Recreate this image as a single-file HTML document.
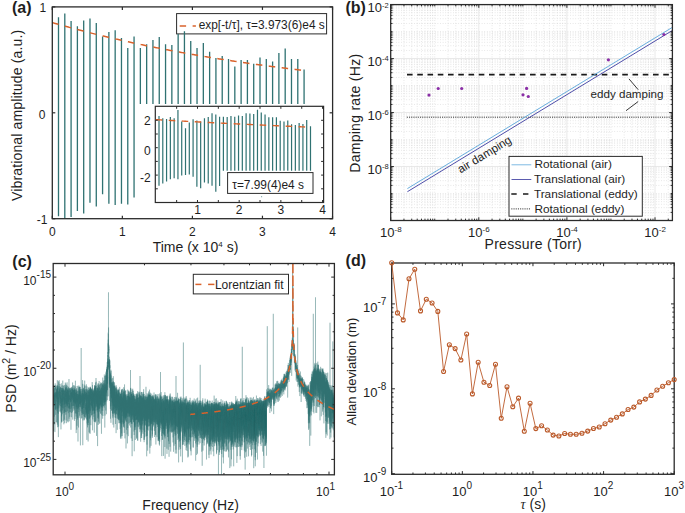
<!DOCTYPE html><html><head><meta charset="utf-8"><title>figure</title><style>html,body{margin:0;padding:0;background:#fff;width:685px;height:513px;overflow:hidden}svg{display:block}text{font-family:"Liberation Sans",sans-serif;fill:#1e1e1e}</style></head><body>
<svg width="685" height="513" viewBox="0 0 685 513">
<rect width="685" height="513" fill="#fff"/>
<rect x="176.6" y="13.6" width="150" height="20.3" fill="#fff" stroke="#2b2b2b" stroke-width="1"/>
<line x1="179.7" y1="26" x2="186.1" y2="26" stroke="#d9622b" stroke-width="1.5"/>
<line x1="192.6" y1="26" x2="195.9" y2="26" stroke="#d9622b" stroke-width="1.5"/>
<text x="198.7" y="29.4" font-size="11.9" text-anchor="start">exp[-t/τ], τ=3.973(6)e4 s</text>
<path d="M58.5 17.3V216.2M64.8 13.6V218.3M71.09 20.9V217.1M77.39 26.2V211M83.69 20.6V213.4M89.98 18.5V202.7M96.28 23V206.5M102.58 36.6V194.2M108.88 32.1V203.8M115.17 30.2V204.9M121.47 38.1V203.8M127.77 47.9V204.6M134.06 36.6V197.4M140.36 47.9V104M146.66 44.2V104M152.95 39.9V104M159.25 37.1V104M165.55 44.2V104M171.85 45V104M178.14 34V104M184.44 31.2V104M190.74 41V104M197.03 47.9V104M203.33 43V104M209.63 51.7V104M215.92 58.1V104M222.22 55.9V104M228.52 59.1V104M234.82 66.6V104M241.11 60V104M247.41 60.1V104M253.71 63.8V104M260 57.4V104M266.3 59V104M272.6 61.6V104M278.89 53V104M285.19 48.4V104M291.49 59V104M297.79 59V104M304.08 69.4V104" stroke="#2f7272" stroke-width="1.3" fill="none"/>
<polyline points="52.3,22.59 53.3,22.88 54.3,23.16 55.3,23.45 56.3,23.74 57.3,24.02 58.3,24.3 59.3,24.59 60.3,24.87 61.3,25.15 62.3,25.43 63.3,25.71 64.3,25.98 65.3,26.26 66.3,26.54 67.3,26.81 68.3,27.08 69.3,27.36 70.3,27.63 71.3,27.9 72.3,28.17 73.3,28.44 74.3,28.71 75.3,28.97 76.3,29.24 77.3,29.5 78.3,29.77 79.3,30.03 80.3,30.29 81.3,30.55 82.3,30.81 83.3,31.07 84.3,31.33 85.3,31.59 86.3,31.84 87.3,32.1 88.3,32.35 89.3,32.61 90.3,32.86 91.3,33.11 92.3,33.36 93.3,33.61 94.3,33.86 95.3,34.11 96.3,34.36 97.3,34.6 98.3,34.85 99.3,35.09 100.3,35.34 101.3,35.58 102.3,35.82 103.3,36.06 104.3,36.31 105.3,36.54 106.3,36.78 107.3,37.02 108.3,37.26 109.3,37.49 110.3,37.73 111.3,37.96 112.3,38.2 113.3,38.43 114.3,38.66 115.3,38.89 116.3,39.12 117.3,39.35 118.3,39.58 119.3,39.81 120.3,40.04 121.3,40.26 122.3,40.49 123.3,40.71 124.3,40.93 125.3,41.16 126.3,41.38 127.3,41.6 128.3,41.82 129.3,42.04 130.3,42.26 131.3,42.48 132.3,42.7 133.3,42.91 134.3,43.13 135.3,43.34 136.3,43.56 137.3,43.77 138.3,43.98 139.3,44.19 140.3,44.41 141.3,44.62 142.3,44.83 143.3,45.03 144.3,45.24 145.3,45.45 146.3,45.66 147.3,45.86 148.3,46.07 149.3,46.27 150.3,46.48 151.3,46.68 152.3,46.88 153.3,47.08 154.3,47.28 155.3,47.48 156.3,47.68 157.3,47.88 158.3,48.08 159.3,48.28 160.3,48.47 161.3,48.67 162.3,48.86 163.3,49.06 164.3,49.25 165.3,49.45 166.3,49.64 167.3,49.83 168.3,50.02 169.3,50.21 170.3,50.4 171.3,50.59 172.3,50.78 173.3,50.96 174.3,51.15 175.3,51.34 176.3,51.52 177.3,51.71 178.3,51.89 179.3,52.08 180.3,52.26 181.3,52.44 182.3,52.62 183.3,52.8 184.3,52.98 185.3,53.16 186.3,53.34 187.3,53.52 188.3,53.7 189.3,53.87 190.3,54.05 191.3,54.23 192.3,54.4 193.3,54.58 194.3,54.75 195.3,54.92 196.3,55.1 197.3,55.27 198.3,55.44 199.3,55.61 200.3,55.78 201.3,55.95 202.3,56.12 203.3,56.29 204.3,56.46 205.3,56.62 206.3,56.79 207.3,56.95 208.3,57.12 209.3,57.28 210.3,57.45 211.3,57.61 212.3,57.78 213.3,57.94 214.3,58.1 215.3,58.26 216.3,58.42 217.3,58.58 218.3,58.74 219.3,58.9 220.3,59.06 221.3,59.22 222.3,59.37 223.3,59.53 224.3,59.69 225.3,59.84 226.3,60 227.3,60.15 228.3,60.3 229.3,60.46 230.3,60.61 231.3,60.76 232.3,60.91 233.3,61.07 234.3,61.22 235.3,61.37 236.3,61.52 237.3,61.66 238.3,61.81 239.3,61.96 240.3,62.11 241.3,62.26 242.3,62.4 243.3,62.55 244.3,62.69 245.3,62.84 246.3,62.98 247.3,63.13 248.3,63.27 249.3,63.41 250.3,63.55 251.3,63.7 252.3,63.84 253.3,63.98 254.3,64.12 255.3,64.26 256.3,64.4 257.3,64.53 258.3,64.67 259.3,64.81 260.3,64.95 261.3,65.08 262.3,65.22 263.3,65.36 264.3,65.49 265.3,65.63 266.3,65.76 267.3,65.89 268.3,66.03 269.3,66.16 270.3,66.29 271.3,66.42 272.3,66.55 273.3,66.69 274.3,66.82 275.3,66.95 276.3,67.08 277.3,67.2 278.3,67.33 279.3,67.46 280.3,67.59 281.3,67.72 282.3,67.84 283.3,67.97 284.3,68.09 285.3,68.22 286.3,68.34 287.3,68.47 288.3,68.59 289.3,68.72 290.3,68.84 291.3,68.96 292.3,69.08 293.3,69.21 294.3,69.33 295.3,69.45 296.3,69.57 297.3,69.69 298.3,69.81 299.3,69.93 300.3,70.05 301.3,70.17 302.3,70.28 303.3,70.4 304.3,70.52" fill="none" stroke="#d9622b" stroke-width="1.5" stroke-dasharray="6.5 6.5"/>
<rect x="155.3" y="106.3" width="168.3" height="96.2" fill="#fff" stroke="#2b2b2b" stroke-width="1.2"/>
<path d="M159 116.1V185.7M162.79 118.2V183.6M166.57 118.9V181.4M170.36 117.1V179.3M174.15 118.2V178.2M177.94 110.1V179.3M181.72 121.4V175.4M185.51 128.3V175M189.3 122.5V174.6M193.09 119.3V176.7M196.88 120.4V186.8M200.66 121.4V188.3M204.45 118.2V182.5M208.24 117.1V183.6M212.03 113.3V185.7M215.81 114.4V191.7M219.6 116.7V186.1M223.39 116.7V170.7M227.18 117.1V170.7M230.96 116.1V170.7M234.75 116.7V170.7M238.54 115.5V170.7M242.32 116.1V170.7M246.11 113.3V170.7M249.9 113.5V170.7M253.69 114V170.7M257.48 109.7V170.7M261.26 112.4V170.7M265.05 114.4V170.7M268.84 117.2V170.7M272.62 117.2V170.7M276.41 117.2V170.7M280.2 120.8V170.7M283.99 121.5V170.7M287.77 120.4V170.7M291.56 124.2V170.7M295.35 125.1V170.7M299.14 123V170.7M302.93 124V170.7M306.71 120V170.7M310.5 126.2V170.7" stroke="#2f7272" stroke-width="1.2" fill="none"/>
<polyline points="155.8,119.61 156.8,119.67 157.8,119.73 158.8,119.79 159.8,119.84 160.8,119.9 161.8,119.96 162.8,120.01 163.8,120.07 164.8,120.12 165.8,120.18 166.8,120.24 167.8,120.29 168.8,120.35 169.8,120.4 170.8,120.46 171.8,120.51 172.8,120.57 173.8,120.62 174.8,120.68 175.8,120.73 176.8,120.79 177.8,120.84 178.8,120.9 179.8,120.95 180.8,121.01 181.8,121.06 182.8,121.11 183.8,121.17 184.8,121.22 185.8,121.28 186.8,121.33 187.8,121.38 188.8,121.44 189.8,121.49 190.8,121.54 191.8,121.6 192.8,121.65 193.8,121.7 194.8,121.76 195.8,121.81 196.8,121.86 197.8,121.91 198.8,121.97 199.8,122.02 200.8,122.07 201.8,122.12 202.8,122.17 203.8,122.23 204.8,122.28 205.8,122.33 206.8,122.38 207.8,122.43 208.8,122.48 209.8,122.53 210.8,122.59 211.8,122.64 212.8,122.69 213.8,122.74 214.8,122.79 215.8,122.84 216.8,122.89 217.8,122.94 218.8,122.99 219.8,123.04 220.8,123.09 221.8,123.14 222.8,123.19 223.8,123.24 224.8,123.29 225.8,123.34 226.8,123.39 227.8,123.44 228.8,123.49 229.8,123.54 230.8,123.59 231.8,123.64 232.8,123.68 233.8,123.73 234.8,123.78 235.8,123.83 236.8,123.88 237.8,123.93 238.8,123.98 239.8,124.02 240.8,124.07 241.8,124.12 242.8,124.17 243.8,124.22 244.8,124.26 245.8,124.31 246.8,124.36 247.8,124.41 248.8,124.45 249.8,124.5 250.8,124.55 251.8,124.59 252.8,124.64 253.8,124.69 254.8,124.73 255.8,124.78 256.8,124.83 257.8,124.87 258.8,124.92 259.8,124.97 260.8,125.01 261.8,125.06 262.8,125.1 263.8,125.15 264.8,125.2 265.8,125.24 266.8,125.29 267.8,125.33 268.8,125.38 269.8,125.42 270.8,125.47 271.8,125.51 272.8,125.56 273.8,125.6 274.8,125.65 275.8,125.69 276.8,125.74 277.8,125.78 278.8,125.83 279.8,125.87 280.8,125.92 281.8,125.96 282.8,126.01 283.8,126.05 284.8,126.09 285.8,126.14 286.8,126.18 287.8,126.22 288.8,126.27 289.8,126.31 290.8,126.36 291.8,126.4 292.8,126.44 293.8,126.48 294.8,126.53 295.8,126.57 296.8,126.61 297.8,126.66 298.8,126.7 299.8,126.74 300.8,126.78 301.8,126.83 302.8,126.87 303.8,126.91 304.8,126.95 305.8,127 306.8,127.04 307.8,127.08 308.8,127.12 309.8,127.16 310.8,127.21" fill="none" stroke="#d9622b" stroke-width="1.4" stroke-dasharray="6.5 6.5"/>
<rect x="227.6" y="172.6" width="85.4" height="20.8" fill="#fff" stroke="#2b2b2b" stroke-width="1"/>
<text x="232.2" y="189.3" font-size="11.9" text-anchor="start">τ=7.99(4)e4 s</text>
<circle cx="261.6" cy="196.7" r="0.6" fill="#2f7272" opacity="0.6"/>
<line x1="176.65" y1="202.5" x2="176.65" y2="200" stroke="#2b2b2b" stroke-width="1"/>
<line x1="176.65" y1="106.3" x2="176.65" y2="108.8" stroke="#2b2b2b" stroke-width="1"/>
<line x1="197.49" y1="202.5" x2="197.49" y2="200" stroke="#2b2b2b" stroke-width="1"/>
<line x1="197.49" y1="106.3" x2="197.49" y2="108.8" stroke="#2b2b2b" stroke-width="1"/>
<line x1="218.34" y1="202.5" x2="218.34" y2="200" stroke="#2b2b2b" stroke-width="1"/>
<line x1="218.34" y1="106.3" x2="218.34" y2="108.8" stroke="#2b2b2b" stroke-width="1"/>
<line x1="239.18" y1="202.5" x2="239.18" y2="200" stroke="#2b2b2b" stroke-width="1"/>
<line x1="239.18" y1="106.3" x2="239.18" y2="108.8" stroke="#2b2b2b" stroke-width="1"/>
<line x1="260.02" y1="202.5" x2="260.02" y2="200" stroke="#2b2b2b" stroke-width="1"/>
<line x1="260.02" y1="106.3" x2="260.02" y2="108.8" stroke="#2b2b2b" stroke-width="1"/>
<line x1="280.87" y1="202.5" x2="280.87" y2="200" stroke="#2b2b2b" stroke-width="1"/>
<line x1="280.87" y1="106.3" x2="280.87" y2="108.8" stroke="#2b2b2b" stroke-width="1"/>
<line x1="301.72" y1="202.5" x2="301.72" y2="200" stroke="#2b2b2b" stroke-width="1"/>
<line x1="301.72" y1="106.3" x2="301.72" y2="108.8" stroke="#2b2b2b" stroke-width="1"/>
<line x1="322.56" y1="202.5" x2="322.56" y2="200" stroke="#2b2b2b" stroke-width="1"/>
<line x1="322.56" y1="106.3" x2="322.56" y2="108.8" stroke="#2b2b2b" stroke-width="1"/>
<line x1="155.3" y1="188.8" x2="157.8" y2="188.8" stroke="#2b2b2b" stroke-width="1"/>
<line x1="323.6" y1="188.8" x2="321.1" y2="188.8" stroke="#2b2b2b" stroke-width="1"/>
<line x1="155.3" y1="175.1" x2="157.8" y2="175.1" stroke="#2b2b2b" stroke-width="1"/>
<line x1="323.6" y1="175.1" x2="321.1" y2="175.1" stroke="#2b2b2b" stroke-width="1"/>
<line x1="155.3" y1="161.4" x2="157.8" y2="161.4" stroke="#2b2b2b" stroke-width="1"/>
<line x1="323.6" y1="161.4" x2="321.1" y2="161.4" stroke="#2b2b2b" stroke-width="1"/>
<line x1="155.3" y1="147.7" x2="157.8" y2="147.7" stroke="#2b2b2b" stroke-width="1"/>
<line x1="323.6" y1="147.7" x2="321.1" y2="147.7" stroke="#2b2b2b" stroke-width="1"/>
<line x1="155.3" y1="134" x2="157.8" y2="134" stroke="#2b2b2b" stroke-width="1"/>
<line x1="323.6" y1="134" x2="321.1" y2="134" stroke="#2b2b2b" stroke-width="1"/>
<line x1="155.3" y1="120.3" x2="157.8" y2="120.3" stroke="#2b2b2b" stroke-width="1"/>
<line x1="323.6" y1="120.3" x2="321.1" y2="120.3" stroke="#2b2b2b" stroke-width="1"/>
<text x="197.49" y="214.3" font-size="12" text-anchor="middle">1</text>
<text x="239.18" y="214.3" font-size="12" text-anchor="middle">2</text>
<text x="280.87" y="214.3" font-size="12" text-anchor="middle">3</text>
<text x="322.56" y="214.3" font-size="12" text-anchor="middle">4</text>
<text x="150.6" y="124.9" font-size="12" text-anchor="end">2</text>
<text x="150.6" y="154.6" font-size="12" text-anchor="end">0</text>
<text x="150.6" y="181.6" font-size="12" text-anchor="end">-2</text>
<rect x="52.3" y="6.9" width="280.3" height="211.8" fill="none" stroke="#2b2b2b" stroke-width="1.3"/>
<line x1="52.3" y1="218.7" x2="52.3" y2="215.7" stroke="#2b2b2b" stroke-width="1.2"/>
<line x1="52.3" y1="6.9" x2="52.3" y2="9.9" stroke="#2b2b2b" stroke-width="1.2"/>
<text x="52.3" y="236.2" font-size="12" text-anchor="middle">0</text>
<line x1="122.35" y1="218.7" x2="122.35" y2="215.7" stroke="#2b2b2b" stroke-width="1.2"/>
<line x1="122.35" y1="6.9" x2="122.35" y2="9.9" stroke="#2b2b2b" stroke-width="1.2"/>
<text x="122.35" y="236.2" font-size="12" text-anchor="middle">1</text>
<line x1="192.4" y1="218.7" x2="192.4" y2="215.7" stroke="#2b2b2b" stroke-width="1.2"/>
<line x1="192.4" y1="6.9" x2="192.4" y2="9.9" stroke="#2b2b2b" stroke-width="1.2"/>
<text x="192.4" y="236.2" font-size="12" text-anchor="middle">2</text>
<line x1="262.45" y1="218.7" x2="262.45" y2="215.7" stroke="#2b2b2b" stroke-width="1.2"/>
<line x1="262.45" y1="6.9" x2="262.45" y2="9.9" stroke="#2b2b2b" stroke-width="1.2"/>
<text x="262.45" y="236.2" font-size="12" text-anchor="middle">3</text>
<line x1="332.5" y1="218.7" x2="332.5" y2="215.7" stroke="#2b2b2b" stroke-width="1.2"/>
<line x1="332.5" y1="6.9" x2="332.5" y2="9.9" stroke="#2b2b2b" stroke-width="1.2"/>
<text x="332.5" y="236.2" font-size="12" text-anchor="middle">4</text>
<line x1="52.3" y1="6.9" x2="55.3" y2="6.9" stroke="#2b2b2b" stroke-width="1.2"/>
<line x1="332.6" y1="6.9" x2="329.6" y2="6.9" stroke="#2b2b2b" stroke-width="1.2"/>
<line x1="52.3" y1="112.8" x2="55.3" y2="112.8" stroke="#2b2b2b" stroke-width="1.2"/>
<line x1="332.6" y1="112.8" x2="329.6" y2="112.8" stroke="#2b2b2b" stroke-width="1.2"/>
<line x1="52.3" y1="218.7" x2="55.3" y2="218.7" stroke="#2b2b2b" stroke-width="1.2"/>
<line x1="332.6" y1="218.7" x2="329.6" y2="218.7" stroke="#2b2b2b" stroke-width="1.2"/>
<text x="46.2" y="11.8" font-size="12" text-anchor="end">1</text>
<text x="45.4" y="118.6" font-size="12" text-anchor="end">0</text>
<text x="47.4" y="223.8" font-size="12" text-anchor="end">-1</text>
<text x="195.5" y="251.7" font-size="14" text-anchor="middle">Time (x 10<tspan font-size="8" dy="-4.6">4</tspan><tspan dy="4.6"> s)</tspan></text>
<text transform="translate(21.9,115.4) rotate(-90)" font-size="14" text-anchor="middle" letter-spacing="0.15">Vibrational amplitude (a.u.)</text>
<text x="12" y="12.5" font-size="16" text-anchor="start" font-weight="bold">(a)</text>
<path d="M403.96 4.6V220.5M411.72 4.6V220.5M417.22 4.6V220.5M421.49 4.6V220.5M424.98 4.6V220.5M427.93 4.6V220.5M430.48 4.6V220.5M432.73 4.6V220.5M434.75 4.6V220.5M448.01 4.6V220.5M455.77 4.6V220.5M461.27 4.6V220.5M465.54 4.6V220.5M469.03 4.6V220.5M471.98 4.6V220.5M474.53 4.6V220.5M476.78 4.6V220.5M492.06 4.6V220.5M499.82 4.6V220.5M505.32 4.6V220.5M509.59 4.6V220.5M513.08 4.6V220.5M516.03 4.6V220.5M518.58 4.6V220.5M520.83 4.6V220.5M522.85 4.6V220.5M536.11 4.6V220.5M543.87 4.6V220.5M549.37 4.6V220.5M553.64 4.6V220.5M557.13 4.6V220.5M560.08 4.6V220.5M562.63 4.6V220.5M564.88 4.6V220.5M580.16 4.6V220.5M587.92 4.6V220.5M593.42 4.6V220.5M597.69 4.6V220.5M601.18 4.6V220.5M604.13 4.6V220.5M606.68 4.6V220.5M608.93 4.6V220.5M610.95 4.6V220.5M624.21 4.6V220.5M631.97 4.6V220.5M637.47 4.6V220.5M641.74 4.6V220.5M645.23 4.6V220.5M648.18 4.6V220.5M650.73 4.6V220.5M652.98 4.6V220.5M668.26 4.6V220.5M390.7 212.4H672.4M390.7 207.64H672.4M390.7 204.27H672.4M390.7 201.65H672.4M390.7 199.52H672.4M390.7 197.71H672.4M390.7 196.15H672.4M390.7 194.76H672.4M390.7 193.53H672.4M390.7 185.41H672.4M390.7 180.65H672.4M390.7 177.28H672.4M390.7 174.66H672.4M390.7 172.53H672.4M390.7 170.72H672.4M390.7 169.16H672.4M390.7 167.77H672.4M390.7 158.42H672.4M390.7 153.66H672.4M390.7 150.29H672.4M390.7 147.67H672.4M390.7 145.54H672.4M390.7 143.73H672.4M390.7 142.17H672.4M390.7 140.78H672.4M390.7 139.55H672.4M390.7 131.43H672.4M390.7 126.67H672.4M390.7 123.3H672.4M390.7 120.68H672.4M390.7 118.55H672.4M390.7 116.74H672.4M390.7 115.18H672.4M390.7 113.79H672.4M390.7 104.44H672.4M390.7 99.68H672.4M390.7 96.31H672.4M390.7 93.69H672.4M390.7 91.56H672.4M390.7 89.75H672.4M390.7 88.19H672.4M390.7 86.8H672.4M390.7 85.57H672.4M390.7 77.45H672.4M390.7 72.69H672.4M390.7 69.32H672.4M390.7 66.7H672.4M390.7 64.57H672.4M390.7 62.76H672.4M390.7 61.2H672.4M390.7 59.81H672.4M390.7 50.46H672.4M390.7 45.7H672.4M390.7 42.33H672.4M390.7 39.71H672.4M390.7 37.58H672.4M390.7 35.77H672.4M390.7 34.21H672.4M390.7 32.82H672.4M390.7 31.59H672.4M390.7 23.47H672.4M390.7 18.71H672.4M390.7 15.34H672.4M390.7 12.72H672.4M390.7 10.59H672.4M390.7 8.78H672.4M390.7 7.22H672.4M390.7 5.83H672.4" stroke="#c4c4c4" stroke-width="0.5" stroke-dasharray="0.8 1.8" fill="none"/>
<path d="M478.8 4.6V220.5M566.9 4.6V220.5M655 4.6V220.5M390.7 166.54H672.4M390.7 112.56H672.4M390.7 58.58H672.4" stroke="#e2e2e2" stroke-width="0.8" fill="none"/>
<line x1="407" y1="74.6" x2="672.4" y2="74.6" stroke="#1a1a1a" stroke-width="1.6" stroke-dasharray="5.6 4.65"/>
<line x1="406.8" y1="117.2" x2="672.4" y2="117.2" stroke="#333" stroke-width="1.0" stroke-dasharray="1.1 1.1"/>
<line x1="407.4" y1="188.61" x2="672.4" y2="27.34" stroke="#62aadc" stroke-width="0.95"/>
<line x1="407.4" y1="191.71" x2="672.4" y2="30.44" stroke="#4444a4" stroke-width="0.95"/>
<circle cx="429.0" cy="95.1" r="1.6" fill="#8a2ea6"/>
<circle cx="438.2" cy="88.5" r="1.6" fill="#8a2ea6"/>
<circle cx="461.7" cy="88.5" r="1.6" fill="#8a2ea6"/>
<circle cx="523.0" cy="94.8" r="1.6" fill="#8a2ea6"/>
<circle cx="526.6" cy="88.4" r="1.6" fill="#8a2ea6"/>
<circle cx="528.3" cy="96.5" r="1.6" fill="#8a2ea6"/>
<circle cx="608.4" cy="59.8" r="1.6" fill="#8a2ea6"/>
<circle cx="663.9" cy="34.5" r="1.6" fill="#8a2ea6"/>
<text x="590.6" y="97.9" font-size="11.6" text-anchor="start">eddy damping</text>
<line x1="629" y1="78.9" x2="638.2" y2="89.7" stroke="#222" stroke-width="0.9"/>
<line x1="638.2" y1="101.5" x2="626" y2="110.7" stroke="#222" stroke-width="0.9"/>
<text transform="translate(460.6,173.6) rotate(-31.3)" font-size="11.6">air damping</text>
<rect x="509.0" y="156.4" width="133.3" height="59.8" fill="#fff" stroke="#2b2b2b" stroke-width="1"/>
<line x1="511.5" y1="164.8" x2="531.3" y2="164.8" stroke="#6fb2e0" stroke-width="0.9"/>
<line x1="511.5" y1="179.5" x2="531.3" y2="179.5" stroke="#4848a6" stroke-width="0.9"/>
<line x1="511.3" y1="194" x2="531" y2="194" stroke="#1a1a1a" stroke-width="1.6" stroke-dasharray="5.4 6.3"/>
<line x1="511.3" y1="208.9" x2="531" y2="208.9" stroke="#333" stroke-width="1.0" stroke-dasharray="1.1 1.1"/>
<text x="534.5" y="167.6" font-size="11.8" text-anchor="start">Rotational (air)</text>
<text x="533.9" y="183" font-size="11.8" text-anchor="start">Translational (air)</text>
<text x="533.9" y="198.1" font-size="11.8" text-anchor="start">Translational (eddy)</text>
<text x="534.5" y="213" font-size="11.8" text-anchor="start">Rotational (eddy)</text>
<rect x="390.7" y="4.6" width="281.7" height="215.9" fill="none" stroke="#2b2b2b" stroke-width="1.3"/>
<path d="M390.7 220.5v-3.2M390.7 4.6v3.2M403.96 220.5v-1.8M403.96 4.6v1.8M411.72 220.5v-1.8M411.72 4.6v1.8M417.22 220.5v-1.8M417.22 4.6v1.8M421.49 220.5v-1.8M421.49 4.6v1.8M424.98 220.5v-1.8M424.98 4.6v1.8M427.93 220.5v-1.8M427.93 4.6v1.8M430.48 220.5v-1.8M430.48 4.6v1.8M432.73 220.5v-1.8M432.73 4.6v1.8M434.75 220.5v-1.8M434.75 4.6v1.8M448.01 220.5v-1.8M448.01 4.6v1.8M455.77 220.5v-1.8M455.77 4.6v1.8M461.27 220.5v-1.8M461.27 4.6v1.8M465.54 220.5v-1.8M465.54 4.6v1.8M469.03 220.5v-1.8M469.03 4.6v1.8M471.98 220.5v-1.8M471.98 4.6v1.8M474.53 220.5v-1.8M474.53 4.6v1.8M476.78 220.5v-1.8M476.78 4.6v1.8M478.8 220.5v-3.2M478.8 4.6v3.2M492.06 220.5v-1.8M492.06 4.6v1.8M499.82 220.5v-1.8M499.82 4.6v1.8M505.32 220.5v-1.8M505.32 4.6v1.8M509.59 220.5v-1.8M509.59 4.6v1.8M513.08 220.5v-1.8M513.08 4.6v1.8M516.03 220.5v-1.8M516.03 4.6v1.8M518.58 220.5v-1.8M518.58 4.6v1.8M520.83 220.5v-1.8M520.83 4.6v1.8M522.85 220.5v-1.8M522.85 4.6v1.8M536.11 220.5v-1.8M536.11 4.6v1.8M543.87 220.5v-1.8M543.87 4.6v1.8M549.37 220.5v-1.8M549.37 4.6v1.8M553.64 220.5v-1.8M553.64 4.6v1.8M557.13 220.5v-1.8M557.13 4.6v1.8M560.08 220.5v-1.8M560.08 4.6v1.8M562.63 220.5v-1.8M562.63 4.6v1.8M564.88 220.5v-1.8M564.88 4.6v1.8M566.9 220.5v-3.2M566.9 4.6v3.2M580.16 220.5v-1.8M580.16 4.6v1.8M587.92 220.5v-1.8M587.92 4.6v1.8M593.42 220.5v-1.8M593.42 4.6v1.8M597.69 220.5v-1.8M597.69 4.6v1.8M601.18 220.5v-1.8M601.18 4.6v1.8M604.13 220.5v-1.8M604.13 4.6v1.8M606.68 220.5v-1.8M606.68 4.6v1.8M608.93 220.5v-1.8M608.93 4.6v1.8M610.95 220.5v-1.8M610.95 4.6v1.8M624.21 220.5v-1.8M624.21 4.6v1.8M631.97 220.5v-1.8M631.97 4.6v1.8M637.47 220.5v-1.8M637.47 4.6v1.8M641.74 220.5v-1.8M641.74 4.6v1.8M645.23 220.5v-1.8M645.23 4.6v1.8M648.18 220.5v-1.8M648.18 4.6v1.8M650.73 220.5v-1.8M650.73 4.6v1.8M652.98 220.5v-1.8M652.98 4.6v1.8M655 220.5v-3.2M655 4.6v3.2M668.26 220.5v-1.8M668.26 4.6v1.8M390.7 220.52h3.2M672.4 220.52h-3.2M390.7 212.4h1.8M672.4 212.4h-1.8M390.7 207.64h1.8M672.4 207.64h-1.8M390.7 204.27h1.8M672.4 204.27h-1.8M390.7 201.65h1.8M672.4 201.65h-1.8M390.7 199.52h1.8M672.4 199.52h-1.8M390.7 197.71h1.8M672.4 197.71h-1.8M390.7 196.15h1.8M672.4 196.15h-1.8M390.7 194.76h1.8M672.4 194.76h-1.8M390.7 193.53h1.8M672.4 193.53h-1.8M390.7 185.41h1.8M672.4 185.41h-1.8M390.7 180.65h1.8M672.4 180.65h-1.8M390.7 177.28h1.8M672.4 177.28h-1.8M390.7 174.66h1.8M672.4 174.66h-1.8M390.7 172.53h1.8M672.4 172.53h-1.8M390.7 170.72h1.8M672.4 170.72h-1.8M390.7 169.16h1.8M672.4 169.16h-1.8M390.7 167.77h1.8M672.4 167.77h-1.8M390.7 166.54h3.2M672.4 166.54h-3.2M390.7 158.42h1.8M672.4 158.42h-1.8M390.7 153.66h1.8M672.4 153.66h-1.8M390.7 150.29h1.8M672.4 150.29h-1.8M390.7 147.67h1.8M672.4 147.67h-1.8M390.7 145.54h1.8M672.4 145.54h-1.8M390.7 143.73h1.8M672.4 143.73h-1.8M390.7 142.17h1.8M672.4 142.17h-1.8M390.7 140.78h1.8M672.4 140.78h-1.8M390.7 139.55h1.8M672.4 139.55h-1.8M390.7 131.43h1.8M672.4 131.43h-1.8M390.7 126.67h1.8M672.4 126.67h-1.8M390.7 123.3h1.8M672.4 123.3h-1.8M390.7 120.68h1.8M672.4 120.68h-1.8M390.7 118.55h1.8M672.4 118.55h-1.8M390.7 116.74h1.8M672.4 116.74h-1.8M390.7 115.18h1.8M672.4 115.18h-1.8M390.7 113.79h1.8M672.4 113.79h-1.8M390.7 112.56h3.2M672.4 112.56h-3.2M390.7 104.44h1.8M672.4 104.44h-1.8M390.7 99.68h1.8M672.4 99.68h-1.8M390.7 96.31h1.8M672.4 96.31h-1.8M390.7 93.69h1.8M672.4 93.69h-1.8M390.7 91.56h1.8M672.4 91.56h-1.8M390.7 89.75h1.8M672.4 89.75h-1.8M390.7 88.19h1.8M672.4 88.19h-1.8M390.7 86.8h1.8M672.4 86.8h-1.8M390.7 85.57h1.8M672.4 85.57h-1.8M390.7 77.45h1.8M672.4 77.45h-1.8M390.7 72.69h1.8M672.4 72.69h-1.8M390.7 69.32h1.8M672.4 69.32h-1.8M390.7 66.7h1.8M672.4 66.7h-1.8M390.7 64.57h1.8M672.4 64.57h-1.8M390.7 62.76h1.8M672.4 62.76h-1.8M390.7 61.2h1.8M672.4 61.2h-1.8M390.7 59.81h1.8M672.4 59.81h-1.8M390.7 58.58h3.2M672.4 58.58h-3.2M390.7 50.46h1.8M672.4 50.46h-1.8M390.7 45.7h1.8M672.4 45.7h-1.8M390.7 42.33h1.8M672.4 42.33h-1.8M390.7 39.71h1.8M672.4 39.71h-1.8M390.7 37.58h1.8M672.4 37.58h-1.8M390.7 35.77h1.8M672.4 35.77h-1.8M390.7 34.21h1.8M672.4 34.21h-1.8M390.7 32.82h1.8M672.4 32.82h-1.8M390.7 31.59h1.8M672.4 31.59h-1.8M390.7 23.47h1.8M672.4 23.47h-1.8M390.7 18.71h1.8M672.4 18.71h-1.8M390.7 15.34h1.8M672.4 15.34h-1.8M390.7 12.72h1.8M672.4 12.72h-1.8M390.7 10.59h1.8M672.4 10.59h-1.8M390.7 8.78h1.8M672.4 8.78h-1.8M390.7 7.22h1.8M672.4 7.22h-1.8M390.7 5.83h1.8M672.4 5.83h-1.8M390.7 4.6h3.2M672.4 4.6h-3.2" stroke="#2b2b2b" stroke-width="1" fill="none"/>
<text x="390.8" y="236.6" font-size="13" text-anchor="middle">10<tspan font-size="8" dy="-4.3">-8</tspan></text>
<text x="478.9" y="236.6" font-size="13" text-anchor="middle">10<tspan font-size="8" dy="-4.3">-6</tspan></text>
<text x="567" y="236.6" font-size="13" text-anchor="middle">10<tspan font-size="8" dy="-4.3">-4</tspan></text>
<text x="655.1" y="236.6" font-size="13" text-anchor="middle">10<tspan font-size="8" dy="-4.3">-2</tspan></text>
<text x="388.6" y="12.3" font-size="13" text-anchor="end">10<tspan font-size="7.5" dy="-4.6">-2</tspan></text>
<text x="388.6" y="65.6" font-size="13" text-anchor="end">10<tspan font-size="7.5" dy="-4.6">-4</tspan></text>
<text x="388.6" y="119.6" font-size="13" text-anchor="end">10<tspan font-size="7.5" dy="-4.6">-6</tspan></text>
<text x="388.6" y="173.6" font-size="13" text-anchor="end">10<tspan font-size="7.5" dy="-4.6">-8</tspan></text>
<text x="533.3" y="249.4" font-size="14" text-anchor="middle" letter-spacing="0.28">Pressure (Torr)</text>
<text transform="translate(360.2,113.2) rotate(-90)" font-size="14" text-anchor="middle" letter-spacing="0.28">Damping rate (Hz)</text>
<text x="345.4" y="12.5" font-size="16" text-anchor="start" font-weight="bold">(b)</text>
<svg x="0" y="0" width="685" height="513" overflow="hidden"><clipPath id="cc"><rect x="53.2" y="263.5" width="281.2" height="211.3"/></clipPath>
<g clip-path="url(#cc)"><g fill="none" stroke="#2f7272" stroke-width="0.45" stroke-opacity="0.65" stroke-linejoin="bevel">
<polyline points="53.35,397.1 53.39,394.1 53.44,398.8 53.48,395.2 53.53,406.8 53.58,384.7 53.62,431.0"/>
<polyline points="53.62,431.0 53.67,386.2 53.71,398.7 53.76,403.9 53.81,399.2 53.85,403.6 53.90,395.2"/>
<polyline points="53.90,395.2 53.94,393.8 53.99,389.3 54.04,406.3 54.08,385.3 54.13,396.8 54.17,402.7"/>
<polyline points="54.17,402.7 54.22,395.3 54.27,414.8 54.31,416.6 54.36,392.7 54.40,396.4 54.45,388.1"/>
<polyline points="54.45,388.1 54.49,400.2 54.54,399.5 54.59,393.0 54.63,399.4 54.68,424.4 54.72,404.0"/>
<polyline points="54.72,404.0 54.77,394.1 54.81,397.8 54.86,391.6 54.90,432.1 54.95,395.0 55.00,405.1"/>
<polyline points="55.00,405.1 55.04,402.3 55.09,385.2 55.13,391.3 55.18,383.4 55.22,389.6 55.27,387.5"/>
<polyline points="55.27,387.5 55.31,409.2 55.36,403.3 55.40,405.2 55.45,392.7 55.49,392.2 55.54,410.1"/>
<polyline points="55.54,410.1 55.58,401.3 55.63,393.1 55.68,414.8 55.72,412.0 55.77,394.6 55.81,388.5"/>
<polyline points="55.81,388.5 55.86,385.6 55.90,396.2 55.95,391.3 55.99,395.5 56.04,393.9 56.08,408.7"/>
<polyline points="56.08,408.7 56.13,386.1 56.17,394.3 56.22,394.4 56.26,422.1 56.31,392.6 56.35,392.8"/>
<polyline points="56.35,392.8 56.40,392.8 56.44,397.7 56.49,390.8 56.53,389.6 56.58,396.6 56.62,401.5"/>
<polyline points="56.62,401.5 56.67,389.0 56.71,396.4 56.75,395.5 56.80,410.6 56.84,404.4 56.89,387.6"/>
<polyline points="56.89,387.6 56.93,395.8 56.98,422.6 57.02,391.1 57.07,399.0 57.11,384.8 57.16,394.7"/>
<polyline points="57.16,394.7 57.20,393.6 57.25,400.0 57.29,424.7 57.34,380.2 57.38,399.5 57.42,387.8"/>
<polyline points="57.42,387.8 57.47,408.7 57.51,385.6 57.56,427.2 57.60,394.9 57.65,412.6 57.69,407.0"/>
<polyline points="57.69,407.0 57.74,390.1 57.78,386.0 57.82,396.9 57.87,390.9 57.91,393.2 57.96,399.7"/>
<polyline points="57.96,399.7 58.00,387.5 58.05,389.1 58.09,402.5 58.13,396.5 58.18,392.9 58.22,392.9"/>
<polyline points="58.22,392.9 58.27,413.8 58.31,380.9 58.36,437.1 58.40,391.4 58.44,392.1 58.49,404.1"/>
<polyline points="58.49,404.1 58.53,397.2 58.58,402.0 58.62,426.7 58.66,395.9 58.71,392.7 58.75,393.1"/>
<polyline points="58.75,393.1 58.80,382.3 58.84,408.3 58.88,407.3 58.93,398.4 58.97,406.4 59.02,398.9"/>
<polyline points="59.02,398.9 59.06,386.1 59.10,391.9 59.15,398.2 59.19,396.5 59.24,380.2 59.28,399.0"/>
<polyline points="59.28,399.0 59.32,393.2 59.37,389.2 59.41,392.4 59.45,392.6 59.50,390.2 59.54,405.2"/>
<polyline points="59.54,405.2 59.59,398.1 59.63,391.7 59.67,397.2 59.72,387.9 59.76,411.6 59.80,398.9"/>
<polyline points="59.80,398.9 59.85,402.6 59.89,393.6 59.93,400.0 59.98,384.0 60.02,395.0 60.07,386.4"/>
<polyline points="60.07,386.4 60.11,390.0 60.15,393.1 60.20,392.7 60.24,398.4 60.28,403.2 60.33,404.8"/>
<polyline points="60.33,404.8 60.37,411.4 60.41,387.6 60.46,397.9 60.50,403.7 60.54,392.0 60.59,399.0"/>
<polyline points="60.59,399.0 60.63,394.9 60.67,387.1 60.72,406.0 60.76,395.3 60.80,412.6 60.85,401.3"/>
<polyline points="60.85,401.3 60.89,397.9 60.93,404.5 60.98,429.4 61.02,402.7 61.06,389.8 61.10,392.2"/>
<polyline points="61.10,392.2 61.15,398.9 61.19,406.6 61.23,388.0 61.28,391.8 61.32,383.3 61.36,400.2"/>
<polyline points="61.36,400.2 61.41,388.0 61.45,417.3 61.49,419.1 61.54,422.6 61.58,417.2 61.62,400.5"/>
<polyline points="61.62,400.5 61.66,416.2 61.71,390.5 61.75,421.2 61.79,399.5 61.84,406.3 61.88,395.3"/>
<polyline points="61.88,395.3 61.92,422.1 61.96,398.6 62.01,385.5 62.05,392.9 62.09,401.7 62.13,390.1"/>
<polyline points="62.13,390.1 62.18,396.5 62.22,407.7 62.26,389.4 62.31,414.3 62.35,389.9 62.39,388.2"/>
<polyline points="62.39,388.2 62.43,393.7 62.48,401.9 62.52,388.1 62.56,410.5 62.60,399.9 62.65,391.0"/>
<polyline points="62.65,391.0 62.69,393.7 62.73,394.9 62.77,380.6 62.82,395.5 62.86,404.9 62.90,397.0"/>
<polyline points="62.90,397.0 62.94,390.2 62.99,408.3 63.03,390.1 63.07,385.1 63.11,394.7 63.16,412.9"/>
<polyline points="63.16,412.9 63.20,403.2 63.24,399.9 63.28,395.8 63.33,398.4 63.37,388.1 63.41,393.5"/>
<polyline points="63.41,393.5 63.45,403.7 63.49,420.8 63.54,403.5 63.58,403.4 63.62,389.9 63.66,400.8"/>
<polyline points="63.66,400.8 63.71,386.0 63.75,393.6 63.79,391.8 63.83,389.3 63.87,424.3 63.92,393.5"/>
<polyline points="63.92,393.5 63.96,408.6 64.00,393.9 64.04,389.3 64.08,397.8 64.13,401.9 64.17,390.5"/>
<polyline points="64.17,390.5 64.21,397.5 64.25,404.7 64.29,399.4 64.34,397.1 64.38,411.5 64.42,393.9"/>
<polyline points="64.42,393.9 64.46,384.9 64.50,399.0 64.54,419.7 64.59,390.5 64.63,405.0 64.67,413.0"/>
<polyline points="64.67,413.0 64.71,409.6 64.75,423.1 64.80,399.4 64.84,395.3 64.88,403.8 64.92,390.9"/>
<polyline points="64.92,390.9 64.96,395.3 65.00,401.5 65.05,396.5 65.09,391.4 65.13,402.5 65.17,398.1"/>
<polyline points="65.17,398.1 65.21,407.0 65.25,403.1 65.30,382.5 65.34,395.3 65.38,397.4 65.42,386.9"/>
<polyline points="65.42,386.9 65.46,412.1 65.50,389.5 65.54,388.1 65.59,404.2 65.63,391.9 65.67,389.4"/>
<polyline points="65.67,389.4 65.71,388.7 65.75,394.4 65.79,414.7 65.83,412.6 65.88,385.3 65.92,390.9"/>
<polyline points="65.92,390.9 65.96,383.6 66.00,396.0 66.04,391.3 66.08,420.4 66.12,393.6 66.17,402.7"/>
<polyline points="66.17,402.7 66.21,398.1 66.25,411.8 66.29,388.5 66.33,397.3 66.37,399.3 66.41,399.1"/>
<polyline points="66.41,399.1 66.45,423.2 66.49,387.1 66.54,399.4 66.58,403.1 66.62,403.5 66.66,391.2"/>
<polyline points="66.66,391.2 66.70,400.2 66.74,405.7 66.78,385.1 66.82,399.1 66.86,407.3 66.91,392.7"/>
<polyline points="66.91,392.7 66.95,392.1 66.99,400.6 67.03,404.9 67.07,382.3 67.11,403.8 67.15,401.4"/>
<polyline points="67.15,401.4 67.19,386.1 67.23,401.9 67.27,403.8 67.31,388.6 67.36,397.3 67.40,395.0"/>
<polyline points="67.40,395.0 67.44,400.8 67.48,390.7 67.52,411.3 67.56,389.9 67.60,405.9 67.64,403.1"/>
<polyline points="67.64,403.1 67.68,421.4 67.72,389.5 67.76,390.1 67.80,388.2 67.84,403.2 67.88,407.5"/>
<polyline points="67.88,407.5 67.93,390.1 67.97,400.2 68.01,390.6 68.05,400.2 68.09,399.6 68.13,422.3"/>
<polyline points="68.13,422.3 68.17,391.0 68.21,402.2 68.25,413.2 68.29,393.2 68.33,397.8 68.37,401.6"/>
<polyline points="68.37,401.6 68.41,389.6 68.45,401.8 68.49,395.2 68.53,404.2 68.57,392.2 68.61,386.7"/>
<polyline points="68.61,386.7 68.65,391.5 68.69,399.8 68.74,387.5 68.78,394.3 68.82,407.6 68.86,406.3"/>
<polyline points="68.86,406.3 68.90,408.5 68.94,390.8 68.98,379.0 69.02,390.4 69.06,418.7 69.10,396.2"/>
<polyline points="69.10,396.2 69.14,388.0 69.18,398.3 69.22,421.3 69.26,403.5 69.30,403.3 69.34,408.5"/>
<polyline points="69.34,408.5 69.38,404.0 69.42,388.9 69.46,393.3 69.50,398.3 69.54,389.3 69.58,388.5"/>
<polyline points="69.58,388.5 69.62,399.3 69.66,395.6 69.70,403.0 69.74,407.2 69.78,398.1 69.82,416.9"/>
<polyline points="69.82,416.9 69.86,397.8 69.90,412.0 69.94,399.0 69.98,395.8 70.02,400.0 70.06,390.4"/>
<polyline points="70.06,390.4 70.10,399.2 70.14,398.9 70.18,409.0 70.22,395.9 70.26,388.0 70.30,388.7"/>
<polyline points="70.30,388.7 70.34,412.3 70.38,390.3 70.42,392.4 70.46,389.5 70.50,387.8 70.54,394.0"/>
<polyline points="70.54,394.0 70.58,395.9 70.62,389.5 70.66,392.1 70.69,401.8 70.73,392.6 70.77,401.5"/>
<polyline points="70.77,401.5 70.81,393.0 70.85,397.9 70.89,402.6 70.93,401.2 70.97,429.8 71.01,389.1"/>
<polyline points="71.01,389.1 71.05,398.1 71.09,401.8 71.13,397.9 71.17,392.1 71.21,396.4 71.25,401.2"/>
<polyline points="71.25,401.2 71.29,393.3 71.33,394.7 71.37,387.3 71.41,413.0 71.45,394.4 71.49,395.5"/>
<polyline points="71.49,395.5 71.52,392.4 71.56,417.2 71.60,402.5 71.64,408.6 71.68,399.7 71.72,388.4"/>
<polyline points="71.72,388.4 71.76,406.3 71.80,393.0 71.84,387.8 71.88,394.6 71.92,395.3 71.96,386.8"/>
<polyline points="71.96,386.8 72.00,390.1 72.04,397.3 72.07,389.4 72.11,397.5 72.15,399.8 72.19,393.9"/>
<polyline points="72.19,393.9 72.23,390.7 72.27,399.5 72.31,392.8 72.35,396.0 72.39,397.7 72.43,389.4"/>
<polyline points="72.43,389.4 72.47,406.6 72.50,412.3 72.54,393.3 72.58,396.3 72.62,382.5 72.66,395.1"/>
<polyline points="72.66,395.1 72.70,388.7 72.74,398.3 72.78,419.6 72.82,394.5 72.86,406.0 72.89,400.2"/>
<polyline points="72.89,400.2 72.93,385.7 72.97,399.3 73.01,399.0 73.05,399.8 73.09,388.4 73.13,410.7"/>
<polyline points="73.13,410.7 73.17,399.9 73.21,406.0 73.24,401.9 73.28,394.4 73.32,399.8 73.36,389.8"/>
<polyline points="73.36,389.8 73.40,393.8 73.44,401.8 73.48,399.9 73.52,401.4 73.55,396.7 73.59,391.7"/>
<polyline points="73.59,391.7 73.63,385.1 73.67,408.6 73.71,392.6 73.75,405.5 73.79,390.3 73.82,394.3"/>
<polyline points="73.82,394.3 73.86,400.9 73.90,396.5 73.94,390.2 73.98,403.0 74.02,390.0 74.06,396.2"/>
<polyline points="74.06,396.2 74.09,387.9 74.13,391.5 74.17,395.6 74.21,399.1 74.25,391.1 74.29,390.4"/>
<polyline points="74.29,390.4 74.32,410.3 74.36,391.4 74.40,401.4 74.44,396.7 74.48,420.8 74.52,385.5"/>
<polyline points="74.52,385.5 74.55,399.0 74.59,394.7 74.63,388.8 74.67,396.3 74.71,402.8 74.75,403.2"/>
<polyline points="74.75,403.2 74.78,389.9 74.82,402.2 74.86,406.0 74.90,389.4 74.94,408.7 74.98,391.8"/>
<polyline points="74.98,391.8 75.01,402.8 75.05,419.0 75.09,388.7 75.13,386.5 75.17,390.5 75.20,399.2"/>
<polyline points="75.20,399.2 75.24,413.4 75.28,403.9 75.32,399.3 75.36,389.7 75.40,380.7 75.43,401.1"/>
<polyline points="75.43,401.1 75.47,402.1 75.51,403.4 75.55,393.0 75.59,399.4 75.62,404.7 75.66,401.5"/>
<polyline points="75.66,401.5 75.70,389.6 75.74,402.2 75.78,394.8 75.81,413.4 75.85,408.8 75.89,406.8"/>
<polyline points="75.89,406.8 75.93,405.5 75.96,406.5 76.00,391.5 76.04,416.5 76.08,410.4 76.12,400.6"/>
<polyline points="76.12,400.6 76.15,393.2 76.19,433.1 76.23,396.3 76.27,399.8 76.31,402.1 76.34,389.4"/>
<polyline points="76.34,389.4 76.38,407.2 76.42,399.6 76.46,400.1 76.49,393.2 76.53,391.7 76.57,400.1"/>
<polyline points="76.57,400.1 76.61,388.0 76.64,391.9 76.68,403.7 76.72,429.7 76.76,389.7 76.80,391.3"/>
<polyline points="76.80,391.3 76.83,394.5 76.87,413.7 76.91,393.9 76.95,400.1 76.98,408.5 77.02,394.6"/>
<polyline points="77.02,394.6 77.06,425.8 77.10,386.0 77.13,395.1 77.17,399.4 77.21,402.2 77.25,403.1"/>
<polyline points="77.25,403.1 77.28,391.2 77.32,393.4 77.36,401.9 77.40,394.0 77.43,419.6 77.47,399.5"/>
<polyline points="77.47,399.5 77.51,400.6 77.54,397.3 77.58,403.0 77.62,418.1 77.66,408.7 77.69,407.6"/>
<polyline points="77.69,407.6 77.73,396.0 77.77,407.7 77.81,408.9 77.84,394.7 77.88,390.8 77.92,392.9"/>
<polyline points="77.92,392.9 77.95,407.0 77.99,441.5 78.03,396.9 78.07,393.8 78.10,406.7 78.14,393.9"/>
<polyline points="78.14,393.9 78.18,385.6 78.21,399.6 78.25,398.0 78.29,394.5 78.33,395.6 78.36,395.4"/>
<polyline points="78.36,395.4 78.40,405.3 78.44,404.8 78.47,408.0 78.51,403.5 78.55,427.5 78.59,394.5"/>
<polyline points="78.59,394.5 78.62,401.4 78.66,405.5 78.70,396.2 78.73,401.7 78.77,412.0 78.81,397.8"/>
<polyline points="78.81,397.8 78.84,387.4 78.88,409.7 78.92,390.6 78.96,398.8 78.99,400.8 79.03,396.9"/>
<polyline points="79.03,396.9 79.07,388.6 79.10,391.7 79.14,403.8 79.18,385.7 79.21,389.9 79.25,417.7"/>
<polyline points="79.25,417.7 79.29,387.1 79.32,397.1 79.36,404.0 79.40,386.9 79.43,396.6 79.47,390.8"/>
<polyline points="79.47,390.8 79.51,398.2 79.54,392.5 79.58,396.3 79.62,415.7 79.65,405.3 79.69,406.9"/>
<polyline points="79.69,406.9 79.73,399.2 79.76,403.7 79.80,405.0 79.84,390.7 79.87,403.8 79.91,387.7"/>
<polyline points="79.91,387.7 79.95,387.2 79.98,397.4 80.02,402.1 80.06,400.6 80.09,406.1 80.13,403.4"/>
<polyline points="80.13,403.4 80.17,386.9 80.20,401.5 80.24,394.7 80.28,406.9 80.31,399.1 80.35,391.4"/>
<polyline points="80.35,391.4 80.39,395.5 80.42,445.4 80.46,400.7 80.49,402.9 80.53,395.0 80.57,404.5"/>
<polyline points="80.57,404.5 80.60,398.2 80.64,389.4 80.68,399.3 80.71,402.9 80.75,388.9 80.79,400.3"/>
<polyline points="80.79,400.3 80.82,407.3 80.86,392.5 80.89,406.3 80.93,411.2 80.97,398.1 81.00,396.3"/>
<polyline points="81.00,396.3 81.04,397.1 81.08,395.6 81.11,397.6 81.15,394.7 81.18,348.0 81.22,397.3"/>
<polyline points="81.22,397.3 81.26,400.8 81.29,398.1 81.33,418.6 81.37,400.5 81.40,394.7 81.44,398.6"/>
<polyline points="81.44,398.6 81.47,393.4 81.51,395.7 81.55,399.7 81.58,398.7 81.62,402.7 81.65,396.1"/>
<polyline points="81.65,396.1 81.69,401.8 81.73,412.8 81.76,391.2 81.80,389.5 81.83,388.9 81.87,417.9"/>
<polyline points="81.87,417.9 81.91,390.8 81.94,394.9 81.98,408.9 82.01,402.4 82.05,401.7 82.09,415.0"/>
<polyline points="82.09,415.0 82.12,399.2 82.16,402.0 82.19,401.9 82.23,395.5 82.26,409.4 82.30,406.6"/>
<polyline points="82.30,406.6 82.34,404.4 82.37,401.6 82.41,389.7 82.44,395.8 82.48,409.0 82.52,394.5"/>
<polyline points="82.52,394.5 82.55,393.3 82.59,380.1 82.62,413.3 82.66,393.1 82.69,396.6 82.73,383.8"/>
<polyline points="82.73,383.8 82.77,445.2 82.80,388.7 82.84,404.8 82.87,393.6 82.91,398.1 82.94,397.0"/>
<polyline points="82.94,397.0 82.98,406.7 83.02,414.3 83.05,406.1 83.09,420.5 83.12,393.0 83.16,405.0"/>
<polyline points="83.16,405.0 83.19,395.2 83.23,397.4 83.26,405.1 83.30,403.1 83.34,414.1 83.37,394.0"/>
<polyline points="83.37,394.0 83.41,399.6 83.44,407.9 83.48,404.8 83.51,402.1 83.55,398.8 83.58,399.4"/>
<polyline points="83.58,399.4 83.62,387.8 83.65,407.8 83.69,395.5 83.73,398.1 83.76,403.2 83.80,393.2"/>
<polyline points="83.80,393.2 83.83,390.9 83.87,388.0 83.90,403.7 83.94,389.1 83.97,401.3 84.01,416.2"/>
<polyline points="84.01,416.2 84.04,389.8 84.08,391.4 84.11,405.5 84.15,396.8 84.18,419.4 84.22,399.1"/>
<polyline points="84.22,399.1 84.25,393.0 84.29,384.7 84.33,420.3 84.36,390.6 84.40,394.0 84.43,417.0"/>
<polyline points="84.43,417.0 84.47,394.8 84.50,399.2 84.54,402.2 84.57,389.6 84.61,394.5 84.64,391.5"/>
<polyline points="84.64,391.5 84.68,380.6 84.71,388.5 84.75,388.4 84.78,386.4 84.82,390.2 84.85,407.7"/>
<polyline points="84.85,407.7 84.89,397.7 84.92,398.1 84.96,397.6 84.99,392.0 85.03,395.9 85.06,398.6"/>
<polyline points="85.06,398.6 85.10,391.0 85.13,400.8 85.17,397.5 85.20,397.2 85.24,396.4 85.27,417.8"/>
<polyline points="85.27,417.8 85.31,406.7 85.34,417.1 85.38,389.3 85.41,398.2 85.45,394.1 85.48,397.2"/>
<polyline points="85.48,397.2 85.52,399.3 85.55,400.1 85.59,399.6 85.62,394.8 85.66,392.1 85.69,405.8"/>
<polyline points="85.69,405.8 85.73,402.6 85.76,409.5 85.79,405.1 85.83,414.6 85.86,388.3 85.90,385.6"/>
<polyline points="85.90,385.6 85.93,401.8 85.97,394.8 86.00,418.7 86.04,397.3 86.07,389.0 86.11,408.9"/>
<polyline points="86.11,408.9 86.14,413.9 86.18,397.8 86.21,393.3 86.25,411.8 86.28,401.1 86.31,415.4"/>
<polyline points="86.31,415.4 86.35,384.3 86.38,412.1 86.42,404.2 86.45,410.4 86.49,389.6 86.52,398.8"/>
<polyline points="86.52,398.8 86.56,400.6 86.59,392.8 86.63,394.1 86.66,413.1 86.69,398.5 86.73,392.4"/>
<polyline points="86.73,392.4 86.76,402.3 86.80,399.9 86.83,419.0 86.87,439.9 86.90,418.4 86.94,408.2"/>
<polyline points="86.94,408.2 86.97,419.7 87.00,395.7 87.04,393.6 87.07,411.2 87.11,423.5 87.14,386.5"/>
<polyline points="87.14,386.5 87.18,391.8 87.21,416.6 87.25,396.3 87.28,419.6 87.31,401.3 87.35,388.8"/>
<polyline points="87.35,388.8 87.38,397.6 87.42,403.4 87.45,425.2 87.49,408.8 87.52,427.4 87.55,419.3"/>
<polyline points="87.55,419.3 87.59,406.5 87.62,421.4 87.66,410.2 87.69,390.9 87.72,397.7 87.76,396.2"/>
<polyline points="87.76,396.2 87.79,409.5 87.83,403.2 87.86,395.0 87.90,401.2 87.93,390.5 87.96,411.6"/>
<polyline points="87.96,411.6 88.00,409.2 88.03,400.5 88.07,389.8 88.10,397.9 88.13,441.5 88.17,394.5"/>
<polyline points="88.17,394.5 88.20,413.8 88.24,410.1 88.27,390.0 88.30,399.1 88.34,391.8 88.37,413.9"/>
<polyline points="88.37,413.9 88.41,402.1 88.44,422.8 88.47,399.9 88.51,395.6 88.54,405.4 88.58,387.6"/>
<polyline points="88.58,387.6 88.61,406.5 88.64,400.3 88.68,395.6 88.71,425.2 88.75,406.9 88.78,401.3"/>
<polyline points="88.78,401.3 88.81,397.8 88.85,387.4 88.88,388.2 88.91,396.6 88.95,407.7 88.98,401.4"/>
<polyline points="88.98,401.4 89.02,404.6 89.05,401.0 89.08,432.3 89.12,408.8 89.15,392.2 89.19,391.5"/>
<polyline points="89.19,391.5 89.22,417.9 89.25,396.0 89.29,406.8 89.32,392.8 89.35,390.1 89.39,393.6"/>
<polyline points="89.39,393.6 89.42,404.2 89.45,418.9 89.49,396.8 89.52,392.0 89.56,401.8 89.59,389.5"/>
<polyline points="89.59,389.5 89.62,389.3 89.66,404.9 89.69,387.6 89.72,433.0 89.76,394.8 89.79,402.6"/>
<polyline points="89.79,402.6 89.82,411.4 89.86,395.0 89.89,389.2 89.93,410.2 89.96,397.2 89.99,395.1"/>
<polyline points="89.99,395.1 90.03,434.0 90.06,403.4 90.09,411.0 90.13,388.5 90.16,398.4 90.19,413.2"/>
<polyline points="90.19,413.2 90.23,402.0 90.26,386.6 90.29,399.3 90.33,396.2 90.36,387.1 90.39,396.2"/>
<polyline points="90.39,396.2 90.43,397.1 90.46,394.6 90.49,397.4 90.53,387.6 90.56,398.8 90.59,388.0"/>
<polyline points="90.59,388.0 90.63,394.0 90.66,400.1 90.69,388.3 90.73,417.4 90.76,391.7 90.79,394.4"/>
<polyline points="90.79,394.4 90.83,399.2 90.86,425.2 90.89,394.8 90.93,394.4 90.96,398.2 90.99,404.8"/>
<polyline points="90.99,404.8 91.03,397.6 91.06,395.0 91.09,392.6 91.13,389.6 91.16,400.8 91.19,389.0"/>
<polyline points="91.19,389.0 91.23,404.9 91.26,389.4 91.29,399.1 91.33,399.3 91.36,394.2 91.39,415.0"/>
<polyline points="91.39,415.0 91.42,389.9 91.46,399.3 91.49,406.0 91.52,395.5 91.56,388.5 91.59,390.2"/>
<polyline points="91.59,390.2 91.62,411.6 91.66,415.6 91.69,394.4 91.72,403.0 91.75,396.2 91.79,390.9"/>
<polyline points="91.79,390.9 91.82,405.4 91.85,393.9 91.89,405.3 91.92,409.6 91.95,396.9 91.99,389.4"/>
<polyline points="91.99,389.4 92.02,395.9 92.05,391.4 92.08,397.4 92.12,407.5 92.15,402.0 92.18,382.1"/>
<polyline points="92.18,382.1 92.22,407.4 92.25,396.1 92.28,401.1 92.31,392.6 92.35,399.9 92.38,407.6"/>
<polyline points="92.38,407.6 92.41,391.8 92.45,414.6 92.48,392.6 92.51,385.1 92.54,430.3 92.58,401.9"/>
<polyline points="92.58,401.9 92.61,409.0 92.64,411.1 92.68,390.0 92.71,395.8 92.74,401.3 92.77,419.4"/>
<polyline points="92.77,419.4 92.81,393.6 92.84,388.5 92.87,400.7 92.90,401.3 92.94,398.1 92.97,401.0"/>
<polyline points="92.97,401.0 93.00,397.6 93.03,391.4 93.07,398.0 93.10,400.2 93.13,402.0 93.17,411.0"/>
<polyline points="93.17,411.0 93.20,394.4 93.23,393.7 93.26,410.1 93.30,400.2 93.33,392.7 93.36,399.8"/>
<polyline points="93.36,399.8 93.39,402.2 93.43,395.6 93.46,391.2 93.49,396.6 93.52,391.2 93.56,396.9"/>
<polyline points="93.56,396.9 93.59,390.0 93.62,398.0 93.65,393.9 93.69,399.6 93.72,400.9 93.75,403.7"/>
<polyline points="93.75,403.7 93.78,395.1 93.82,404.1 93.85,416.8 93.88,389.5 93.91,413.9 93.94,393.9"/>
<polyline points="93.94,393.9 93.98,410.3 94.01,402.5 94.04,421.5 94.07,398.4 94.11,395.4 94.14,402.2"/>
<polyline points="94.14,402.2 94.17,388.6 94.20,394.7 94.24,402.0 94.27,393.2 94.30,432.7 94.33,396.7"/>
<polyline points="94.33,396.7 94.36,401.4 94.40,413.3 94.43,399.6 94.46,401.8 94.49,399.3 94.53,413.3"/>
<polyline points="94.53,413.3 94.56,385.1 94.59,422.0 94.62,404.9 94.65,385.6 94.69,404.6 94.72,410.7"/>
<polyline points="94.72,410.7 94.75,391.2 94.78,397.4 94.82,388.1 94.85,393.3 94.88,392.4 94.91,410.9"/>
<polyline points="94.91,410.9 94.94,389.4 94.98,389.6 95.01,387.8 95.04,395.9 95.07,407.7 95.10,386.5"/>
<polyline points="95.10,386.5 95.14,394.8 95.17,385.9 95.20,421.8 95.23,387.2 95.26,403.1 95.30,406.0"/>
<polyline points="95.30,406.0 95.33,397.8 95.36,400.9 95.39,395.0 95.42,382.5 95.46,422.4 95.49,402.6"/>
<polyline points="95.49,402.6 95.52,385.8 95.55,396.5 95.58,391.6 95.62,400.8 95.65,395.0 95.68,407.4"/>
<polyline points="95.68,407.4 95.71,391.7 95.74,387.8 95.78,388.3 95.81,421.1 95.84,390.1 95.87,393.0"/>
<polyline points="95.87,393.0 95.90,392.8 95.93,398.1 95.97,384.0 96.00,378.0 96.03,386.6 96.06,399.7"/>
<polyline points="96.06,399.7 96.09,393.8 96.13,392.6 96.16,396.5 96.19,381.7 96.22,390.1 96.25,393.4"/>
<polyline points="96.25,393.4 96.28,404.4 96.32,394.0 96.35,385.9 96.38,402.5 96.41,394.1 96.44,406.5"/>
<polyline points="96.44,406.5 96.47,390.8 96.51,435.9 96.54,413.6 96.57,392.1 96.60,400.0 96.63,390.4"/>
<polyline points="96.63,390.4 96.66,403.3 96.70,395.4 96.73,394.7 96.76,403.7 96.79,402.3 96.82,395.2"/>
<polyline points="96.82,395.2 96.85,395.8 96.89,395.3 96.92,404.2 96.95,390.6 96.98,410.7 97.01,398.0"/>
<polyline points="97.01,398.0 97.04,393.1 97.07,388.3 97.11,405.8 97.14,394.5 97.17,388.0 97.20,390.8"/>
<polyline points="97.20,390.8 97.23,406.6 97.26,399.0 97.29,410.1 97.33,394.4 97.36,412.2 97.39,389.3"/>
<polyline points="97.39,389.3 97.42,407.3 97.45,406.7 97.48,387.7 97.51,387.9 97.55,402.4 97.58,446.1"/>
<polyline points="97.58,446.1 97.61,399.5 97.64,418.2 97.67,394.7 97.70,406.7 97.73,385.2 97.77,395.1"/>
<polyline points="97.77,395.1 97.80,401.7 97.83,403.7 97.86,387.7 97.89,406.9 97.92,402.6 97.95,409.6"/>
<polyline points="97.95,409.6 97.98,383.9 98.02,401.2 98.05,403.5 98.08,391.3 98.11,407.3 98.14,392.9"/>
<polyline points="98.14,392.9 98.17,405.9 98.20,425.0 98.23,383.1 98.27,391.8 98.30,392.7 98.33,400.6"/>
<polyline points="98.33,400.6 98.36,416.6 98.39,412.9 98.42,398.3 98.45,421.6 98.48,388.8 98.51,389.4"/>
<polyline points="98.51,389.4 98.55,393.3 98.58,385.9 98.61,418.7 98.64,413.5 98.67,390.1 98.70,398.6"/>
<polyline points="98.70,398.6 98.73,393.2 98.76,407.5 98.79,398.2 98.83,409.4 98.86,398.3 98.89,398.8"/>
<polyline points="98.89,398.8 98.92,388.4 98.95,384.6 98.98,391.5 99.01,397.3 99.04,408.7 99.07,388.4"/>
<polyline points="99.07,388.4 99.10,381.0 99.13,423.7 99.17,394.9 99.20,401.4 99.23,391.3 99.26,400.2"/>
<polyline points="99.26,400.2 99.29,391.4 99.32,388.9 99.35,388.1 99.38,396.2 99.41,405.7 99.44,391.0"/>
<polyline points="99.44,391.0 99.47,411.6 99.51,386.9 99.54,397.1 99.57,405.2 99.60,398.6 99.63,408.6"/>
<polyline points="99.63,408.6 99.66,398.5 99.69,400.5 99.72,391.9 99.75,385.1 99.78,391.8 99.81,400.0"/>
<polyline points="99.81,400.0 99.84,394.2 99.88,423.5 99.91,408.2 99.94,397.7 99.97,391.0 100.00,400.2"/>
<polyline points="100.00,400.2 100.03,389.3 100.06,383.9 100.09,408.5 100.12,390.6 100.15,392.7 100.18,399.7"/>
<polyline points="100.18,399.7 100.21,394.7 100.24,393.8 100.27,395.4 100.30,403.7 100.34,397.3 100.37,413.7"/>
<polyline points="100.37,413.7 100.40,395.1 100.43,397.6 100.46,389.6 100.49,402.3 100.52,395.0 100.55,403.4"/>
<polyline points="100.55,403.4 100.58,405.0 100.61,388.5 100.64,396.0 100.67,382.4 100.70,406.4 100.73,397.9"/>
<polyline points="100.73,397.9 100.76,395.7 100.79,394.4 100.82,404.4 100.85,403.2 100.89,388.7 100.92,387.6"/>
<polyline points="100.92,387.6 100.95,383.7 100.98,387.6 101.01,413.5 101.04,399.1 101.07,398.1 101.10,406.2"/>
<polyline points="101.10,406.2 101.13,391.3 101.16,389.5 101.19,383.6 101.22,395.1 101.25,390.3 101.28,389.8"/>
<polyline points="101.28,389.8 101.31,390.4 101.34,402.2 101.37,387.9 101.40,392.5 101.43,396.6 101.46,433.8"/>
<polyline points="101.46,433.8 101.49,383.1 101.52,393.7 101.55,398.1 101.58,407.2 101.61,395.4 101.64,388.0"/>
<polyline points="101.64,388.0 101.67,388.3 101.71,401.0 101.74,386.7 101.77,415.2 101.80,394.9 101.83,410.6"/>
<polyline points="101.83,410.6 101.86,392.0 101.89,402.1 101.92,401.0 101.95,406.1 101.98,400.4 102.01,391.8"/>
<polyline points="102.01,391.8 102.04,391.7 102.07,402.0 102.10,395.6 102.13,390.5 102.16,393.3 102.19,382.2"/>
<polyline points="102.19,382.2 102.22,382.9 102.25,407.9 102.28,388.5 102.31,386.0 102.34,385.8 102.37,385.2"/>
<polyline points="102.37,385.2 102.40,395.9 102.43,395.1 102.46,399.8 102.49,405.4 102.52,384.0 102.55,389.4"/>
<polyline points="102.55,389.4 102.58,395.9 102.61,401.8 102.64,418.7 102.67,392.9 102.70,392.4 102.73,377.6"/>
<polyline points="102.73,377.6 102.76,391.7 102.79,405.0 102.82,410.8 102.85,385.2 102.88,406.5 102.91,397.3"/>
<polyline points="102.91,397.3 102.94,416.0 102.97,411.0 103.00,389.9 103.03,396.0 103.06,391.3 103.09,385.3"/>
<polyline points="103.09,385.3 103.12,395.4 103.15,389.0 103.18,388.2 103.21,399.9 103.24,383.1 103.27,386.3"/>
<polyline points="103.27,386.3 103.30,388.0 103.33,395.6 103.36,383.9 103.39,390.7 103.42,388.6 103.45,396.1"/>
<polyline points="103.45,396.1 103.48,396.4 103.51,395.4 103.54,406.2 103.57,392.5 103.60,402.9 103.63,392.2"/>
<polyline points="103.63,392.2 103.66,386.3 103.68,394.8 103.71,391.5 103.74,381.2 103.77,396.9 103.80,389.6"/>
<polyline points="103.80,389.6 103.83,405.8 103.86,394.7 103.89,390.9 103.92,401.7 103.95,399.8 103.98,380.0"/>
<polyline points="103.98,380.0 104.01,381.0 104.04,385.4 104.07,400.2 104.10,392.7 104.13,398.0 104.16,407.6"/>
<polyline points="104.16,407.6 104.19,391.6 104.22,396.3 104.25,384.7 104.28,394.2 104.31,394.6 104.34,374.5"/>
<polyline points="104.34,374.5 104.37,396.1 104.40,383.4 104.43,383.7 104.46,387.3 104.48,391.5 104.51,402.5"/>
<polyline points="104.51,402.5 104.54,394.5 104.57,405.1 104.60,394.5 104.63,386.0 104.66,376.0 104.69,388.9"/>
<polyline points="104.69,388.9 104.72,399.6 104.75,391.3 104.78,413.8 104.81,427.6 104.84,387.8 104.87,393.9"/>
<polyline points="104.87,393.9 104.90,394.6 104.93,401.9 104.96,387.2 104.99,380.2 105.02,415.6 105.04,387.0"/>
<polyline points="105.04,387.0 105.07,403.8 105.10,383.7 105.13,389.5 105.16,387.8 105.19,390.0 105.22,388.5"/>
<polyline points="105.22,388.5 105.25,385.4 105.28,393.4 105.31,405.4 105.34,386.9 105.37,399.4 105.40,398.8"/>
<polyline points="105.40,398.8 105.43,401.7 105.46,393.0 105.48,386.5 105.51,378.9 105.54,375.6 105.57,388.6"/>
<polyline points="105.57,388.6 105.60,388.4 105.63,384.5 105.66,392.0 105.69,387.2 105.72,401.3 105.75,378.0"/>
<polyline points="105.75,378.0 105.78,410.5 105.81,394.8 105.84,387.9 105.86,374.6 105.89,378.2 105.92,371.6"/>
<polyline points="105.92,371.6 105.95,389.4 105.98,394.6 106.01,388.7 106.04,391.2 106.07,381.8 106.10,375.9"/>
<polyline points="106.10,375.9 106.13,396.2 106.16,388.7 106.19,374.2 106.21,373.0 106.24,379.2 106.27,392.2"/>
<polyline points="106.27,392.2 106.30,389.3 106.33,386.2 106.36,392.2 106.39,392.8 106.42,383.9 106.45,414.2"/>
<polyline points="106.45,414.2 106.48,391.7 106.50,369.4 106.53,378.8 106.56,385.8 106.59,389.2 106.62,377.2"/>
<polyline points="106.62,377.2 106.65,369.3 106.68,390.1 106.71,385.7 106.74,367.3 106.77,371.9 106.79,376.8"/>
<polyline points="106.79,376.8 106.82,401.4 106.85,370.2 106.88,376.9 106.91,383.4 106.94,383.1 106.97,389.8"/>
<polyline points="106.97,389.8 107.00,379.6 107.03,396.4 107.05,376.9 107.08,390.2 107.11,374.9 107.14,390.3"/>
<polyline points="107.14,390.3 107.17,388.6 107.20,362.1 107.23,400.0 107.26,378.1 107.29,369.2 107.31,367.6"/>
<polyline points="107.31,367.6 107.34,366.1 107.37,371.5 107.40,365.2 107.43,373.3 107.46,374.2 107.49,367.7"/>
<polyline points="107.49,367.7 107.52,367.6 107.54,383.4 107.57,364.8 107.60,383.5 107.63,363.4 107.66,358.6"/>
<polyline points="107.66,358.6 107.69,371.6 107.72,369.0 107.75,355.3 107.77,355.0 107.80,359.9 107.83,369.0"/>
<polyline points="107.83,369.0 107.86,360.9 107.89,369.7 107.92,352.3 107.95,357.6 107.97,360.6 108.00,363.7"/>
<polyline points="108.00,363.7 108.03,361.5 108.06,363.9 108.09,343.4 108.12,353.7 108.15,352.3 108.18,356.9"/>
<polyline points="108.18,356.9 108.20,339.6 108.23,396.3 108.26,332.5 108.29,347.4 108.32,352.5 108.35,344.9"/>
<polyline points="108.35,344.9 108.38,336.1 108.40,333.5 108.43,346.6 108.46,297.8 108.49,292.3 108.52,325.3"/>
<polyline points="108.52,325.3 108.55,332.7 108.57,327.5 108.60,339.9 108.63,350.9 108.66,349.2 108.69,346.4"/>
<polyline points="108.69,346.4 108.72,349.7 108.75,346.6 108.77,367.7 108.80,344.8 108.83,349.8 108.86,353.4"/>
<polyline points="108.86,353.4 108.89,349.0 108.92,367.1 108.94,358.9 108.97,362.6 109.00,366.1 109.03,366.9"/>
<polyline points="109.03,366.9 109.06,363.9 109.09,370.0 109.12,362.0 109.14,360.1 109.17,360.1 109.20,368.8"/>
<polyline points="109.20,368.8 109.23,356.7 109.26,361.2 109.29,363.1 109.31,387.3 109.34,362.0 109.37,367.7"/>
<polyline points="109.37,367.7 109.40,378.3 109.43,376.9 109.45,378.5 109.48,400.9 109.51,359.7 109.54,373.3"/>
<polyline points="109.54,373.3 109.57,359.3 109.60,383.6 109.62,366.1 109.65,365.4 109.68,388.1 109.71,370.8"/>
<polyline points="109.71,370.8 109.74,379.4 109.77,384.6 109.79,379.6 109.82,379.9 109.85,381.3 109.88,365.3"/>
<polyline points="109.88,365.3 109.91,368.1 109.93,360.4 109.96,385.7 109.99,373.9 110.02,381.2 110.05,371.8"/>
<polyline points="110.05,371.8 110.08,384.1 110.10,378.8 110.13,378.1 110.16,378.1 110.19,380.3 110.22,374.5"/>
<polyline points="110.22,374.5 110.24,377.1 110.27,378.5 110.30,388.4 110.33,377.1 110.36,379.9 110.38,378.8"/>
<polyline points="110.38,378.8 110.41,408.9 110.44,378.7 110.47,380.2 110.50,418.7 110.52,379.7 110.55,385.8"/>
<polyline points="110.55,385.8 110.58,382.8 110.61,387.9 110.64,406.4 110.66,373.2 110.69,377.6 110.72,390.9"/>
<polyline points="110.72,390.9 110.75,390.0 110.78,394.1 110.80,388.9 110.83,377.5 110.86,369.7 110.89,370.3"/>
<polyline points="110.89,370.3 110.92,375.9 110.94,422.8 110.97,398.4 111.00,382.0 111.03,389.9 111.06,379.7"/>
<polyline points="111.06,379.7 111.08,380.5 111.11,370.8 111.14,401.9 111.17,397.2 111.19,390.4 111.22,375.5"/>
<polyline points="111.22,375.5 111.25,396.5 111.28,387.2 111.31,389.3 111.33,391.9 111.36,385.2 111.39,397.4"/>
<polyline points="111.39,397.4 111.42,388.7 111.45,410.5 111.47,389.4 111.50,394.6 111.53,384.5 111.56,383.0"/>
<polyline points="111.56,383.0 111.58,397.5 111.61,410.6 111.64,390.9 111.67,389.4 111.70,382.5 111.72,388.6"/>
<polyline points="111.72,388.6 111.75,386.8 111.78,393.0 111.81,392.5 111.83,378.6 111.86,385.9 111.89,397.8"/>
<polyline points="111.89,397.8 111.92,392.8 111.94,392.4 111.97,398.4 112.00,383.0 112.03,405.8 112.06,393.0"/>
<polyline points="112.06,393.0 112.08,393.2 112.11,382.2 112.14,391.6 112.17,398.3 112.19,386.8 112.22,381.8"/>
<polyline points="112.22,381.8 112.25,391.0 112.28,391.1 112.30,403.4 112.33,391.9 112.36,387.2 112.39,413.0"/>
<polyline points="112.39,413.0 112.41,389.8 112.44,391.6 112.47,384.1 112.50,394.0 112.52,387.9 112.55,402.8"/>
<polyline points="112.55,402.8 112.58,393.7 112.61,413.9 112.63,408.3 112.66,390.3 112.69,377.9 112.72,393.2"/>
<polyline points="112.72,393.2 112.74,390.9 112.77,398.4 112.80,407.4 112.83,418.2 112.85,386.5 112.88,416.5"/>
<polyline points="112.88,416.5 112.91,391.0 112.94,391.9 112.96,424.6 112.99,381.8 113.02,402.8 113.05,392.1"/>
<polyline points="113.05,392.1 113.07,400.5 113.10,391.6 113.13,405.5 113.16,382.6 113.18,395.3 113.21,395.4"/>
<polyline points="113.21,395.4 113.24,394.2 113.27,393.5 113.29,397.3 113.32,376.2 113.35,396.0 113.37,402.6"/>
<polyline points="113.37,402.6 113.40,410.0 113.43,383.6 113.46,381.3 113.48,404.7 113.51,394.8 113.54,391.6"/>
<polyline points="113.54,391.6 113.57,387.1 113.59,395.6 113.62,398.3 113.65,411.2 113.67,388.2 113.70,385.6"/>
<polyline points="113.70,385.6 113.73,413.8 113.76,392.5 113.78,387.0 113.81,427.5 113.84,404.0 113.87,385.7"/>
<polyline points="113.87,385.7 113.89,405.8 113.92,389.0 113.95,382.0 113.97,413.1 114.00,388.0 114.03,386.9"/>
<polyline points="114.03,386.9 114.06,389.5 114.08,397.1 114.11,391.7 114.14,402.1 114.16,396.9 114.19,408.9"/>
<polyline points="114.19,408.9 114.22,386.0 114.25,405.6 114.27,401.4 114.30,392.1 114.33,387.5 114.35,395.1"/>
<polyline points="114.35,395.1 114.38,413.3 114.41,394.7 114.44,394.1 114.46,396.4 114.49,396.6 114.52,402.3"/>
<polyline points="114.52,402.3 114.54,382.5 114.57,397.8 114.60,388.7 114.62,398.3 114.65,386.0 114.68,388.0"/>
<polyline points="114.68,388.0 114.71,384.8 114.73,397.5 114.76,407.1 114.79,398.7 114.81,403.4 114.84,414.6"/>
<polyline points="114.84,414.6 114.87,394.3 114.89,400.3 114.92,401.6 114.95,417.5 114.98,388.3 115.00,412.6"/>
<polyline points="115.00,412.6 115.03,397.7 115.06,389.3 115.08,391.9 115.11,397.3 115.14,408.4 115.16,397.1"/>
<polyline points="115.16,397.1 115.19,386.5 115.22,399.4 115.24,399.4 115.27,395.1 115.30,406.8 115.33,395.8"/>
<polyline points="115.33,395.8 115.35,395.1 115.38,395.6 115.41,400.8 115.43,399.3 115.46,400.8 115.49,403.8"/>
<polyline points="115.49,403.8 115.51,391.6 115.54,411.1 115.57,424.0 115.59,394.5 115.62,393.7 115.65,417.9"/>
<polyline points="115.65,417.9 115.67,395.0 115.70,394.9 115.73,400.1 115.75,388.0 115.78,398.9 115.81,414.6"/>
<polyline points="115.81,414.6 115.83,398.8 115.86,396.1 115.89,388.2 115.91,400.9 115.94,399.8 115.97,386.6"/>
<polyline points="115.97,386.6 116.00,407.6 116.02,395.5 116.05,407.9 116.08,433.1 116.10,418.4 116.13,404.9"/>
<polyline points="116.13,404.9 116.16,413.5 116.18,385.2 116.21,396.2 116.24,396.3 116.26,406.8 116.29,404.7"/>
<polyline points="116.29,404.7 116.32,391.5 116.34,410.6 116.37,396.7 116.39,394.7 116.42,401.5 116.45,392.4"/>
<polyline points="116.45,392.4 116.47,402.4 116.50,401.5 116.53,405.8 116.55,414.2 116.58,391.7 116.61,394.8"/>
<polyline points="116.61,394.8 116.63,396.2 116.66,401.9 116.69,389.5 116.71,397.3 116.74,387.4 116.77,410.5"/>
<polyline points="116.77,410.5 116.79,404.5 116.82,396.7 116.85,394.2 116.87,401.4 116.90,405.8 116.93,399.3"/>
<polyline points="116.93,399.3 116.95,400.6 116.98,398.1 117.01,389.2 117.03,410.2 117.06,405.4 117.08,390.8"/>
<polyline points="117.08,390.8 117.11,418.5 117.14,394.0 117.16,400.4 117.19,402.0 117.22,400.9 117.24,399.3"/>
<polyline points="117.24,399.3 117.27,411.1 117.30,429.8 117.32,409.6 117.35,396.3 117.38,404.8 117.40,402.6"/>
<polyline points="117.40,402.6 117.43,389.8 117.45,403.7 117.48,404.2 117.51,408.1 117.53,398.3 117.56,400.5"/>
<polyline points="117.56,400.5 117.59,394.7 117.61,397.8 117.64,399.5 117.67,408.7 117.69,392.8 117.72,393.0"/>
<polyline points="117.72,393.0 117.74,393.1 117.77,397.1 117.80,395.3 117.82,414.7 117.85,408.6 117.88,393.5"/>
<polyline points="117.88,393.5 117.90,404.2 117.93,400.1 117.95,394.7 117.98,417.5 118.01,397.0 118.03,390.5"/>
<polyline points="118.03,390.5 118.06,419.0 118.09,397.7 118.11,399.9 118.14,398.7 118.16,390.4 118.19,397.0"/>
<polyline points="118.19,397.0 118.22,411.2 118.24,397.8 118.27,402.9 118.30,397.5 118.32,415.3 118.35,415.7"/>
<polyline points="118.35,415.7 118.37,408.6 118.40,419.0 118.43,395.4 118.45,402.7 118.48,390.0 118.50,395.5"/>
<polyline points="118.50,395.5 118.53,398.6 118.56,390.7 118.58,392.4 118.61,398.7 118.64,398.1 118.66,393.4"/>
<polyline points="118.66,393.4 118.69,402.1 118.71,389.8 118.74,388.6 118.77,396.9 118.79,389.4 118.82,420.4"/>
<polyline points="118.82,420.4 118.84,393.7 118.87,419.9 118.90,399.5 118.92,419.7 118.95,404.7 118.97,397.5"/>
<polyline points="118.97,397.5 119.00,423.3 119.03,398.3 119.05,395.9 119.08,397.6 119.10,392.3 119.13,407.6"/>
<polyline points="119.13,407.6 119.16,406.4 119.18,395.5 119.21,409.4 119.23,422.9 119.26,401.6 119.29,412.6"/>
<polyline points="119.29,412.6 119.31,402.0 119.34,398.8 119.36,406.5 119.39,396.7 119.42,402.7 119.44,407.5"/>
<polyline points="119.44,407.5 119.47,409.3 119.49,414.9 119.52,411.1 119.55,397.3 119.57,400.5 119.60,400.0"/>
<polyline points="119.60,400.0 119.62,418.3 119.65,393.2 119.67,402.7 119.70,386.9 119.73,401.8 119.75,410.8"/>
<polyline points="119.75,410.8 119.78,402.1 119.80,402.7 119.83,397.3 119.86,420.2 119.88,408.6 119.91,402.5"/>
<polyline points="119.91,402.5 119.93,409.4 119.96,408.8 119.98,398.5 120.01,400.3 120.04,411.4 120.06,420.6"/>
<polyline points="120.06,420.6 120.09,429.1 120.11,392.2 120.14,404.2 120.17,408.5 120.19,409.2 120.22,408.6"/>
<polyline points="120.22,408.6 120.24,401.3 120.27,423.2 120.29,394.5 120.32,399.8 120.35,397.6 120.37,399.4"/>
<polyline points="120.37,399.4 120.40,401.1 120.42,408.5 120.45,393.8 120.47,437.5 120.50,396.1 120.53,400.5"/>
<polyline points="120.53,400.5 120.55,438.8 120.58,413.8 120.60,393.6 120.63,397.4 120.65,405.2 120.68,394.0"/>
<polyline points="120.68,394.0 120.70,400.6 120.73,397.2 120.76,423.5 120.78,394.5 120.81,410.4 120.83,407.2"/>
<polyline points="120.83,407.2 120.86,399.5 120.88,406.2 120.91,402.9 120.94,399.6 120.96,396.0 120.99,407.7"/>
<polyline points="120.99,407.7 121.01,399.8 121.04,410.8 121.06,401.3 121.09,409.9 121.11,410.1 121.14,410.2"/>
<polyline points="121.14,410.2 121.17,421.8 121.19,406.8 121.22,407.7 121.24,410.5 121.27,401.7 121.29,406.8"/>
<polyline points="121.29,406.8 121.32,403.1 121.34,436.3 121.37,394.1 121.39,390.5 121.42,398.7 121.45,393.5"/>
<polyline points="121.45,393.5 121.47,408.6 121.50,409.5 121.52,395.5 121.55,390.4 121.57,412.7 121.60,409.3"/>
<polyline points="121.60,409.3 121.62,427.6 121.65,389.4 121.67,404.6 121.70,433.4 121.73,397.8 121.75,396.8"/>
<polyline points="121.75,396.8 121.78,438.6 121.80,396.6 121.83,410.7 121.85,400.4 121.88,401.5 121.90,399.2"/>
<polyline points="121.90,399.2 121.93,401.0 121.95,424.4 121.98,420.0 122.00,389.1 122.03,408.3 122.06,398.0"/>
<polyline points="122.06,398.0 122.08,402.7 122.11,404.3 122.13,393.3 122.16,395.9 122.18,407.8 122.21,412.0"/>
<polyline points="122.21,412.0 122.23,408.7 122.26,400.8 122.28,411.3 122.31,436.1 122.33,417.2 122.36,410.8"/>
<polyline points="122.36,410.8 122.38,398.2 122.41,401.5 122.43,416.1 122.46,409.2 122.49,401.9 122.51,398.2"/>
<polyline points="122.51,398.2 122.54,388.8 122.56,406.4 122.59,402.8 122.61,401.2 122.64,397.8 122.66,398.9"/>
<polyline points="122.66,398.9 122.69,408.4 122.71,397.7 122.74,422.3 122.76,402.4 122.79,410.7 122.81,398.0"/>
<polyline points="122.81,398.0 122.84,407.2 122.86,408.7 122.89,402.0 122.91,402.0 122.94,404.9 122.96,400.1"/>
<polyline points="122.96,400.1 122.99,393.3 123.01,401.8 123.04,398.4 123.06,390.2 123.09,394.9 123.11,402.0"/>
<polyline points="123.11,402.0 123.14,401.4 123.16,395.0 123.19,409.7 123.21,390.6 123.24,423.4 123.27,405.3"/>
<polyline points="123.27,405.3 123.29,400.8 123.32,398.4 123.34,417.4 123.37,396.5 123.39,401.5 123.42,403.8"/>
<polyline points="123.42,403.8 123.44,404.8 123.47,414.0 123.49,424.3 123.52,399.6 123.54,396.8 123.57,401.6"/>
<polyline points="123.57,401.6 123.59,427.2 123.62,392.0 123.64,403.3 123.67,396.0 123.69,387.2 123.72,426.4"/>
<polyline points="123.72,426.4 123.74,411.8 123.77,395.7 123.79,397.2 123.82,400.1 123.84,394.2 123.87,395.9"/>
<polyline points="123.87,395.9 123.89,408.6 123.92,399.3 123.94,400.2 123.96,410.0 123.99,401.0 124.01,416.1"/>
<polyline points="124.01,416.1 124.04,408.4 124.06,405.6 124.09,413.4 124.11,401.1 124.14,417.9 124.16,411.5"/>
<polyline points="124.16,411.5 124.19,400.0 124.21,391.3 124.24,432.9 124.26,403.8 124.29,405.5 124.31,427.7"/>
<polyline points="124.31,427.7 124.34,411.5 124.36,391.9 124.39,414.7 124.41,388.9 124.44,400.3 124.46,410.8"/>
<polyline points="124.46,410.8 124.49,394.9 124.51,389.6 124.54,384.4 124.56,410.4 124.59,422.9 124.61,394.8"/>
<polyline points="124.61,394.8 124.64,394.4 124.66,412.6 124.69,417.3 124.71,396.2 124.73,407.4 124.76,403.0"/>
<polyline points="124.76,403.0 124.78,405.7 124.81,404.7 124.83,405.0 124.86,411.7 124.88,419.2 124.91,390.5"/>
<polyline points="124.91,390.5 124.93,438.4 124.96,398.3 124.98,395.4 125.01,396.6 125.03,408.3 125.06,404.8"/>
<polyline points="125.06,404.8 125.08,400.4 125.11,400.7 125.13,405.7 125.15,409.1 125.18,393.7 125.20,396.8"/>
<polyline points="125.20,396.8 125.23,407.6 125.25,410.1 125.28,403.2 125.30,394.8 125.33,406.8 125.35,391.0"/>
<polyline points="125.35,391.0 125.38,412.5 125.40,400.3 125.43,420.6 125.45,405.9 125.47,419.7 125.50,408.6"/>
<polyline points="125.50,408.6 125.52,412.9 125.55,418.3 125.57,403.8 125.60,407.0 125.62,395.1 125.65,417.7"/>
<polyline points="125.65,417.7 125.67,405.0 125.70,397.4 125.72,410.7 125.74,399.7 125.77,390.2 125.79,401.3"/>
<polyline points="125.79,401.3 125.82,398.3 125.84,399.3 125.87,402.2 125.89,421.6 125.92,415.0 125.94,401.6"/>
<polyline points="125.94,401.6 125.97,402.0 125.99,400.4 126.01,448.5 126.04,407.3 126.06,410.0 126.09,409.9"/>
<polyline points="126.09,409.9 126.11,403.2 126.14,395.8 126.16,409.3 126.19,402.5 126.21,417.9 126.23,412.4"/>
<polyline points="126.23,412.4 126.26,394.3 126.28,416.9 126.31,400.9 126.33,400.9 126.36,400.5 126.38,397.5"/>
<polyline points="126.38,397.5 126.41,415.5 126.43,412.1 126.45,400.3 126.48,415.9 126.50,412.7 126.53,400.2"/>
<polyline points="126.53,400.2 126.55,400.9 126.58,415.8 126.60,429.8 126.62,402.1 126.65,412.1 126.67,401.4"/>
<polyline points="126.67,401.4 126.70,412.1 126.72,405.6 126.75,421.8 126.77,412.3 126.80,395.7 126.82,395.7"/>
<polyline points="126.82,395.7 126.84,404.3 126.87,401.1 126.89,404.9 126.92,404.1 126.94,411.6 126.97,404.8"/>
<polyline points="126.97,404.8 126.99,427.3 127.01,434.4 127.04,400.5 127.06,403.5 127.09,402.6 127.11,412.8"/>
<polyline points="127.11,412.8 127.13,405.4 127.16,403.0 127.18,413.3 127.21,397.8 127.23,394.1 127.26,406.9"/>
<polyline points="127.26,406.9 127.28,404.1 127.30,404.0 127.33,409.1 127.35,405.6 127.38,413.4 127.40,400.0"/>
<polyline points="127.40,400.0 127.43,431.5 127.45,443.4 127.47,401.7 127.50,409.4 127.52,395.9 127.55,400.3"/>
<polyline points="127.55,400.3 127.57,399.0 127.59,395.6 127.62,411.7 127.64,399.4 127.67,395.6 127.69,389.6"/>
<polyline points="127.69,389.6 127.72,428.0 127.74,421.5 127.76,417.2 127.79,407.6 127.81,409.3 127.84,399.2"/>
<polyline points="127.84,399.2 127.86,417.0 127.88,411.5 127.91,404.0 127.93,410.2 127.96,407.0 127.98,410.2"/>
<polyline points="127.98,410.2 128.00,412.3 128.03,410.6 128.05,402.0 128.08,396.2 128.10,396.8 128.12,416.2"/>
<polyline points="128.12,416.2 128.15,411.2 128.17,402.6 128.20,400.0 128.22,405.7 128.24,417.0 128.27,436.2"/>
<polyline points="128.27,436.2 128.29,421.0 128.32,403.2 128.34,401.7 128.36,407.3 128.39,393.9 128.41,413.0"/>
<polyline points="128.41,413.0 128.44,408.2 128.46,405.0 128.48,398.3 128.51,400.3 128.53,395.7 128.56,406.6"/>
<polyline points="128.56,406.6 128.58,409.4 128.60,409.6 128.63,411.0 128.65,423.6 128.68,391.7 128.70,406.1"/>
<polyline points="128.70,406.1 128.72,390.5 128.75,405.4 128.77,406.6 128.80,401.7 128.82,407.7 128.84,402.3"/>
<polyline points="128.84,402.3 128.87,414.2 128.89,404.1 128.91,391.2 128.94,403.9 128.96,399.6 128.99,396.1"/>
<polyline points="128.99,396.1 129.01,409.6 129.03,403.3 129.06,410.0 129.08,403.8 129.11,400.7 129.13,417.2"/>
<polyline points="129.13,417.2 129.15,404.8 129.18,400.9 129.20,391.8 129.22,412.5 129.25,398.5 129.27,409.7"/>
<polyline points="129.27,409.7 129.30,414.0 129.32,406.3 129.34,402.6 129.37,422.8 129.39,414.6 129.41,425.5"/>
<polyline points="129.41,425.5 129.44,401.1 129.46,412.9 129.49,401.5 129.51,406.9 129.53,409.5 129.56,392.8"/>
<polyline points="129.56,392.8 129.58,415.9 129.60,397.8 129.63,414.6 129.65,411.3 129.68,398.2 129.70,401.9"/>
<polyline points="129.70,401.9 129.72,412.7 129.75,395.7 129.77,408.3 129.79,397.0 129.82,416.6 129.84,410.0"/>
<polyline points="129.84,410.0 129.87,398.9 129.89,401.9 129.91,397.6 129.94,412.0 129.96,399.9 129.98,397.3"/>
<polyline points="129.98,397.3 130.01,401.7 130.03,402.2 130.05,409.8 130.08,400.1 130.10,398.1 130.13,404.3"/>
<polyline points="130.13,404.3 130.15,402.4 130.17,394.9 130.20,417.5 130.22,403.6 130.24,408.4 130.27,415.1"/>
<polyline points="130.27,415.1 130.29,409.5 130.31,397.6 130.34,414.4 130.36,402.7 130.38,403.0 130.41,409.8"/>
<polyline points="130.41,409.8 130.43,422.0 130.46,404.1 130.48,403.8 130.50,370.0 130.53,404.6 130.55,405.8"/>
<polyline points="130.55,405.8 130.57,407.2 130.60,392.2 130.62,395.7 130.64,388.3 130.67,422.6 130.69,427.5"/>
<polyline points="130.69,427.5 130.71,406.2 130.74,387.9 130.76,397.9 130.78,403.5 130.81,398.6 130.83,405.3"/>
<polyline points="130.83,405.3 130.85,406.0 130.88,419.2 130.90,419.9 130.93,399.5 130.95,409.4 130.97,421.8"/>
<polyline points="130.97,421.8 131.00,420.3 131.02,423.4 131.04,396.2 131.07,406.3 131.09,407.3 131.11,406.9"/>
<polyline points="131.11,406.9 131.14,407.4 131.16,422.3 131.18,406.3 131.21,400.3 131.23,402.6 131.25,410.8"/>
<polyline points="131.25,410.8 131.28,438.4 131.30,407.7 131.32,394.3 131.35,400.0 131.37,402.9 131.39,398.9"/>
<polyline points="131.39,398.9 131.42,398.3 131.44,413.8 131.46,402.6 131.49,393.9 131.51,408.5 131.53,408.5"/>
<polyline points="131.53,408.5 131.56,410.9 131.58,392.0 131.60,397.0 131.63,408.9 131.65,400.9 131.67,395.2"/>
<polyline points="131.67,395.2 131.70,393.7 131.72,423.9 131.74,406.9 131.77,394.6 131.79,406.6 131.81,416.3"/>
<polyline points="131.81,416.3 131.84,400.1 131.86,423.8 131.88,393.6 131.91,399.5 131.93,389.4 131.95,416.7"/>
<polyline points="131.95,416.7 131.98,403.3 132.00,414.3 132.02,405.4 132.05,404.1 132.07,415.7 132.09,412.0"/>
<polyline points="132.09,412.0 132.11,456.2 132.14,415.5 132.16,403.2 132.18,414.2 132.21,441.0 132.23,405.4"/>
<polyline points="132.23,405.4 132.25,407.8 132.28,405.4 132.30,396.6 132.32,404.4 132.35,409.0 132.37,411.4"/>
<polyline points="132.37,411.4 132.39,395.8 132.42,419.9 132.44,399.7 132.46,408.1 132.49,398.0 132.51,412.1"/>
<polyline points="132.51,412.1 132.53,396.0 132.55,414.8 132.58,398.1 132.60,412.2 132.62,400.5 132.65,406.6"/>
<polyline points="132.65,406.6 132.67,404.9 132.69,405.1 132.72,418.9 132.74,388.7 132.76,402.0 132.79,410.3"/>
<polyline points="132.79,410.3 132.81,408.9 132.83,403.9 132.86,402.9 132.88,400.0 132.90,407.0 132.92,406.1"/>
<polyline points="132.92,406.1 132.95,390.4 132.97,398.5 132.99,401.8 133.02,403.8 133.04,407.8 133.06,391.0"/>
<polyline points="133.06,391.0 133.09,408.5 133.11,393.3 133.13,395.1 133.15,412.5 133.18,407.9 133.20,406.1"/>
<polyline points="133.20,406.1 133.22,414.6 133.25,398.4 133.27,405.1 133.29,406.4 133.32,416.0 133.34,417.6"/>
<polyline points="133.34,417.6 133.36,404.9 133.38,407.2 133.41,414.9 133.43,397.6 133.45,396.7 133.48,395.4"/>
<polyline points="133.48,395.4 133.50,403.3 133.52,395.3 133.54,422.3 133.57,397.1 133.59,404.4 133.61,407.1"/>
<polyline points="133.61,407.1 133.64,393.5 133.66,417.6 133.68,422.0 133.71,399.1 133.73,397.8 133.75,405.7"/>
<polyline points="133.75,405.7 133.77,404.2 133.80,403.5 133.82,396.1 133.84,402.3 133.87,420.4 133.89,412.3"/>
<polyline points="133.89,412.3 133.91,394.8 133.93,402.4 133.96,406.9 133.98,425.6 134.00,431.6 134.02,426.4"/>
<polyline points="134.02,426.4 134.05,404.3 134.07,396.0 134.09,401.4 134.12,414.4 134.14,402.0 134.16,435.0"/>
<polyline points="134.16,435.0 134.18,397.5 134.21,394.3 134.23,419.7 134.25,413.0 134.28,451.3 134.30,424.1"/>
<polyline points="134.30,424.1 134.32,409.0 134.34,407.1 134.37,415.4 134.39,399.4 134.41,401.8 134.44,425.1"/>
<polyline points="134.44,425.1 134.46,410.6 134.48,406.1 134.50,430.0 134.53,409.6 134.55,396.1 134.57,407.6"/>
<polyline points="134.57,407.6 134.59,401.9 134.62,399.1 134.64,403.2 134.66,398.3 134.68,411.8 134.71,424.1"/>
<polyline points="134.71,424.1 134.73,426.4 134.75,402.3 134.78,419.8 134.80,417.7 134.82,409.3 134.84,403.9"/>
<polyline points="134.84,403.9 134.87,402.4 134.89,424.7 134.91,411.0 134.93,417.9 134.96,427.5 134.98,413.7"/>
<polyline points="134.98,413.7 135.00,426.9 135.02,405.4 135.05,406.0 135.07,405.6 135.09,414.0 135.12,398.9"/>
<polyline points="135.12,398.9 135.14,408.5 135.16,400.7 135.18,406.8 135.21,409.1 135.23,413.0 135.25,407.5"/>
<polyline points="135.25,407.5 135.27,440.0 135.30,419.0 135.32,415.8 135.34,413.9 135.36,403.6 135.39,399.5"/>
<polyline points="135.39,399.5 135.41,416.2 135.43,415.0 135.45,406.2 135.48,412.8 135.50,420.4 135.52,396.3"/>
<polyline points="135.52,396.3 135.54,402.4 135.57,402.4 135.59,408.9 135.61,416.0 135.63,406.4 135.66,413.5"/>
<polyline points="135.66,413.5 135.68,429.8 135.70,408.7 135.72,408.9 135.75,407.3 135.77,399.5 135.79,412.0"/>
<polyline points="135.79,412.0 135.81,402.0 135.84,404.6 135.86,410.5 135.88,412.9 135.90,401.6 135.93,393.9"/>
<polyline points="135.93,393.9 135.95,398.7 135.97,398.3 135.99,409.0 136.02,408.6 136.04,413.9 136.06,406.0"/>
<polyline points="136.06,406.0 136.08,419.6 136.11,402.0 136.13,410.3 136.15,419.5 136.17,412.6 136.20,404.6"/>
<polyline points="136.20,404.6 136.22,399.5 136.24,406.0 136.26,399.5 136.28,394.9 136.31,415.9 136.33,398.9"/>
<polyline points="136.33,398.9 136.35,412.6 136.37,405.8 136.40,415.0 136.42,409.4 136.44,407.7 136.46,412.4"/>
<polyline points="136.46,412.4 136.49,393.5 136.51,400.9 136.53,424.1 136.55,426.8 136.58,438.8 136.60,402.9"/>
<polyline points="136.60,402.9 136.62,415.4 136.64,396.6 136.66,404.5 136.69,402.4 136.71,420.0 136.73,405.1"/>
<polyline points="136.73,405.1 136.75,437.8 136.78,398.5 136.80,404.2 136.82,408.0 136.84,419.2 136.87,405.3"/>
<polyline points="136.87,405.3 136.89,406.0 136.91,406.8 136.93,411.9 136.95,403.3 136.98,404.6 137.00,405.7"/>
<polyline points="137.00,405.7 137.02,394.3 137.04,401.6 137.07,401.3 137.09,404.2 137.11,395.8 137.13,404.1"/>
<polyline points="137.13,404.1 137.15,400.0 137.18,426.5 137.20,414.2 137.22,393.8 137.24,423.7 137.27,418.6"/>
<polyline points="137.27,418.6 137.29,400.8 137.31,403.2 137.33,419.8 137.35,400.8 137.38,402.8 137.40,412.7"/>
<polyline points="137.40,412.7 137.42,398.1 137.44,416.2 137.46,418.5 137.49,419.5 137.51,404.9 137.53,395.4"/>
<polyline points="137.53,395.4 137.55,391.2 137.58,440.5 137.60,431.0 137.62,410.9 137.64,404.2 137.66,408.9"/>
<polyline points="137.66,408.9 137.69,400.0 137.71,398.1 137.73,399.4 137.75,405.0 137.77,440.7 137.80,419.9"/>
<polyline points="137.80,419.9 137.82,394.9 137.84,401.4 137.86,413.9 137.88,411.1 137.91,417.3 137.93,402.0"/>
<polyline points="137.93,402.0 137.95,414.0 137.97,406.2 138.00,413.2 138.02,418.5 138.04,398.1 138.06,407.6"/>
<polyline points="138.06,407.6 138.08,410.5 138.11,408.8 138.13,406.1 138.15,415.0 138.17,393.3 138.19,419.8"/>
<polyline points="138.19,419.8 138.22,404.0 138.24,401.6 138.26,405.2 138.28,407.5 138.30,423.8 138.33,427.2"/>
<polyline points="138.33,427.2 138.35,405.5 138.37,422.1 138.39,407.1 138.41,415.9 138.44,402.0 138.46,412.7"/>
<polyline points="138.46,412.7 138.48,402.6 138.50,421.6 138.52,407.0 138.54,409.1 138.57,401.5 138.59,402.0"/>
<polyline points="138.59,402.0 138.61,397.1 138.63,403.7 138.65,414.1 138.68,394.7 138.70,391.8 138.72,395.5"/>
<polyline points="138.72,395.5 138.74,401.0 138.76,412.1 138.79,402.8 138.81,397.6 138.83,411.2 138.85,404.3"/>
<polyline points="138.85,404.3 138.87,419.7 138.90,422.7 138.92,407.1 138.94,421.8 138.96,415.5 138.98,410.5"/>
<polyline points="138.98,410.5 139.00,400.1 139.03,400.9 139.05,399.8 139.07,409.9 139.09,405.1 139.11,414.4"/>
<polyline points="139.11,414.4 139.14,426.3 139.16,406.0 139.18,417.4 139.20,410.4 139.22,404.1 139.24,398.0"/>
<polyline points="139.24,398.0 139.27,407.4 139.29,403.2 139.31,403.3 139.33,421.4 139.35,429.2 139.38,409.0"/>
<polyline points="139.38,409.0 139.40,406.3 139.42,414.9 139.44,415.9 139.46,407.5 139.48,408.3 139.51,391.8"/>
<polyline points="139.51,391.8 139.53,423.6 139.55,401.2 139.57,399.7 139.59,413.1 139.62,394.2 139.64,406.7"/>
<polyline points="139.64,406.7 139.66,397.7 139.68,425.0 139.70,411.3 139.72,397.4 139.75,393.3 139.77,412.3"/>
<polyline points="139.77,412.3 139.79,396.3 139.81,421.4 139.83,432.2 139.85,409.0 139.88,406.9 139.90,401.1"/>
<polyline points="139.90,401.1 139.92,418.1 139.94,395.1 139.96,396.4 139.98,399.1 140.01,376.0 140.03,410.2"/>
<polyline points="140.03,410.2 140.05,421.5 140.07,404.9 140.09,419.2 140.11,415.8 140.14,407.7 140.16,404.0"/>
<polyline points="140.16,404.0 140.18,399.9 140.20,409.0 140.22,403.5 140.24,397.1 140.27,395.3 140.29,403.1"/>
<polyline points="140.29,403.1 140.31,402.2 140.33,406.7 140.35,405.0 140.37,401.9 140.39,405.7 140.42,416.5"/>
<polyline points="140.42,416.5 140.44,419.8 140.46,406.7 140.48,396.1 140.50,405.7 140.52,425.3 140.55,401.1"/>
<polyline points="140.55,401.1 140.57,430.3 140.59,404.5 140.61,404.9 140.63,405.0 140.65,441.7 140.68,432.3"/>
<polyline points="140.68,432.3 140.70,410.4 140.72,415.0 140.74,409.0 140.76,406.7 140.78,428.9 140.80,418.6"/>
<polyline points="140.80,418.6 140.83,408.6 140.85,395.9 140.87,417.2 140.89,404.8 140.91,395.8 140.93,417.6"/>
<polyline points="140.93,417.6 140.95,405.8 140.98,411.8 141.00,403.8 141.02,401.6 141.04,420.3 141.06,403.9"/>
<polyline points="141.06,403.9 141.08,414.3 141.11,397.2 141.13,428.2 141.15,409.6 141.17,391.9 141.19,438.1"/>
<polyline points="141.19,438.1 141.21,408.4 141.23,414.0 141.26,410.0 141.28,421.2 141.30,396.4 141.32,420.9"/>
<polyline points="141.32,420.9 141.34,405.4 141.36,392.0 141.38,417.4 141.41,413.1 141.43,402.7 141.45,435.5"/>
<polyline points="141.45,435.5 141.47,405.2 141.49,413.9 141.51,413.6 141.53,403.3 141.55,425.6 141.58,422.4"/>
<polyline points="141.58,422.4 141.60,407.9 141.62,398.4 141.64,419.8 141.66,410.9 141.68,438.0 141.70,409.8"/>
<polyline points="141.70,409.8 141.73,412.6 141.75,402.1 141.77,401.1 141.79,406.9 141.81,395.9 141.83,407.0"/>
<polyline points="141.83,407.0 141.85,414.0 141.87,410.2 141.90,408.4 141.92,399.9 141.94,401.6 141.96,397.8"/>
<polyline points="141.96,397.8 141.98,401.9 142.00,420.5 142.02,411.2 142.05,429.7 142.07,398.9 142.09,432.4"/>
<polyline points="142.09,432.4 142.11,410.7 142.13,405.1 142.15,392.1 142.17,395.2 142.19,419.3 142.22,410.4"/>
<polyline points="142.22,410.4 142.24,409.8 142.26,420.4 142.28,401.2 142.30,403.1 142.32,407.9 142.34,398.1"/>
<polyline points="142.34,398.1 142.36,410.2 142.39,406.0 142.41,403.9 142.43,414.4 142.45,413.3 142.47,409.0"/>
<polyline points="142.47,409.0 142.49,411.3 142.51,420.6 142.53,403.8 142.55,416.2 142.58,406.6 142.60,424.1"/>
<polyline points="142.60,424.1 142.62,402.5 142.64,403.5 142.66,398.4 142.68,406.5 142.70,393.7 142.72,425.5"/>
<polyline points="142.72,425.5 142.75,406.1 142.77,408.0 142.79,409.0 142.81,406.7 142.83,397.1 142.85,405.4"/>
<polyline points="142.85,405.4 142.87,410.2 142.89,407.7 142.91,408.5 142.94,433.9 142.96,408.0 142.98,395.8"/>
<polyline points="142.98,395.8 143.00,394.4 143.02,398.7 143.04,408.6 143.06,397.5 143.08,408.3 143.10,404.7"/>
<polyline points="143.10,404.7 143.13,406.2 143.15,417.3 143.17,396.3 143.19,403.8 143.21,398.6 143.23,417.7"/>
<polyline points="143.23,417.7 143.25,395.4 143.27,401.2 143.29,418.7 143.32,421.1 143.34,398.7 143.36,412.4"/>
<polyline points="143.36,412.4 143.38,418.9 143.40,392.1 143.42,413.0 143.44,398.3 143.46,400.6 143.48,403.1"/>
<polyline points="143.48,403.1 143.50,406.4 143.53,414.0 143.55,403.3 143.57,404.7 143.59,398.4 143.61,413.8"/>
<polyline points="143.61,413.8 143.63,389.2 143.65,402.9 143.67,397.1 143.69,400.3 143.71,404.2 143.74,406.7"/>
<polyline points="143.74,406.7 143.76,402.5 143.78,423.5 143.80,430.4 143.82,412.4 143.84,407.8 143.86,439.8"/>
<polyline points="143.86,439.8 143.88,415.0 143.90,416.0 143.92,393.8 143.94,403.9 143.97,407.6 143.99,400.8"/>
<polyline points="143.99,400.8 144.01,404.4 144.03,394.1 144.05,417.0 144.07,401.1 144.09,423.9 144.11,442.2"/>
<polyline points="144.11,442.2 144.13,400.0 144.15,423.1 144.17,409.9 144.20,413.6 144.22,416.9 144.24,414.0"/>
<polyline points="144.24,414.0 144.26,398.5 144.28,407.9 144.30,412.3 144.32,408.8 144.34,412.5 144.36,415.9"/>
<polyline points="144.36,415.9 144.38,402.2 144.40,405.0 144.43,407.7 144.45,399.7 144.47,424.9 144.49,406.9"/>
<polyline points="144.49,406.9 144.51,396.1 144.53,414.9 144.55,439.8 144.57,418.8 144.59,401.6 144.61,425.3"/>
<polyline points="144.61,425.3 144.63,425.8 144.65,403.7 144.68,437.4 144.70,426.2 144.72,404.4 144.74,406.6"/>
<polyline points="144.74,406.6 144.76,432.0 144.78,397.4 144.80,417.5 144.82,408.3 144.84,406.4 144.86,419.8"/>
<polyline points="144.86,419.8 144.88,406.6 144.90,401.1 144.92,399.6 144.95,416.0 144.97,400.2 144.99,409.2"/>
<polyline points="144.99,409.2 145.01,402.8 145.03,405.6 145.05,414.5 145.07,411.2 145.09,403.1 145.11,412.7"/>
<polyline points="145.11,412.7 145.13,400.7 145.15,400.8 145.17,408.0 145.19,409.1 145.21,404.8 145.24,400.8"/>
<polyline points="145.24,400.8 145.26,421.8 145.28,424.7 145.30,396.2 145.32,407.3 145.34,413.4 145.36,407.8"/>
<polyline points="145.36,407.8 145.38,411.8 145.40,420.4 145.42,414.5 145.44,419.2 145.46,400.3 145.48,425.5"/>
<polyline points="145.48,425.5 145.50,411.3 145.52,412.0 145.55,410.3 145.57,420.8 145.59,401.4 145.61,408.5"/>
<polyline points="145.61,408.5 145.63,412.8 145.65,404.2 145.67,400.6 145.69,397.0 145.71,397.1 145.73,417.9"/>
<polyline points="145.73,417.9 145.75,414.3 145.77,410.2 145.79,400.5 145.81,406.4 145.83,400.3 145.85,395.2"/>
<polyline points="145.85,395.2 145.88,397.6 145.90,402.2 145.92,416.8 145.94,412.7 145.96,405.1 145.98,386.8"/>
<polyline points="145.98,386.8 146.00,399.3 146.02,404.8 146.04,404.5 146.06,406.7 146.08,406.9 146.10,421.2"/>
<polyline points="146.10,421.2 146.12,405.2 146.14,436.5 146.16,404.0 146.18,396.2 146.20,417.9 146.22,402.7"/>
<polyline points="146.22,402.7 146.24,406.6 146.27,413.2 146.29,403.9 146.31,420.9 146.33,407.0 146.35,397.3"/>
<polyline points="146.35,397.3 146.37,398.5 146.39,411.2 146.41,407.3 146.43,406.1 146.45,436.1 146.47,410.6"/>
<polyline points="146.47,410.6 146.49,401.5 146.51,409.6 146.53,426.6 146.55,401.0 146.57,402.7 146.59,408.5"/>
<polyline points="146.59,408.5 146.61,405.2 146.63,407.2 146.65,400.4 146.67,402.7 146.70,456.3 146.72,404.4"/>
<polyline points="146.72,404.4 146.74,417.4 146.76,409.5 146.78,405.9 146.80,401.4 146.82,399.5 146.84,410.4"/>
<polyline points="146.84,410.4 146.86,399.9 146.88,397.2 146.90,411.1 146.92,402.3 146.94,420.7 146.96,444.6"/>
<polyline points="146.96,444.6 146.98,399.1 147.00,406.4 147.02,410.0 147.04,410.9 147.06,428.7 147.08,400.6"/>
<polyline points="147.08,400.6 147.10,416.5 147.12,393.2 147.14,411.5 147.16,406.3 147.18,397.4 147.21,426.7"/>
<polyline points="147.21,426.7 147.23,401.9 147.25,413.6 147.27,409.0 147.29,399.5 147.31,405.4 147.33,429.9"/>
<polyline points="147.33,429.9 147.35,413.0 147.37,422.9 147.39,435.9 147.41,409.5 147.43,413.7 147.45,403.7"/>
<polyline points="147.45,403.7 147.47,410.0 147.49,421.4 147.51,396.6 147.53,418.9 147.55,405.8 147.57,412.5"/>
<polyline points="147.57,412.5 147.59,420.1 147.61,409.1 147.63,410.0 147.65,450.7 147.67,398.2 147.69,399.9"/>
<polyline points="147.69,399.9 147.71,412.9 147.73,409.2 147.75,400.3 147.77,397.4 147.79,394.3 147.81,407.9"/>
<polyline points="147.81,407.9 147.83,402.5 147.85,402.6 147.87,397.6 147.89,410.6 147.92,403.6 147.94,402.0"/>
<polyline points="147.94,402.0 147.96,395.6 147.98,414.0 148.00,407.3 148.02,398.6 148.04,407.5 148.06,403.9"/>
<polyline points="148.06,403.9 148.08,415.4 148.10,411.9 148.12,426.3 148.14,397.9 148.16,419.8 148.18,409.8"/>
<polyline points="148.18,409.8 148.20,410.0 148.22,412.7 148.24,430.5 148.26,409.5 148.28,410.5 148.30,418.1"/>
<polyline points="148.30,418.1 148.32,412.0 148.34,407.0 148.36,409.5 148.38,399.4 148.40,422.3 148.42,395.8"/>
<polyline points="148.42,395.8 148.44,406.0 148.46,399.4 148.48,405.1 148.50,409.4 148.52,394.4 148.54,398.3"/>
<polyline points="148.54,398.3 148.56,398.5 148.58,392.6 148.60,406.3 148.62,415.7 148.64,414.0 148.66,401.3"/>
<polyline points="148.66,401.3 148.68,401.6 148.70,418.9 148.72,404.1 148.74,402.1 148.76,418.7 148.78,391.3"/>
<polyline points="148.78,391.3 148.80,396.2 148.82,397.3 148.84,414.8 148.86,407.9 148.88,411.1 148.90,426.5"/>
<polyline points="148.90,426.5 148.92,409.0 148.94,418.0 148.96,402.4 148.98,408.9 149.00,401.4 149.02,411.0"/>
<polyline points="149.02,411.0 149.04,406.6 149.06,399.3 149.08,408.6 149.10,394.5 149.12,408.4 149.14,402.6"/>
<polyline points="149.14,402.6 149.16,417.1 149.18,426.2 149.20,398.8 149.22,396.9 149.24,395.3 149.26,403.3"/>
<polyline points="149.26,403.3 149.28,397.7 149.30,395.8 149.32,406.2 149.34,418.7 149.36,408.1 149.38,415.3"/>
<polyline points="149.38,415.3 149.40,398.6 149.42,407.4 149.44,408.7 149.46,401.3 149.48,398.9 149.50,397.1"/>
<polyline points="149.50,397.1 149.52,397.7 149.54,406.4 149.56,389.6 149.58,404.6 149.60,394.8 149.62,422.7"/>
<polyline points="149.62,422.7 149.64,419.2 149.66,409.8 149.68,408.3 149.70,402.6 149.72,399.6 149.74,409.8"/>
<polyline points="149.74,409.8 149.76,397.8 149.78,422.6 149.80,453.6 149.82,401.5 149.84,403.2 149.86,394.8"/>
<polyline points="149.86,394.8 149.88,414.7 149.90,394.6 149.92,425.8 149.94,402.0 149.96,395.3 149.98,419.1"/>
<polyline points="149.98,419.1 150.00,395.2 150.02,447.7 150.04,405.9 150.06,412.2 150.08,404.4 150.10,420.5"/>
<polyline points="150.10,420.5 150.12,419.5 150.14,392.6 150.16,408.9 150.18,425.2 150.20,411.9 150.22,405.9"/>
<polyline points="150.22,405.9 150.24,401.0 150.26,397.2 150.28,393.4 150.30,437.8 150.32,413.8 150.34,400.2"/>
<polyline points="150.34,400.2 150.36,401.4 150.38,411.3 150.40,407.4 150.41,419.8 150.43,401.2 150.45,407.0"/>
<polyline points="150.45,407.0 150.47,420.3 150.49,406.6 150.51,423.5 150.53,403.0 150.55,406.0 150.57,404.7"/>
<polyline points="150.57,404.7 150.59,415.4 150.61,397.9 150.63,400.9 150.65,412.0 150.67,408.2 150.69,440.3"/>
<polyline points="150.69,440.3 150.71,409.6 150.73,395.7 150.75,420.1 150.77,399.1 150.79,429.9 150.81,426.7"/>
<polyline points="150.81,426.7 150.83,409.8 150.85,408.9 150.87,408.8 150.89,396.6 150.91,416.1 150.93,398.5"/>
<polyline points="150.93,398.5 150.95,409.2 150.97,423.6 150.99,407.1 151.01,411.2 151.03,408.5 151.05,414.9"/>
<polyline points="151.05,414.9 151.07,445.8 151.09,418.5 151.11,411.0 151.12,421.7 151.14,399.0 151.16,410.9"/>
<polyline points="151.16,410.9 151.18,395.8 151.20,423.4 151.22,403.1 151.24,419.2 151.26,416.6 151.28,403.6"/>
<polyline points="151.28,403.6 151.30,399.3 151.32,404.6 151.34,414.1 151.36,424.1 151.38,420.5 151.40,408.8"/>
<polyline points="151.40,408.8 151.42,413.5 151.44,399.4 151.46,406.2 151.48,418.0 151.50,418.7 151.52,407.9"/>
<polyline points="151.52,407.9 151.54,421.8 151.56,409.6 151.58,411.4 151.60,407.4 151.62,411.1 151.63,421.7"/>
<polyline points="151.63,421.7 151.65,405.6 151.67,413.5 151.69,412.7 151.71,405.0 151.73,403.4 151.75,393.6"/>
<polyline points="151.75,393.6 151.77,412.4 151.79,403.4 151.81,396.5 151.83,415.2 151.85,401.8 151.87,430.6"/>
<polyline points="151.87,430.6 151.89,403.0 151.91,413.8 151.93,424.2 151.95,418.5 151.97,397.3 151.99,415.6"/>
<polyline points="151.99,415.6 152.01,396.0 152.03,417.7 152.05,405.4 152.06,409.2 152.08,402.7 152.10,418.7"/>
<polyline points="152.10,418.7 152.12,413.4 152.14,413.6 152.16,407.8 152.18,407.7 152.20,414.6 152.22,405.3"/>
<polyline points="152.22,405.3 152.24,417.7 152.26,407.2 152.28,436.4 152.30,401.6 152.32,408.2 152.34,409.9"/>
<polyline points="152.34,409.9 152.36,437.9 152.38,397.2 152.40,421.0 152.42,408.9 152.43,434.4 152.45,416.0"/>
<polyline points="152.45,416.0 152.47,408.2 152.49,402.8 152.51,410.3 152.53,409.7 152.55,395.8 152.57,415.2"/>
<polyline points="152.57,415.2 152.59,419.9 152.61,411.6 152.63,411.1 152.65,403.3 152.67,430.4 152.69,423.6"/>
<polyline points="152.69,423.6 152.71,408.9 152.73,410.8 152.75,395.0 152.76,416.0 152.78,409.4 152.80,412.8"/>
<polyline points="152.80,412.8 152.82,403.7 152.84,415.6 152.86,403.3 152.88,401.1 152.90,421.6 152.92,420.6"/>
<polyline points="152.92,420.6 152.94,409.4 152.96,405.0 152.98,414.7 153.00,420.3 153.02,397.7 153.04,407.4"/>
<polyline points="153.04,407.4 153.05,403.2 153.07,410.5 153.09,405.4 153.11,396.5 153.13,409.6 153.15,396.8"/>
<polyline points="153.15,396.8 153.17,409.3 153.19,409.9 153.21,402.6 153.23,405.9 153.25,422.1 153.27,417.9"/>
<polyline points="153.27,417.9 153.29,401.8 153.31,418.3 153.33,415.6 153.34,409.7 153.36,411.4 153.38,413.2"/>
<polyline points="153.38,413.2 153.40,409.4 153.42,417.0 153.44,399.1 153.46,425.2 153.48,409.5 153.50,412.0"/>
<polyline points="153.50,412.0 153.52,405.5 153.54,397.7 153.56,410.7 153.58,405.8 153.59,414.0 153.61,426.5"/>
<polyline points="153.61,426.5 153.63,397.3 153.65,395.5 153.67,403.9 153.69,419.9 153.71,420.5 153.73,412.5"/>
<polyline points="153.73,412.5 153.75,413.3 153.77,411.7 153.79,416.8 153.81,399.1 153.83,424.5 153.84,420.0"/>
<polyline points="153.84,420.0 153.86,399.9 153.88,409.2 153.90,400.1 153.92,413.6 153.94,411.1 153.96,410.3"/>
<polyline points="153.96,410.3 153.98,420.1 154.00,393.4 154.02,392.5 154.04,408.4 154.06,403.8 154.07,398.7"/>
<polyline points="154.07,398.7 154.09,410.1 154.11,407.8 154.13,412.7 154.15,400.8 154.17,406.6 154.19,414.8"/>
<polyline points="154.19,414.8 154.21,416.7 154.23,404.8 154.25,404.4 154.27,403.0 154.29,409.2 154.30,418.5"/>
<polyline points="154.30,418.5 154.32,408.0 154.34,412.5 154.36,416.2 154.38,405.4 154.40,402.4 154.42,430.9"/>
<polyline points="154.42,430.9 154.44,399.4 154.46,421.9 154.48,418.6 154.50,411.9 154.51,402.3 154.53,422.4"/>
<polyline points="154.53,422.4 154.55,407.2 154.57,410.1 154.59,407.1 154.61,417.3 154.63,437.0 154.65,399.6"/>
<polyline points="154.65,399.6 154.67,413.6 154.69,415.0 154.71,404.8 154.72,414.6 154.74,408.6 154.76,405.1"/>
<polyline points="154.76,405.1 154.78,412.4 154.80,402.8 154.82,413.9 154.84,418.4 154.86,413.1 154.88,409.4"/>
<polyline points="154.88,409.4 154.90,406.0 154.91,407.2 154.93,405.9 154.95,406.6 154.97,403.5 154.99,414.9"/>
<polyline points="154.99,414.9 155.01,414.4 155.03,398.8 155.05,411.8 155.07,399.5 155.09,416.6 155.11,401.4"/>
<polyline points="155.11,401.4 155.12,394.6 155.14,405.9 155.16,404.1 155.18,395.6 155.20,420.3 155.22,417.6"/>
<polyline points="155.22,417.6 155.24,422.7 155.26,419.2 155.28,404.1 155.29,400.3 155.31,419.5 155.33,419.4"/>
<polyline points="155.33,419.4 155.35,411.2 155.37,404.7 155.39,411.9 155.41,411.4 155.43,407.4 155.45,413.6"/>
<polyline points="155.45,413.6 155.47,429.3 155.48,434.7 155.50,397.7 155.52,416.7 155.54,394.2 155.56,410.3"/>
<polyline points="155.56,410.3 155.58,406.9 155.60,407.6 155.62,408.6 155.64,413.8 155.65,412.3 155.67,435.2"/>
<polyline points="155.67,435.2 155.69,425.6 155.71,408.5 155.73,428.0 155.75,402.0 155.77,410.5 155.79,414.1"/>
<polyline points="155.79,414.1 155.81,412.1 155.82,405.0 155.84,422.3 155.86,396.8 155.88,444.5 155.90,433.0"/>
<polyline points="155.90,433.0 155.92,426.4 155.94,394.7 155.96,418.6 155.98,413.9 155.99,402.9 156.01,419.1"/>
<polyline points="156.01,419.1 156.03,409.4 156.05,417.6 156.07,402.6 156.09,407.6 156.11,419.4 156.13,401.3"/>
<polyline points="156.13,401.3 156.14,402.7 156.16,407.5 156.18,407.4 156.20,413.7 156.22,403.5 156.24,406.9"/>
<polyline points="156.24,406.9 156.26,408.8 156.28,419.5 156.30,410.2 156.31,397.8 156.33,415.2 156.35,404.0"/>
<polyline points="156.35,404.0 156.37,402.0 156.39,403.9 156.41,418.5 156.43,410.0 156.45,406.4 156.46,424.2"/>
<polyline points="156.46,424.2 156.48,414.2 156.50,402.1 156.52,406.1 156.54,416.3 156.56,404.9 156.58,399.6"/>
<polyline points="156.58,399.6 156.60,422.3 156.61,419.1 156.63,417.7 156.65,408.1 156.67,412.0 156.69,413.7"/>
<polyline points="156.69,413.7 156.71,400.4 156.73,406.0 156.75,399.1 156.76,401.3 156.78,408.8 156.80,406.9"/>
<polyline points="156.80,406.9 156.82,408.7 156.84,416.8 156.86,394.5 156.88,417.3 156.90,396.4 156.91,400.1"/>
<polyline points="156.91,400.1 156.93,399.2 156.95,414.4 156.97,412.5 156.99,437.2 157.01,412.6 157.03,408.3"/>
<polyline points="157.03,408.3 157.04,412.3 157.06,416.6 157.08,424.4 157.10,408.9 157.12,405.1 157.14,414.7"/>
<polyline points="157.14,414.7 157.16,404.0 157.18,403.3 157.19,406.4 157.21,415.1 157.23,410.1 157.25,415.7"/>
<polyline points="157.25,415.7 157.27,407.5 157.29,402.6 157.31,424.4 157.32,406.1 157.34,424.0 157.36,420.5"/>
<polyline points="157.36,420.5 157.38,397.5 157.40,400.6 157.42,416.2 157.44,417.9 157.45,424.6 157.47,408.4"/>
<polyline points="157.47,408.4 157.49,408.4 157.51,415.8 157.53,427.0 157.55,410.9 157.57,408.5 157.58,396.1"/>
<polyline points="157.58,396.1 157.60,401.1 157.62,404.0 157.64,404.4 157.66,406.2 157.68,402.2 157.70,401.4"/>
<polyline points="157.70,401.4 157.71,403.3 157.73,413.1 157.75,410.7 157.77,411.0 157.79,414.0 157.81,411.6"/>
<polyline points="157.81,411.6 157.83,410.9 157.84,413.8 157.86,410.9 157.88,409.4 157.90,409.7 157.92,405.2"/>
<polyline points="157.92,405.2 157.94,411.3 157.96,403.6 157.97,412.6 157.99,403.1 158.01,416.5 158.03,405.5"/>
<polyline points="158.03,405.5 158.05,401.0 158.07,394.0 158.09,413.6 158.10,424.1 158.12,404.1 158.14,407.4"/>
<polyline points="158.14,407.4 158.16,440.4 158.18,416.2 158.20,441.2 158.21,399.2 158.23,417.7 158.25,404.7"/>
<polyline points="158.25,404.7 158.27,397.5 158.29,405.0 158.31,419.8 158.33,425.1 158.34,416.8 158.36,409.2"/>
<polyline points="158.36,409.2 158.38,420.9 158.40,409.9 158.42,399.0 158.44,405.6 158.45,404.3 158.47,411.8"/>
<polyline points="158.47,411.8 158.49,403.1 158.51,401.5 158.53,424.1 158.55,411.9 158.57,440.8 158.58,400.7"/>
<polyline points="158.58,400.7 158.60,432.9 158.62,407.1 158.64,418.2 158.66,408.9 158.68,418.7 158.69,416.1"/>
<polyline points="158.69,416.1 158.71,398.7 158.73,409.0 158.75,405.8 158.77,412.7 158.79,425.7 158.80,415.3"/>
<polyline points="158.80,415.3 158.82,439.0 158.84,407.9 158.86,439.8 158.88,414.8 158.90,416.3 158.91,401.1"/>
<polyline points="158.91,401.1 158.93,407.4 158.95,416.9 158.97,418.8 158.99,411.5 159.01,406.4 159.03,402.5"/>
<polyline points="159.03,402.5 159.04,426.8 159.06,401.1 159.08,399.6 159.10,407.7 159.12,405.2 159.14,397.7"/>
<polyline points="159.14,397.7 159.15,435.5 159.17,426.6 159.19,400.6 159.21,398.9 159.23,438.8 159.25,436.5"/>
<polyline points="159.25,436.5 159.26,444.4 159.28,415.0 159.30,412.7 159.32,405.8 159.34,406.8 159.35,422.3"/>
<polyline points="159.35,422.3 159.37,404.2 159.39,410.9 159.41,405.4 159.43,419.3 159.45,414.0 159.46,411.7"/>
<polyline points="159.46,411.7 159.48,445.6 159.50,415.6 159.52,414.3 159.54,410.6 159.56,421.6 159.57,423.8"/>
<polyline points="159.57,423.8 159.59,402.5 159.61,393.5 159.63,395.3 159.65,407.5 159.67,433.3 159.68,441.7"/>
<polyline points="159.68,441.7 159.70,411.9 159.72,417.5 159.74,419.5 159.76,406.4 159.78,399.9 159.79,412.3"/>
<polyline points="159.79,412.3 159.81,403.6 159.83,415.9 159.85,416.4 159.87,421.9 159.88,403.6 159.90,406.8"/>
<polyline points="159.90,406.8 159.92,430.1 159.94,411.3 159.96,425.2 159.98,431.7 159.99,422.9 160.01,406.0"/>
<polyline points="160.01,406.0 160.03,418.1 160.05,407.0 160.07,406.5 160.08,413.5 160.10,395.6 160.12,415.8"/>
<polyline points="160.12,415.8 160.14,407.3 160.16,407.2 160.18,415.1 160.19,415.0 160.21,403.3 160.23,402.5"/>
<polyline points="160.23,402.5 160.25,415.6 160.27,408.0 160.28,412.5 160.30,411.6 160.32,415.1 160.34,398.3"/>
<polyline points="160.34,398.3 160.36,414.3 160.38,421.8 160.39,409.3 160.41,407.8 160.43,397.0 160.45,406.4"/>
<polyline points="160.45,406.4 160.47,419.5 160.48,428.2 160.50,372.0 160.52,416.5 160.54,412.4 160.56,412.0"/>
<polyline points="160.56,412.0 160.57,412.8 160.59,407.3 160.61,394.7 160.63,423.1 160.65,407.6 160.66,408.2"/>
<polyline points="160.66,408.2 160.68,415.4 160.70,410.3 160.72,417.1 160.74,404.7 160.76,414.3 160.77,396.0"/>
<polyline points="160.77,396.0 160.79,414.9 160.81,403.3 160.83,404.3 160.85,409.8 160.86,413.2 160.88,413.1"/>
<polyline points="160.88,413.1 160.90,415.2 160.92,407.3 160.94,403.7 160.95,408.6 160.97,408.5 160.99,425.1"/>
<polyline points="160.99,425.1 161.01,412.9 161.03,405.4 161.04,399.7 161.06,420.4 161.08,418.3 161.10,405.3"/>
<polyline points="161.10,405.3 161.12,412.8 161.13,425.8 161.15,417.2 161.17,392.1 161.19,423.4 161.21,413.9"/>
<polyline points="161.21,413.9 161.22,399.6 161.24,407.2 161.26,404.7 161.28,397.3 161.30,419.9 161.31,406.9"/>
<polyline points="161.31,406.9 161.33,418.7 161.35,422.2 161.37,423.5 161.39,406.9 161.40,421.4 161.42,403.5"/>
<polyline points="161.42,403.5 161.44,415.3 161.46,423.6 161.48,402.5 161.49,405.7 161.51,422.3 161.53,415.2"/>
<polyline points="161.53,415.2 161.55,408.9 161.57,412.9 161.58,422.0 161.60,410.2 161.62,403.3 161.64,396.3"/>
<polyline points="161.64,396.3 161.66,410.6 161.67,412.6 161.69,414.4 161.71,436.0 161.73,403.1 161.75,456.1"/>
<polyline points="161.75,456.1 161.76,404.5 161.78,400.8 161.80,413.9 161.82,414.5 161.83,409.5 161.85,415.8"/>
<polyline points="161.85,415.8 161.87,411.4 161.89,409.7 161.91,402.5 161.92,409.0 161.94,407.1 161.96,423.7"/>
<polyline points="161.96,423.7 161.98,421.3 162.00,429.0 162.01,418.5 162.03,402.7 162.05,404.5 162.07,415.7"/>
<polyline points="162.07,415.7 162.09,405.5 162.10,416.0 162.12,405.8 162.14,412.5 162.16,413.7 162.17,397.4"/>
<polyline points="162.17,397.4 162.19,399.8 162.21,440.0 162.23,405.1 162.25,410.2 162.26,400.3 162.28,414.8"/>
<polyline points="162.28,414.8 162.30,409.4 162.32,422.1 162.34,410.0 162.35,411.9 162.37,411.7 162.39,422.1"/>
<polyline points="162.39,422.1 162.41,410.8 162.42,399.0 162.44,420.1 162.46,403.2 162.48,421.6 162.50,433.2"/>
<polyline points="162.50,433.2 162.51,412.2 162.53,410.0 162.55,399.0 162.57,439.6 162.58,408.2 162.60,405.7"/>
<polyline points="162.60,405.7 162.62,411.9 162.64,404.9 162.66,420.6 162.67,412.6 162.69,427.0 162.71,404.7"/>
<polyline points="162.71,404.7 162.73,433.3 162.74,428.7 162.76,402.5 162.78,409.7 162.80,413.0 162.82,425.8"/>
<polyline points="162.82,425.8 162.83,421.2 162.85,403.4 162.87,415.2 162.89,408.2 162.90,411.9 162.92,417.4"/>
<polyline points="162.92,417.4 162.94,395.7 162.96,418.3 162.98,411.8 162.99,407.9 163.01,408.2 163.03,412.8"/>
<polyline points="163.03,412.8 163.05,422.4 163.06,412.3 163.08,404.7 163.10,430.9 163.12,409.0 163.13,406.4"/>
<polyline points="163.13,406.4 163.15,404.9 163.17,420.6 163.19,419.8 163.21,404.1 163.22,405.4 163.24,398.4"/>
<polyline points="163.24,398.4 163.26,411.0 163.28,421.6 163.29,415.0 163.31,409.7 163.33,418.8 163.35,400.9"/>
<polyline points="163.35,400.9 163.36,405.6 163.38,429.0 163.40,412.8 163.42,419.2 163.44,410.7 163.45,455.9"/>
<polyline points="163.45,455.9 163.47,415.4 163.49,412.1 163.51,420.1 163.52,401.1 163.54,404.5 163.56,405.4"/>
<polyline points="163.56,405.4 163.58,433.9 163.59,414.7 163.61,400.6 163.63,428.3 163.65,424.3 163.66,411.5"/>
<polyline points="163.66,411.5 163.68,410.4 163.70,400.3 163.72,404.6 163.74,395.3 163.75,402.7 163.77,397.5"/>
<polyline points="163.77,397.5 163.79,402.5 163.81,409.4 163.82,410.4 163.84,411.1 163.86,420.8 163.88,435.2"/>
<polyline points="163.88,435.2 163.89,423.9 163.91,419.4 163.93,401.8 163.95,412.0 163.96,415.5 163.98,422.4"/>
<polyline points="163.98,422.4 164.00,420.3 164.02,401.6 164.03,423.5 164.05,419.2 164.07,416.6 164.09,407.8"/>
<polyline points="164.09,407.8 164.10,405.4 164.12,401.9 164.14,409.0 164.16,416.3 164.17,419.7 164.19,434.4"/>
<polyline points="164.19,434.4 164.21,402.8 164.23,406.0 164.24,417.5 164.26,402.8 164.28,404.1 164.30,428.1"/>
<polyline points="164.30,428.1 164.31,410.0 164.33,403.5 164.35,407.2 164.37,426.6 164.38,421.5 164.40,411.8"/>
<polyline points="164.40,411.8 164.42,399.9 164.44,435.4 164.45,412.3 164.47,405.1 164.49,402.9 164.51,428.8"/>
<polyline points="164.51,428.8 164.52,428.9 164.54,406.3 164.56,416.4 164.58,411.5 164.59,411.4 164.61,428.8"/>
<polyline points="164.61,428.8 164.63,405.4 164.65,432.7 164.66,418.6 164.68,413.4 164.70,416.2 164.72,398.9"/>
<polyline points="164.72,398.9 164.73,394.9 164.75,406.0 164.77,406.9 164.79,437.1 164.80,409.9 164.82,414.1"/>
<polyline points="164.82,414.1 164.84,430.5 164.86,392.2 164.87,447.0 164.89,407.1 164.91,422.4 164.93,395.8"/>
<polyline points="164.93,395.8 164.94,405.7 164.96,425.9 164.98,408.6 165.00,411.8 165.01,407.6 165.03,438.5"/>
<polyline points="165.03,438.5 165.05,410.8 165.07,402.6 165.08,458.7 165.10,414.8 165.12,406.9 165.14,436.0"/>
<polyline points="165.14,436.0 165.15,397.1 165.17,404.6 165.19,403.6 165.21,403.8 165.22,400.9 165.24,403.3"/>
<polyline points="165.24,403.3 165.26,414.3 165.27,410.5 165.29,411.3 165.31,415.3 165.33,414.1 165.34,414.7"/>
<polyline points="165.34,414.7 165.36,410.6 165.38,403.4 165.40,412.1 165.41,395.0 165.43,404.3 165.45,416.0"/>
<polyline points="165.45,416.0 165.47,404.8 165.48,423.9 165.50,411.5 165.52,418.4 165.53,409.3 165.55,401.9"/>
<polyline points="165.55,401.9 165.57,413.7 165.59,399.2 165.60,414.3 165.62,426.3 165.64,419.3 165.66,414.0"/>
<polyline points="165.66,414.0 165.67,409.7 165.69,417.3 165.71,416.7 165.73,395.4 165.74,415.4 165.76,410.9"/>
<polyline points="165.76,410.9 165.78,414.4 165.79,408.6 165.81,414.3 165.83,412.2 165.85,428.5 165.86,402.5"/>
<polyline points="165.86,402.5 165.88,419.5 165.90,411.4 165.92,402.2 165.93,406.0 165.95,409.2 165.97,399.9"/>
<polyline points="165.97,399.9 165.98,425.6 166.00,413.3 166.02,412.3 166.04,418.8 166.05,400.7 166.07,404.5"/>
<polyline points="166.07,404.5 166.09,410.4 166.11,408.1 166.12,410.4 166.14,401.3 166.16,398.4 166.17,396.4"/>
<polyline points="166.17,396.4 166.19,407.7 166.21,401.5 166.23,405.4 166.24,428.9 166.26,400.0 166.28,419.8"/>
<polyline points="166.28,419.8 166.30,408.9 166.31,414.0 166.33,415.3 166.35,410.2 166.36,413.4 166.38,420.1"/>
<polyline points="166.38,420.1 166.40,409.3 166.42,401.6 166.43,400.3 166.45,403.2 166.47,407.2 166.48,409.6"/>
<polyline points="166.48,409.6 166.50,420.0 166.52,417.8 166.54,410.4 166.55,410.4 166.57,404.5 166.59,414.6"/>
<polyline points="166.59,414.6 166.60,414.5 166.62,404.9 166.64,402.8 166.66,411.2 166.67,404.7 166.69,396.5"/>
<polyline points="166.69,396.5 166.71,405.1 166.73,412.1 166.74,410.5 166.76,423.0 166.78,414.5 166.79,399.6"/>
<polyline points="166.79,399.6 166.81,422.3 166.83,417.4 166.85,410.9 166.86,420.5 166.88,421.1 166.90,396.1"/>
<polyline points="166.90,396.1 166.91,448.7 166.93,405.1 166.95,399.5 166.97,453.9 166.98,419.8 167.00,414.1"/>
<polyline points="167.00,414.1 167.02,408.4 167.03,426.3 167.05,408.3 167.07,399.5 167.08,412.9 167.10,418.7"/>
<polyline points="167.10,418.7 167.12,404.3 167.14,400.8 167.15,413.2 167.17,413.0 167.19,419.6 167.20,419.9"/>
<polyline points="167.20,419.9 167.22,399.6 167.24,422.3 167.26,418.0 167.27,409.2 167.29,399.2 167.31,423.9"/>
<polyline points="167.31,423.9 167.32,406.6 167.34,410.4 167.36,396.7 167.38,397.8 167.39,406.7 167.41,401.9"/>
<polyline points="167.41,401.9 167.43,420.6 167.44,417.4 167.46,428.1 167.48,414.6 167.49,427.1 167.51,403.4"/>
<polyline points="167.51,403.4 167.53,429.9 167.55,434.1 167.56,411.0 167.58,404.1 167.60,432.6 167.61,409.5"/>
<polyline points="167.61,409.5 167.63,416.6 167.65,407.5 167.67,430.7 167.68,437.1 167.70,395.7 167.72,402.1"/>
<polyline points="167.72,402.1 167.73,404.4 167.75,410.6 167.77,400.6 167.78,426.0 167.80,420.4 167.82,411.2"/>
<polyline points="167.82,411.2 167.84,416.7 167.85,415.8 167.87,409.0 167.89,409.9 167.90,412.8 167.92,420.9"/>
<polyline points="167.92,420.9 167.94,408.4 167.95,412.6 167.97,427.1 167.99,413.2 168.00,415.1 168.02,417.5"/>
<polyline points="168.02,417.5 168.04,436.9 168.06,425.7 168.07,430.3 168.09,430.7 168.11,412.2 168.12,432.3"/>
<polyline points="168.12,432.3 168.14,403.7 168.16,408.4 168.17,410.0 168.19,401.7 168.21,414.3 168.23,401.0"/>
<polyline points="168.23,401.0 168.24,419.6 168.26,425.5 168.28,449.8 168.29,413.6 168.31,408.0 168.33,405.2"/>
<polyline points="168.33,405.2 168.34,404.2 168.36,410.6 168.38,413.3 168.39,399.5 168.41,418.2 168.43,419.3"/>
<polyline points="168.43,419.3 168.45,404.8 168.46,408.3 168.48,406.0 168.50,413.6 168.51,441.3 168.53,410.7"/>
<polyline points="168.53,410.7 168.55,410.0 168.56,407.4 168.58,413.4 168.60,417.9 168.61,421.1 168.63,413.3"/>
<polyline points="168.63,413.3 168.65,413.6 168.66,417.3 168.68,410.1 168.70,403.0 168.72,399.5 168.73,411.1"/>
<polyline points="168.73,411.1 168.75,406.4 168.77,432.1 168.78,419.2 168.80,410.9 168.82,425.8 168.83,430.6"/>
<polyline points="168.83,430.6 168.85,410.5 168.87,413.5 168.88,415.7 168.90,403.9 168.92,411.5 168.93,416.8"/>
<polyline points="168.93,416.8 168.95,414.7 168.97,405.3 168.98,407.2 169.00,418.2 169.02,410.5 169.04,404.0"/>
<polyline points="169.04,404.0 169.05,456.8 169.07,419.3 169.09,413.8 169.10,402.1 169.12,408.3 169.14,422.1"/>
<polyline points="169.14,422.1 169.15,444.0 169.17,426.6 169.19,420.4 169.20,425.2 169.22,411.6 169.24,405.1"/>
<polyline points="169.24,405.1 169.25,405.2 169.27,400.2 169.29,414.5 169.30,399.4 169.32,411.5 169.34,412.6"/>
<polyline points="169.34,412.6 169.35,413.1 169.37,422.6 169.39,415.8 169.40,418.3 169.42,428.4 169.44,401.7"/>
<polyline points="169.44,401.7 169.45,413.4 169.47,404.8 169.49,425.1 169.51,401.1 169.52,407.3 169.54,420.9"/>
<polyline points="169.54,420.9 169.56,404.9 169.57,421.5 169.59,421.7 169.61,407.1 169.62,410.1 169.64,409.6"/>
<polyline points="169.64,409.6 169.66,414.2 169.67,411.8 169.69,419.4 169.71,395.9 169.72,405.2 169.74,409.1"/>
<polyline points="169.74,409.1 169.76,408.1 169.77,414.5 169.79,408.8 169.81,410.1 169.82,415.0 169.84,414.6"/>
<polyline points="169.84,414.6 169.86,422.8 169.87,418.1 169.89,414.5 169.91,396.8 169.92,412.8 169.94,410.1"/>
<polyline points="169.94,410.1 169.96,394.5 169.97,410.2 169.99,411.9 170.01,426.3 170.02,446.8 170.04,423.9"/>
<polyline points="170.04,423.9 170.06,406.1 170.07,403.8 170.09,400.0 170.11,415.2 170.12,400.0 170.14,413.9"/>
<polyline points="170.14,413.9 170.16,400.6 170.17,413.7 170.19,412.7 170.21,415.9 170.22,393.4 170.24,398.3"/>
<polyline points="170.24,398.3 170.26,409.4 170.27,431.8 170.29,398.5 170.31,406.7 170.32,400.8 170.34,421.8"/>
<polyline points="170.34,421.8 170.36,409.6 170.37,400.6 170.39,411.0 170.41,402.6 170.42,411.5 170.44,408.3"/>
<polyline points="170.44,408.3 170.46,403.2 170.47,402.9 170.49,413.0 170.51,413.7 170.52,410.8 170.54,406.4"/>
<polyline points="170.54,406.4 170.56,418.1 170.57,398.1 170.59,410.3 170.61,406.1 170.62,404.5 170.64,401.6"/>
<polyline points="170.64,401.6 170.66,404.4 170.67,438.5 170.69,451.6 170.70,409.3 170.72,411.9 170.74,401.7"/>
<polyline points="170.74,401.7 170.75,420.2 170.77,413.3 170.79,407.6 170.80,399.9 170.82,409.8 170.84,401.3"/>
<polyline points="170.84,401.3 170.85,426.8 170.87,406.1 170.89,410.9 170.90,414.7 170.92,409.5 170.94,407.0"/>
<polyline points="170.94,407.0 170.95,420.0 170.97,413.3 170.99,396.7 171.00,408.3 171.02,428.4 171.04,412.7"/>
<polyline points="171.04,412.7 171.05,399.4 171.07,403.6 171.09,423.8 171.10,402.4 171.12,414.5 171.13,407.9"/>
<polyline points="171.13,407.9 171.15,417.3 171.17,415.9 171.18,399.6 171.20,402.9 171.22,401.0 171.23,411.3"/>
<polyline points="171.23,411.3 171.25,429.9 171.27,431.4 171.28,415.9 171.30,414.4 171.32,411.2 171.33,412.4"/>
<polyline points="171.33,412.4 171.35,405.4 171.37,405.4 171.38,419.1 171.40,410.7 171.42,423.2 171.43,416.0"/>
<polyline points="171.43,416.0 171.45,418.3 171.46,410.5 171.48,403.3 171.50,406.7 171.51,420.2 171.53,420.8"/>
<polyline points="171.53,420.8 171.55,408.0 171.56,405.6 171.58,418.0 171.60,432.0 171.61,432.8 171.63,411.7"/>
<polyline points="171.63,411.7 171.65,419.9 171.66,412.6 171.68,422.7 171.69,408.1 171.71,412.0 171.73,425.2"/>
<polyline points="171.73,425.2 171.74,414.6 171.76,414.1 171.78,405.9 171.79,410.5 171.81,413.7 171.83,413.1"/>
<polyline points="171.83,413.1 171.84,431.9 171.86,408.3 171.88,412.6 171.89,412.2 171.91,417.0 171.92,409.3"/>
<polyline points="171.92,409.3 171.94,396.8 171.96,426.8 171.97,413.3 171.99,425.6 172.01,413.9 172.02,402.6"/>
<polyline points="172.02,402.6 172.04,411.4 172.06,431.3 172.07,407.1 172.09,424.3 172.11,410.3 172.12,404.3"/>
<polyline points="172.12,404.3 172.14,409.5 172.15,410.6 172.17,405.8 172.19,410.2 172.20,417.1 172.22,419.3"/>
<polyline points="172.22,419.3 172.24,418.2 172.25,400.8 172.27,410.7 172.28,421.4 172.30,407.4 172.32,401.3"/>
<polyline points="172.32,401.3 172.33,409.9 172.35,408.0 172.37,413.8 172.38,409.7 172.40,413.2 172.42,415.3"/>
<polyline points="172.42,415.3 172.43,418.3 172.45,411.3 172.46,406.0 172.48,416.5 172.50,412.1 172.51,432.4"/>
<polyline points="172.51,432.4 172.53,396.8 172.55,411.7 172.56,425.0 172.58,400.5 172.60,407.5 172.61,413.4"/>
<polyline points="172.61,413.4 172.63,416.4 172.64,401.2 172.66,416.6 172.68,408.7 172.69,412.1 172.71,405.7"/>
<polyline points="172.71,405.7 172.73,410.4 172.74,420.0 172.76,410.6 172.77,406.4 172.79,419.3 172.81,422.4"/>
<polyline points="172.81,422.4 172.82,400.6 172.84,412.5 172.86,407.3 172.87,407.8 172.89,405.2 172.90,403.6"/>
<polyline points="172.90,403.6 172.92,412.4 172.94,410.1 172.95,424.1 172.97,442.4 172.99,424.7 173.00,431.5"/>
<polyline points="173.00,431.5 173.02,419.4 173.03,410.9 173.05,426.4 173.07,410.8 173.08,423.1 173.10,437.4"/>
<polyline points="173.10,437.4 173.12,403.6 173.13,421.1 173.15,418.7 173.16,402.0 173.18,418.1 173.20,407.8"/>
<polyline points="173.20,407.8 173.21,410.3 173.23,411.8 173.25,415.5 173.26,409.2 173.28,416.1 173.29,424.5"/>
<polyline points="173.29,424.5 173.31,414.4 173.33,400.0 173.34,406.6 173.36,417.6 173.38,411.8 173.39,409.3"/>
<polyline points="173.39,409.3 173.41,418.8 173.42,431.3 173.44,402.2 173.46,411.1 173.47,415.5 173.49,408.4"/>
<polyline points="173.49,408.4 173.50,411.6 173.52,421.8 173.54,451.8 173.55,411.9 173.57,408.0 173.59,407.6"/>
<polyline points="173.59,407.6 173.60,416.2 173.62,401.5 173.63,398.7 173.65,402.4 173.67,421.6 173.68,412.7"/>
<polyline points="173.68,412.7 173.70,422.8 173.71,417.4 173.73,409.3 173.75,417.5 173.76,401.7 173.78,414.7"/>
<polyline points="173.78,414.7 173.80,405.5 173.81,414.6 173.83,415.6 173.84,404.0 173.86,417.9 173.88,409.5"/>
<polyline points="173.88,409.5 173.89,417.1 173.91,412.1 173.92,411.6 173.94,409.1 173.96,408.7 173.97,418.6"/>
<polyline points="173.97,418.6 173.99,409.7 174.00,404.2 174.02,407.1 174.04,409.8 174.05,408.2 174.07,423.7"/>
<polyline points="174.07,423.7 174.09,410.4 174.10,412.0 174.12,403.1 174.13,445.7 174.15,406.8 174.17,411.3"/>
<polyline points="174.17,411.3 174.18,424.9 174.20,402.9 174.21,410.0 174.23,402.9 174.25,407.6 174.26,401.7"/>
<polyline points="174.26,401.7 174.28,411.1 174.29,410.7 174.31,406.4 174.33,405.4 174.34,404.5 174.36,412.7"/>
<polyline points="174.36,412.7 174.37,406.6 174.39,397.0 174.41,409.6 174.42,408.5 174.44,408.5 174.45,416.1"/>
<polyline points="174.45,416.1 174.47,410.1 174.49,417.3 174.50,412.7 174.52,402.7 174.53,412.2 174.55,401.9"/>
<polyline points="174.55,401.9 174.57,430.1 174.58,431.6 174.60,427.6 174.62,413.0 174.63,416.4 174.65,408.1"/>
<polyline points="174.65,408.1 174.66,429.6 174.68,406.0 174.70,399.1 174.71,414.3 174.73,408.1 174.74,407.8"/>
<polyline points="174.74,407.8 174.76,415.8 174.78,401.4 174.79,417.1 174.81,421.6 174.82,411.0 174.84,405.4"/>
<polyline points="174.84,405.4 174.86,423.4 174.87,411.9 174.89,406.2 174.90,430.3 174.92,406.1 174.94,411.1"/>
<polyline points="174.94,411.1 174.95,409.8 174.97,400.1 174.98,407.7 175.00,434.0 175.01,403.7 175.03,405.7"/>
<polyline points="175.03,405.7 175.05,418.9 175.06,415.5 175.08,403.2 175.09,435.7 175.11,406.8 175.13,417.5"/>
<polyline points="175.13,417.5 175.14,406.9 175.16,407.1 175.17,424.4 175.19,412.1 175.21,411.7 175.22,413.6"/>
<polyline points="175.22,413.6 175.24,409.6 175.25,404.3 175.27,406.9 175.29,402.3 175.30,453.5 175.32,410.4"/>
<polyline points="175.32,410.4 175.33,421.2 175.35,417.7 175.37,416.3 175.38,444.0 175.40,414.6 175.41,411.9"/>
<polyline points="175.41,411.9 175.43,405.1 175.45,412.3 175.46,421.1 175.48,407.5 175.49,408.1 175.51,420.4"/>
<polyline points="175.51,420.4 175.52,415.3 175.54,408.5 175.56,405.9 175.57,429.7 175.59,429.6 175.60,401.3"/>
<polyline points="175.60,401.3 175.62,409.0 175.64,411.7 175.65,418.4 175.67,425.6 175.68,397.3 175.70,428.1"/>
<polyline points="175.70,428.1 175.72,406.6 175.73,414.6 175.75,416.1 175.76,419.3 175.78,412.5 175.79,404.9"/>
<polyline points="175.79,404.9 175.81,414.4 175.83,412.9 175.84,418.1 175.86,419.7 175.87,408.3 175.89,400.8"/>
<polyline points="175.89,400.8 175.91,449.7 175.92,411.6 175.94,425.7 175.95,409.7 175.97,420.3 175.98,435.2"/>
<polyline points="175.98,435.2 176.00,376.0 176.02,419.2 176.03,405.3 176.05,422.4 176.06,401.3 176.08,407.1"/>
<polyline points="176.08,407.1 176.10,428.7 176.11,414.3 176.13,412.2 176.14,420.3 176.16,416.3 176.17,411.7"/>
<polyline points="176.17,411.7 176.19,400.8 176.21,411.6 176.22,402.3 176.24,414.7 176.25,426.5 176.27,414.2"/>
<polyline points="176.27,414.2 176.28,410.6 176.30,396.8 176.32,408.9 176.33,407.9 176.35,409.0 176.36,420.0"/>
<polyline points="176.36,420.0 176.38,415.6 176.40,420.6 176.41,409.7 176.43,401.3 176.44,409.0 176.46,418.0"/>
<polyline points="176.46,418.0 176.47,403.0 176.49,406.3 176.51,398.3 176.52,411.1 176.54,408.0 176.55,416.4"/>
<polyline points="176.55,416.4 176.57,410.3 176.58,426.0 176.60,421.2 176.62,429.2 176.63,453.6 176.65,432.1"/>
<polyline points="176.65,432.1 176.66,409.3 176.68,416.0 176.69,412.5 176.71,419.1 176.73,409.5 176.74,404.6"/>
<polyline points="176.74,404.6 176.76,412.1 176.77,425.7 176.79,408.0 176.80,408.7 176.82,421.1 176.84,403.4"/>
<polyline points="176.84,403.4 176.85,403.0 176.87,421.7 176.88,399.7 176.90,419.5 176.91,409.5 176.93,407.4"/>
<polyline points="176.93,407.4 176.95,403.2 176.96,424.0 176.98,413.7 176.99,406.6 177.01,407.6 177.02,412.3"/>
<polyline points="177.02,412.3 177.04,414.4 177.06,417.1 177.07,423.6 177.09,432.6 177.10,406.5 177.12,409.3"/>
<polyline points="177.12,409.3 177.13,407.8 177.15,404.0 177.17,421.8 177.18,419.8 177.20,409.7 177.21,413.4"/>
<polyline points="177.21,413.4 177.23,407.7 177.24,426.1 177.26,416.2 177.28,420.8 177.29,426.7 177.31,408.6"/>
<polyline points="177.31,408.6 177.32,425.4 177.34,410.4 177.35,404.4 177.37,401.2 177.38,414.1 177.40,408.7"/>
<polyline points="177.40,408.7 177.42,407.5 177.43,426.7 177.45,418.1 177.46,419.6 177.48,401.3 177.49,415.8"/>
<polyline points="177.49,415.8 177.51,433.9 177.53,410.1 177.54,403.2 177.56,392.8 177.57,398.9 177.59,402.4"/>
<polyline points="177.59,402.4 177.60,405.9 177.62,407.6 177.63,410.1 177.65,419.7 177.67,420.6 177.68,427.0"/>
<polyline points="177.68,427.0 177.70,406.4 177.71,401.1 177.73,417.6 177.74,414.9 177.76,407.6 177.77,429.6"/>
<polyline points="177.77,429.6 177.79,416.8 177.81,411.4 177.82,401.5 177.84,439.9 177.85,420.1 177.87,424.3"/>
<polyline points="177.87,424.3 177.88,405.1 177.90,407.1 177.91,404.5 177.93,406.7 177.95,405.7 177.96,404.0"/>
<polyline points="177.96,404.0 177.98,425.6 177.99,416.0 178.01,400.0 178.02,426.5 178.04,408.8 178.05,425.1"/>
<polyline points="178.05,425.1 178.07,422.1 178.09,415.6 178.10,405.9 178.12,405.1 178.13,416.0 178.15,402.2"/>
<polyline points="178.15,402.2 178.16,405.4 178.18,400.9 178.19,405.2 178.21,413.4 178.23,400.9 178.24,412.5"/>
<polyline points="178.24,412.5 178.26,404.6 178.27,409.6 178.29,403.4 178.30,411.6 178.32,427.9 178.33,400.3"/>
<polyline points="178.33,400.3 178.35,407.5 178.37,410.5 178.38,437.9 178.40,397.8 178.41,406.5 178.43,400.7"/>
<polyline points="178.43,400.7 178.44,419.0 178.46,401.8 178.47,405.0 178.49,398.8 178.50,425.5 178.52,406.7"/>
<polyline points="178.52,406.7 178.54,400.7 178.55,410.4 178.57,405.0 178.58,421.3 178.60,462.4 178.61,417.4"/>
<polyline points="178.61,417.4 178.63,424.2 178.64,412.6 178.66,404.0 178.68,402.7 178.69,416.6 178.71,410.5"/>
<polyline points="178.71,410.5 178.72,428.0 178.74,402.9 178.75,399.4 178.77,412.0 178.78,402.9 178.80,439.1"/>
<polyline points="178.80,439.1 178.81,399.2 178.83,418.1 178.84,407.8 178.86,404.1 178.88,422.9 178.89,407.9"/>
<polyline points="178.89,407.9 178.91,416.7 178.92,432.5 178.94,408.2 178.95,407.0 178.97,414.6 178.98,414.4"/>
<polyline points="178.98,414.4 179.00,417.6 179.01,431.5 179.03,408.6 179.05,414.8 179.06,449.7 179.08,414.6"/>
<polyline points="179.08,414.6 179.09,429.3 179.11,410.3 179.12,415.8 179.14,410.4 179.15,416.2 179.17,417.5"/>
<polyline points="179.17,417.5 179.18,441.8 179.20,415.6 179.21,409.5 179.23,436.6 179.25,409.7 179.26,406.0"/>
<polyline points="179.26,406.0 179.28,412.4 179.29,413.6 179.31,413.2 179.32,408.5 179.34,408.2 179.35,409.0"/>
<polyline points="179.35,409.0 179.37,405.4 179.38,418.9 179.40,413.9 179.41,411.7 179.43,403.3 179.45,418.4"/>
<polyline points="179.45,418.4 179.46,405.1 179.48,433.9 179.49,421.1 179.51,402.5 179.52,402.2 179.54,427.6"/>
<polyline points="179.54,427.6 179.55,409.6 179.57,407.7 179.58,425.5 179.60,422.2 179.61,407.7 179.63,428.4"/>
<polyline points="179.63,428.4 179.64,409.9 179.66,440.9 179.68,412.0 179.69,416.4 179.71,431.9 179.72,398.9"/>
<polyline points="179.72,398.9 179.74,412.3 179.75,410.4 179.77,416.4 179.78,406.3 179.80,406.3 179.81,408.6"/>
<polyline points="179.81,408.6 179.83,406.8 179.84,418.3 179.86,447.2 179.87,405.7 179.89,404.0 179.91,405.5"/>
<polyline points="179.91,405.5 179.92,408.0 179.94,423.9 179.95,408.7 179.97,415.9 179.98,432.7 180.00,435.5"/>
<polyline points="180.00,435.5 180.01,408.7 180.03,410.4 180.04,416.1 180.06,408.3 180.07,404.4 180.09,405.8"/>
<polyline points="180.09,405.8 180.10,419.3 180.12,404.0 180.13,409.1 180.15,407.8 180.16,428.3 180.18,416.2"/>
<polyline points="180.18,416.2 180.20,418.5 180.21,413.2 180.23,405.7 180.24,409.0 180.26,398.8 180.27,396.8"/>
<polyline points="180.27,396.8 180.29,408.9 180.30,412.2 180.32,408.3 180.33,399.1 180.35,417.7 180.36,420.0"/>
<polyline points="180.36,420.0 180.38,414.0 180.39,400.3 180.41,406.6 180.42,405.0 180.44,424.5 180.45,408.7"/>
<polyline points="180.45,408.7 180.47,428.3 180.49,403.2 180.50,431.7 180.52,402.6 180.53,430.7 180.55,449.1"/>
<polyline points="180.55,449.1 180.56,408.3 180.58,431.0 180.59,406.7 180.61,440.4 180.62,404.3 180.64,412.2"/>
<polyline points="180.64,412.2 180.65,409.1 180.67,456.4 180.68,430.9 180.70,424.6 180.71,416.4 180.73,414.0"/>
<polyline points="180.73,414.0 180.74,398.0 180.76,408.1 180.77,406.1 180.79,412.7 180.80,418.6 180.82,402.2"/>
<polyline points="180.82,402.2 180.83,403.3 180.85,413.1 180.86,410.7 180.88,401.4 180.90,419.4 180.91,424.6"/>
<polyline points="180.91,424.6 180.93,402.5 180.94,420.8 180.96,426.7 180.97,420.7 180.99,422.7 181.00,405.8"/>
<polyline points="181.00,405.8 181.02,415.3 181.03,413.5 181.05,418.4 181.06,396.6 181.08,413.4 181.09,400.0"/>
<polyline points="181.09,400.0 181.11,410.8 181.12,407.9 181.14,426.5 181.15,430.8 181.17,416.1 181.18,402.9"/>
<polyline points="181.18,402.9 181.20,414.5 181.21,406.6 181.23,425.7 181.24,432.4 181.26,418.0 181.27,407.5"/>
<polyline points="181.27,407.5 181.29,419.4 181.30,409.9 181.32,425.7 181.33,403.9 181.35,407.6 181.36,405.0"/>
<polyline points="181.36,405.0 181.38,423.9 181.39,410.4 181.41,405.8 181.42,419.3 181.44,417.1 181.45,404.9"/>
<polyline points="181.45,404.9 181.47,424.9 181.49,419.7 181.50,407.8 181.52,412.5 181.53,409.3 181.55,416.4"/>
<polyline points="181.55,416.4 181.56,412.6 181.58,418.9 181.59,421.0 181.61,410.4 181.62,417.9 181.64,424.0"/>
<polyline points="181.64,424.0 181.65,413.6 181.67,416.6 181.68,420.5 181.70,428.4 181.71,408.6 181.73,401.1"/>
<polyline points="181.73,401.1 181.74,400.7 181.76,427.2 181.77,410.2 181.79,402.4 181.80,408.3 181.82,410.4"/>
<polyline points="181.82,410.4 181.83,418.2 181.85,419.2 181.86,411.7 181.88,415.4 181.89,403.8 181.91,419.5"/>
<polyline points="181.91,419.5 181.92,411.0 181.94,410.8 181.95,407.8 181.97,410.6 181.98,411.2 182.00,404.3"/>
<polyline points="182.00,404.3 182.01,409.9 182.03,415.0 182.04,405.7 182.06,402.6 182.07,417.0 182.09,414.0"/>
<polyline points="182.09,414.0 182.10,415.0 182.12,397.9 182.13,408.6 182.15,406.6 182.16,412.2 182.18,415.4"/>
<polyline points="182.18,415.4 182.19,407.9 182.21,411.5 182.22,410.8 182.24,407.6 182.25,407.2 182.27,411.2"/>
<polyline points="182.27,411.2 182.28,404.1 182.30,409.8 182.31,425.7 182.33,407.3 182.34,401.6 182.36,416.2"/>
<polyline points="182.36,416.2 182.37,404.5 182.39,417.6 182.40,413.8 182.42,423.1 182.43,462.2 182.45,421.0"/>
<polyline points="182.45,421.0 182.46,407.5 182.48,401.7 182.49,410.7 182.51,406.5 182.52,413.9 182.54,414.5"/>
<polyline points="182.54,414.5 182.55,409.9 182.57,419.3 182.58,403.6 182.60,445.0 182.61,411.9 182.63,410.2"/>
<polyline points="182.63,410.2 182.64,411.0 182.66,416.5 182.67,413.0 182.69,405.1 182.70,411.2 182.72,404.7"/>
<polyline points="182.72,404.7 182.73,399.4 182.75,399.6 182.76,410.2 182.78,422.6 182.79,406.9 182.81,415.9"/>
<polyline points="182.81,415.9 182.82,410.8 182.83,410.9 182.85,424.4 182.86,403.3 182.88,438.3 182.89,413.7"/>
<polyline points="182.89,413.7 182.91,414.0 182.92,441.5 182.94,419.6 182.95,404.1 182.97,407.7 182.98,444.5"/>
<polyline points="182.98,444.5 183.00,413.7 183.01,409.5 183.03,419.9 183.04,417.1 183.06,425.8 183.07,421.6"/>
<polyline points="183.07,421.6 183.09,406.2 183.10,412.7 183.12,413.4 183.13,420.5 183.15,412.0 183.16,423.9"/>
<polyline points="183.16,423.9 183.18,415.0 183.19,406.5 183.21,423.1 183.22,412.2 183.24,444.5 183.25,407.9"/>
<polyline points="183.25,407.9 183.27,416.7 183.28,408.4 183.30,425.2 183.31,430.0 183.33,400.5 183.34,405.5"/>
<polyline points="183.34,405.5 183.36,417.3 183.37,411.6 183.39,422.0 183.40,342.5 183.41,407.1 183.43,410.7"/>
<polyline points="183.43,410.7 183.44,412.0 183.46,402.1 183.47,416.1 183.49,422.6 183.50,432.4 183.52,410.3"/>
<polyline points="183.52,410.3 183.53,416.6 183.55,406.1 183.56,426.5 183.58,402.5 183.59,416.2 183.61,406.2"/>
<polyline points="183.61,406.2 183.62,425.6 183.64,418.7 183.65,422.9 183.67,412.3 183.68,408.1 183.70,419.3"/>
<polyline points="183.70,419.3 183.71,412.9 183.73,423.5 183.74,405.1 183.76,417.1 183.77,413.0 183.79,420.8"/>
<polyline points="183.79,420.8 183.80,413.8 183.81,409.4 183.83,415.5 183.84,406.2 183.86,415.8 183.87,417.8"/>
<polyline points="183.87,417.8 183.89,410.8 183.90,403.0 183.92,407.6 183.93,404.0 183.95,415.9 183.96,411.3"/>
<polyline points="183.96,411.3 183.98,414.8 183.99,397.5 184.01,401.2 184.02,415.9 184.04,410.1 184.05,411.6"/>
<polyline points="184.05,411.6 184.07,416.9 184.08,425.0 184.10,408.0 184.11,441.9 184.12,402.4 184.14,425.3"/>
<polyline points="184.14,425.3 184.15,409.3 184.17,436.1 184.18,406.7 184.20,403.2 184.21,419.5 184.23,406.0"/>
<polyline points="184.23,406.0 184.24,417.4 184.26,419.1 184.27,404.4 184.29,425.5 184.30,403.5 184.32,415.9"/>
<polyline points="184.32,415.9 184.33,405.8 184.35,411.8 184.36,424.4 184.38,420.0 184.39,422.5 184.40,409.4"/>
<polyline points="184.40,409.4 184.42,404.0 184.43,423.4 184.45,433.7 184.46,418.8 184.48,440.0 184.49,410.0"/>
<polyline points="184.49,410.0 184.51,423.4 184.52,406.7 184.54,418.1 184.55,408.8 184.57,412.1 184.58,406.0"/>
<polyline points="184.58,406.0 184.60,399.7 184.61,405.5 184.62,409.5 184.64,418.5 184.65,405.3 184.67,416.1"/>
<polyline points="184.67,416.1 184.68,410.2 184.70,416.3 184.71,399.6 184.73,413.1 184.74,407.1 184.76,434.6"/>
<polyline points="184.76,434.6 184.77,428.2 184.79,402.6 184.80,415.8 184.82,426.3 184.83,445.9 184.84,422.9"/>
<polyline points="184.84,422.9 184.86,432.5 184.87,433.6 184.89,414.9 184.90,415.1 184.92,436.2 184.93,418.7"/>
<polyline points="184.93,418.7 184.95,432.6 184.96,417.6 184.98,407.4 184.99,408.4 185.01,421.2 185.02,411.4"/>
<polyline points="185.02,411.4 185.04,410.3 185.05,423.0 185.06,430.7 185.08,398.3 185.09,409.9 185.11,399.5"/>
<polyline points="185.11,399.5 185.12,420.6 185.14,403.4 185.15,403.8 185.17,422.2 185.18,412.7 185.20,406.3"/>
<polyline points="185.20,406.3 185.21,408.8 185.23,409.8 185.24,420.2 185.25,412.7 185.27,418.8 185.28,421.7"/>
<polyline points="185.28,421.7 185.30,437.1 185.31,425.4 185.33,432.2 185.34,427.4 185.36,410.0 185.37,416.1"/>
<polyline points="185.37,416.1 185.39,412.1 185.40,426.1 185.41,399.1 185.43,431.7 185.44,404.1 185.46,413.5"/>
<polyline points="185.46,413.5 185.47,419.1 185.49,411.3 185.50,419.0 185.52,418.4 185.53,413.8 185.55,419.4"/>
<polyline points="185.55,419.4 185.56,421.6 185.58,419.9 185.59,416.7 185.60,425.0 185.62,420.2 185.63,406.8"/>
<polyline points="185.63,406.8 185.65,419.1 185.66,416.1 185.68,415.6 185.69,413.3 185.71,413.7 185.72,424.1"/>
<polyline points="185.72,424.1 185.74,415.7 185.75,409.7 185.76,405.5 185.78,426.8 185.79,441.3 185.81,410.3"/>
<polyline points="185.81,410.3 185.82,417.2 185.84,428.8 185.85,397.6 185.87,420.1 185.88,411.7 185.89,404.9"/>
<polyline points="185.89,404.9 185.91,402.8 185.92,430.3 185.94,421.3 185.95,418.8 185.97,423.2 185.98,403.3"/>
<polyline points="185.98,403.3 186.00,411.7 186.01,422.0 186.03,418.3 186.04,410.5 186.05,407.9 186.07,450.1"/>
<polyline points="186.07,450.1 186.08,402.9 186.10,422.1 186.11,418.1 186.13,423.3 186.14,408.8 186.16,409.3"/>
<polyline points="186.16,409.3 186.17,413.4 186.18,417.0 186.20,404.7 186.21,396.1 186.23,411.6 186.24,415.6"/>
<polyline points="186.24,415.6 186.26,413.9 186.27,417.9 186.29,415.0 186.30,422.9 186.32,412.6 186.33,405.1"/>
<polyline points="186.33,405.1 186.34,405.8 186.36,421.3 186.37,406.1 186.39,445.2 186.40,410.7 186.42,435.2"/>
<polyline points="186.42,435.2 186.43,429.0 186.45,416.8 186.46,406.3 186.47,413.6 186.49,419.9 186.50,410.0"/>
<polyline points="186.50,410.0 186.52,420.8 186.53,421.1 186.55,420.1 186.56,414.2 186.58,404.7 186.59,417.4"/>
<polyline points="186.59,417.4 186.60,416.3 186.62,441.9 186.63,406.1 186.65,429.1 186.66,412.6 186.68,405.6"/>
<polyline points="186.68,405.6 186.69,421.9 186.70,406.2 186.72,412.4 186.73,447.6 186.75,422.6 186.76,408.1"/>
<polyline points="186.76,408.1 186.78,428.3 186.79,428.0 186.81,421.2 186.82,398.7 186.83,417.3 186.85,417.5"/>
<polyline points="186.85,417.5 186.86,409.0 186.88,412.4 186.89,411.6 186.91,423.1 186.92,408.9 186.94,405.1"/>
<polyline points="186.94,405.1 186.95,414.4 186.96,412.6 186.98,410.0 186.99,414.0 187.01,451.0 187.02,425.0"/>
<polyline points="187.02,425.0 187.04,404.4 187.05,409.0 187.06,405.6 187.08,405.7 187.09,411.6 187.11,404.9"/>
<polyline points="187.11,404.9 187.12,419.9 187.14,413.7 187.15,413.9 187.17,410.5 187.18,409.0 187.19,428.8"/>
<polyline points="187.19,428.8 187.21,410.5 187.22,402.7 187.24,406.6 187.25,415.4 187.27,405.5 187.28,417.8"/>
<polyline points="187.28,417.8 187.29,412.3 187.31,419.2 187.32,403.1 187.34,414.6 187.35,412.7 187.37,415.0"/>
<polyline points="187.37,415.0 187.38,412.6 187.39,405.7 187.41,408.5 187.42,407.7 187.44,404.2 187.45,408.1"/>
<polyline points="187.45,408.1 187.47,406.2 187.48,414.4 187.50,422.8 187.51,422.2 187.52,403.7 187.54,419.0"/>
<polyline points="187.54,419.0 187.55,411.6 187.57,422.4 187.58,404.8 187.60,402.5 187.61,406.4 187.62,429.4"/>
<polyline points="187.62,429.4 187.64,413.9 187.65,414.7 187.67,411.6 187.68,420.9 187.70,415.8 187.71,408.3"/>
<polyline points="187.71,408.3 187.72,400.4 187.74,408.6 187.75,404.4 187.77,415.7 187.78,411.7 187.80,403.0"/>
<polyline points="187.80,403.0 187.81,444.2 187.82,421.8 187.84,457.5 187.85,428.9 187.87,428.6 187.88,420.3"/>
<polyline points="187.88,420.3 187.90,417.2 187.91,413.3 187.92,413.0 187.94,410.0 187.95,402.4 187.97,414.3"/>
<polyline points="187.97,414.3 187.98,406.9 188.00,442.2 188.01,401.9 188.02,411.2 188.04,405.0 188.05,423.9"/>
<polyline points="188.05,423.9 188.07,400.7 188.08,418.6 188.09,427.4 188.11,414.8 188.12,413.8 188.14,423.0"/>
<polyline points="188.14,423.0 188.15,407.9 188.17,419.3 188.18,416.8 188.19,431.6 188.21,422.1 188.22,403.2"/>
<polyline points="188.22,403.2 188.24,414.4 188.25,413.6 188.27,409.3 188.28,418.9 188.29,456.6 188.31,426.7"/>
<polyline points="188.31,426.7 188.32,425.9 188.34,414.2 188.35,421.9 188.37,415.7 188.38,440.5 188.39,422.4"/>
<polyline points="188.39,422.4 188.41,430.7 188.42,411.8 188.44,412.1 188.45,408.1 188.46,433.4 188.48,409.2"/>
<polyline points="188.48,409.2 188.49,408.9 188.51,402.0 188.52,424.1 188.54,415.3 188.55,424.6 188.56,410.3"/>
<polyline points="188.56,410.3 188.58,414.5 188.59,418.8 188.61,408.0 188.62,427.7 188.63,425.8 188.65,420.0"/>
<polyline points="188.65,420.0 188.66,409.9 188.68,421.7 188.69,420.8 188.71,422.9 188.72,429.5 188.73,412.2"/>
<polyline points="188.73,412.2 188.75,442.5 188.76,426.7 188.78,419.8 188.79,411.5 188.80,416.6 188.82,421.4"/>
<polyline points="188.82,421.4 188.83,418.4 188.85,403.1 188.86,410.4 188.88,404.6 188.89,427.9 188.90,416.8"/>
<polyline points="188.90,416.8 188.92,417.3 188.93,413.7 188.95,412.5 188.96,407.7 188.97,410.9 188.99,404.2"/>
<polyline points="188.99,404.2 189.00,427.2 189.02,406.8 189.03,404.5 189.05,422.7 189.06,424.1 189.07,413.0"/>
<polyline points="189.07,413.0 189.09,436.9 189.10,406.9 189.12,424.2 189.13,413.3 189.14,420.4 189.16,406.8"/>
<polyline points="189.16,406.8 189.17,405.5 189.19,412.1 189.20,420.3 189.21,414.7 189.23,411.0 189.24,400.8"/>
<polyline points="189.24,400.8 189.26,411.7 189.27,406.8 189.28,410.6 189.30,405.4 189.31,444.5 189.33,416.4"/>
<polyline points="189.33,416.4 189.34,408.6 189.36,428.4 189.37,427.7 189.38,403.7 189.40,405.2 189.41,418.3"/>
<polyline points="189.41,418.3 189.43,421.1 189.44,408.1 189.45,412.4 189.47,415.1 189.48,404.0 189.50,413.9"/>
<polyline points="189.50,413.9 189.51,403.0 189.52,400.0 189.54,411.3 189.55,420.7 189.57,408.3 189.58,439.9"/>
<polyline points="189.58,439.9 189.59,433.5 189.61,421.2 189.62,404.8 189.64,402.1 189.65,417.3 189.66,420.3"/>
<polyline points="189.66,420.3 189.68,407.1 189.69,413.3 189.71,409.9 189.72,411.0 189.73,412.0 189.75,414.6"/>
<polyline points="189.75,414.6 189.76,428.8 189.78,428.4 189.79,414.2 189.81,415.2 189.82,410.1 189.83,409.6"/>
<polyline points="189.83,409.6 189.85,414.4 189.86,410.9 189.88,421.5 189.89,422.4 189.90,424.6 189.92,417.8"/>
<polyline points="189.92,417.8 189.93,413.8 189.95,412.4 189.96,417.4 189.97,406.4 189.99,405.4 190.00,408.7"/>
<polyline points="190.00,408.7 190.02,411.5 190.03,409.7 190.04,419.8 190.06,410.1 190.07,419.6 190.09,425.9"/>
<polyline points="190.09,425.9 190.10,417.9 190.11,426.1 190.13,400.9 190.14,397.8 190.16,411.9 190.17,424.3"/>
<polyline points="190.17,424.3 190.18,427.6 190.20,418.2 190.21,402.3 190.23,408.2 190.24,408.1 190.25,419.0"/>
<polyline points="190.25,419.0 190.27,409.4 190.28,436.8 190.30,404.8 190.31,423.3 190.32,416.5 190.34,406.9"/>
<polyline points="190.34,406.9 190.35,412.9 190.37,425.1 190.38,449.4 190.39,407.9 190.41,441.3 190.42,404.2"/>
<polyline points="190.42,404.2 190.43,410.7 190.45,427.1 190.46,410.6 190.48,420.1 190.49,423.6 190.50,407.5"/>
<polyline points="190.50,407.5 190.52,429.2 190.53,418.3 190.55,414.1 190.56,417.0 190.57,425.6 190.59,408.9"/>
<polyline points="190.59,408.9 190.60,437.3 190.62,402.8 190.63,412.8 190.64,407.2 190.66,417.4 190.67,418.9"/>
<polyline points="190.67,418.9 190.69,419.2 190.70,409.4 190.71,418.9 190.73,416.4 190.74,418.5 190.76,451.2"/>
<polyline points="190.76,451.2 190.77,418.1 190.78,417.3 190.80,413.1 190.81,413.7 190.82,413.8 190.84,422.4"/>
<polyline points="190.84,422.4 190.85,437.5 190.87,414.8 190.88,420.7 190.89,415.9 190.91,422.4 190.92,414.5"/>
<polyline points="190.92,414.5 190.94,405.1 190.95,411.2 190.96,413.3 190.98,413.0 190.99,415.3 191.01,424.4"/>
<polyline points="191.01,424.4 191.02,411.0 191.03,412.2 191.05,437.2 191.06,430.2 191.07,435.6 191.09,455.4"/>
<polyline points="191.09,455.4 191.10,409.4 191.12,415.8 191.13,400.7 191.14,407.1 191.16,414.8 191.17,411.7"/>
<polyline points="191.17,411.7 191.19,416.3 191.20,413.3 191.21,409.9 191.23,408.6 191.24,407.4 191.26,406.6"/>
<polyline points="191.26,406.6 191.27,413.1 191.28,424.5 191.30,413.0 191.31,411.3 191.32,408.9 191.34,420.3"/>
<polyline points="191.34,420.3 191.35,409.4 191.37,421.2 191.38,414.8 191.39,411.1 191.41,417.8 191.42,419.7"/>
<polyline points="191.42,419.7 191.44,413.9 191.45,405.7 191.46,404.8 191.48,422.3 191.49,419.5 191.50,410.8"/>
<polyline points="191.50,410.8 191.52,409.4 191.53,413.5 191.55,416.6 191.56,430.9 191.57,408.7 191.59,409.8"/>
<polyline points="191.59,409.8 191.60,413.2 191.61,423.9 191.63,405.2 191.64,413.7 191.66,430.0 191.67,410.3"/>
<polyline points="191.67,410.3 191.68,416.8 191.70,405.7 191.71,408.9 191.73,416.3 191.74,411.4 191.75,420.1"/>
<polyline points="191.75,420.1 191.77,410.1 191.78,406.1 191.79,428.0 191.81,411.4 191.82,407.2 191.84,417.7"/>
<polyline points="191.84,417.7 191.85,425.1 191.86,411.5 191.88,423.9 191.89,411.1 191.90,425.2 191.92,416.7"/>
<polyline points="191.92,416.7 191.93,412.2 191.95,409.6 191.96,402.8 191.97,406.1 191.99,416.1 192.00,412.1"/>
<polyline points="192.00,412.1 192.01,417.6 192.03,404.4 192.04,425.9 192.06,401.9 192.07,413.8 192.08,409.5"/>
<polyline points="192.08,409.5 192.10,408.0 192.11,408.5 192.12,419.9 192.14,408.1 192.15,419.7 192.17,403.6"/>
<polyline points="192.17,403.6 192.18,419.0 192.19,427.0 192.21,420.6 192.22,415.9 192.23,409.6 192.25,403.7"/>
<polyline points="192.25,403.7 192.26,404.5 192.28,406.6 192.29,408.9 192.30,407.6 192.32,407.7 192.33,408.8"/>
<polyline points="192.33,408.8 192.34,422.0 192.36,434.1 192.37,404.1 192.39,408.4 192.40,409.1 192.41,415.0"/>
<polyline points="192.41,415.0 192.43,414.5 192.44,406.7 192.45,413.5 192.47,415.0 192.48,428.2 192.50,423.7"/>
<polyline points="192.50,423.7 192.51,417.6 192.52,406.3 192.54,416.0 192.55,426.7 192.56,429.2 192.58,416.9"/>
<polyline points="192.58,416.9 192.59,411.6 192.60,436.7 192.62,402.5 192.63,422.5 192.65,421.9 192.66,418.4"/>
<polyline points="192.66,418.4 192.67,422.8 192.69,407.4 192.70,418.7 192.71,421.6 192.73,402.6 192.74,403.9"/>
<polyline points="192.74,403.9 192.76,418.4 192.77,406.5 192.78,410.4 192.80,417.2 192.81,421.1 192.82,399.9"/>
<polyline points="192.82,399.9 192.84,424.8 192.85,403.2 192.86,403.3 192.88,410.2 192.89,413.1 192.91,424.7"/>
<polyline points="192.91,424.7 192.92,424.7 192.93,418.5 192.95,407.8 192.96,415.1 192.97,430.1 192.99,401.2"/>
<polyline points="192.99,401.2 193.00,437.4 193.01,411.1 193.03,415.0 193.04,413.0 193.06,407.0 193.07,407.0"/>
<polyline points="193.07,407.0 193.08,422.7 193.10,425.3 193.11,415.0 193.12,404.6 193.14,446.9 193.15,416.5"/>
<polyline points="193.15,416.5 193.16,420.2 193.18,400.8 193.19,423.1 193.21,415.9 193.22,416.2 193.23,416.6"/>
<polyline points="193.23,416.6 193.25,432.7 193.26,447.9 193.27,412.5 193.29,415.7 193.30,404.9 193.31,417.1"/>
<polyline points="193.31,417.1 193.33,407.6 193.34,409.3 193.36,415.3 193.37,406.2 193.38,422.2 193.40,419.6"/>
<polyline points="193.40,419.6 193.41,409.0 193.42,411.4 193.44,429.6 193.45,410.9 193.46,403.4 193.48,413.9"/>
<polyline points="193.48,413.9 193.49,421.0 193.50,414.2 193.52,413.0 193.53,428.7 193.55,411.4 193.56,404.2"/>
<polyline points="193.56,404.2 193.57,434.5 193.59,418.8 193.60,415.4 193.61,420.1 193.63,413.7 193.64,424.2"/>
<polyline points="193.64,424.2 193.65,406.8 193.67,408.3 193.68,411.3 193.69,408.8 193.71,409.0 193.72,419.3"/>
<polyline points="193.72,419.3 193.74,415.7 193.75,410.8 193.76,411.4 193.78,420.1 193.79,415.1 193.80,426.4"/>
<polyline points="193.80,426.4 193.82,401.7 193.83,425.5 193.84,430.4 193.86,421.2 193.87,427.4 193.88,402.7"/>
<polyline points="193.88,402.7 193.90,409.8 193.91,415.5 193.93,431.3 193.94,402.7 193.95,404.6 193.97,412.4"/>
<polyline points="193.97,412.4 193.98,410.6 193.99,416.9 194.01,405.7 194.02,410.2 194.03,413.9 194.05,405.8"/>
<polyline points="194.05,405.8 194.06,426.0 194.07,408.6 194.09,409.7 194.10,419.2 194.11,416.3 194.13,429.0"/>
<polyline points="194.13,429.0 194.14,414.8 194.16,413.8 194.17,415.8 194.18,398.5 194.20,429.5 194.21,425.6"/>
<polyline points="194.21,425.6 194.22,417.0 194.24,430.9 194.25,418.2 194.26,410.0 194.28,411.2 194.29,434.2"/>
<polyline points="194.29,434.2 194.30,417.7 194.32,421.8 194.33,406.6 194.34,410.8 194.36,418.1 194.37,409.9"/>
<polyline points="194.37,409.9 194.38,416.3 194.40,412.4 194.41,440.8 194.43,421.8 194.44,409.4 194.45,428.4"/>
<polyline points="194.45,428.4 194.47,422.1 194.48,415.0 194.49,432.5 194.51,414.7 194.52,414.4 194.53,406.3"/>
<polyline points="194.53,406.3 194.55,426.5 194.56,414.7 194.57,404.6 194.59,409.8 194.60,420.6 194.61,412.4"/>
<polyline points="194.61,412.4 194.63,420.8 194.64,417.1 194.65,433.3 194.67,409.6 194.68,412.8 194.69,414.4"/>
<polyline points="194.69,414.4 194.71,427.4 194.72,405.1 194.73,418.5 194.75,410.6 194.76,409.9 194.77,436.0"/>
<polyline points="194.77,436.0 194.79,424.2 194.80,422.1 194.82,409.7 194.83,422.7 194.84,422.3 194.86,401.9"/>
<polyline points="194.86,401.9 194.87,415.0 194.88,409.2 194.90,407.4 194.91,405.4 194.92,431.2 194.94,424.1"/>
<polyline points="194.94,424.1 194.95,417.8 194.96,403.8 194.98,422.2 194.99,428.6 195.00,415.6 195.02,428.9"/>
<polyline points="195.02,428.9 195.03,411.4 195.04,419.3 195.06,416.4 195.07,422.5 195.08,409.6 195.10,438.7"/>
<polyline points="195.10,438.7 195.11,413.6 195.12,407.8 195.14,424.7 195.15,417.1 195.16,411.3 195.18,424.5"/>
<polyline points="195.18,424.5 195.19,422.7 195.20,401.4 195.22,437.8 195.23,420.0 195.24,417.5 195.26,431.7"/>
<polyline points="195.26,431.7 195.27,431.2 195.28,421.1 195.30,409.5 195.31,425.7 195.32,401.1 195.34,428.3"/>
<polyline points="195.34,428.3 195.35,419.7 195.36,409.0 195.38,410.5 195.39,413.1 195.40,416.0 195.42,414.4"/>
<polyline points="195.42,414.4 195.43,404.8 195.44,404.3 195.46,422.3 195.47,410.8 195.48,416.0 195.50,417.1"/>
<polyline points="195.50,417.1 195.51,405.2 195.52,410.0 195.54,425.1 195.55,419.7 195.56,399.6 195.58,408.3"/>
<polyline points="195.58,408.3 195.59,407.7 195.60,443.4 195.62,416.2 195.63,430.7 195.64,403.7 195.66,460.7"/>
<polyline points="195.66,460.7 195.67,406.6 195.68,426.2 195.70,437.8 195.71,409.6 195.72,409.8 195.74,414.2"/>
<polyline points="195.74,414.2 195.75,411.5 195.76,418.0 195.78,412.4 195.79,406.0 195.80,437.0 195.82,422.7"/>
<polyline points="195.82,422.7 195.83,412.1 195.84,415.3 195.86,410.8 195.87,411.5 195.88,410.2 195.90,419.1"/>
<polyline points="195.90,419.1 195.91,408.6 195.92,415.3 195.94,426.2 195.95,412.6 195.96,406.1 195.98,420.0"/>
<polyline points="195.98,420.0 195.99,411.1 196.00,402.7 196.02,419.5 196.03,410.7 196.04,419.1 196.06,405.0"/>
<polyline points="196.06,405.0 196.07,409.6 196.08,418.6 196.10,412.3 196.11,423.5 196.12,417.4 196.14,412.3"/>
<polyline points="196.14,412.3 196.15,424.9 196.16,420.4 196.18,408.7 196.19,415.4 196.20,417.7 196.22,416.5"/>
<polyline points="196.22,416.5 196.23,408.8 196.24,427.7 196.26,404.7 196.27,409.7 196.28,414.6 196.30,410.2"/>
<polyline points="196.30,410.2 196.31,419.2 196.32,432.1 196.34,409.1 196.35,415.9 196.36,416.5 196.38,403.8"/>
<polyline points="196.38,403.8 196.39,422.6 196.40,411.2 196.42,407.8 196.43,403.1 196.44,407.7 196.46,421.0"/>
<polyline points="196.46,421.0 196.47,413.0 196.48,415.9 196.50,424.8 196.51,423.7 196.52,425.1 196.53,412.0"/>
<polyline points="196.53,412.0 196.55,414.5 196.56,409.8 196.57,419.5 196.59,438.5 196.60,404.9 196.61,420.9"/>
<polyline points="196.61,420.9 196.63,412.4 196.64,419.3 196.65,455.0 196.67,420.5 196.68,422.3 196.69,422.5"/>
<polyline points="196.69,422.5 196.71,417.8 196.72,402.7 196.73,405.8 196.75,416.0 196.76,441.7 196.77,416.4"/>
<polyline points="196.77,416.4 196.79,419.5 196.80,418.4 196.81,412.2 196.83,428.1 196.84,399.0 196.85,399.1"/>
<polyline points="196.85,399.1 196.87,398.4 196.88,402.6 196.89,429.8 196.90,407.3 196.92,407.3 196.93,414.2"/>
<polyline points="196.93,414.2 196.94,407.7 196.96,412.9 196.97,439.0 196.98,425.1 197.00,417.0 197.01,408.8"/>
<polyline points="197.01,408.8 197.02,423.0 197.04,412.2 197.05,444.5 197.06,411.2 197.08,419.2 197.09,406.7"/>
<polyline points="197.09,406.7 197.10,413.0 197.12,422.5 197.13,429.5 197.14,412.0 197.15,410.3 197.17,424.6"/>
<polyline points="197.17,424.6 197.18,413.2 197.19,446.8 197.21,420.9 197.22,415.4 197.23,413.2 197.25,418.4"/>
<polyline points="197.25,418.4 197.26,412.7 197.27,412.9 197.29,419.0 197.30,418.9 197.31,418.7 197.33,428.5"/>
<polyline points="197.33,428.5 197.34,407.6 197.35,409.1 197.37,422.3 197.38,416.5 197.39,412.3 197.40,404.8"/>
<polyline points="197.40,404.8 197.42,409.4 197.43,426.4 197.44,416.3 197.46,413.9 197.47,417.9 197.48,415.5"/>
<polyline points="197.48,415.5 197.50,453.7 197.51,415.6 197.52,422.7 197.54,412.9 197.55,410.2 197.56,406.8"/>
<polyline points="197.56,406.8 197.58,421.4 197.59,414.9 197.60,406.1 197.61,407.5 197.63,412.7 197.64,410.9"/>
<polyline points="197.64,410.9 197.65,397.6 197.67,413.7 197.68,417.2 197.69,440.2 197.71,409.3 197.72,408.1"/>
<polyline points="197.72,408.1 197.73,410.1 197.75,415.0 197.76,410.5 197.77,423.6 197.78,412.7 197.80,424.6"/>
<polyline points="197.80,424.6 197.81,424.9 197.82,409.3 197.84,402.4 197.85,416.0 197.86,409.8 197.88,418.5"/>
<polyline points="197.88,418.5 197.89,425.7 197.90,404.8 197.92,418.9 197.93,419.1 197.94,415.9 197.95,414.3"/>
<polyline points="197.95,414.3 197.97,413.3 197.98,423.6 197.99,416.7 198.01,416.3 198.02,403.2 198.03,418.6"/>
<polyline points="198.03,418.6 198.05,408.7 198.06,435.9 198.07,416.5 198.09,407.9 198.10,413.5 198.11,408.8"/>
<polyline points="198.11,408.8 198.12,420.2 198.14,426.3 198.15,414.8 198.16,413.0 198.18,415.4 198.19,414.2"/>
<polyline points="198.19,414.2 198.20,413.0 198.22,411.6 198.23,419.3 198.24,408.0 198.25,427.2 198.27,400.7"/>
<polyline points="198.27,400.7 198.28,428.3 198.29,414.0 198.31,417.2 198.32,420.8 198.33,422.5 198.35,441.5"/>
<polyline points="198.35,441.5 198.36,409.1 198.37,413.4 198.39,408.2 198.40,415.3 198.41,414.5 198.42,429.5"/>
<polyline points="198.42,429.5 198.44,403.7 198.45,416.7 198.46,411.1 198.48,412.7 198.49,413.4 198.50,407.7"/>
<polyline points="198.50,407.7 198.52,413.8 198.53,421.2 198.54,411.1 198.55,410.7 198.57,411.8 198.58,414.4"/>
<polyline points="198.58,414.4 198.59,418.0 198.61,416.9 198.62,427.4 198.63,431.3 198.65,409.0 198.66,412.0"/>
<polyline points="198.66,412.0 198.67,406.3 198.68,429.8 198.70,404.6 198.71,403.1 198.72,412.7 198.74,405.7"/>
<polyline points="198.74,405.7 198.75,423.2 198.76,409.1 198.78,426.9 198.79,408.4 198.80,414.9 198.81,411.1"/>
<polyline points="198.81,411.1 198.83,425.0 198.84,404.0 198.85,419.3 198.87,430.4 198.88,412.6 198.89,413.9"/>
<polyline points="198.89,413.9 198.90,435.8 198.92,410.3 198.93,412.8 198.94,419.8 198.96,420.6 198.97,410.9"/>
<polyline points="198.97,410.9 198.98,430.7 199.00,411.3 199.01,444.6 199.02,414.8 199.03,426.7 199.05,413.6"/>
<polyline points="199.05,413.6 199.06,414.3 199.07,406.7 199.09,421.1 199.10,412.9 199.11,427.4 199.12,422.0"/>
<polyline points="199.12,422.0 199.14,419.0 199.15,406.5 199.16,415.0 199.18,409.9 199.19,405.2 199.20,405.4"/>
<polyline points="199.20,405.4 199.22,422.1 199.23,428.8 199.24,414.3 199.25,413.4 199.27,424.6 199.28,410.0"/>
<polyline points="199.28,410.0 199.29,412.2 199.31,417.9 199.32,408.2 199.33,411.7 199.34,414.0 199.36,408.1"/>
<polyline points="199.36,408.1 199.37,404.9 199.38,418.0 199.40,421.9 199.41,413.1 199.42,402.3 199.43,421.7"/>
<polyline points="199.43,421.7 199.45,412.8 199.46,417.7 199.47,415.6 199.49,421.4 199.50,411.4 199.51,408.5"/>
<polyline points="199.51,408.5 199.53,409.9 199.54,431.8 199.55,432.8 199.56,405.6 199.58,413.5 199.59,414.4"/>
<polyline points="199.59,414.4 199.60,417.1 199.62,409.3 199.63,426.4 199.64,402.9 199.65,413.4 199.67,403.4"/>
<polyline points="199.67,403.4 199.68,422.1 199.69,434.4 199.71,412.1 199.72,419.2 199.73,409.8 199.74,411.5"/>
<polyline points="199.74,411.5 199.76,423.6 199.77,409.5 199.78,427.1 199.80,404.5 199.81,415.9 199.82,413.9"/>
<polyline points="199.82,413.9 199.83,402.8 199.85,437.9 199.86,412.2 199.87,427.7 199.89,414.9 199.90,400.4"/>
<polyline points="199.90,400.4 199.91,412.8 199.92,415.5 199.94,409.4 199.95,412.4 199.96,420.0 199.98,424.8"/>
<polyline points="199.98,424.8 199.99,400.7 200.00,410.9 200.01,414.2 200.03,416.2 200.04,409.4 200.05,409.5"/>
<polyline points="200.05,409.5 200.07,443.2 200.08,413.9 200.09,409.8 200.10,422.4 200.12,420.5 200.13,409.8"/>
<polyline points="200.13,409.8 200.14,410.4 200.16,414.7 200.17,412.3 200.18,419.1 200.19,411.7 200.21,364.8"/>
<polyline points="200.21,364.8 200.22,419.3 200.23,409.5 200.24,405.0 200.26,424.2 200.27,400.9 200.28,410.0"/>
<polyline points="200.28,410.0 200.30,418.5 200.31,415.1 200.32,408.2 200.33,420.5 200.35,402.8 200.36,413.4"/>
<polyline points="200.36,413.4 200.37,424.8 200.39,407.7 200.40,413.0 200.41,429.6 200.42,411.6 200.44,415.0"/>
<polyline points="200.44,415.0 200.45,437.9 200.46,426.7 200.48,411.1 200.49,415.3 200.50,410.8 200.51,412.0"/>
<polyline points="200.51,412.0 200.53,412.7 200.54,413.5 200.55,417.3 200.56,412.2 200.58,435.0 200.59,425.8"/>
<polyline points="200.59,425.8 200.60,415.0 200.62,406.7 200.63,412.7 200.64,423.2 200.65,413.7 200.67,402.9"/>
<polyline points="200.67,402.9 200.68,417.2 200.69,408.8 200.70,416.6 200.72,414.6 200.73,410.0 200.74,411.8"/>
<polyline points="200.74,411.8 200.76,428.3 200.77,427.7 200.78,403.3 200.79,405.3 200.81,425.7 200.82,427.2"/>
<polyline points="200.82,427.2 200.83,415.5 200.85,421.3 200.86,406.5 200.87,424.4 200.88,408.4 200.90,406.8"/>
<polyline points="200.90,406.8 200.91,417.3 200.92,419.4 200.93,423.4 200.95,413.4 200.96,415.4 200.97,428.3"/>
<polyline points="200.97,428.3 200.99,431.1 201.00,414.5 201.01,409.7 201.02,418.3 201.04,436.4 201.05,407.7"/>
<polyline points="201.05,407.7 201.06,418.4 201.07,412.9 201.09,423.0 201.10,405.4 201.11,437.4 201.13,423.6"/>
<polyline points="201.13,423.6 201.14,417.7 201.15,427.0 201.16,423.9 201.18,438.5 201.19,418.2 201.20,409.5"/>
<polyline points="201.20,409.5 201.21,424.1 201.23,423.1 201.24,411.9 201.25,414.1 201.26,416.1 201.28,430.8"/>
<polyline points="201.28,430.8 201.29,423.0 201.30,415.6 201.32,424.4 201.33,416.8 201.34,410.7 201.35,411.0"/>
<polyline points="201.35,411.0 201.37,422.7 201.38,409.1 201.39,412.5 201.40,416.9 201.42,412.0 201.43,409.3"/>
<polyline points="201.43,409.3 201.44,401.4 201.46,416.4 201.47,419.1 201.48,407.7 201.49,428.6 201.51,421.3"/>
<polyline points="201.51,421.3 201.52,429.2 201.53,427.0 201.54,419.0 201.56,411.5 201.57,438.7 201.58,420.7"/>
<polyline points="201.58,420.7 201.59,421.9 201.61,417.9 201.62,408.8 201.63,411.9 201.65,420.9 201.66,426.9"/>
<polyline points="201.66,426.9 201.67,414.6 201.68,431.4 201.70,424.0 201.71,427.3 201.72,451.7 201.73,420.2"/>
<polyline points="201.73,420.2 201.75,417.4 201.76,417.6 201.77,404.6 201.78,416.7 201.80,414.4 201.81,418.3"/>
<polyline points="201.81,418.3 201.82,420.3 201.83,408.6 201.85,427.0 201.86,423.8 201.87,414.2 201.89,417.1"/>
<polyline points="201.89,417.1 201.90,414.9 201.91,418.3 201.92,411.1 201.94,425.9 201.95,418.7 201.96,413.0"/>
<polyline points="201.96,413.0 201.97,426.5 201.99,411.1 202.00,405.2 202.01,424.5 202.02,410.1 202.04,412.3"/>
<polyline points="202.04,412.3 202.05,402.9 202.06,413.1 202.07,412.4 202.09,410.5 202.10,415.7 202.11,410.1"/>
<polyline points="202.11,410.1 202.12,406.1 202.14,419.1 202.15,428.3 202.16,429.3 202.18,413.0 202.19,422.5"/>
<polyline points="202.19,422.5 202.20,465.8 202.21,418.2 202.23,419.2 202.24,416.5 202.25,417.9 202.26,413.2"/>
<polyline points="202.26,413.2 202.28,422.6 202.29,420.5 202.30,416.8 202.31,415.9 202.33,419.6 202.34,412.7"/>
<polyline points="202.34,412.7 202.35,412.3 202.36,419.9 202.38,429.3 202.39,438.3 202.40,428.1 202.41,417.9"/>
<polyline points="202.41,417.9 202.43,400.3 202.44,428.3 202.45,427.6 202.46,416.0 202.48,423.7 202.49,427.0"/>
<polyline points="202.49,427.0 202.50,411.3 202.51,417.7 202.53,428.2 202.54,409.6 202.55,415.2 202.57,409.7"/>
<polyline points="202.57,409.7 202.58,410.4 202.59,435.0 202.60,418.5 202.62,415.3 202.63,403.8 202.64,417.8"/>
<polyline points="202.64,417.8 202.65,442.9 202.67,421.4 202.68,423.7 202.69,410.3 202.70,424.7 202.72,413.7"/>
<polyline points="202.72,413.7 202.73,415.0 202.74,406.6 202.75,419.4 202.77,426.5 202.78,408.0 202.79,417.9"/>
<polyline points="202.79,417.9 202.80,398.3 202.82,423.8 202.83,401.9 202.84,420.0 202.85,414.3 202.87,408.9"/>
<polyline points="202.87,408.9 202.88,428.7 202.89,427.3 202.90,425.5 202.92,413.5 202.93,404.1 202.94,418.9"/>
<polyline points="202.94,418.9 202.95,441.1 202.97,450.6 202.98,437.7 202.99,416.2 203.00,405.5 203.02,424.2"/>
<polyline points="203.02,424.2 203.03,410.3 203.04,411.4 203.05,423.7 203.07,431.2 203.08,418.2 203.09,409.6"/>
<polyline points="203.09,409.6 203.10,408.5 203.12,414.5 203.13,421.2 203.14,407.3 203.15,420.1 203.17,417.9"/>
<polyline points="203.17,417.9 203.18,417.6 203.19,425.9 203.20,418.9 203.22,415.6 203.23,420.7 203.24,427.0"/>
<polyline points="203.24,427.0 203.25,430.9 203.27,423.3 203.28,412.2 203.29,430.1 203.30,416.7 203.32,415.4"/>
<polyline points="203.32,415.4 203.33,410.6 203.34,426.2 203.35,411.0 203.37,439.4 203.38,413.0 203.39,410.6"/>
<polyline points="203.39,410.6 203.40,423.2 203.42,427.8 203.43,435.3 203.44,411.8 203.45,433.1 203.47,413.5"/>
<polyline points="203.47,413.5 203.48,409.9 203.49,421.0 203.50,438.9 203.52,420.1 203.53,408.3 203.54,407.3"/>
<polyline points="203.54,407.3 203.55,421.8 203.57,410.7 203.58,407.0 203.59,412.1 203.60,413.6 203.61,409.0"/>
<polyline points="203.61,409.0 203.63,409.2 203.64,414.2 203.65,414.5 203.66,421.5 203.68,430.1 203.69,418.9"/>
<polyline points="203.69,418.9 203.70,433.9 203.71,409.0 203.73,413.4 203.74,407.3 203.75,419.0 203.76,426.9"/>
<polyline points="203.76,426.9 203.78,409.3 203.79,407.1 203.80,407.5 203.81,407.7 203.83,406.3 203.84,411.4"/>
<polyline points="203.84,411.4 203.85,413.4 203.86,409.6 203.88,426.2 203.89,411.7 203.90,410.5 203.91,414.5"/>
<polyline points="203.91,414.5 203.93,415.1 203.94,412.3 203.95,409.1 203.96,408.0 203.97,416.2 203.99,412.0"/>
<polyline points="203.99,412.0 204.00,437.4 204.01,422.1 204.02,424.1 204.04,419.3 204.05,410.9 204.06,407.4"/>
<polyline points="204.06,407.4 204.07,421.7 204.09,418.2 204.10,411.3 204.11,433.6 204.12,423.1 204.14,416.7"/>
<polyline points="204.14,416.7 204.15,424.5 204.16,412.5 204.17,402.9 204.19,425.2 204.20,445.5 204.21,430.9"/>
<polyline points="204.21,430.9 204.22,420.6 204.23,410.6 204.25,440.6 204.26,424.5 204.27,417.6 204.28,405.7"/>
<polyline points="204.28,405.7 204.30,407.8 204.31,427.6 204.32,426.8 204.33,416.8 204.35,409.1 204.36,413.0"/>
<polyline points="204.36,413.0 204.37,403.8 204.38,404.5 204.40,418.1 204.41,411.4 204.42,409.2 204.43,409.4"/>
<polyline points="204.43,409.4 204.45,408.8 204.46,403.5 204.47,425.1 204.48,415.1 204.49,427.2 204.51,420.6"/>
<polyline points="204.51,420.6 204.52,410.8 204.53,420.3 204.54,410.4 204.56,430.5 204.57,409.9 204.58,437.2"/>
<polyline points="204.58,437.2 204.59,410.3 204.61,415.5 204.62,417.8 204.63,431.8 204.64,407.2 204.65,415.8"/>
<polyline points="204.65,415.8 204.67,423.0 204.68,419.1 204.69,419.9 204.70,421.4 204.72,415.5 204.73,407.3"/>
<polyline points="204.73,407.3 204.74,410.2 204.75,430.4 204.77,412.3 204.78,412.6 204.79,416.6 204.80,420.8"/>
<polyline points="204.80,420.8 204.81,423.8 204.83,439.8 204.84,420.1 204.85,420.1 204.86,420.3 204.88,409.9"/>
<polyline points="204.88,409.9 204.89,421.4 204.90,431.1 204.91,419.6 204.93,437.6 204.94,404.5 204.95,422.8"/>
<polyline points="204.95,422.8 204.96,426.1 204.97,423.6 204.99,413.6 205.00,419.4 205.01,421.9 205.02,423.0"/>
<polyline points="205.02,423.0 205.04,419.5 205.05,415.0 205.06,415.2 205.07,437.7 205.09,409.8 205.10,426.3"/>
<polyline points="205.10,426.3 205.11,408.9 205.12,421.8 205.13,408.9 205.15,435.7 205.16,411.4 205.17,398.7"/>
<polyline points="205.17,398.7 205.18,433.8 205.20,429.8 205.21,437.3 205.22,417.1 205.23,433.5 205.24,405.5"/>
<polyline points="205.24,405.5 205.26,419.7 205.27,408.3 205.28,410.5 205.29,413.5 205.31,420.7 205.32,410.4"/>
<polyline points="205.32,410.4 205.33,435.7 205.34,406.0 205.36,411.4 205.37,418.3 205.38,417.8 205.39,421.3"/>
<polyline points="205.39,421.3 205.40,419.8 205.42,427.2 205.43,412.6 205.44,424.8 205.45,411.5 205.47,428.0"/>
<polyline points="205.47,428.0 205.48,411.4 205.49,424.2 205.50,407.6 205.51,405.8 205.53,408.1 205.54,428.5"/>
<polyline points="205.54,428.5 205.55,406.8 205.56,404.3 205.58,413.3 205.59,422.9 205.60,411.5 205.61,411.6"/>
<polyline points="205.61,411.6 205.62,412.5 205.64,426.5 205.65,414.2 205.66,425.9 205.67,427.4 205.69,423.1"/>
<polyline points="205.69,423.1 205.70,404.4 205.71,416.7 205.72,426.1 205.73,419.0 205.75,419.4 205.76,405.4"/>
<polyline points="205.76,405.4 205.77,431.4 205.78,420.9 205.80,419.8 205.81,413.2 205.82,420.2 205.83,414.7"/>
<polyline points="205.83,414.7 205.84,414.5 205.86,410.6 205.87,406.0 205.88,412.6 205.89,402.8 205.91,417.1"/>
<polyline points="205.91,417.1 205.92,415.8 205.93,412.8 205.94,416.9 205.95,408.3 205.97,421.2 205.98,434.9"/>
<polyline points="205.98,434.9 205.99,415.3 206.00,415.6 206.01,408.7 206.03,422.0 206.04,410.8 206.05,423.8"/>
<polyline points="206.05,423.8 206.06,425.2 206.08,415.4 206.09,408.5 206.10,413.5 206.11,404.9 206.12,407.3"/>
<polyline points="206.12,407.3 206.14,415.7 206.15,420.1 206.16,407.4 206.17,404.5 206.19,424.5 206.20,405.1"/>
<polyline points="206.20,405.1 206.21,412.0 206.22,421.9 206.23,410.5 206.25,422.3 206.26,432.6 206.27,415.2"/>
<polyline points="206.27,415.2 206.28,424.0 206.29,427.7 206.31,401.6 206.32,409.9 206.33,405.2 206.34,406.1"/>
<polyline points="206.34,406.1 206.36,432.1 206.37,413.5 206.38,413.0 206.39,402.0 206.40,408.9 206.42,421.6"/>
<polyline points="206.42,421.6 206.43,415.5 206.44,430.8 206.45,430.3 206.46,408.6 206.48,459.5 206.49,426.3"/>
<polyline points="206.49,426.3 206.50,423.0 206.51,410.3 206.53,413.7 206.54,417.5 206.55,414.3 206.56,408.4"/>
<polyline points="206.56,408.4 206.57,416.3 206.59,428.8 206.60,406.3 206.61,420.1 206.62,406.9 206.63,420.7"/>
<polyline points="206.63,420.7 206.65,435.4 206.66,417.9 206.67,410.6 206.68,417.2 206.70,439.2 206.71,407.5"/>
<polyline points="206.71,407.5 206.72,414.7 206.73,413.2 206.74,424.9 206.76,426.7 206.77,427.0 206.78,423.2"/>
<polyline points="206.78,423.2 206.79,421.3 206.80,411.6 206.82,411.9 206.83,444.4 206.84,429.9 206.85,418.7"/>
<polyline points="206.85,418.7 206.86,416.8 206.88,425.0 206.89,414.6 206.90,408.5 206.91,418.8 206.92,420.5"/>
<polyline points="206.92,420.5 206.94,421.9 206.95,411.9 206.96,424.8 206.97,421.1 206.99,420.2 207.00,411.3"/>
<polyline points="207.00,411.3 207.01,413.2 207.02,413.1 207.03,423.4 207.05,426.2 207.06,415.4 207.07,427.1"/>
<polyline points="207.07,427.1 207.08,410.4 207.09,409.9 207.11,418.3 207.12,412.2 207.13,423.0 207.14,415.7"/>
<polyline points="207.14,415.7 207.15,412.8 207.17,425.6 207.18,428.0 207.19,436.7 207.20,411.7 207.21,415.0"/>
<polyline points="207.21,415.0 207.23,415.3 207.24,404.1 207.25,408.6 207.26,409.7 207.27,417.0 207.29,413.1"/>
<polyline points="207.29,413.1 207.30,442.1 207.31,415.7 207.32,431.0 207.33,431.5 207.35,408.5 207.36,417.5"/>
<polyline points="207.36,417.5 207.37,407.8 207.38,423.4 207.40,413.8 207.41,399.4 207.42,421.3 207.43,414.3"/>
<polyline points="207.43,414.3 207.44,411.6 207.46,413.8 207.47,429.2 207.48,414.2 207.49,417.6 207.50,418.9"/>
<polyline points="207.50,418.9 207.52,411.5 207.53,406.6 207.54,414.2 207.55,412.5 207.56,405.3 207.58,427.0"/>
<polyline points="207.58,427.0 207.59,424.5 207.60,410.8 207.61,433.8 207.62,401.4 207.64,442.9 207.65,401.6"/>
<polyline points="207.65,401.6 207.66,404.8 207.67,409.9 207.68,418.7 207.70,403.2 207.71,410.9 207.72,409.3"/>
<polyline points="207.72,409.3 207.73,400.3 207.74,415.8 207.76,419.2 207.77,417.4 207.78,413.0 207.79,422.7"/>
<polyline points="207.79,422.7 207.80,420.1 207.82,401.2 207.83,418.7 207.84,443.9 207.85,404.4 207.86,404.3"/>
<polyline points="207.86,404.3 207.88,416.9 207.89,414.9 207.90,411.6 207.91,415.1 207.92,412.3 207.94,412.6"/>
<polyline points="207.94,412.6 207.95,421.5 207.96,416.3 207.97,414.8 207.98,404.9 208.00,426.8 208.01,418.4"/>
<polyline points="208.01,418.4 208.02,435.3 208.03,403.5 208.04,426.7 208.06,426.9 208.07,403.8 208.08,427.4"/>
<polyline points="208.08,427.4 208.09,422.9 208.10,433.3 208.11,433.7 208.13,414.6 208.14,419.8 208.15,410.3"/>
<polyline points="208.15,410.3 208.16,438.3 208.17,411.4 208.19,421.1 208.20,425.5 208.21,421.8 208.22,429.6"/>
<polyline points="208.22,429.6 208.23,431.8 208.25,429.9 208.26,416.0 208.27,418.3 208.28,431.5 208.29,407.8"/>
<polyline points="208.29,407.8 208.31,422.4 208.32,412.6 208.33,435.0 208.34,411.9 208.35,416.2 208.37,406.1"/>
<polyline points="208.37,406.1 208.38,424.0 208.39,418.7 208.40,415.7 208.41,413.8 208.43,403.7 208.44,412.4"/>
<polyline points="208.44,412.4 208.45,418.5 208.46,410.7 208.47,410.0 208.49,408.2 208.50,412.7 208.51,427.0"/>
<polyline points="208.51,427.0 208.52,420.9 208.53,422.1 208.54,418.8 208.56,415.0 208.57,405.9 208.58,423.9"/>
<polyline points="208.58,423.9 208.59,409.8 208.60,413.5 208.62,427.1 208.63,422.2 208.64,412.9 208.65,416.6"/>
<polyline points="208.65,416.6 208.66,409.7 208.68,406.2 208.69,420.7 208.70,406.1 208.71,419.0 208.72,412.1"/>
<polyline points="208.72,412.1 208.74,422.9 208.75,424.9 208.76,405.5 208.77,417.7 208.78,422.5 208.79,406.2"/>
<polyline points="208.79,406.2 208.81,419.0 208.82,421.2 208.83,412.0 208.84,427.2 208.85,414.2 208.87,408.9"/>
<polyline points="208.87,408.9 208.88,422.3 208.89,425.1 208.90,416.1 208.91,421.7 208.93,410.2 208.94,446.4"/>
<polyline points="208.94,446.4 208.95,407.9 208.96,454.8 208.97,425.7 208.98,414.3 209.00,415.6 209.01,458.1"/>
<polyline points="209.01,458.1 209.02,429.9 209.03,414.0 209.04,418.4 209.06,427.1 209.07,412.1 209.08,412.0"/>
<polyline points="209.08,412.0 209.09,432.3 209.10,405.7 209.12,414.7 209.13,418.7 209.14,417.6 209.15,411.5"/>
<polyline points="209.15,411.5 209.16,415.0 209.17,418.1 209.19,412.1 209.20,409.9 209.21,407.2 209.22,418.3"/>
<polyline points="209.22,418.3 209.23,403.7 209.25,420.0 209.26,426.1 209.27,415.9 209.28,420.8 209.29,418.1"/>
<polyline points="209.29,418.1 209.30,418.5 209.32,409.1 209.33,446.1 209.34,424.4 209.35,424.7 209.36,410.3"/>
<polyline points="209.36,410.3 209.38,413.4 209.39,418.7 209.40,445.4 209.41,421.9 209.42,404.5 209.43,417.9"/>
<polyline points="209.43,417.9 209.45,416.4 209.46,400.7 209.47,424.9 209.48,408.8 209.49,417.4 209.51,409.1"/>
<polyline points="209.51,409.1 209.52,417.3 209.53,418.5 209.54,409.4 209.55,409.5 209.56,416.4 209.58,421.6"/>
<polyline points="209.58,421.6 209.59,411.7 209.60,414.6 209.61,403.8 209.62,416.4 209.64,406.9 209.65,420.8"/>
<polyline points="209.65,420.8 209.66,415.9 209.67,414.2 209.68,424.7 209.69,447.0 209.71,406.4 209.72,413.8"/>
<polyline points="209.72,413.8 209.73,425.3 209.74,409.2 209.75,422.7 209.77,428.1 209.78,414.2 209.79,418.5"/>
<polyline points="209.79,418.5 209.80,406.6 209.81,411.0 209.82,435.9 209.84,412.3 209.85,444.3 209.86,408.4"/>
<polyline points="209.86,408.4 209.87,414.3 209.88,413.6 209.89,412.4 209.91,416.9 209.92,410.7 209.93,413.0"/>
<polyline points="209.93,413.0 209.94,428.7 209.95,406.4 209.97,411.5 209.98,431.7 209.99,413.7 210.00,412.4"/>
<polyline points="210.00,412.4 210.01,416.4 210.02,403.9 210.04,424.2 210.05,416.9 210.06,411.3 210.07,441.1"/>
<polyline points="210.07,441.1 210.08,436.5 210.09,451.1 210.11,411.7 210.12,416.9 210.13,411.5 210.14,423.1"/>
<polyline points="210.14,423.1 210.15,414.0 210.17,416.2 210.18,415.2 210.19,403.8 210.20,428.8 210.21,425.9"/>
<polyline points="210.21,425.9 210.22,422.6 210.24,416.4 210.25,403.1 210.26,400.8 210.27,408.7 210.28,418.1"/>
<polyline points="210.28,418.1 210.29,421.0 210.31,410.3 210.32,413.3 210.33,430.0 210.34,428.6 210.35,430.2"/>
<polyline points="210.35,430.2 210.37,411.2 210.38,418.6 210.39,408.7 210.40,418.6 210.41,410.4 210.42,414.5"/>
<polyline points="210.42,414.5 210.44,424.5 210.45,426.4 210.46,425.1 210.47,419.6 210.48,407.9 210.49,405.3"/>
<polyline points="210.49,405.3 210.51,441.6 210.52,416.6 210.53,412.6 210.54,426.3 210.55,415.1 210.56,411.9"/>
<polyline points="210.56,411.9 210.58,406.6 210.59,414.0 210.60,421.0 210.61,428.6 210.62,420.5 210.63,444.3"/>
<polyline points="210.63,444.3 210.65,409.3 210.66,433.0 210.67,409.8 210.68,423.7 210.69,407.7 210.70,414.9"/>
<polyline points="210.70,414.9 210.72,416.8 210.73,412.7 210.74,420.0 210.75,416.6 210.76,414.5 210.77,410.8"/>
<polyline points="210.77,410.8 210.79,416.6 210.80,433.0 210.81,419.2 210.82,419.5 210.83,409.9 210.84,449.5"/>
<polyline points="210.84,449.5 210.86,416.8 210.87,416.5 210.88,409.5 210.89,424.7 210.90,409.5 210.91,420.2"/>
<polyline points="210.91,420.2 210.93,415.0 210.94,432.0 210.95,411.4 210.96,423.4 210.97,410.9 210.98,414.6"/>
<polyline points="210.98,414.6 211.00,421.3 211.01,416.4 211.02,416.1 211.03,454.5 211.04,410.5 211.05,416.1"/>
<polyline points="211.05,416.1 211.07,404.2 211.08,414.3 211.09,446.0 211.10,414.3 211.11,410.6 211.12,424.5"/>
<polyline points="211.12,424.5 211.14,438.6 211.15,417.0 211.16,417.2 211.17,426.3 211.18,440.4 211.19,421.0"/>
<polyline points="211.19,421.0 211.21,412.0 211.22,416.8 211.23,414.2 211.24,417.1 211.25,413.2 211.26,403.3"/>
<polyline points="211.26,403.3 211.28,439.2 211.29,425.7 211.30,417.1 211.31,419.1 211.32,419.2 211.33,413.6"/>
<polyline points="211.33,413.6 211.35,423.5 211.36,440.5 211.37,416.6 211.38,418.9 211.39,422.4 211.40,413.8"/>
<polyline points="211.40,413.8 211.42,419.7 211.43,409.0 211.44,417.2 211.45,416.2 211.46,424.8 211.47,410.5"/>
<polyline points="211.47,410.5 211.49,402.5 211.50,410.8 211.51,406.6 211.52,409.9 211.53,425.0 211.54,420.1"/>
<polyline points="211.54,420.1 211.55,418.6 211.57,421.5 211.58,403.0 211.59,421.4 211.60,403.1 211.61,422.1"/>
<polyline points="211.61,422.1 211.62,424.8 211.64,419.7 211.65,412.4 211.66,413.9 211.67,408.1 211.68,414.0"/>
<polyline points="211.68,414.0 211.69,417.6 211.71,430.4 211.72,415.3 211.73,410.0 211.74,410.6 211.75,430.2"/>
<polyline points="211.75,430.2 211.76,408.2 211.78,424.9 211.79,437.3 211.80,419.0 211.81,416.4 211.82,411.7"/>
<polyline points="211.82,411.7 211.83,404.8 211.84,427.5 211.86,422.7 211.87,413.9 211.88,417.0 211.89,431.0"/>
<polyline points="211.89,431.0 211.90,416.3 211.91,416.6 211.93,429.3 211.94,422.5 211.95,409.1 211.96,404.8"/>
<polyline points="211.96,404.8 211.97,427.1 211.98,416.1 212.00,403.8 212.01,415.2 212.02,436.2 212.03,405.8"/>
<polyline points="212.03,405.8 212.04,415.7 212.05,413.0 212.06,417.7 212.08,406.6 212.09,418.0 212.10,433.1"/>
<polyline points="212.10,433.1 212.11,416.5 212.12,419.6 212.13,423.3 212.15,422.4 212.16,408.3 212.17,421.5"/>
<polyline points="212.17,421.5 212.18,413.9 212.19,400.6 212.20,409.2 212.21,416.5 212.23,424.8 212.24,436.2"/>
<polyline points="212.24,436.2 212.25,417.6 212.26,419.4 212.27,419.2 212.28,413.4 212.30,432.1 212.31,408.0"/>
<polyline points="212.31,408.0 212.32,447.0 212.33,416.7 212.34,421.4 212.35,441.3 212.36,441.6 212.38,423.7"/>
<polyline points="212.38,423.7 212.39,419.1 212.40,427.0 212.41,403.4 212.42,411.9 212.43,428.6 212.45,442.2"/>
<polyline points="212.45,442.2 212.46,403.6 212.47,427.6 212.48,416.3 212.49,407.4 212.50,412.7 212.51,426.0"/>
<polyline points="212.51,426.0 212.53,414.5 212.54,439.7 212.55,416.0 212.56,419.6 212.57,421.0 212.58,417.4"/>
<polyline points="212.58,417.4 212.59,416.6 212.61,406.4 212.62,428.2 212.63,427.0 212.64,420.2 212.65,412.5"/>
<polyline points="212.65,412.5 212.66,425.7 212.68,422.2 212.69,424.2 212.70,418.2 212.71,421.1 212.72,413.5"/>
<polyline points="212.72,413.5 212.73,428.2 212.74,412.9 212.76,409.4 212.77,443.8 212.78,403.3 212.79,411.7"/>
<polyline points="212.79,411.7 212.80,433.1 212.81,427.3 212.82,438.7 212.84,415.0 212.85,416.8 212.86,416.6"/>
<polyline points="212.86,416.6 212.87,434.4 212.88,427.9 212.89,428.8 212.90,408.4 212.92,405.0 212.93,414.7"/>
<polyline points="212.93,414.7 212.94,407.3 212.95,411.7 212.96,414.5 212.97,424.8 212.99,429.4 213.00,414.8"/>
<polyline points="213.00,414.8 213.01,411.0 213.02,422.3 213.03,415.3 213.04,419.6 213.05,413.2 213.07,418.9"/>
<polyline points="213.07,418.9 213.08,451.4 213.09,434.2 213.10,427.1 213.11,438.2 213.12,410.3 213.13,414.8"/>
<polyline points="213.13,414.8 213.15,428.7 213.16,433.9 213.17,417.8 213.18,406.5 213.19,429.8 213.20,422.5"/>
<polyline points="213.20,422.5 213.21,413.0 213.23,411.6 213.24,418.3 213.25,422.2 213.26,441.4 213.27,435.8"/>
<polyline points="213.27,435.8 213.28,412.8 213.29,418.7 213.31,419.3 213.32,409.3 213.33,424.4 213.34,429.3"/>
<polyline points="213.34,429.3 213.35,424.6 213.36,422.4 213.37,409.5 213.39,404.3 213.40,419.0 213.41,408.1"/>
<polyline points="213.41,408.1 213.42,423.2 213.43,417.4 213.44,437.1 213.45,406.3 213.47,405.6 213.48,414.7"/>
<polyline points="213.48,414.7 213.49,411.2 213.50,416.6 213.51,413.1 213.52,434.9 213.53,405.5 213.55,415.2"/>
<polyline points="213.55,415.2 213.56,429.5 213.57,406.7 213.58,433.6 213.59,417.9 213.60,421.9 213.61,402.3"/>
<polyline points="213.61,402.3 213.63,412.9 213.64,428.8 213.65,428.6 213.66,441.9 213.67,427.6 213.68,416.8"/>
<polyline points="213.68,416.8 213.69,418.4 213.70,414.0 213.72,414.9 213.73,409.6 213.74,415.2 213.75,410.3"/>
<polyline points="213.75,410.3 213.76,456.2 213.77,415.2 213.78,408.4 213.80,424.7 213.81,415.8 213.82,435.8"/>
<polyline points="213.82,435.8 213.83,413.4 213.84,418.8 213.85,424.8 213.86,419.3 213.88,417.7 213.89,412.8"/>
<polyline points="213.89,412.8 213.90,417.9 213.91,404.3 213.92,413.9 213.93,408.2 213.94,416.5 213.96,408.6"/>
<polyline points="213.96,408.6 213.97,441.3 213.98,417.1 213.99,411.6 214.00,432.3 214.01,414.4 214.02,406.5"/>
<polyline points="214.02,406.5 214.03,420.2 214.05,421.8 214.06,439.0 214.07,404.5 214.08,430.8 214.09,415.0"/>
<polyline points="214.09,415.0 214.10,424.6 214.11,418.5 214.13,405.1 214.14,395.6 214.15,410.9 214.16,424.1"/>
<polyline points="214.16,424.1 214.17,404.3 214.18,425.4 214.19,418.1 214.21,411.2 214.22,412.4 214.23,407.9"/>
<polyline points="214.23,407.9 214.24,419.7 214.25,402.1 214.26,408.3 214.27,404.1 214.28,436.9 214.30,415.7"/>
<polyline points="214.30,415.7 214.31,432.1 214.32,414.2 214.33,436.2 214.34,406.3 214.35,405.4 214.36,406.4"/>
<polyline points="214.36,406.4 214.38,433.6 214.39,415.0 214.40,421.4 214.41,417.4 214.42,442.3 214.43,423.8"/>
<polyline points="214.43,423.8 214.44,427.3 214.45,446.2 214.47,408.9 214.48,419.0 214.49,415.9 214.50,407.9"/>
<polyline points="214.50,407.9 214.51,421.0 214.52,413.0 214.53,409.7 214.54,412.8 214.56,419.9 214.57,443.2"/>
<polyline points="214.57,443.2 214.58,425.6 214.59,409.3 214.60,435.7 214.61,406.9 214.62,411.8 214.64,409.1"/>
<polyline points="214.64,409.1 214.65,417.6 214.66,419.7 214.67,404.8 214.68,413.0 214.69,407.8 214.70,431.1"/>
<polyline points="214.70,431.1 214.71,423.6 214.73,410.7 214.74,409.8 214.75,411.6 214.76,420.9 214.77,411.0"/>
<polyline points="214.77,411.0 214.78,402.8 214.79,401.8 214.80,415.1 214.82,409.0 214.83,414.1 214.84,405.8"/>
<polyline points="214.84,405.8 214.85,419.6 214.86,412.5 214.87,411.7 214.88,406.7 214.89,412.6 214.91,412.4"/>
<polyline points="214.91,412.4 214.92,419.7 214.93,440.8 214.94,415.4 214.95,404.7 214.96,421.5 214.97,409.8"/>
<polyline points="214.97,409.8 214.98,428.8 215.00,410.1 215.01,412.5 215.02,408.4 215.03,415.8 215.04,426.7"/>
<polyline points="215.04,426.7 215.05,409.4 215.06,412.0 215.07,411.3 215.09,411.0 215.10,403.9 215.11,417.1"/>
<polyline points="215.11,417.1 215.12,405.7 215.13,408.3 215.14,427.2 215.15,422.3 215.17,407.5 215.18,406.4"/>
<polyline points="215.18,406.4 215.19,423.5 215.20,414.8 215.21,408.1 215.22,418.4 215.23,415.3 215.24,408.3"/>
<polyline points="215.24,408.3 215.25,418.6 215.27,407.6 215.28,409.7 215.29,418.7 215.30,413.7 215.31,418.0"/>
<polyline points="215.31,418.0 215.32,418.2 215.33,421.4 215.34,434.3 215.36,398.8 215.37,405.5 215.38,405.7"/>
<polyline points="215.38,405.7 215.39,440.8 215.40,431.5 215.41,433.2 215.42,406.3 215.43,429.4 215.45,426.0"/>
<polyline points="215.45,426.0 215.46,414.0 215.47,409.8 215.48,402.9 215.49,409.9 215.50,416.3 215.51,424.2"/>
<polyline points="215.51,424.2 215.52,409.3 215.54,419.8 215.55,407.6 215.56,417.1 215.57,406.8 215.58,413.5"/>
<polyline points="215.58,413.5 215.59,419.2 215.60,403.8 215.61,420.6 215.63,412.2 215.64,426.0 215.65,441.8"/>
<polyline points="215.65,441.8 215.66,412.1 215.67,437.3 215.68,414.4 215.69,411.0 215.70,409.2 215.71,407.0"/>
<polyline points="215.71,407.0 215.73,425.7 215.74,405.8 215.75,408.8 215.76,413.2 215.77,409.3 215.78,418.7"/>
<polyline points="215.78,418.7 215.79,427.8 215.80,428.4 215.82,418.2 215.83,418.0 215.84,425.5 215.85,407.9"/>
<polyline points="215.85,407.9 215.86,427.0 215.87,416.7 215.88,443.6 215.89,418.4 215.90,422.3 215.92,408.4"/>
<polyline points="215.92,408.4 215.93,416.7 215.94,415.9 215.95,421.8 215.96,427.0 215.97,410.9 215.98,418.7"/>
<polyline points="215.98,418.7 215.99,423.4 216.01,408.7 216.02,442.9 216.03,405.9 216.04,421.8 216.05,413.7"/>
<polyline points="216.05,413.7 216.06,403.8 216.07,416.2 216.08,414.6 216.09,413.1 216.11,415.4 216.12,410.3"/>
<polyline points="216.12,410.3 216.13,425.8 216.14,420.0 216.15,409.1 216.16,415.8 216.17,415.5 216.18,424.8"/>
<polyline points="216.18,424.8 216.20,414.6 216.21,404.9 216.22,418.8 216.23,412.2 216.24,427.9 216.25,411.9"/>
<polyline points="216.25,411.9 216.26,407.2 216.27,403.9 216.28,416.1 216.30,404.4 216.31,427.2 216.32,406.9"/>
<polyline points="216.32,406.9 216.33,415.2 216.34,418.3 216.35,402.3 216.36,432.6 216.37,445.4 216.38,419.3"/>
<polyline points="216.38,419.3 216.40,409.0 216.41,402.3 216.42,398.3 216.43,445.6 216.44,417.9 216.45,422.2"/>
<polyline points="216.45,422.2 216.46,417.5 216.47,417.0 216.48,416.0 216.50,454.2 216.51,419.5 216.52,421.8"/>
<polyline points="216.52,421.8 216.53,411.9 216.54,414.6 216.55,421.1 216.56,428.4 216.57,423.5 216.58,410.6"/>
<polyline points="216.58,410.6 216.60,410.5 216.61,418.7 216.62,408.6 216.63,416.9 216.64,417.2 216.65,452.6"/>
<polyline points="216.65,452.6 216.66,403.2 216.67,435.1 216.68,410.1 216.70,433.5 216.71,411.7 216.72,403.8"/>
<polyline points="216.72,403.8 216.73,405.8 216.74,424.1 216.75,416.0 216.76,431.7 216.77,421.6 216.78,403.6"/>
<polyline points="216.78,403.6 216.80,412.8 216.81,437.3 216.82,416.8 216.83,423.4 216.84,432.3 216.85,416.3"/>
<polyline points="216.85,416.3 216.86,404.6 216.87,412.1 216.88,414.2 216.90,422.1 216.91,415.6 216.92,411.3"/>
<polyline points="216.92,411.3 216.93,429.1 216.94,412.9 216.95,419.3 216.96,407.9 216.97,410.6 216.98,406.5"/>
<polyline points="216.98,406.5 216.99,418.4 217.01,441.0 217.02,434.3 217.03,421.3 217.04,422.4 217.05,403.9"/>
<polyline points="217.05,403.9 217.06,429.3 217.07,409.3 217.08,406.5 217.09,420.8 217.11,418.6 217.12,418.2"/>
<polyline points="217.12,418.2 217.13,420.8 217.14,426.3 217.15,424.4 217.16,407.4 217.17,416.8 217.18,410.6"/>
<polyline points="217.18,410.6 217.19,402.7 217.20,430.0 217.22,425.6 217.23,426.6 217.24,432.3 217.25,431.5"/>
<polyline points="217.25,431.5 217.26,429.9 217.27,407.7 217.28,423.4 217.29,450.1 217.30,412.9 217.32,414.3"/>
<polyline points="217.32,414.3 217.33,409.7 217.34,419.8 217.35,413.4 217.36,435.5 217.37,416.0 217.38,404.8"/>
<polyline points="217.38,404.8 217.39,425.3 217.40,420.0 217.41,437.0 217.43,412.3 217.44,428.6 217.45,428.9"/>
<polyline points="217.45,428.9 217.46,431.0 217.47,408.8 217.48,411.9 217.49,419.6 217.50,424.8 217.51,417.2"/>
<polyline points="217.51,417.2 217.52,422.6 217.54,419.8 217.55,420.3 217.56,436.1 217.57,416.8 217.58,405.3"/>
<polyline points="217.58,405.3 217.59,417.8 217.60,416.6 217.61,440.5 217.62,427.5 217.63,417.8 217.65,409.7"/>
<polyline points="217.65,409.7 217.66,410.4 217.67,408.1 217.68,405.9 217.69,405.2 217.70,420.9 217.71,410.1"/>
<polyline points="217.71,410.1 217.72,414.8 217.73,410.9 217.74,418.0 217.76,404.8 217.77,438.2 217.78,412.5"/>
<polyline points="217.78,412.5 217.79,411.1 217.80,411.9 217.81,431.9 217.82,420.2 217.83,410.4 217.84,412.3"/>
<polyline points="217.84,412.3 217.85,408.7 217.87,425.1 217.88,407.7 217.89,413.5 217.90,420.2 217.91,404.7"/>
<polyline points="217.91,404.7 217.92,417.3 217.93,411.2 217.94,400.6 217.95,415.7 217.96,441.9 217.98,412.8"/>
<polyline points="217.98,412.8 217.99,410.6 218.00,419.0 218.01,429.3 218.02,406.1 218.03,412.2 218.04,419.5"/>
<polyline points="218.04,419.5 218.05,422.6 218.06,419.4 218.07,412.3 218.09,407.9 218.10,411.2 218.11,420.9"/>
<polyline points="218.11,420.9 218.12,416.3 218.13,426.0 218.14,413.9 218.15,425.4 218.16,411.4 218.17,420.8"/>
<polyline points="218.17,420.8 218.18,416.1 218.19,414.1 218.21,418.5 218.22,418.5 218.23,414.6 218.24,408.7"/>
<polyline points="218.24,408.7 218.25,419.1 218.26,413.2 218.27,421.5 218.28,404.5 218.29,407.9 218.30,429.8"/>
<polyline points="218.30,429.8 218.32,405.2 218.33,420.5 218.34,437.0 218.35,409.3 218.36,430.4 218.37,408.4"/>
<polyline points="218.37,408.4 218.38,425.0 218.39,428.3 218.40,404.5 218.41,423.0 218.42,428.4 218.44,408.3"/>
<polyline points="218.44,408.3 218.45,474.8 218.46,411.6 218.47,425.5 218.48,421.7 218.49,411.0 218.50,407.3"/>
<polyline points="218.50,407.3 218.51,414.2 218.52,403.3 218.53,442.1 218.54,419.3 218.56,407.1 218.57,423.0"/>
<polyline points="218.57,423.0 218.58,439.0 218.59,425.2 218.60,418.6 218.61,442.1 218.62,431.6 218.63,406.7"/>
<polyline points="218.63,406.7 218.64,405.9 218.65,426.2 218.66,417.5 218.68,408.0 218.69,429.5 218.70,411.5"/>
<polyline points="218.70,411.5 218.71,426.3 218.72,419.4 218.73,411.9 218.74,404.6 218.75,441.9 218.76,416.8"/>
<polyline points="218.76,416.8 218.77,419.3 218.78,430.0 218.80,420.6 218.81,416.3 218.82,415.5 218.83,407.6"/>
<polyline points="218.83,407.6 218.84,414.9 218.85,413.5 218.86,414.2 218.87,402.4 218.88,406.3 218.89,408.4"/>
<polyline points="218.89,408.4 218.90,417.6 218.92,412.5 218.93,429.5 218.94,415.9 218.95,411.5 218.96,410.0"/>
<polyline points="218.96,410.0 218.97,444.3 218.98,425.8 218.99,405.0 219.00,431.3 219.01,419.8 219.02,410.9"/>
<polyline points="219.02,410.9 219.04,410.2 219.05,415.1 219.06,445.7 219.07,417.0 219.08,415.5 219.09,402.7"/>
<polyline points="219.09,402.7 219.10,406.3 219.11,415.7 219.12,403.5 219.13,409.4 219.14,410.3 219.15,423.6"/>
<polyline points="219.15,423.6 219.17,423.4 219.18,429.2 219.19,414.6 219.20,402.1 219.21,419.6 219.22,410.6"/>
<polyline points="219.22,410.6 219.23,415.0 219.24,418.9 219.25,455.0 219.26,406.9 219.27,418.4 219.28,424.2"/>
<polyline points="219.28,424.2 219.30,429.3 219.31,418.7 219.32,418.4 219.33,402.1 219.34,412.1 219.35,414.5"/>
<polyline points="219.35,414.5 219.36,427.4 219.37,407.7 219.38,418.8 219.39,428.1 219.40,420.6 219.42,424.0"/>
<polyline points="219.42,424.0 219.43,407.6 219.44,409.1 219.45,451.6 219.46,427.2 219.47,418.0 219.48,421.0"/>
<polyline points="219.48,421.0 219.49,435.1 219.50,427.3 219.51,423.8 219.52,431.2 219.53,416.3 219.54,427.0"/>
<polyline points="219.54,427.0 219.56,425.3 219.57,424.9 219.58,411.2 219.59,425.0 219.60,409.3 219.61,410.2"/>
<polyline points="219.61,410.2 219.62,420.4 219.63,416.1 219.64,416.0 219.65,424.4 219.66,415.3 219.67,452.5"/>
<polyline points="219.67,452.5 219.69,423.7 219.70,412.9 219.71,424.7 219.72,406.9 219.73,415.2 219.74,437.5"/>
<polyline points="219.74,437.5 219.75,420.0 219.76,415.3 219.77,412.9 219.78,421.0 219.79,440.3 219.80,431.3"/>
<polyline points="219.80,431.3 219.82,410.1 219.83,425.8 219.84,427.6 219.85,412.9 219.86,411.1 219.87,420.7"/>
<polyline points="219.87,420.7 219.88,408.2 219.89,418.1 219.90,410.6 219.91,425.1 219.92,433.3 219.93,419.2"/>
<polyline points="219.93,419.2 219.94,413.9 219.96,413.8 219.97,441.4 219.98,432.3 219.99,420.7 220.00,413.1"/>
<polyline points="220.00,413.1 220.01,414.0 220.02,426.3 220.03,405.9 220.04,407.0 220.05,406.2 220.06,418.8"/>
<polyline points="220.06,418.8 220.07,421.1 220.08,412.7 220.10,442.2 220.11,422.2 220.12,415.0 220.13,418.6"/>
<polyline points="220.13,418.6 220.14,419.7 220.15,417.7 220.16,419.0 220.17,406.9 220.18,422.0 220.19,419.8"/>
<polyline points="220.19,419.8 220.20,427.5 220.21,422.5 220.22,405.6 220.24,414.5 220.25,436.8 220.26,416.0"/>
<polyline points="220.26,416.0 220.27,411.9 220.28,434.1 220.29,419.1 220.30,414.9 220.31,422.6 220.32,410.9"/>
<polyline points="220.32,410.9 220.33,414.3 220.34,413.5 220.35,411.9 220.36,421.8 220.38,406.6 220.39,411.1"/>
<polyline points="220.39,411.1 220.40,424.6 220.41,409.2 220.42,401.8 220.43,408.1 220.44,420.1 220.45,409.3"/>
<polyline points="220.45,409.3 220.46,418.6 220.47,420.6 220.48,415.7 220.49,418.4 220.50,409.2 220.52,406.4"/>
<polyline points="220.52,406.4 220.53,417.1 220.54,428.8 220.55,416.8 220.56,412.5 220.57,409.4 220.58,449.8"/>
<polyline points="220.58,449.8 220.59,426.0 220.60,416.7 220.61,432.6 220.62,419.3 220.63,440.1 220.64,416.4"/>
<polyline points="220.64,416.4 220.65,431.3 220.67,416.7 220.68,415.0 220.69,409.6 220.70,416.1 220.71,413.5"/>
<polyline points="220.71,413.5 220.72,429.3 220.73,405.6 220.74,417.4 220.75,433.5 220.76,409.8 220.77,415.8"/>
<polyline points="220.77,415.8 220.78,414.3 220.79,417.6 220.80,402.2 220.82,419.7 220.83,436.6 220.84,434.7"/>
<polyline points="220.84,434.7 220.85,418.8 220.86,420.1 220.87,408.1 220.88,407.8 220.89,447.7 220.90,419.3"/>
<polyline points="220.90,419.3 220.91,430.3 220.92,407.0 220.93,411.4 220.94,419.7 220.95,416.7 220.96,435.3"/>
<polyline points="220.96,435.3 220.98,427.9 220.99,417.1 221.00,419.2 221.01,410.2 221.02,422.6 221.03,408.0"/>
<polyline points="221.03,408.0 221.04,435.6 221.05,430.7 221.06,415.3 221.07,428.5 221.08,399.2 221.09,406.7"/>
<polyline points="221.09,406.7 221.10,423.4 221.11,416.6 221.13,412.1 221.14,407.6 221.15,408.2 221.16,421.0"/>
<polyline points="221.16,421.0 221.17,414.9 221.18,418.9 221.19,407.5 221.20,412.0 221.21,435.9 221.22,416.7"/>
<polyline points="221.22,416.7 221.23,416.5 221.24,426.3 221.25,418.0 221.26,412.8 221.27,409.9 221.29,411.4"/>
<polyline points="221.29,411.4 221.30,408.8 221.31,418.0 221.32,427.7 221.33,417.7 221.34,419.3 221.35,431.0"/>
<polyline points="221.35,431.0 221.36,422.1 221.37,412.9 221.38,406.4 221.39,407.0 221.40,421.7 221.41,415.8"/>
<polyline points="221.41,415.8 221.42,422.6 221.43,412.0 221.45,426.7 221.46,415.6 221.47,424.8 221.48,430.3"/>
<polyline points="221.48,430.3 221.49,412.9 221.50,426.6 221.51,415.1 221.52,421.8 221.53,474.8 221.54,411.3"/>
<polyline points="221.54,411.3 221.55,406.6 221.56,419.5 221.57,415.6 221.58,412.8 221.59,408.4 221.60,426.9"/>
<polyline points="221.60,426.9 221.62,409.7 221.63,409.7 221.64,424.4 221.65,420.0 221.66,454.0 221.67,424.4"/>
<polyline points="221.67,424.4 221.68,422.2 221.69,408.7 221.70,410.7 221.71,426.2 221.72,418.7 221.73,404.1"/>
<polyline points="221.73,404.1 221.74,418.2 221.75,413.6 221.76,412.6 221.77,425.2 221.79,438.8 221.80,409.1"/>
<polyline points="221.80,409.1 221.81,424.5 221.82,440.2 221.83,407.8 221.84,436.3 221.85,450.0 221.86,420.6"/>
<polyline points="221.86,420.6 221.87,409.9 221.88,415.8 221.89,414.3 221.90,432.9 221.91,415.6 221.92,419.6"/>
<polyline points="221.92,419.6 221.93,422.4 221.94,419.6 221.96,422.0 221.97,430.5 221.98,419.6 221.99,418.3"/>
<polyline points="221.99,418.3 222.00,415.0 222.01,413.9 222.02,410.9 222.03,417.4 222.04,415.1 222.05,420.7"/>
<polyline points="222.05,420.7 222.06,417.0 222.07,421.8 222.08,416.4 222.09,406.7 222.10,413.2 222.11,420.6"/>
<polyline points="222.11,420.6 222.12,412.1 222.14,418.8 222.15,437.7 222.16,424.9 222.17,408.0 222.18,404.5"/>
<polyline points="222.18,404.5 222.19,406.3 222.20,428.1 222.21,403.1 222.22,431.3 222.23,428.6 222.24,412.5"/>
<polyline points="222.24,412.5 222.25,427.9 222.26,432.0 222.27,429.8 222.28,429.3 222.29,416.7 222.30,409.4"/>
<polyline points="222.30,409.4 222.31,415.4 222.33,420.4 222.34,422.4 222.35,423.0 222.36,416.5 222.37,410.5"/>
<polyline points="222.37,410.5 222.38,419.9 222.39,430.1 222.40,417.6 222.41,443.8 222.42,406.8 222.43,414.9"/>
<polyline points="222.43,414.9 222.44,415.4 222.45,406.0 222.46,432.2 222.47,419.2 222.48,435.9 222.49,405.9"/>
<polyline points="222.49,405.9 222.50,431.1 222.52,410.7 222.53,407.8 222.54,411.3 222.55,425.6 222.56,411.0"/>
<polyline points="222.56,411.0 222.57,406.6 222.58,416.9 222.59,424.7 222.60,419.3 222.61,412.7 222.62,421.2"/>
<polyline points="222.62,421.2 222.63,421.0 222.64,441.2 222.65,419.5 222.66,426.1 222.67,429.7 222.68,417.4"/>
<polyline points="222.68,417.4 222.69,405.7 222.71,425.5 222.72,410.6 222.73,427.1 222.74,418.6 222.75,431.8"/>
<polyline points="222.75,431.8 222.76,416.9 222.77,446.4 222.78,411.1 222.79,420.6 222.80,400.5 222.81,425.7"/>
<polyline points="222.81,425.7 222.82,408.7 222.83,446.6 222.84,421.3 222.85,426.7 222.86,428.9 222.87,428.2"/>
<polyline points="222.87,428.2 222.88,413.7 222.89,414.7 222.91,410.6 222.92,414.0 222.93,414.1 222.94,449.5"/>
<polyline points="222.94,449.5 222.95,415.9 222.96,421.5 222.97,412.4 222.98,415.9 222.99,408.3 223.00,417.2"/>
<polyline points="223.00,417.2 223.01,457.4 223.02,410.3 223.03,413.8 223.04,414.8 223.05,416.9 223.06,411.2"/>
<polyline points="223.06,411.2 223.07,420.3 223.08,426.0 223.09,430.6 223.10,410.9 223.12,433.0 223.13,421.4"/>
<polyline points="223.13,421.4 223.14,413.7 223.15,407.8 223.16,426.9 223.17,449.4 223.18,414.7 223.19,412.3"/>
<polyline points="223.19,412.3 223.20,411.3 223.21,416.1 223.22,411.3 223.23,415.5 223.24,425.0 223.25,423.9"/>
<polyline points="223.25,423.9 223.26,406.6 223.27,421.4 223.28,412.4 223.29,421.3 223.30,407.4 223.31,416.2"/>
<polyline points="223.31,416.2 223.32,406.2 223.34,410.8 223.35,426.3 223.36,433.0 223.37,414.3 223.38,407.4"/>
<polyline points="223.38,407.4 223.39,422.2 223.40,421.3 223.41,463.4 223.42,412.9 223.43,416.6 223.44,409.9"/>
<polyline points="223.44,409.9 223.45,409.7 223.46,411.6 223.47,411.5 223.48,410.1 223.49,412.8 223.50,414.4"/>
<polyline points="223.50,414.4 223.51,423.3 223.52,423.1 223.53,421.8 223.54,407.0 223.55,407.3 223.57,416.7"/>
<polyline points="223.57,416.7 223.58,405.8 223.59,419.0 223.60,424.0 223.61,421.6 223.62,417.8 223.63,415.0"/>
<polyline points="223.63,415.0 223.64,415.4 223.65,433.6 223.66,409.2 223.67,429.8 223.68,419.6 223.69,409.2"/>
<polyline points="223.69,409.2 223.70,436.4 223.71,420.9 223.72,414.7 223.73,420.2 223.74,411.2 223.75,425.3"/>
<polyline points="223.75,425.3 223.76,408.8 223.77,408.0 223.78,420.1 223.80,418.1 223.81,408.9 223.82,435.3"/>
<polyline points="223.82,435.3 223.83,425.9 223.84,412.5 223.85,411.7 223.86,451.1 223.87,414.8 223.88,438.3"/>
<polyline points="223.88,438.3 223.89,428.2 223.90,422.8 223.91,425.5 223.92,406.0 223.93,422.5 223.94,414.8"/>
<polyline points="223.94,414.8 223.95,413.0 223.96,417.3 223.97,431.9 223.98,410.3 223.99,409.4 224.00,403.8"/>
<polyline points="224.00,403.8 224.01,405.2 224.02,433.1 224.03,414.4 224.05,411.5 224.06,449.3 224.07,409.9"/>
<polyline points="224.07,409.9 224.08,434.7 224.09,419.4 224.10,416.0 224.11,415.8 224.12,422.4 224.13,410.9"/>
<polyline points="224.13,410.9 224.14,423.7 224.15,424.2 224.16,418.7 224.17,403.9 224.18,412.6 224.19,408.8"/>
<polyline points="224.19,408.8 224.20,402.6 224.21,413.0 224.22,412.2 224.23,420.4 224.24,413.2 224.25,420.9"/>
<polyline points="224.25,420.9 224.26,405.3 224.27,426.8 224.28,419.7 224.29,414.3 224.31,421.6 224.32,410.8"/>
<polyline points="224.32,410.8 224.33,410.7 224.34,407.5 224.35,437.4 224.36,426.5 224.37,442.8 224.38,425.3"/>
<polyline points="224.38,425.3 224.39,421.8 224.40,409.5 224.41,428.2 224.42,415.4 224.43,414.0 224.44,409.1"/>
<polyline points="224.44,409.1 224.45,410.6 224.46,412.1 224.47,414.9 224.48,403.1 224.49,418.1 224.50,407.7"/>
<polyline points="224.50,407.7 224.51,432.7 224.52,414.9 224.53,424.8 224.54,428.6 224.55,408.8 224.56,429.0"/>
<polyline points="224.56,429.0 224.57,419.1 224.59,426.5 224.60,418.1 224.61,413.8 224.62,421.8 224.63,405.2"/>
<polyline points="224.63,405.2 224.64,415.3 224.65,409.3 224.66,415.9 224.67,439.4 224.68,414.1 224.69,406.5"/>
<polyline points="224.69,406.5 224.70,407.7 224.71,401.3 224.72,425.4 224.73,414.5 224.74,420.7 224.75,409.2"/>
<polyline points="224.75,409.2 224.76,416.4 224.77,429.6 224.78,416.7 224.79,421.6 224.80,410.1 224.81,418.7"/>
<polyline points="224.81,418.7 224.82,428.0 224.83,414.3 224.84,444.0 224.85,426.2 224.86,412.9 224.87,417.3"/>
<polyline points="224.87,417.3 224.89,433.1 224.90,421.4 224.91,408.2 224.92,417.8 224.93,417.4 224.94,434.0"/>
<polyline points="224.94,434.0 224.95,451.4 224.96,426.8 224.97,415.1 224.98,414.5 224.99,417.2 225.00,442.4"/>
<polyline points="225.00,442.4 225.01,419.2 225.02,415.1 225.03,407.4 225.04,409.4 225.05,426.2 225.06,419.9"/>
<polyline points="225.06,419.9 225.07,418.2 225.08,430.0 225.09,409.5 225.10,417.6 225.11,407.7 225.12,414.2"/>
<polyline points="225.12,414.2 225.13,416.9 225.14,432.3 225.15,418.1 225.16,414.7 225.17,421.6 225.18,421.2"/>
<polyline points="225.18,421.2 225.19,422.2 225.20,413.3 225.22,419.8 225.23,418.4 225.24,415.9 225.25,419.2"/>
<polyline points="225.25,419.2 225.26,421.0 225.27,413.8 225.28,437.2 225.29,415.4 225.30,422.6 225.31,411.1"/>
<polyline points="225.31,411.1 225.32,418.3 225.33,430.6 225.34,427.6 225.35,408.8 225.36,410.4 225.37,407.8"/>
<polyline points="225.37,407.8 225.38,421.2 225.39,418.8 225.40,416.4 225.41,403.5 225.42,412.2 225.43,433.0"/>
<polyline points="225.43,433.0 225.44,434.6 225.45,428.5 225.46,411.9 225.47,417.9 225.48,412.2 225.49,419.2"/>
<polyline points="225.49,419.2 225.50,411.9 225.51,425.7 225.52,416.8 225.53,408.7 225.54,420.4 225.55,422.9"/>
<polyline points="225.55,422.9 225.56,418.1 225.58,427.4 225.59,424.0 225.60,431.2 225.61,415.9 225.62,427.5"/>
<polyline points="225.62,427.5 225.63,413.9 225.64,419.5 225.65,406.8 225.66,439.0 225.67,424.8 225.68,414.1"/>
<polyline points="225.68,414.1 225.69,423.1 225.70,410.0 225.71,428.1 225.72,435.4 225.73,421.1 225.74,412.6"/>
<polyline points="225.74,412.6 225.75,420.0 225.76,418.7 225.77,426.7 225.78,406.8 225.79,411.5 225.80,407.6"/>
<polyline points="225.80,407.6 225.81,410.5 225.82,425.5 225.83,405.2 225.84,416.0 225.85,436.6 225.86,416.3"/>
<polyline points="225.86,416.3 225.87,433.3 225.88,411.5 225.89,410.6 225.90,424.1 225.91,446.6 225.92,427.4"/>
<polyline points="225.92,427.4 225.93,438.2 225.94,419.3 225.95,409.7 225.96,424.4 225.98,409.0 225.99,420.2"/>
<polyline points="225.99,420.2 226.00,412.2 226.01,412.3 226.02,417.0 226.03,417.7 226.04,418.0 226.05,411.7"/>
<polyline points="226.05,411.7 226.06,451.8 226.07,445.9 226.08,405.2 226.09,425.3 226.10,404.7 226.11,417.9"/>
<polyline points="226.11,417.9 226.12,428.8 226.13,409.5 226.14,410.5 226.15,418.6 226.16,421.2 226.17,417.7"/>
<polyline points="226.17,417.7 226.18,439.2 226.19,419.3 226.20,409.1 226.21,410.4 226.22,421.1 226.23,432.2"/>
<polyline points="226.23,432.2 226.24,418.9 226.25,419.1 226.26,400.9 226.27,409.2 226.28,433.2 226.29,415.4"/>
<polyline points="226.29,415.4 226.30,412.2 226.31,414.6 226.32,408.1 226.33,418.7 226.34,423.8 226.35,413.9"/>
<polyline points="226.35,413.9 226.36,418.6 226.37,400.9 226.38,412.7 226.39,405.3 226.40,445.6 226.41,427.0"/>
<polyline points="226.41,427.0 226.42,409.2 226.43,423.4 226.44,421.6 226.46,407.7 226.47,426.1 226.48,416.9"/>
<polyline points="226.48,416.9 226.49,414.8 226.50,421.9 226.51,427.8 226.52,439.0 226.53,411.7 226.54,423.6"/>
<polyline points="226.54,423.6 226.55,415.5 226.56,421.4 226.57,406.7 226.58,409.2 226.59,407.3 226.60,409.8"/>
<polyline points="226.60,409.8 226.61,418.5 226.62,451.2 226.63,402.1 226.64,419.7 226.65,419.7 226.66,410.1"/>
<polyline points="226.66,410.1 226.67,423.2 226.68,417.5 226.69,427.9 226.70,416.3 226.71,414.1 226.72,429.4"/>
<polyline points="226.72,429.4 226.73,421.0 226.74,416.2 226.75,414.5 226.76,416.9 226.77,419.4 226.78,427.3"/>
<polyline points="226.78,427.3 226.79,425.3 226.80,434.0 226.81,411.7 226.82,425.1 226.83,415.2 226.84,417.2"/>
<polyline points="226.84,417.2 226.85,404.8 226.86,416.2 226.87,426.2 226.88,405.3 226.89,415.8 226.90,407.3"/>
<polyline points="226.90,407.3 226.91,412.4 226.92,404.4 226.93,411.0 226.94,422.5 226.95,422.0 226.96,420.9"/>
<polyline points="226.96,420.9 226.97,421.1 226.98,411.6 226.99,430.4 227.00,434.7 227.01,425.4 227.02,423.8"/>
<polyline points="227.02,423.8 227.03,417.1 227.04,404.0 227.05,410.4 227.06,407.6 227.08,412.5 227.09,417.0"/>
<polyline points="227.09,417.0 227.10,427.7 227.11,409.3 227.12,426.6 227.13,426.0 227.14,430.2 227.15,420.0"/>
<polyline points="227.15,420.0 227.16,449.1 227.17,423.5 227.18,421.1 227.19,406.2 227.20,409.4 227.21,419.7"/>
<polyline points="227.21,419.7 227.22,404.8 227.23,418.7 227.24,420.5 227.25,415.3 227.26,426.9 227.27,410.8"/>
<polyline points="227.27,410.8 227.28,427.2 227.29,415.8 227.30,408.0 227.31,437.6 227.32,450.0 227.33,416.3"/>
<polyline points="227.33,416.3 227.34,405.9 227.35,410.3 227.36,413.5 227.37,422.6 227.38,428.2 227.39,431.7"/>
<polyline points="227.39,431.7 227.40,438.3 227.41,413.8 227.42,425.0 227.43,415.1 227.44,413.9 227.45,423.1"/>
<polyline points="227.45,423.1 227.46,414.3 227.47,412.4 227.48,431.6 227.49,420.1 227.50,403.8 227.51,404.7"/>
<polyline points="227.51,404.7 227.52,412.0 227.53,420.1 227.54,412.0 227.55,434.0 227.56,416.1 227.57,409.0"/>
<polyline points="227.57,409.0 227.58,404.4 227.59,402.6 227.60,425.2 227.61,423.5 227.62,413.0 227.63,415.6"/>
<polyline points="227.63,415.6 227.64,412.0 227.65,432.5 227.66,409.4 227.67,413.1 227.68,412.7 227.69,411.7"/>
<polyline points="227.69,411.7 227.70,421.2 227.71,408.3 227.72,410.8 227.73,439.2 227.74,426.1 227.75,414.1"/>
<polyline points="227.75,414.1 227.76,431.2 227.77,436.3 227.78,407.5 227.79,406.4 227.80,408.6 227.81,439.9"/>
<polyline points="227.81,439.9 227.82,422.9 227.83,409.8 227.84,411.6 227.85,404.5 227.86,416.5 227.87,415.3"/>
<polyline points="227.87,415.3 227.88,411.9 227.89,436.8 227.90,416.7 227.91,410.5 227.92,419.8 227.93,409.4"/>
<polyline points="227.93,409.4 227.94,428.8 227.95,415.3 227.96,432.8 227.97,424.6 227.98,408.6 227.99,416.6"/>
<polyline points="227.99,416.6 228.00,417.0 228.01,425.3 228.02,420.7 228.03,422.2 228.04,414.1 228.05,422.9"/>
<polyline points="228.05,422.9 228.06,419.4 228.07,423.9 228.08,417.7 228.09,426.8 228.10,419.1 228.11,436.5"/>
<polyline points="228.11,436.5 228.12,422.1 228.13,410.8 228.14,412.5 228.15,420.1 228.16,426.5 228.17,415.1"/>
<polyline points="228.17,415.1 228.18,420.2 228.19,412.0 228.20,418.1 228.21,423.2 228.22,434.9 228.23,408.2"/>
<polyline points="228.23,408.2 228.24,415.0 228.25,418.6 228.26,424.3 228.28,406.4 228.29,413.1 228.30,414.7"/>
<polyline points="228.30,414.7 228.31,427.1 228.32,422.9 228.33,420.0 228.34,425.2 228.35,424.8 228.36,419.6"/>
<polyline points="228.36,419.6 228.37,411.2 228.38,410.8 228.39,412.7 228.40,418.6 228.41,416.2 228.42,423.0"/>
<polyline points="228.42,423.0 228.43,424.2 228.44,408.9 228.45,408.1 228.46,410.4 228.47,423.4 228.48,420.9"/>
<polyline points="228.48,420.9 228.49,457.4 228.50,407.8 228.51,409.4 228.52,428.8 228.53,419.9 228.54,421.9"/>
<polyline points="228.54,421.9 228.55,436.5 228.56,413.7 228.57,415.9 228.58,451.5 228.59,419.1 228.60,410.4"/>
<polyline points="228.60,410.4 228.61,420.4 228.62,443.5 228.63,411.7 228.64,414.0 228.65,418.0 228.66,412.7"/>
<polyline points="228.66,412.7 228.67,407.1 228.68,421.1 228.69,404.1 228.70,412.3 228.71,430.8 228.72,410.5"/>
<polyline points="228.72,410.5 228.73,410.4 228.74,426.0 228.75,416.7 228.76,424.8 228.77,420.5 228.78,414.7"/>
<polyline points="228.78,414.7 228.79,418.9 228.80,412.2 228.81,427.2 228.82,434.5 228.83,432.0 228.84,439.0"/>
<polyline points="228.84,439.0 228.85,416.6 228.86,411.3 228.87,408.7 228.88,413.2 228.89,413.4 228.90,420.7"/>
<polyline points="228.90,420.7 228.91,412.5 228.92,435.8 228.93,406.3 228.94,412.3 228.95,408.2 228.96,418.9"/>
<polyline points="228.96,418.9 228.97,419.7 228.98,432.9 228.99,423.9 228.99,421.7 229.00,409.2 229.01,414.1"/>
<polyline points="229.01,414.1 229.02,438.9 229.03,408.2 229.04,423.2 229.05,437.2 229.06,417.9 229.07,428.0"/>
<polyline points="229.07,428.0 229.08,428.6 229.09,419.3 229.10,408.7 229.11,420.3 229.12,414.9 229.13,412.6"/>
<polyline points="229.13,412.6 229.14,419.8 229.15,413.2 229.16,419.2 229.17,430.4 229.18,421.5 229.19,442.4"/>
<polyline points="229.19,442.4 229.20,413.6 229.21,424.1 229.22,408.9 229.23,408.8 229.24,419.5 229.25,414.4"/>
<polyline points="229.25,414.4 229.26,409.7 229.27,423.9 229.28,422.5 229.29,422.5 229.30,409.7 229.31,412.2"/>
<polyline points="229.31,412.2 229.32,412.3 229.33,415.1 229.34,434.4 229.35,423.7 229.36,402.1 229.37,405.8"/>
<polyline points="229.37,405.8 229.38,417.2 229.39,423.2 229.40,412.9 229.41,437.2 229.42,417.4 229.43,420.6"/>
<polyline points="229.43,420.6 229.44,434.1 229.45,418.2 229.46,418.5 229.47,416.2 229.48,410.8 229.49,415.3"/>
<polyline points="229.49,415.3 229.50,410.6 229.51,424.7 229.52,414.4 229.53,432.7 229.54,413.7 229.55,416.9"/>
<polyline points="229.55,416.9 229.56,426.1 229.57,421.2 229.58,410.1 229.59,416.9 229.60,417.1 229.61,432.8"/>
<polyline points="229.61,432.8 229.62,415.7 229.63,434.1 229.64,416.9 229.65,424.1 229.66,422.5 229.67,418.8"/>
<polyline points="229.67,418.8 229.68,414.8 229.69,417.9 229.70,418.5 229.71,410.9 229.72,419.4 229.73,415.9"/>
<polyline points="229.73,415.9 229.74,418.8 229.75,421.0 229.76,427.5 229.77,416.5 229.78,418.7 229.79,426.5"/>
<polyline points="229.79,426.5 229.80,431.5 229.81,408.8 229.82,468.1 229.83,410.8 229.84,430.0 229.85,411.6"/>
<polyline points="229.85,411.6 229.86,412.2 229.87,415.5 229.88,411.3 229.89,406.9 229.90,416.0 229.91,414.5"/>
<polyline points="229.91,414.5 229.92,419.7 229.93,422.5 229.94,413.4 229.95,424.6 229.96,408.8 229.97,417.7"/>
<polyline points="229.97,417.7 229.98,405.7 229.99,420.9 230.00,406.8 230.01,419.4 230.02,409.1 230.03,407.5"/>
<polyline points="230.03,407.5 230.04,441.4 230.05,421.9 230.06,434.0 230.07,414.0 230.08,417.9 230.09,409.2"/>
<polyline points="230.09,409.2 230.10,405.5 230.11,414.6 230.12,412.0 230.13,423.2 230.14,425.2 230.15,440.8"/>
<polyline points="230.15,440.8 230.16,408.9 230.17,414.4 230.18,439.8 230.18,409.0 230.19,408.0 230.20,417.8"/>
<polyline points="230.20,417.8 230.21,416.2 230.22,410.4 230.23,408.5 230.24,415.8 230.25,411.7 230.26,417.0"/>
<polyline points="230.26,417.0 230.27,414.7 230.28,423.1 230.29,434.3 230.30,416.9 230.31,405.9 230.32,409.0"/>
<polyline points="230.32,409.0 230.33,421.5 230.34,436.7 230.35,407.1 230.36,425.6 230.37,408.0 230.38,420.4"/>
<polyline points="230.38,420.4 230.39,437.2 230.40,434.9 230.41,433.3 230.42,413.4 230.43,419.4 230.44,421.7"/>
<polyline points="230.44,421.7 230.45,411.5 230.46,406.3 230.47,421.1 230.48,428.2 230.49,411.4 230.50,414.8"/>
<polyline points="230.50,414.8 230.51,429.4 230.52,420.0 230.53,427.4 230.54,429.9 230.55,431.6 230.56,415.2"/>
<polyline points="230.56,415.2 230.57,430.0 230.58,405.8 230.59,417.1 230.60,410.5 230.61,406.7 230.62,415.5"/>
<polyline points="230.62,415.5 230.63,412.6 230.64,410.4 230.65,413.2 230.66,416.5 230.67,420.9 230.68,431.9"/>
<polyline points="230.68,431.9 230.69,426.7 230.70,422.5 230.71,410.2 230.72,415.2 230.73,428.2 230.74,421.0"/>
<polyline points="230.74,421.0 230.75,426.1 230.76,426.9 230.77,440.5 230.78,415.5 230.79,426.5 230.79,404.9"/>
<polyline points="230.79,404.9 230.80,407.9 230.81,409.3 230.82,427.9 230.83,417.4 230.84,418.2 230.85,426.7"/>
<polyline points="230.85,426.7 230.86,412.1 230.87,413.0 230.88,418.2 230.89,409.5 230.90,420.9 230.91,414.0"/>
<polyline points="230.91,414.0 230.92,419.0 230.93,449.8 230.94,411.3 230.95,426.6 230.96,406.6 230.97,424.4"/>
<polyline points="230.97,424.4 230.98,419.0 230.99,423.1 231.00,425.1 231.01,415.1 231.02,415.0 231.03,466.4"/>
<polyline points="231.03,466.4 231.04,435.3 231.05,402.1 231.06,416.6 231.07,412.2 231.08,425.6 231.09,423.6"/>
<polyline points="231.09,423.6 231.10,440.3 231.11,412.9 231.12,424.5 231.13,410.4 231.14,420.6 231.15,415.2"/>
<polyline points="231.15,415.2 231.16,409.3 231.17,429.3 231.18,416.1 231.19,404.7 231.20,413.5 231.21,407.8"/>
<polyline points="231.21,407.8 231.22,416.5 231.23,422.1 231.24,445.3 231.25,424.5 231.26,418.0 231.27,429.4"/>
<polyline points="231.27,429.4 231.27,423.8 231.28,418.9 231.29,421.2 231.30,427.0 231.31,427.5 231.32,419.5"/>
<polyline points="231.32,419.5 231.33,427.6 231.34,438.3 231.35,408.0 231.36,419.9 231.37,418.5 231.38,428.5"/>
<polyline points="231.38,428.5 231.39,403.7 231.40,415.1 231.41,429.2 231.42,429.4 231.43,413.4 231.44,446.9"/>
<polyline points="231.44,446.9 231.45,410.3 231.46,409.4 231.47,415.1 231.48,407.8 231.49,424.7 231.50,459.3"/>
<polyline points="231.50,459.3 231.51,416.6 231.52,416.2 231.53,420.6 231.54,414.3 231.55,413.8 231.56,426.5"/>
<polyline points="231.56,426.5 231.57,423.6 231.58,442.1 231.59,413.4 231.60,420.4 231.61,420.0 231.62,423.7"/>
<polyline points="231.62,423.7 231.63,411.7 231.64,433.7 231.65,408.1 231.66,412.2 231.67,421.3 231.67,424.3"/>
<polyline points="231.67,424.3 231.68,424.2 231.69,431.4 231.70,401.5 231.71,412.7 231.72,403.6 231.73,425.8"/>
<polyline points="231.73,425.8 231.74,413.9 231.75,417.1 231.76,422.9 231.77,410.8 231.78,410.6 231.79,417.5"/>
<polyline points="231.79,417.5 231.80,444.6 231.81,404.7 231.82,430.4 231.83,413.1 231.84,417.6 231.85,417.1"/>
<polyline points="231.85,417.1 231.86,425.7 231.87,418.6 231.88,422.9 231.89,418.4 231.90,413.1 231.91,419.7"/>
<polyline points="231.91,419.7 231.92,410.4 231.93,419.6 231.94,405.4 231.95,420.8 231.96,413.7 231.97,440.8"/>
<polyline points="231.97,440.8 231.98,407.8 231.99,438.8 232.00,406.7 232.01,431.1 232.02,410.2 232.02,428.9"/>
<polyline points="232.02,428.9 232.03,433.8 232.04,413.6 232.05,409.6 232.06,413.8 232.07,416.9 232.08,427.9"/>
<polyline points="232.08,427.9 232.09,441.9 232.10,409.5 232.11,411.9 232.12,420.9 232.13,423.7 232.14,433.3"/>
<polyline points="232.14,433.3 232.15,409.9 232.16,421.8 232.17,415.8 232.18,412.2 232.19,418.9 232.20,438.1"/>
<polyline points="232.20,438.1 232.21,409.3 232.22,428.7 232.23,444.5 232.24,402.5 232.25,421.5 232.26,431.4"/>
<polyline points="232.26,431.4 232.27,416.6 232.28,428.4 232.29,419.4 232.30,427.9 232.31,417.8 232.32,443.2"/>
<polyline points="232.32,443.2 232.33,405.2 232.34,416.8 232.34,421.9 232.35,423.1 232.36,428.4 232.37,428.2"/>
<polyline points="232.37,428.2 232.38,409.1 232.39,422.6 232.40,412.9 232.41,413.7 232.42,425.1 232.43,415.9"/>
<polyline points="232.43,415.9 232.44,439.7 232.45,406.6 232.46,416.7 232.47,429.5 232.48,419.2 232.49,417.6"/>
<polyline points="232.49,417.6 232.50,415.2 232.51,409.6 232.52,411.2 232.53,417.8 232.54,416.8 232.55,422.8"/>
<polyline points="232.55,422.8 232.56,431.3 232.57,414.4 232.58,420.6 232.59,409.7 232.60,420.1 232.61,411.7"/>
<polyline points="232.61,411.7 232.62,414.4 232.63,404.3 232.63,426.1 232.64,417.9 232.65,416.9 232.66,411.3"/>
<polyline points="232.66,411.3 232.67,411.6 232.68,409.1 232.69,446.9 232.70,415.2 232.71,417.0 232.72,423.5"/>
<polyline points="232.72,423.5 232.73,442.1 232.74,412.8 232.75,408.6 232.76,407.7 232.77,431.3 232.78,424.3"/>
<polyline points="232.78,424.3 232.79,405.3 232.80,407.7 232.81,424.6 232.82,416.8 232.83,413.9 232.84,427.6"/>
<polyline points="232.84,427.6 232.85,420.9 232.86,413.0 232.87,410.2 232.88,402.9 232.89,415.2 232.90,409.4"/>
<polyline points="232.90,409.4 232.90,419.1 232.91,422.8 232.92,431.0 232.93,409.7 232.94,421.4 232.95,426.0"/>
<polyline points="232.95,426.0 232.96,426.7 232.97,427.1 232.98,425.7 232.99,422.9 233.00,409.1 233.01,414.7"/>
<polyline points="233.01,414.7 233.02,418.2 233.03,443.5 233.04,403.7 233.05,407.0 233.06,406.2 233.07,410.3"/>
<polyline points="233.07,410.3 233.08,417.8 233.09,431.6 233.10,414.0 233.11,429.9 233.12,417.9 233.13,420.3"/>
<polyline points="233.13,420.3 233.14,422.6 233.15,427.4 233.16,413.5 233.16,423.8 233.17,445.9 233.18,427.0"/>
<polyline points="233.18,427.0 233.19,420.8 233.20,415.7 233.21,420.8 233.22,449.5 233.23,413.3 233.24,429.6"/>
<polyline points="233.24,429.6 233.25,423.7 233.26,419.8 233.27,408.4 233.28,432.0 233.29,431.9 233.30,418.3"/>
<polyline points="233.30,418.3 233.31,405.8 233.32,428.8 233.33,410.3 233.34,413.6 233.35,427.7 233.36,411.6"/>
<polyline points="233.36,411.6 233.37,409.3 233.38,421.0 233.39,420.6 233.40,411.1 233.40,403.4 233.41,420.1"/>
<polyline points="233.41,420.1 233.42,414.3 233.43,417.3 233.44,422.9 233.45,411.4 233.46,415.7 233.47,418.6"/>
<polyline points="233.47,418.6 233.48,421.8 233.49,411.4 233.50,405.6 233.51,414.0 233.52,412.3 233.53,417.2"/>
<polyline points="233.53,417.2 233.54,421.6 233.55,416.3 233.56,411.2 233.57,405.0 233.58,410.8 233.59,417.0"/>
<polyline points="233.59,417.0 233.60,410.8 233.61,406.3 233.62,415.6 233.63,406.5 233.63,410.6 233.64,423.8"/>
<polyline points="233.64,423.8 233.65,419.8 233.66,409.5 233.67,409.5 233.68,466.3 233.69,433.1 233.70,409.4"/>
<polyline points="233.70,409.4 233.71,411.8 233.72,406.8 233.73,405.9 233.74,426.2 233.75,421.8 233.76,420.9"/>
<polyline points="233.76,420.9 233.77,421.8 233.78,422.7 233.79,438.5 233.80,406.2 233.81,411.2 233.82,408.8"/>
<polyline points="233.82,408.8 233.83,434.9 233.84,413.9 233.85,424.3 233.85,410.5 233.86,407.4 233.87,431.4"/>
<polyline points="233.87,431.4 233.88,424.0 233.89,406.6 233.90,414.6 233.91,416.2 233.92,408.5 233.93,419.3"/>
<polyline points="233.93,419.3 233.94,414.7 233.95,415.3 233.96,414.6 233.97,419.8 233.98,425.8 233.99,410.2"/>
<polyline points="233.99,410.2 234.00,414.1 234.01,426.8 234.02,404.0 234.03,416.5 234.04,408.3 234.05,426.6"/>
<polyline points="234.05,426.6 234.06,423.8 234.06,415.1 234.07,423.2 234.08,418.4 234.09,416.5 234.10,426.6"/>
<polyline points="234.10,426.6 234.11,419.7 234.12,415.6 234.13,403.8 234.14,426.6 234.15,405.4 234.16,420.6"/>
<polyline points="234.16,420.6 234.17,418.7 234.18,415.8 234.19,408.3 234.20,407.8 234.21,415.1 234.22,409.5"/>
<polyline points="234.22,409.5 234.23,421.0 234.24,423.8 234.25,425.0 234.26,417.9 234.26,405.2 234.27,406.8"/>
<polyline points="234.27,406.8 234.28,425.4 234.29,408.2 234.30,431.7 234.31,416.1 234.32,410.8 234.33,428.8"/>
<polyline points="234.33,428.8 234.34,413.0 234.35,414.8 234.36,421.0 234.37,424.8 234.38,435.8 234.39,412.3"/>
<polyline points="234.39,412.3 234.40,419.5 234.41,408.1 234.42,404.1 234.43,432.1 234.44,404.5 234.45,413.2"/>
<polyline points="234.45,413.2 234.46,416.7 234.46,418.9 234.47,427.0 234.48,421.7 234.49,411.7 234.50,415.8"/>
<polyline points="234.50,415.8 234.51,407.7 234.52,426.1 234.53,440.7 234.54,409.3 234.55,442.2 234.56,432.7"/>
<polyline points="234.56,432.7 234.57,409.9 234.58,413.7 234.59,433.1 234.60,418.6 234.61,435.0 234.62,437.6"/>
<polyline points="234.62,437.6 234.63,426.1 234.64,410.0 234.64,419.9 234.65,446.6 234.66,422.0 234.67,415.1"/>
<polyline points="234.67,415.1 234.68,408.7 234.69,423.4 234.70,417.8 234.71,415.6 234.72,405.2 234.73,421.5"/>
<polyline points="234.73,421.5 234.74,407.3 234.75,410.6 234.76,416.2 234.77,420.2 234.78,406.5 234.79,408.7"/>
<polyline points="234.79,408.7 234.80,411.1 234.81,416.7 234.82,419.7 234.83,428.1 234.83,407.5 234.84,412.6"/>
<polyline points="234.84,412.6 234.85,426.3 234.86,423.4 234.87,444.6 234.88,428.6 234.89,405.5 234.90,426.8"/>
<polyline points="234.90,426.8 234.91,420.6 234.92,419.0 234.93,425.9 234.94,420.1 234.95,420.2 234.96,438.3"/>
<polyline points="234.96,438.3 234.97,429.0 234.98,418.2 234.99,413.9 235.00,413.8 235.00,407.0 235.01,432.0"/>
<polyline points="235.01,432.0 235.02,426.8 235.03,406.8 235.04,417.2 235.05,418.1 235.06,412.8 235.07,407.8"/>
<polyline points="235.07,407.8 235.08,408.5 235.09,416.2 235.10,414.6 235.11,423.5 235.12,412.3 235.13,426.8"/>
<polyline points="235.13,426.8 235.14,431.5 235.15,434.3 235.16,414.2 235.17,417.3 235.18,426.8 235.18,408.4"/>
<polyline points="235.18,408.4 235.19,414.7 235.20,436.9 235.21,421.9 235.22,408.1 235.23,404.5 235.24,442.0"/>
<polyline points="235.24,442.0 235.25,413.8 235.26,407.8 235.27,404.1 235.28,425.8 235.29,431.7 235.30,425.3"/>
<polyline points="235.30,425.3 235.31,414.8 235.32,417.6 235.33,418.4 235.34,414.4 235.34,439.3 235.35,413.7"/>
<polyline points="235.35,413.7 235.36,412.9 235.37,418.7 235.38,416.1 235.39,420.2 235.40,442.6 235.41,421.0"/>
<polyline points="235.41,421.0 235.42,425.5 235.43,416.1 235.44,428.3 235.45,412.1 235.46,408.6 235.47,425.4"/>
<polyline points="235.47,425.4 235.48,413.1 235.49,411.8 235.50,415.4 235.51,415.6 235.51,414.4 235.52,429.4"/>
<polyline points="235.52,429.4 235.53,439.4 235.54,413.6 235.55,411.0 235.56,414.8 235.57,411.5 235.58,414.1"/>
<polyline points="235.58,414.1 235.59,414.4 235.60,423.0 235.61,436.3 235.62,435.4 235.63,418.8 235.64,423.8"/>
<polyline points="235.64,423.8 235.65,414.5 235.66,419.0 235.67,422.2 235.67,403.5 235.68,420.0 235.69,411.8"/>
<polyline points="235.69,411.8 235.70,412.3 235.71,404.9 235.72,418.9 235.73,437.6 235.74,447.3 235.75,401.7"/>
<polyline points="235.75,401.7 235.76,410.3 235.77,403.3 235.78,417.3 235.79,396.0 235.80,409.8 235.81,427.9"/>
<polyline points="235.81,427.9 235.82,416.3 235.82,430.5 235.83,422.6 235.84,412.9 235.85,408.6 235.86,414.5"/>
<polyline points="235.86,414.5 235.87,417.4 235.88,418.4 235.89,431.2 235.90,417.0 235.91,415.4 235.92,407.3"/>
<polyline points="235.92,407.3 235.93,428.6 235.94,439.6 235.95,419.8 235.96,431.5 235.97,431.1 235.98,409.3"/>
<polyline points="235.98,409.3 235.98,417.8 235.99,406.4 236.00,406.5 236.01,414.6 236.02,403.1 236.03,412.3"/>
<polyline points="236.03,412.3 236.04,406.2 236.05,409.5 236.06,413.5 236.07,425.3 236.08,409.6 236.09,408.3"/>
<polyline points="236.09,408.3 236.10,411.2 236.11,415.2 236.12,419.7 236.13,426.2 236.13,406.0 236.14,415.1"/>
<polyline points="236.14,415.1 236.15,400.5 236.16,408.2 236.17,429.9 236.18,424.3 236.19,431.9 236.20,423.4"/>
<polyline points="236.20,423.4 236.21,414.6 236.22,412.4 236.23,421.5 236.24,413.7 236.25,412.2 236.26,415.5"/>
<polyline points="236.26,415.5 236.27,408.3 236.27,402.0 236.28,411.4 236.29,424.1 236.30,419.3 236.31,421.0"/>
<polyline points="236.31,421.0 236.32,424.5 236.33,408.8 236.34,410.8 236.35,411.3 236.36,436.1 236.37,412.2"/>
<polyline points="236.37,412.2 236.38,417.7 236.39,419.5 236.40,437.7 236.41,435.1 236.42,432.1 236.42,421.5"/>
<polyline points="236.42,421.5 236.43,424.0 236.44,417.4 236.45,410.3 236.46,431.7 236.47,415.6 236.48,407.6"/>
<polyline points="236.48,407.6 236.49,415.2 236.50,407.2 236.51,411.6 236.52,421.4 236.53,422.9 236.54,408.5"/>
<polyline points="236.54,408.5 236.55,403.8 236.56,401.8 236.56,401.6 236.57,410.8 236.58,412.8 236.59,404.4"/>
<polyline points="236.59,404.4 236.60,417.2 236.61,427.8 236.62,413.3 236.63,415.7 236.64,423.7 236.65,417.8"/>
<polyline points="236.65,417.8 236.66,418.8 236.67,447.3 236.68,405.4 236.69,414.6 236.70,425.7 236.70,412.7"/>
<polyline points="236.70,412.7 236.71,404.2 236.72,429.1 236.73,424.4 236.74,408.6 236.75,406.3 236.76,400.6"/>
<polyline points="236.76,400.6 236.77,423.6 236.78,427.3 236.79,417.4 236.80,409.3 236.81,405.7 236.82,410.6"/>
<polyline points="236.82,410.6 236.83,410.1 236.83,411.2 236.84,428.6 236.85,414.7 236.86,407.0 236.87,462.9"/>
<polyline points="236.87,462.9 236.88,409.0 236.89,408.9 236.90,428.1 236.91,412.2 236.92,413.3 236.93,432.7"/>
<polyline points="236.93,432.7 236.94,413.8 236.95,430.4 236.96,438.2 236.97,420.2 236.97,413.1 236.98,438.6"/>
<polyline points="236.98,438.6 236.99,414.1 237.00,414.2 237.01,408.7 237.02,402.1 237.03,420.7 237.04,406.0"/>
<polyline points="237.04,406.0 237.05,411.8 237.06,416.0 237.07,421.4 237.08,418.6 237.09,425.5 237.10,430.0"/>
<polyline points="237.10,430.0 237.10,412.2 237.11,406.8 237.12,405.4 237.13,426.4 237.14,409.9 237.15,415.0"/>
<polyline points="237.15,415.0 237.16,428.8 237.17,410.8 237.18,415.8 237.19,414.6 237.20,430.3 237.21,414.5"/>
<polyline points="237.21,414.5 237.22,411.9 237.23,417.6 237.23,419.3 237.24,417.9 237.25,456.1 237.26,409.9"/>
<polyline points="237.26,409.9 237.27,423.1 237.28,398.7 237.29,403.3 237.30,405.5 237.31,425.6 237.32,414.0"/>
<polyline points="237.32,414.0 237.33,423.4 237.34,425.3 237.35,406.9 237.35,419.3 237.36,408.1 237.37,414.8"/>
<polyline points="237.37,414.8 237.38,415.4 237.39,407.6 237.40,427.7 237.41,419.7 237.42,438.8 237.43,412.8"/>
<polyline points="237.43,412.8 237.44,404.7 237.45,424.4 237.46,408.3 237.47,418.9 237.48,415.0 237.48,411.3"/>
<polyline points="237.48,411.3 237.49,424.4 237.50,419.2 237.51,428.1 237.52,412.9 237.53,409.6 237.54,410.3"/>
<polyline points="237.54,410.3 237.55,418.3 237.56,417.0 237.57,407.3 237.58,417.4 237.59,418.3 237.60,426.2"/>
<polyline points="237.60,426.2 237.60,421.7 237.61,442.9 237.62,413.7 237.63,409.8 237.64,406.5 237.65,415.3"/>
<polyline points="237.65,415.3 237.66,439.2 237.67,416.9 237.68,418.5 237.69,415.2 237.70,440.1 237.71,425.6"/>
<polyline points="237.71,425.6 237.72,414.1 237.73,409.2 237.73,421.2 237.74,442.3 237.75,410.3 237.76,411.3"/>
<polyline points="237.76,411.3 237.77,418.8 237.78,414.2 237.79,406.6 237.80,419.9 237.81,417.8 237.82,433.1"/>
<polyline points="237.82,433.1 237.83,430.8 237.84,422.9 237.85,434.4 237.85,412.1 237.86,424.6 237.87,410.2"/>
<polyline points="237.87,410.2 237.88,419.0 237.89,436.6 237.90,426.4 237.91,411.3 237.92,417.7 237.93,432.7"/>
<polyline points="237.93,432.7 237.94,446.6 237.95,438.7 237.96,419.3 237.96,408.9 237.97,405.9 237.98,427.5"/>
<polyline points="237.98,427.5 237.99,408.2 238.00,418.2 238.01,432.4 238.02,421.4 238.03,412.4 238.04,415.4"/>
<polyline points="238.04,415.4 238.05,426.4 238.06,406.9 238.07,422.2 238.08,404.5 238.08,420.6 238.09,400.9"/>
<polyline points="238.09,400.9 238.10,434.8 238.11,438.0 238.12,413.9 238.13,414.1 238.14,412.0 238.15,416.5"/>
<polyline points="238.15,416.5 238.16,402.8 238.17,412.6 238.18,404.8 238.19,414.8 238.20,410.0 238.20,427.5"/>
<polyline points="238.20,427.5 238.21,414.3 238.22,429.1 238.23,426.6 238.24,412.1 238.25,409.2 238.26,422.2"/>
<polyline points="238.26,422.2 238.27,421.7 238.28,416.0 238.29,411.5 238.30,419.1 238.31,447.0 238.31,412.6"/>
<polyline points="238.31,412.6 238.32,413.2 238.33,423.5 238.34,425.8 238.35,414.9 238.36,411.2 238.37,423.1"/>
<polyline points="238.37,423.1 238.38,419.8 238.39,419.8 238.40,415.8 238.41,422.7 238.42,404.1 238.42,418.2"/>
<polyline points="238.42,418.2 238.43,406.4 238.44,410.2 238.45,415.1 238.46,424.2 238.47,413.8 238.48,411.3"/>
<polyline points="238.48,411.3 238.49,404.9 238.50,429.0 238.51,409.4 238.52,421.7 238.53,422.3 238.54,426.1"/>
<polyline points="238.54,426.1 238.54,411.4 238.55,428.5 238.56,425.6 238.57,428.7 238.58,401.3 238.59,403.1"/>
<polyline points="238.59,403.1 238.60,419.7 238.61,409.8 238.62,419.4 238.63,405.5 238.64,406.4 238.65,411.5"/>
<polyline points="238.65,411.5 238.65,406.6 238.66,405.8 238.67,425.9 238.68,416.6 238.69,410.1 238.70,411.9"/>
<polyline points="238.70,411.9 238.71,413.4 238.72,416.4 238.73,411.7 238.74,409.1 238.75,409.0 238.75,407.5"/>
<polyline points="238.75,407.5 238.76,425.9 238.77,410.8 238.78,416.2 238.79,408.1 238.80,428.6 238.81,432.6"/>
<polyline points="238.81,432.6 238.82,424.3 238.83,431.0 238.84,433.5 238.85,416.4 238.86,415.3 238.86,416.0"/>
<polyline points="238.86,416.0 238.87,418.7 238.88,417.6 238.89,429.6 238.90,417.7 238.91,407.5 238.92,417.3"/>
<polyline points="238.92,417.3 238.93,412.9 238.94,444.1 238.95,414.6 238.96,414.7 238.97,422.9 238.97,417.1"/>
<polyline points="238.97,417.1 238.98,426.7 238.99,413.8 239.00,431.7 239.01,426.8 239.02,421.9 239.03,420.7"/>
<polyline points="239.03,420.7 239.04,406.7 239.05,418.8 239.06,407.8 239.07,403.7 239.07,411.1 239.08,435.8"/>
<polyline points="239.08,435.8 239.09,437.6 239.10,404.4 239.11,425.7 239.12,411.5 239.13,423.0 239.14,409.2"/>
<polyline points="239.14,409.2 239.15,423.5 239.16,413.7 239.17,431.0 239.18,419.7 239.18,418.4 239.19,406.9"/>
<polyline points="239.19,406.9 239.20,415.2 239.21,440.7 239.22,413.3 239.23,428.9 239.24,414.7 239.25,415.4"/>
<polyline points="239.25,415.4 239.26,418.5 239.27,422.6 239.28,412.1 239.28,434.0 239.29,430.2 239.30,412.3"/>
<polyline points="239.30,412.3 239.31,410.1 239.32,419.4 239.33,411.5 239.34,409.4 239.35,432.3 239.36,405.9"/>
<polyline points="239.36,405.9 239.37,420.2 239.38,422.0 239.38,418.8 239.39,408.9 239.40,423.2 239.41,419.7"/>
<polyline points="239.41,419.7 239.42,431.6 239.43,413.5 239.44,424.4 239.45,424.2 239.46,419.3 239.47,420.8"/>
<polyline points="239.47,420.8 239.48,426.5 239.48,419.1 239.49,441.5 239.50,415.4 239.51,427.3 239.52,426.3"/>
<polyline points="239.52,426.3 239.53,413.0 239.54,401.2 239.55,425.8 239.56,404.6 239.57,412.7 239.58,425.8"/>
<polyline points="239.58,425.8 239.59,427.0 239.59,408.5 239.60,404.4 239.61,410.5 239.62,412.8 239.63,412.7"/>
<polyline points="239.63,412.7 239.64,405.6 239.65,409.9 239.66,410.3 239.67,404.2 239.68,405.8 239.68,407.8"/>
<polyline points="239.68,407.8 239.69,446.3 239.70,423.6 239.71,407.6 239.72,414.2 239.73,429.2 239.74,414.2"/>
<polyline points="239.74,414.2 239.75,410.3 239.76,428.3 239.77,432.8 239.78,409.6 239.78,406.7 239.79,414.5"/>
<polyline points="239.79,414.5 239.80,414.8 239.81,422.8 239.82,410.2 239.83,419.3 239.84,417.3 239.85,419.8"/>
<polyline points="239.85,419.8 239.86,415.3 239.87,418.2 239.88,408.6 239.88,409.2 239.89,406.8 239.90,423.7"/>
<polyline points="239.90,423.7 239.91,424.7 239.92,409.0 239.93,407.2 239.94,414.3 239.95,405.8 239.96,421.1"/>
<polyline points="239.96,421.1 239.97,420.8 239.98,418.8 239.98,426.6 239.99,432.4 240.00,437.3 240.01,422.6"/>
<polyline points="240.01,422.6 240.02,422.4 240.03,437.4 240.04,434.7 240.05,411.4 240.06,422.8 240.07,412.7"/>
<polyline points="240.07,412.7 240.07,413.9 240.08,456.1 240.09,417.4 240.10,417.3 240.11,414.6 240.12,422.7"/>
<polyline points="240.12,422.7 240.13,421.3 240.14,423.1 240.15,420.0 240.16,408.2 240.17,414.4 240.17,402.0"/>
<polyline points="240.17,402.0 240.18,412.5 240.19,409.9 240.20,447.1 240.21,415.8 240.22,405.1 240.23,431.7"/>
<polyline points="240.23,431.7 240.24,416.6 240.25,407.7 240.26,411.7 240.26,459.7 240.27,433.9 240.28,418.2"/>
<polyline points="240.28,418.2 240.29,446.3 240.30,405.3 240.31,412.6 240.32,429.6 240.33,423.3 240.34,418.9"/>
<polyline points="240.34,418.9 240.35,409.8 240.35,418.9 240.36,420.6 240.37,409.9 240.38,416.5 240.39,411.6"/>
<polyline points="240.39,411.6 240.40,415.5 240.41,405.0 240.42,429.3 240.43,409.0 240.44,412.5 240.45,405.2"/>
<polyline points="240.45,405.2 240.45,420.0 240.46,399.3 240.47,430.8 240.48,421.8 240.49,416.2 240.50,412.2"/>
<polyline points="240.50,412.2 240.51,438.2 240.52,403.8 240.53,413.5 240.54,421.3 240.54,415.1 240.55,425.7"/>
<polyline points="240.55,425.7 240.56,415.6 240.57,422.2 240.58,429.0 240.59,415.0 240.60,408.7 240.61,421.6"/>
<polyline points="240.61,421.6 240.62,416.5 240.63,409.6 240.63,405.4 240.64,411.5 240.65,410.3 240.66,410.0"/>
<polyline points="240.66,410.0 240.67,417.6 240.68,430.4 240.69,407.1 240.70,409.1 240.71,412.8 240.72,412.2"/>
<polyline points="240.72,412.2 240.72,429.6 240.73,430.0 240.74,425.1 240.75,427.1 240.76,425.9 240.77,410.1"/>
<polyline points="240.77,410.1 240.78,409.0 240.79,408.5 240.80,405.5 240.81,413.1 240.81,412.6 240.82,437.8"/>
<polyline points="240.82,437.8 240.83,430.1 240.84,398.5 240.85,421.0 240.86,406.2 240.87,406.6 240.88,413.0"/>
<polyline points="240.88,413.0 240.89,434.3 240.90,411.3 240.90,410.0 240.91,423.8 240.92,414.4 240.93,418.2"/>
<polyline points="240.93,418.2 240.94,410.6 240.95,403.1 240.96,411.5 240.97,424.6 240.98,423.3 240.99,419.7"/>
<polyline points="240.99,419.7 240.99,405.4 241.00,429.5 241.01,404.9 241.02,404.1 241.03,412.3 241.04,410.5"/>
<polyline points="241.04,410.5 241.05,419.2 241.06,407.6 241.07,431.2 241.07,407.0 241.08,422.2 241.09,414.2"/>
<polyline points="241.09,414.2 241.10,398.4 241.11,427.9 241.12,423.9 241.13,406.6 241.14,405.4 241.15,425.8"/>
<polyline points="241.15,425.8 241.16,416.7 241.16,410.7 241.17,429.5 241.18,411.7 241.19,418.9 241.20,425.1"/>
<polyline points="241.20,425.1 241.21,413.1 241.22,419.2 241.23,406.6 241.24,414.0 241.25,421.3 241.25,417.7"/>
<polyline points="241.25,417.7 241.26,411.3 241.27,406.8 241.28,406.9 241.29,416.5 241.30,425.5 241.31,418.7"/>
<polyline points="241.31,418.7 241.32,421.4 241.33,409.2 241.33,423.9 241.34,411.7 241.35,422.0 241.36,417.1"/>
<polyline points="241.36,417.1 241.37,420.9 241.38,428.3 241.39,409.8 241.40,418.3 241.41,408.3 241.42,415.6"/>
<polyline points="241.42,415.6 241.42,428.0 241.43,412.0 241.44,423.6 241.45,412.5 241.46,408.4 241.47,415.7"/>
<polyline points="241.47,415.7 241.48,422.1 241.49,426.6 241.50,418.5 241.50,411.4 241.51,405.3 241.52,405.2"/>
<polyline points="241.52,405.2 241.53,412.4 241.54,421.5 241.55,414.2 241.56,416.0 241.57,411.0 241.58,408.3"/>
<polyline points="241.58,408.3 241.59,414.1 241.59,429.6 241.60,422.2 241.61,424.3 241.62,425.6 241.63,402.8"/>
<polyline points="241.63,402.8 241.64,413.4 241.65,404.5 241.66,421.8 241.67,424.4 241.67,412.3 241.68,440.5"/>
<polyline points="241.68,440.5 241.69,432.0 241.70,433.3 241.71,428.7 241.72,407.4 241.73,406.9 241.74,415.0"/>
<polyline points="241.74,415.0 241.75,450.1 241.75,420.7 241.76,418.5 241.77,410.9 241.78,409.6 241.79,419.3"/>
<polyline points="241.79,419.3 241.80,413.5 241.81,412.8 241.82,420.6 241.83,433.0 241.83,413.9 241.84,417.4"/>
<polyline points="241.84,417.4 241.85,410.0 241.86,426.2 241.87,421.0 241.88,401.9 241.89,447.1 241.90,418.3"/>
<polyline points="241.90,418.3 241.91,408.0 241.92,429.4 241.92,445.3 241.93,427.0 241.94,424.5 241.95,406.3"/>
<polyline points="241.95,406.3 241.96,419.9 241.97,407.8 241.98,421.5 241.99,412.4 242.00,408.1 242.00,445.3"/>
<polyline points="242.00,445.3 242.01,427.8 242.02,406.5 242.03,408.8 242.04,417.8 242.05,419.1 242.06,416.8"/>
<polyline points="242.06,416.8 242.07,409.6 242.08,418.6 242.08,405.4 242.09,414.0 242.10,409.7 242.11,414.1"/>
<polyline points="242.11,414.1 242.12,415.2 242.13,425.1 242.14,408.5 242.15,416.0 242.16,421.6 242.16,435.9"/>
<polyline points="242.16,435.9 242.17,409.1 242.18,403.5 242.19,407.7 242.20,407.9 242.21,404.7 242.22,431.7"/>
<polyline points="242.22,431.7 242.23,419.6 242.24,411.5 242.24,407.8 242.25,413.6 242.26,432.5 242.27,441.3"/>
<polyline points="242.27,441.3 242.28,416.6 242.29,426.3 242.30,346.8 242.31,419.3 242.32,403.1 242.32,412.0"/>
<polyline points="242.32,412.0 242.33,401.9 242.34,425.2 242.35,432.7 242.36,434.6 242.37,411.8 242.38,417.7"/>
<polyline points="242.38,417.7 242.39,406.3 242.40,424.0 242.40,408.3 242.41,417.2 242.42,405.7 242.43,412.6"/>
<polyline points="242.43,412.6 242.44,400.7 242.45,425.6 242.46,425.7 242.47,425.6 242.47,413.4 242.48,409.6"/>
<polyline points="242.48,409.6 242.49,413.5 242.50,406.2 242.51,425.3 242.52,409.9 242.53,418.2 242.54,431.1"/>
<polyline points="242.54,431.1 242.55,406.3 242.55,423.6 242.56,422.7 242.57,421.4 242.58,428.5 242.59,416.0"/>
<polyline points="242.59,416.0 242.60,420.6 242.61,420.4 242.62,422.9 242.63,408.0 242.63,425.9 242.64,411.8"/>
<polyline points="242.64,411.8 242.65,423.3 242.66,414.0 242.67,415.5 242.68,406.7 242.69,407.3 242.70,416.2"/>
<polyline points="242.70,416.2 242.71,415.2 242.71,422.7 242.72,414.5 242.73,417.5 242.74,430.3 242.75,414.8"/>
<polyline points="242.75,414.8 242.76,403.6 242.77,413.1 242.78,417.2 242.78,409.3 242.79,409.8 242.80,409.9"/>
<polyline points="242.80,409.9 242.81,410.7 242.82,418.0 242.83,410.2 242.84,404.0 242.85,407.1 242.86,413.7"/>
<polyline points="242.86,413.7 242.86,422.5 242.87,411.4 242.88,419.0 242.89,417.3 242.90,412.2 242.91,418.3"/>
<polyline points="242.91,418.3 242.92,407.4 242.93,413.6 242.93,420.4 242.94,421.8 242.95,408.8 242.96,427.8"/>
<polyline points="242.96,427.8 242.97,413.5 242.98,403.6 242.99,407.8 243.00,412.7 243.01,417.2 243.01,434.9"/>
<polyline points="243.01,434.9 243.02,417.3 243.03,416.7 243.04,409.8 243.05,419.5 243.06,411.5 243.07,421.4"/>
<polyline points="243.07,421.4 243.08,426.8 243.08,411.4 243.09,424.2 243.10,408.4 243.11,416.4 243.12,417.0"/>
<polyline points="243.12,417.0 243.13,429.3 243.14,410.0 243.15,437.6 243.16,422.0 243.16,405.7 243.17,418.7"/>
<polyline points="243.17,418.7 243.18,426.1 243.19,415.6 243.20,408.9 243.21,417.8 243.22,421.3 243.23,430.0"/>
<polyline points="243.23,430.0 243.23,423.0 243.24,417.4 243.25,420.9 243.26,421.2 243.27,409.5 243.28,405.6"/>
<polyline points="243.28,405.6 243.29,400.3 243.30,413.2 243.30,417.2 243.31,413.5 243.32,409.3 243.33,422.5"/>
<polyline points="243.33,422.5 243.34,425.8 243.35,413.5 243.36,415.9 243.37,424.4 243.38,408.0 243.38,407.4"/>
<polyline points="243.38,407.4 243.39,412.4 243.40,414.9 243.41,419.4 243.42,412.8 243.43,425.8 243.44,412.4"/>
<polyline points="243.44,412.4 243.45,417.3 243.45,412.6 243.46,408.7 243.47,427.3 243.48,421.1 243.49,413.4"/>
<polyline points="243.49,413.4 243.50,410.3 243.51,416.7 243.52,425.0 243.52,409.3 243.53,410.2 243.54,413.1"/>
<polyline points="243.54,413.1 243.55,420.5 243.56,418.7 243.57,420.8 243.58,428.8 243.59,413.5 243.59,434.7"/>
<polyline points="243.59,434.7 243.60,404.0 243.61,411.7 243.62,426.4 243.63,409.0 243.64,402.2 243.65,410.1"/>
<polyline points="243.65,410.1 243.66,413.8 243.67,410.7 243.67,413.1 243.68,422.1 243.69,419.7 243.70,409.8"/>
<polyline points="243.70,409.8 243.71,412.9 243.72,412.2 243.73,406.6 243.74,421.4 243.74,414.6 243.75,406.7"/>
<polyline points="243.75,406.7 243.76,413.7 243.77,404.0 243.78,418.4 243.79,432.1 243.80,415.6 243.81,407.3"/>
<polyline points="243.81,407.3 243.81,406.9 243.82,405.7 243.83,413.3 243.84,419.7 243.85,431.0 243.86,402.4"/>
<polyline points="243.86,402.4 243.87,416.1 243.88,424.6 243.88,418.2 243.89,417.5 243.90,429.7 243.91,398.1"/>
<polyline points="243.91,398.1 243.92,422.1 243.93,402.8 243.94,415.5 243.95,442.4 243.95,424.9 243.96,404.4"/>
<polyline points="243.96,404.4 243.97,415.6 243.98,415.9 243.99,411.3 244.00,417.3 244.01,410.6 244.02,414.9"/>
<polyline points="244.02,414.9 244.02,417.6 244.03,408.1 244.04,409.3 244.05,410.8 244.06,410.3 244.07,410.3"/>
<polyline points="244.07,410.3 244.08,419.2 244.09,424.0 244.09,410.4 244.10,423.4 244.11,424.3 244.12,408.5"/>
<polyline points="244.12,408.5 244.13,413.0 244.14,411.4 244.15,422.5 244.16,410.8 244.16,405.6 244.17,427.6"/>
<polyline points="244.17,427.6 244.18,411.4 244.19,417.3 244.20,430.7 244.21,408.4 244.22,415.8 244.23,408.7"/>
<polyline points="244.23,408.7 244.23,436.5 244.24,414.3 244.25,409.0 244.26,410.5 244.27,421.1 244.28,402.1"/>
<polyline points="244.28,402.1 244.29,414.1 244.29,417.7 244.30,450.6 244.31,409.3 244.32,421.7 244.33,402.6"/>
<polyline points="244.33,402.6 244.34,409.3 244.35,429.9 244.36,414.2 244.36,420.9 244.37,428.4 244.38,403.9"/>
<polyline points="244.38,403.9 244.39,412.3 244.40,437.0 244.41,414.6 244.42,417.3 244.43,424.7 244.43,420.8"/>
<polyline points="244.43,420.8 244.44,432.0 244.45,420.2 244.46,414.1 244.47,414.0 244.48,410.4 244.49,421.2"/>
<polyline points="244.49,421.2 244.50,404.5 244.50,442.0 244.51,406.6 244.52,410.6 244.53,408.8 244.54,409.6"/>
<polyline points="244.54,409.6 244.55,410.7 244.56,411.9 244.56,419.7 244.57,407.7 244.58,439.7 244.59,430.2"/>
<polyline points="244.59,430.2 244.60,457.8 244.61,419.9 244.62,408.9 244.63,405.8 244.63,413.4 244.64,416.2"/>
<polyline points="244.64,416.2 244.65,423.7 244.66,433.4 244.67,422.2 244.68,428.3 244.69,409.4 244.70,411.6"/>
<polyline points="244.70,411.6 244.70,421.0 244.71,418.6 244.72,420.5 244.73,418.0 244.74,439.1 244.75,414.6"/>
<polyline points="244.75,414.6 244.76,413.6 244.76,432.8 244.77,412.2 244.78,415.2 244.79,421.0 244.80,405.7"/>
<polyline points="244.80,405.7 244.81,438.1 244.82,415.2 244.83,409.3 244.83,405.5 244.84,412.9 244.85,418.2"/>
<polyline points="244.85,418.2 244.86,425.1 244.87,429.6 244.88,409.1 244.89,417.2 244.90,412.2 244.90,411.3"/>
<polyline points="244.90,411.3 244.91,434.3 244.92,409.4 244.93,429.5 244.94,414.0 244.95,406.6 244.96,423.3"/>
<polyline points="244.96,423.3 244.96,422.9 244.97,411.0 244.98,419.7 244.99,424.4 245.00,427.3 245.01,409.3"/>
<polyline points="245.01,409.3 245.02,412.8 245.03,407.8 245.03,411.2 245.04,415.6 245.05,416.1 245.06,415.7"/>
<polyline points="245.06,415.7 245.07,422.4 245.08,437.1 245.09,424.2 245.09,426.8 245.10,402.6 245.11,407.7"/>
<polyline points="245.11,407.7 245.12,409.4 245.13,426.7 245.14,414.0 245.15,469.6 245.16,421.5 245.16,409.0"/>
<polyline points="245.16,409.0 245.17,416.7 245.18,429.1 245.19,408.4 245.20,423.3 245.21,439.3 245.22,409.5"/>
<polyline points="245.22,409.5 245.22,415.4 245.23,418.4 245.24,415.0 245.25,414.3 245.26,421.7 245.27,422.1"/>
<polyline points="245.27,422.1 245.28,412.3 245.28,418.9 245.29,452.3 245.30,403.1 245.31,407.8 245.32,407.8"/>
<polyline points="245.32,407.8 245.33,415.7 245.34,411.3 245.35,424.6 245.35,420.9 245.36,430.3 245.37,399.8"/>
<polyline points="245.37,399.8 245.38,428.8 245.39,409.9 245.40,416.3 245.41,414.6 245.41,408.4 245.42,426.6"/>
<polyline points="245.42,426.6 245.43,409.0 245.44,417.7 245.45,419.7 245.46,407.2 245.47,432.3 245.48,409.5"/>
<polyline points="245.48,409.5 245.48,428.7 245.49,408.0 245.50,417.2 245.51,409.8 245.52,408.3 245.53,412.2"/>
<polyline points="245.53,412.2 245.54,414.3 245.54,409.6 245.55,411.1 245.56,408.7 245.57,412.5 245.58,410.9"/>
<polyline points="245.58,410.9 245.59,421.8 245.60,412.3 245.60,418.8 245.61,433.2 245.62,409.0 245.63,415.7"/>
<polyline points="245.63,415.7 245.64,412.6 245.65,418.6 245.66,416.5 245.66,432.1 245.67,409.8 245.68,428.5"/>
<polyline points="245.68,428.5 245.69,410.2 245.70,431.4 245.71,415.5 245.72,406.7 245.73,405.2 245.73,412.3"/>
<polyline points="245.73,412.3 245.74,429.5 245.75,421.3 245.76,428.3 245.77,400.4 245.78,403.7 245.79,408.9"/>
<polyline points="245.79,408.9 245.79,412.2 245.80,409.6 245.81,415.2 245.82,404.3 245.83,408.9 245.84,426.5"/>
<polyline points="245.84,426.5 245.85,399.0 245.85,417.9 245.86,417.8 245.87,412.9 245.88,415.0 245.89,414.6"/>
<polyline points="245.89,414.6 245.90,413.7 245.91,428.4 245.91,407.2 245.92,415.3 245.93,426.5 245.94,423.0"/>
<polyline points="245.94,423.0 245.95,423.6 245.96,435.6 245.97,418.7 245.97,414.7 245.98,410.1 245.99,408.9"/>
<polyline points="245.99,408.9 246.00,395.2 246.01,419.1 246.02,412.4 246.03,417.7 246.03,424.5 246.04,415.3"/>
<polyline points="246.04,415.3 246.05,428.1 246.06,451.5 246.07,418.3 246.08,398.4 246.09,428.7 246.09,414.6"/>
<polyline points="246.09,414.6 246.10,408.1 246.11,399.2 246.12,408.9 246.13,421.7 246.14,420.7 246.15,413.0"/>
<polyline points="246.15,413.0 246.16,426.3 246.16,411.4 246.17,423.7 246.18,403.0 246.19,409.1 246.20,404.9"/>
<polyline points="246.20,404.9 246.21,438.0 246.22,412.9 246.22,416.2 246.23,408.6 246.24,405.7 246.25,412.8"/>
<polyline points="246.25,412.8 246.26,415.4 246.27,409.6 246.28,409.5 246.28,418.4 246.29,412.8 246.30,409.4"/>
<polyline points="246.30,409.4 246.31,416.1 246.32,421.9 246.33,413.5 246.34,408.2 246.34,419.0 246.35,407.5"/>
<polyline points="246.35,407.5 246.36,430.3 246.37,408.6 246.38,414.4 246.39,441.2 246.40,414.6 246.40,421.2"/>
<polyline points="246.40,421.2 246.41,419.4 246.42,419.6 246.43,406.6 246.44,412.8 246.45,419.9 246.46,418.5"/>
<polyline points="246.46,418.5 246.46,413.6 246.47,407.3 246.48,433.6 246.49,419.8 246.50,408.5 246.51,422.6"/>
<polyline points="246.51,422.6 246.51,437.0 246.52,415.8 246.53,408.7 246.54,410.0 246.55,410.3 246.56,414.0"/>
<polyline points="246.56,414.0 246.57,413.2 246.57,415.7 246.58,410.2 246.59,413.9 246.60,403.8 246.61,426.3"/>
<polyline points="246.61,426.3 246.62,429.9 246.63,415.5 246.63,426.8 246.64,407.0 246.65,410.9 246.66,428.4"/>
<polyline points="246.66,428.4 246.67,414.2 246.68,410.6 246.69,456.8 246.69,410.6 246.70,411.8 246.71,422.8"/>
<polyline points="246.71,422.8 246.72,432.0 246.73,413.7 246.74,410.7 246.75,407.2 246.75,421.4 246.76,410.1"/>
<polyline points="246.76,410.1 246.77,419.4 246.78,418.4 246.79,406.9 246.80,419.0 246.81,421.1 246.81,407.9"/>
<polyline points="246.81,407.9 246.82,413.0 246.83,427.8 246.84,412.5 246.85,423.3 246.86,407.2 246.87,418.6"/>
<polyline points="246.87,418.6 246.87,440.8 246.88,403.7 246.89,404.4 246.90,423.1 246.91,420.3 246.92,410.1"/>
<polyline points="246.92,410.1 246.92,403.2 246.93,427.5 246.94,426.1 246.95,410.7 246.96,429.9 246.97,397.6"/>
<polyline points="246.97,397.6 246.98,403.1 246.98,429.4 246.99,411.6 247.00,412.6 247.01,408.6 247.02,397.3"/>
<polyline points="247.02,397.3 247.03,407.3 247.04,411.8 247.04,404.6 247.05,427.6 247.06,420.8 247.07,407.5"/>
<polyline points="247.07,407.5 247.08,421.1 247.09,435.8 247.10,428.5 247.10,414.8 247.11,435.6 247.12,403.8"/>
<polyline points="247.12,403.8 247.13,406.9 247.14,417.7 247.15,423.2 247.15,408.2 247.16,426.3 247.17,404.7"/>
<polyline points="247.17,404.7 247.18,412.5 247.19,406.1 247.20,416.3 247.21,430.5 247.21,409.0 247.22,414.8"/>
<polyline points="247.22,414.8 247.23,419.6 247.24,436.0 247.25,444.3 247.26,416.7 247.27,412.2 247.27,414.6"/>
<polyline points="247.27,414.6 247.28,415.9 247.29,410.7 247.30,419.9 247.31,418.4 247.32,424.4 247.32,405.1"/>
<polyline points="247.32,405.1 247.33,419.1 247.34,402.6 247.35,414.2 247.36,421.4 247.37,403.1 247.38,448.6"/>
<polyline points="247.38,448.6 247.38,410.5 247.39,438.2 247.40,408.7 247.41,406.5 247.42,438.1 247.43,422.2"/>
<polyline points="247.43,422.2 247.44,421.7 247.44,415.3 247.45,407.4 247.46,412.2 247.47,419.6 247.48,429.2"/>
<polyline points="247.48,429.2 247.49,427.5 247.49,416.2 247.50,426.4 247.51,415.2 247.52,409.5 247.53,418.7"/>
<polyline points="247.53,418.7 247.54,424.2 247.55,410.2 247.55,413.4 247.56,414.4 247.57,427.1 247.58,408.9"/>
<polyline points="247.58,408.9 247.59,419.3 247.60,410.9 247.60,410.1 247.61,413.5 247.62,415.5 247.63,419.3"/>
<polyline points="247.63,419.3 247.64,420.2 247.65,413.6 247.66,410.2 247.66,417.4 247.67,423.0 247.68,431.1"/>
<polyline points="247.68,431.1 247.69,423.1 247.70,408.9 247.71,419.9 247.71,432.8 247.72,408.6 247.73,409.2"/>
<polyline points="247.73,409.2 247.74,407.4 247.75,405.9 247.76,410.1 247.77,418.7 247.77,412.3 247.78,405.6"/>
<polyline points="247.78,405.6 247.79,409.0 247.80,407.7 247.81,414.7 247.82,418.1 247.83,425.5 247.83,419.2"/>
<polyline points="247.83,419.2 247.84,415.6 247.85,410.0 247.86,402.7 247.87,413.2 247.88,421.7 247.88,417.1"/>
<polyline points="247.88,417.1 247.89,414.7 247.90,421.3 247.91,403.2 247.92,426.2 247.93,408.4 247.93,424.1"/>
<polyline points="247.93,424.1 247.94,410.0 247.95,409.1 247.96,416.9 247.97,409.7 247.98,416.5 247.99,406.4"/>
<polyline points="247.99,406.4 247.99,420.7 248.00,423.9 248.01,416.0 248.02,420.9 248.03,413.9 248.04,429.5"/>
<polyline points="248.04,429.5 248.04,415.1 248.05,427.5 248.06,409.0 248.07,424.6 248.08,404.2 248.09,409.8"/>
<polyline points="248.09,409.8 248.10,426.4 248.10,442.4 248.11,427.9 248.12,432.6 248.13,419.8 248.14,404.7"/>
<polyline points="248.14,404.7 248.15,435.9 248.15,426.4 248.16,426.0 248.17,417.2 248.18,413.1 248.19,426.9"/>
<polyline points="248.19,426.9 248.20,421.7 248.20,413.3 248.21,404.5 248.22,406.0 248.23,418.5 248.24,403.0"/>
<polyline points="248.24,403.0 248.25,413.9 248.26,418.4 248.26,405.5 248.27,415.9 248.28,420.3 248.29,418.6"/>
<polyline points="248.29,418.6 248.30,434.9 248.31,421.0 248.31,407.9 248.32,412.4 248.33,423.9 248.34,400.8"/>
<polyline points="248.34,400.8 248.35,418.5 248.36,420.3 248.37,408.7 248.37,412.3 248.38,431.6 248.39,408.8"/>
<polyline points="248.39,408.8 248.40,442.3 248.41,427.8 248.42,418.9 248.42,431.7 248.43,409.4 248.44,420.0"/>
<polyline points="248.44,420.0 248.45,416.8 248.46,400.0 248.47,432.4 248.47,430.8 248.48,406.9 248.49,427.7"/>
<polyline points="248.49,427.7 248.50,406.0 248.51,414.1 248.52,456.3 248.52,420.5 248.53,419.7 248.54,402.0"/>
<polyline points="248.54,402.0 248.55,401.0 248.56,398.4 248.57,407.2 248.58,410.9 248.58,432.9 248.59,403.3"/>
<polyline points="248.59,403.3 248.60,406.7 248.61,408.9 248.62,410.0 248.63,427.9 248.63,411.9 248.64,418.3"/>
<polyline points="248.64,418.3 248.65,420.5 248.66,411.7 248.67,411.7 248.68,415.0 248.68,422.5 248.69,403.0"/>
<polyline points="248.69,403.0 248.70,410.8 248.71,417.7 248.72,425.0 248.73,417.8 248.73,409.7 248.74,408.1"/>
<polyline points="248.74,408.1 248.75,407.5 248.76,430.2 248.77,406.0 248.78,415.4 248.79,420.4 248.79,402.2"/>
<polyline points="248.79,402.2 248.80,401.7 248.81,417.6 248.82,418.7 248.83,423.1 248.84,414.8 248.84,420.9"/>
<polyline points="248.84,420.9 248.85,423.1 248.86,415.3 248.87,413.7 248.88,421.0 248.89,409.4 248.89,417.7"/>
<polyline points="248.89,417.7 248.90,430.3 248.91,407.2 248.92,423.9 248.93,415.9 248.94,408.8 248.94,410.0"/>
<polyline points="248.94,410.0 248.95,410.6 248.96,429.5 248.97,412.3 248.98,411.9 248.99,415.8 248.99,411.2"/>
<polyline points="248.99,411.2 249.00,405.2 249.01,406.2 249.02,417.0 249.03,404.9 249.04,403.1 249.04,425.0"/>
<polyline points="249.04,425.0 249.05,414.2 249.06,406.6 249.07,421.0 249.08,418.4 249.09,404.1 249.10,420.9"/>
<polyline points="249.10,420.9 249.10,413.2 249.11,436.6 249.12,406.0 249.13,425.3 249.14,411.3 249.15,408.3"/>
<polyline points="249.15,408.3 249.15,414.3 249.16,416.3 249.17,415.5 249.18,414.3 249.19,412.8 249.20,424.4"/>
<polyline points="249.20,424.4 249.20,416.6 249.21,411.8 249.22,424.7 249.23,408.9 249.24,403.6 249.25,414.6"/>
<polyline points="249.25,414.6 249.25,420.4 249.26,416.3 249.27,413.6 249.28,401.8 249.29,408.9 249.30,430.6"/>
<polyline points="249.30,430.6 249.30,402.9 249.31,435.8 249.32,429.6 249.33,418.4 249.34,421.2 249.35,421.7"/>
<polyline points="249.35,421.7 249.35,412.5 249.36,422.3 249.37,403.3 249.38,414.7 249.39,417.1 249.40,424.5"/>
<polyline points="249.40,424.5 249.40,444.7 249.41,413.7 249.42,408.1 249.43,417.6 249.44,407.9 249.45,417.8"/>
<polyline points="249.45,417.8 249.45,420.6 249.46,435.2 249.47,422.2 249.48,407.1 249.49,423.9 249.50,413.7"/>
<polyline points="249.50,413.7 249.50,431.1 249.51,436.6 249.52,425.3 249.53,412.6 249.54,409.2 249.55,403.3"/>
<polyline points="249.55,403.3 249.55,417.4 249.56,421.7 249.57,409.3 249.58,419.6 249.59,408.4 249.60,421.9"/>
<polyline points="249.60,421.9 249.60,419.2 249.61,413.3 249.62,413.1 249.63,409.6 249.64,415.6 249.65,438.7"/>
<polyline points="249.65,438.7 249.65,429.2 249.66,408.9 249.67,439.5 249.68,414.9 249.69,413.5 249.70,410.0"/>
<polyline points="249.70,410.0 249.70,409.6 249.71,413.0 249.72,405.7 249.73,431.6 249.74,429.7 249.75,415.9"/>
<polyline points="249.75,415.9 249.75,419.7 249.76,424.8 249.77,418.4 249.78,409.7 249.79,419.6 249.80,411.9"/>
<polyline points="249.80,411.9 249.80,418.2 249.81,410.7 249.82,410.1 249.83,411.2 249.84,427.0 249.85,425.2"/>
<polyline points="249.85,425.2 249.85,435.2 249.86,407.9 249.87,446.9 249.88,424.6 249.89,426.2 249.90,418.8"/>
<polyline points="249.90,418.8 249.90,421.3 249.91,416.0 249.92,443.0 249.93,434.7 249.94,409.1 249.95,416.2"/>
<polyline points="249.95,416.2 249.95,438.0 249.96,419.7 249.97,412.2 249.98,428.2 249.99,422.0 250.00,412.5"/>
<polyline points="250.00,412.5 250.00,422.9 250.01,415.8 250.02,421.1 250.03,428.0 250.04,410.6 250.04,407.9"/>
<polyline points="250.04,407.9 250.05,421.7 250.06,413.7 250.07,418.1 250.08,418.6 250.09,421.6 250.09,414.8"/>
<polyline points="250.09,414.8 250.10,421.9 250.11,421.2 250.12,433.4 250.13,409.8 250.14,400.7 250.14,434.1"/>
<polyline points="250.14,434.1 250.15,410.4 250.16,421.9 250.17,414.6 250.18,408.0 250.19,420.2 250.19,415.1"/>
<polyline points="250.19,415.1 250.20,403.4 250.21,397.4 250.22,442.0 250.23,410.9 250.24,401.3 250.24,413.2"/>
<polyline points="250.24,413.2 250.25,405.4 250.26,403.1 250.27,422.7 250.28,417.9 250.29,406.0 250.29,420.7"/>
<polyline points="250.29,420.7 250.30,409.1 250.31,404.7 250.32,408.6 250.33,410.4 250.33,419.3 250.34,429.6"/>
<polyline points="250.34,429.6 250.35,430.9 250.36,405.5 250.37,413.1 250.38,409.9 250.38,416.5 250.39,412.6"/>
<polyline points="250.39,412.6 250.40,404.9 250.41,414.7 250.42,401.5 250.43,449.9 250.43,403.7 250.44,411.7"/>
<polyline points="250.44,411.7 250.45,438.8 250.46,414.4 250.47,423.2 250.48,406.5 250.48,423.3 250.49,411.0"/>
<polyline points="250.49,411.0 250.50,414.3 250.51,433.8 250.52,426.4 250.53,418.8 250.53,408.5 250.54,422.1"/>
<polyline points="250.54,422.1 250.55,428.4 250.56,419.7 250.57,412.1 250.57,418.7 250.58,404.7 250.59,414.5"/>
<polyline points="250.59,414.5 250.60,400.0 250.61,407.0 250.62,418.4 250.62,409.5 250.63,417.4 250.64,418.8"/>
<polyline points="250.64,418.8 250.65,416.1 250.66,419.6 250.67,414.8 250.67,410.3 250.68,420.7 250.69,412.9"/>
<polyline points="250.69,412.9 250.70,418.3 250.71,418.8 250.71,435.0 250.72,409.1 250.73,425.5 250.74,411.9"/>
<polyline points="250.74,411.9 250.75,431.0 250.76,412.1 250.76,414.2 250.77,407.1 250.78,429.0 250.79,410.1"/>
<polyline points="250.79,410.1 250.80,418.6 250.81,430.1 250.81,429.8 250.82,443.9 250.83,415.4 250.84,412.1"/>
<polyline points="250.84,412.1 250.85,405.8 250.85,414.7 250.86,432.9 250.87,401.4 250.88,427.2 250.89,407.6"/>
<polyline points="250.89,407.6 250.90,408.5 250.90,407.7 250.91,409.8 250.92,416.6 250.93,419.4 250.94,413.3"/>
<polyline points="250.94,413.3 250.95,412.0 250.95,419.9 250.96,405.8 250.97,412.2 250.98,406.1 250.99,406.8"/>
<polyline points="250.99,406.8 250.99,423.2 251.00,439.0 251.01,425.6 251.02,401.9 251.03,422.2 251.04,407.3"/>
<polyline points="251.04,407.3 251.04,411.8 251.05,419.1 251.06,432.7 251.07,415.7 251.08,410.3 251.09,412.9"/>
<polyline points="251.09,412.9 251.09,425.0 251.10,412.7 251.11,418.7 251.12,402.4 251.13,427.6 251.13,407.1"/>
<polyline points="251.13,407.1 251.14,424.0 251.15,411.9 251.16,422.0 251.17,415.2 251.18,412.9 251.18,422.9"/>
<polyline points="251.18,422.9 251.19,428.1 251.20,397.6 251.21,416.2 251.22,426.3 251.23,409.1 251.23,408.1"/>
<polyline points="251.23,408.1 251.24,416.3 251.25,404.9 251.26,410.2 251.27,421.6 251.27,406.1 251.28,421.8"/>
<polyline points="251.28,421.8 251.29,419.7 251.30,407.1 251.31,417.7 251.32,419.4 251.32,410.6 251.33,400.2"/>
<polyline points="251.33,400.2 251.34,440.5 251.35,403.0 251.36,420.9 251.36,425.7 251.37,409.8 251.38,406.4"/>
<polyline points="251.38,406.4 251.39,424.4 251.40,412.6 251.41,414.5 251.41,408.2 251.42,405.5 251.43,406.5"/>
<polyline points="251.43,406.5 251.44,423.2 251.45,412.3 251.45,414.9 251.46,412.0 251.47,402.7 251.48,417.8"/>
<polyline points="251.48,417.8 251.49,437.4 251.50,410.6 251.50,405.0 251.51,419.7 251.52,415.5 251.53,421.4"/>
<polyline points="251.53,421.4 251.54,456.4 251.54,416.0 251.55,399.8 251.56,418.2 251.57,413.6 251.58,433.5"/>
<polyline points="251.58,433.5 251.59,438.0 251.59,406.4 251.60,413.8 251.61,413.5 251.62,401.1 251.63,413.0"/>
<polyline points="251.63,413.0 251.63,410.0 251.64,401.8 251.65,400.1 251.66,432.0 251.67,406.4 251.68,403.2"/>
<polyline points="251.68,403.2 251.68,400.7 251.69,443.0 251.70,430.4 251.71,417.8 251.72,416.6 251.72,409.5"/>
<polyline points="251.72,409.5 251.73,420.3 251.74,455.1 251.75,413.8 251.76,411.1 251.77,417.0 251.77,418.8"/>
<polyline points="251.77,418.8 251.78,408.6 251.79,413.0 251.80,418.2 251.81,429.5 251.81,413.2 251.82,403.4"/>
<polyline points="251.82,403.4 251.83,415.4 251.84,419.4 251.85,412.8 251.86,418.1 251.86,423.3 251.87,424.2"/>
<polyline points="251.87,424.2 251.88,422.9 251.89,414.2 251.90,415.5 251.90,403.1 251.91,426.6 251.92,426.7"/>
<polyline points="251.92,426.7 251.93,426.8 251.94,408.8 251.95,420.0 251.95,421.2 251.96,419.6 251.97,418.5"/>
<polyline points="251.97,418.5 251.98,415.2 251.99,426.5 251.99,411.9 252.00,431.5 252.01,406.2 252.02,406.2"/>
<polyline points="252.02,406.2 252.03,419.3 252.04,413.4 252.04,436.4 252.05,422.1 252.06,409.0 252.07,420.9"/>
<polyline points="252.07,420.9 252.08,410.4 252.08,408.8 252.09,419.7 252.10,408.9 252.11,425.7 252.12,440.5"/>
<polyline points="252.12,440.5 252.12,404.9 252.13,418.1 252.14,418.6 252.15,415.4 252.16,415.4 252.17,421.6"/>
<polyline points="252.17,421.6 252.17,425.2 252.18,433.0 252.19,420.8 252.20,420.4 252.21,423.6 252.21,418.2"/>
<polyline points="252.21,418.2 252.22,416.2 252.23,435.8 252.24,400.7 252.25,438.1 252.26,407.2 252.26,412.8"/>
<polyline points="252.26,412.8 252.27,401.7 252.28,413.6 252.29,411.1 252.30,409.9 252.30,405.5 252.31,419.1"/>
<polyline points="252.31,419.1 252.32,413.1 252.33,419.8 252.34,412.8 252.34,425.9 252.35,417.5 252.36,449.2"/>
<polyline points="252.36,449.2 252.37,415.6 252.38,410.1 252.39,414.0 252.39,405.4 252.40,423.2 252.41,413.5"/>
<polyline points="252.41,413.5 252.42,425.2 252.43,416.7 252.43,425.2 252.44,406.7 252.45,429.5 252.46,402.1"/>
<polyline points="252.46,402.1 252.47,415.3 252.47,418.8 252.48,414.6 252.49,411.6 252.50,426.6 252.51,401.6"/>
<polyline points="252.51,401.6 252.52,409.8 252.52,429.6 252.53,427.9 252.54,410.6 252.55,426.3 252.56,418.3"/>
<polyline points="252.56,418.3 252.56,401.0 252.57,430.8 252.58,404.7 252.59,398.5 252.60,420.7 252.60,404.7"/>
<polyline points="252.60,404.7 252.61,401.4 252.62,405.1 252.63,412.3 252.64,410.7 252.65,414.7 252.65,419.8"/>
<polyline points="252.65,419.8 252.66,420.9 252.67,418.6 252.68,412.9 252.69,416.4 252.69,418.6 252.70,420.2"/>
<polyline points="252.70,420.2 252.71,445.2 252.72,413.8 252.73,423.0 252.73,404.9 252.74,416.8 252.75,420.1"/>
<polyline points="252.75,420.1 252.76,408.9 252.77,412.2 252.77,440.5 252.78,425.3 252.79,415.8 252.80,407.9"/>
<polyline points="252.80,407.9 252.81,406.7 252.82,423.3 252.82,418.6 252.83,439.7 252.84,424.1 252.85,405.5"/>
<polyline points="252.85,405.5 252.86,408.5 252.86,406.5 252.87,412.2 252.88,413.5 252.89,436.2 252.90,403.6"/>
<polyline points="252.90,403.6 252.90,415.9 252.91,426.3 252.92,406.9 252.93,409.4 252.94,429.4 252.94,406.5"/>
<polyline points="252.94,406.5 252.95,405.3 252.96,418.6 252.97,425.5 252.98,409.4 252.99,419.6 252.99,415.8"/>
<polyline points="252.99,415.8 253.00,425.3 253.01,427.2 253.02,404.7 253.03,417.4 253.03,413.1 253.04,405.5"/>
<polyline points="253.04,405.5 253.05,414.9 253.06,416.6 253.07,435.0 253.07,412.7 253.08,407.5 253.09,411.2"/>
<polyline points="253.09,411.2 253.10,400.1 253.11,412.2 253.11,413.6 253.12,415.4 253.13,413.1 253.14,414.2"/>
<polyline points="253.14,414.2 253.15,415.3 253.15,419.4 253.16,419.3 253.17,415.5 253.18,405.4 253.19,405.2"/>
<polyline points="253.19,405.2 253.20,425.8 253.20,422.7 253.21,417.8 253.22,410.4 253.23,423.1 253.24,414.4"/>
<polyline points="253.24,414.4 253.24,413.5 253.25,411.9 253.26,435.5 253.27,407.7 253.28,400.8 253.28,418.0"/>
<polyline points="253.28,418.0 253.29,409.0 253.30,418.2 253.31,403.6 253.32,421.8 253.32,416.9 253.33,409.0"/>
<polyline points="253.33,409.0 253.34,412.2 253.35,408.1 253.36,410.5 253.36,415.6 253.37,404.8 253.38,413.2"/>
<polyline points="253.38,413.2 253.39,427.1 253.40,418.9 253.40,424.0 253.41,414.1 253.42,396.9 253.43,433.3"/>
<polyline points="253.43,433.3 253.44,411.1 253.45,410.1 253.45,411.4 253.46,419.2 253.47,424.8 253.48,405.5"/>
<polyline points="253.48,405.5 253.49,441.2 253.49,416.9 253.50,408.7 253.51,405.0 253.52,411.1 253.53,405.8"/>
<polyline points="253.53,405.8 253.53,431.2 253.54,411.5 253.55,404.9 253.56,422.8 253.57,410.6 253.57,409.7"/>
<polyline points="253.57,409.7 253.58,408.4 253.59,442.6 253.60,404.4 253.61,409.1 253.61,416.7 253.62,407.9"/>
<polyline points="253.62,407.9 253.63,414.9 253.64,424.5 253.65,438.6 253.65,427.6 253.66,412.8 253.67,412.6"/>
<polyline points="253.67,412.6 253.68,431.0 253.69,422.8 253.69,419.4 253.70,411.3 253.71,468.2 253.72,413.0"/>
<polyline points="253.72,413.0 253.73,410.0 253.73,401.8 253.74,405.5 253.75,409.5 253.76,431.0 253.77,403.7"/>
<polyline points="253.77,403.7 253.77,415.6 253.78,409.5 253.79,407.7 253.80,429.5 253.81,414.8 253.81,413.0"/>
<polyline points="253.81,413.0 253.82,411.3 253.83,406.5 253.84,434.3 253.85,404.5 253.86,417.7 253.86,431.4"/>
<polyline points="253.86,431.4 253.87,411.0 253.88,405.6 253.89,441.1 253.90,425.8 253.90,413.6 253.91,408.6"/>
<polyline points="253.91,408.6 253.92,409.5 253.93,410.4 253.94,418.8 253.94,410.3 253.95,430.0 253.96,419.4"/>
<polyline points="253.96,419.4 253.97,423.8 253.98,424.2 253.98,410.0 253.99,413.2 254.00,414.2 254.01,409.6"/>
<polyline points="254.01,409.6 254.02,411.9 254.02,403.9 254.03,415.3 254.04,418.4 254.05,437.3 254.06,428.6"/>
<polyline points="254.06,428.6 254.06,415.8 254.07,414.3 254.08,411.8 254.09,416.0 254.10,414.2 254.10,421.3"/>
<polyline points="254.10,421.3 254.11,418.8 254.12,408.7 254.13,405.4 254.14,426.4 254.14,415.3 254.15,408.9"/>
<polyline points="254.15,408.9 254.16,438.7 254.17,415.8 254.18,424.0 254.18,426.1 254.19,400.8 254.20,406.9"/>
<polyline points="254.20,406.9 254.21,434.0 254.22,409.1 254.22,412.5 254.23,415.4 254.24,418.5 254.25,420.4"/>
<polyline points="254.25,420.4 254.26,419.7 254.26,416.3 254.27,410.8 254.28,426.9 254.29,432.7 254.30,407.3"/>
<polyline points="254.30,407.3 254.30,404.3 254.31,449.2 254.32,407.1 254.33,409.6 254.34,438.6 254.34,417.1"/>
<polyline points="254.34,417.1 254.35,420.1 254.36,414.3 254.37,428.6 254.38,422.2 254.38,412.6 254.39,410.4"/>
<polyline points="254.39,410.4 254.40,406.5 254.41,429.8 254.42,425.7 254.42,418.3 254.43,415.3 254.44,418.6"/>
<polyline points="254.44,418.6 254.45,431.9 254.46,406.2 254.46,417.5 254.47,434.3 254.48,413.4 254.49,425.7"/>
<polyline points="254.49,425.7 254.50,412.9 254.50,419.1 254.51,412.7 254.52,407.8 254.53,419.8 254.54,411.4"/>
<polyline points="254.54,411.4 254.54,400.1 254.55,410.7 254.56,405.9 254.57,414.5 254.58,417.4 254.58,407.4"/>
<polyline points="254.58,407.4 254.59,404.7 254.60,406.4 254.61,411.4 254.61,416.1 254.62,415.8 254.63,403.0"/>
<polyline points="254.63,403.0 254.64,407.4 254.65,418.5 254.65,409.7 254.66,421.6 254.67,399.6 254.68,406.2"/>
<polyline points="254.68,406.2 254.69,413.6 254.69,410.4 254.70,433.7 254.71,409.4 254.72,411.2 254.73,421.5"/>
<polyline points="254.73,421.5 254.73,432.5 254.74,421.3 254.75,406.4 254.76,406.7 254.77,406.1 254.77,415.7"/>
<polyline points="254.77,415.7 254.78,413.7 254.79,410.3 254.80,422.7 254.81,417.9 254.81,403.4 254.82,413.0"/>
<polyline points="254.82,413.0 254.83,419.5 254.84,420.0 254.85,433.5 254.85,411.2 254.86,413.2 254.87,409.6"/>
<polyline points="254.87,409.6 254.88,410.8 254.89,421.7 254.89,399.4 254.90,445.1 254.91,439.9 254.92,435.1"/>
<polyline points="254.92,435.1 254.93,410.3 254.93,412.3 254.94,402.4 254.95,418.7 254.96,409.6 254.97,419.6"/>
<polyline points="254.97,419.6 254.97,410.9 254.98,412.9 254.99,419.1 255.00,407.0 255.00,428.7 255.01,408.1"/>
<polyline points="255.01,408.1 255.02,407.7 255.03,427.5 255.04,406.4 255.04,412.4 255.05,421.6 255.06,423.0"/>
<polyline points="255.06,423.0 255.07,416.7 255.08,420.2 255.08,424.1 255.09,401.5 255.10,414.1 255.11,402.2"/>
<polyline points="255.11,402.2 255.12,423.0 255.12,409.4 255.13,414.6 255.14,401.6 255.15,401.6 255.16,421.2"/>
<polyline points="255.16,421.2 255.16,457.1 255.17,425.7 255.18,409.6 255.19,401.8 255.20,401.5 255.20,408.8"/>
<polyline points="255.20,408.8 255.21,440.3 255.22,404.2 255.23,419.6 255.24,421.7 255.24,416.1 255.25,406.5"/>
<polyline points="255.25,406.5 255.26,419.7 255.27,417.7 255.27,437.7 255.28,411.3 255.29,466.3 255.30,407.0"/>
<polyline points="255.30,407.0 255.31,460.2 255.31,408.7 255.32,417.9 255.33,420.2 255.34,402.5 255.35,415.1"/>
<polyline points="255.35,415.1 255.35,415.1 255.36,410.3 255.37,410.4 255.38,409.5 255.39,432.1 255.39,414.4"/>
<polyline points="255.39,414.4 255.40,411.6 255.41,404.0 255.42,418.2 255.43,431.1 255.43,430.4 255.44,409.9"/>
<polyline points="255.44,409.9 255.45,416.8 255.46,437.4 255.46,416.2 255.47,404.0 255.48,421.7 255.49,422.3"/>
<polyline points="255.49,422.3 255.50,413.1 255.50,436.2 255.51,411.7 255.52,404.9 255.53,413.6 255.54,405.5"/>
<polyline points="255.54,405.5 255.54,440.1 255.55,425.4 255.56,450.3 255.57,406.6 255.58,409.9 255.58,429.1"/>
<polyline points="255.58,429.1 255.59,416.9 255.60,409.3 255.61,414.3 255.62,414.4 255.62,418.8 255.63,423.3"/>
<polyline points="255.63,423.3 255.64,415.2 255.65,410.5 255.65,424.8 255.66,406.8 255.67,411.9 255.68,422.0"/>
<polyline points="255.68,422.0 255.69,428.1 255.69,405.9 255.70,403.9 255.71,433.0 255.72,414.6 255.73,403.8"/>
<polyline points="255.73,403.8 255.73,399.7 255.74,416.3 255.75,414.0 255.76,414.6 255.77,422.8 255.77,425.7"/>
<polyline points="255.77,425.7 255.78,406.9 255.79,408.6 255.80,436.2 255.80,401.4 255.81,418.1 255.82,406.7"/>
<polyline points="255.82,406.7 255.83,419.6 255.84,417.3 255.84,410.4 255.85,421.5 255.86,413.7 255.87,413.9"/>
<polyline points="255.87,413.9 255.88,406.2 255.88,417.5 255.89,403.9 255.90,415.3 255.91,412.2 255.91,417.6"/>
<polyline points="255.91,417.6 255.92,408.0 255.93,412.7 255.94,440.7 255.95,407.4 255.95,412.3 255.96,405.7"/>
<polyline points="255.96,405.7 255.97,422.5 255.98,421.1 255.99,420.1 255.99,412.3 256.00,444.5 256.01,437.0"/>
<polyline points="256.01,437.0 256.02,412.0 256.03,414.4 256.03,417.4 256.04,416.5 256.05,418.5 256.06,428.5"/>
<polyline points="256.06,428.5 256.06,417.1 256.07,404.8 256.08,423.0 256.09,410.7 256.10,417.8 256.10,408.0"/>
<polyline points="256.10,408.0 256.11,406.9 256.12,424.6 256.13,422.7 256.14,434.8 256.14,418.8 256.15,412.7"/>
<polyline points="256.15,412.7 256.16,407.9 256.17,441.9 256.17,431.7 256.18,407.3 256.19,419.5 256.20,441.8"/>
<polyline points="256.20,441.8 256.21,406.6 256.21,427.2 256.22,417.1 256.23,417.4 256.24,408.5 256.25,420.3"/>
<polyline points="256.25,420.3 256.25,412.7 256.26,418.9 256.27,410.1 256.28,423.0 256.28,406.9 256.29,420.5"/>
<polyline points="256.29,420.5 256.30,417.8 256.31,427.5 256.32,452.8 256.32,424.4 256.33,402.8 256.34,405.0"/>
<polyline points="256.34,405.0 256.35,428.1 256.36,410.1 256.36,405.3 256.37,406.7 256.38,428.1 256.39,424.0"/>
<polyline points="256.39,424.0 256.39,405.9 256.40,431.1 256.41,404.2 256.42,403.0 256.43,420.7 256.43,402.3"/>
<polyline points="256.43,402.3 256.44,395.6 256.45,409.2 256.46,433.9 256.47,405.6 256.47,412.4 256.48,435.1"/>
<polyline points="256.48,435.1 256.49,415.6 256.50,409.1 256.50,418.9 256.51,422.8 256.52,419.8 256.53,401.0"/>
<polyline points="256.53,401.0 256.54,406.2 256.54,435.8 256.55,416.6 256.56,424.0 256.57,417.9 256.58,422.4"/>
<polyline points="256.58,422.4 256.58,406.1 256.59,416.5 256.60,423.9 256.61,411.8 256.61,421.7 256.62,404.9"/>
<polyline points="256.62,404.9 256.63,400.6 256.64,410.8 256.65,406.7 256.65,413.4 256.66,406.9 256.67,418.5"/>
<polyline points="256.67,418.5 256.68,408.9 256.68,419.7 256.69,417.9 256.70,415.9 256.71,412.9 256.72,419.9"/>
<polyline points="256.72,419.9 256.72,435.3 256.73,413.5 256.74,407.9 256.75,403.5 256.76,417.8 256.76,404.7"/>
<polyline points="256.76,404.7 256.77,412.2 256.78,409.0 256.79,414.3 256.79,412.9 256.80,410.3 256.81,412.3"/>
<polyline points="256.81,412.3 256.82,416.6 256.83,402.2 256.83,408.0 256.84,421.8 256.85,431.3 256.86,426.4"/>
<polyline points="256.86,426.4 256.86,410.3 256.87,403.2 256.88,423.5 256.89,400.8 256.90,404.5 256.90,407.3"/>
<polyline points="256.90,407.3 256.91,413.5 256.92,410.8 256.93,399.9 256.94,410.4 256.94,401.4 256.95,407.4"/>
<polyline points="256.95,407.4 256.96,402.8 256.97,424.3 256.97,417.8 256.98,410.4 256.99,426.5 257.00,412.1"/>
<polyline points="257.00,412.1 257.01,431.8 257.01,404.7 257.02,406.4 257.03,426.0 257.04,418.9 257.04,425.1"/>
<polyline points="257.04,425.1 257.05,410.3 257.06,414.2 257.07,414.4 257.08,405.8 257.08,403.7 257.09,412.2"/>
<polyline points="257.09,412.2 257.10,426.8 257.11,433.8 257.11,400.8 257.12,410.8 257.13,423.9 257.14,415.5"/>
<polyline points="257.14,415.5 257.15,408.7 257.15,411.2 257.16,434.7 257.17,419.8 257.18,408.5 257.18,416.9"/>
<polyline points="257.18,416.9 257.19,409.9 257.20,422.2 257.21,404.1 257.22,416.5 257.22,414.0 257.23,413.7"/>
<polyline points="257.23,413.7 257.24,432.8 257.25,438.5 257.25,412.0 257.26,417.8 257.27,419.0 257.28,420.5"/>
<polyline points="257.28,420.5 257.29,427.9 257.29,408.9 257.30,406.8 257.31,410.6 257.32,418.7 257.33,410.7"/>
<polyline points="257.33,410.7 257.33,423.8 257.34,406.4 257.35,430.6 257.36,401.8 257.36,409.7 257.37,414.4"/>
<polyline points="257.37,414.4 257.38,402.0 257.39,417.6 257.40,406.8 257.40,400.1 257.41,419.5 257.42,420.7"/>
<polyline points="257.42,420.7 257.43,418.3 257.43,412.8 257.44,412.8 257.45,408.6 257.46,409.9 257.47,459.5"/>
<polyline points="257.47,459.5 257.47,429.9 257.48,414.5 257.49,413.2 257.50,416.4 257.50,406.6 257.51,415.7"/>
<polyline points="257.51,415.7 257.52,405.0 257.53,403.3 257.54,414.4 257.54,408.3 257.55,412.6 257.56,434.5"/>
<polyline points="257.56,434.5 257.57,404.4 257.57,418.9 257.58,412.9 257.59,417.9 257.60,430.2 257.60,436.6"/>
<polyline points="257.60,436.6 257.61,419.5 257.62,405.5 257.63,403.3 257.64,398.1 257.64,412.9 257.65,404.7"/>
<polyline points="257.65,404.7 257.66,414.4 257.67,424.0 257.67,421.2 257.68,411.7 257.69,424.5 257.70,420.8"/>
<polyline points="257.70,420.8 257.71,408.3 257.71,409.3 257.72,420.6 257.73,409.2 257.74,411.5 257.74,414.9"/>
<polyline points="257.74,414.9 257.75,414.9 257.76,409.5 257.77,415.0 257.78,415.4 257.78,428.5 257.79,413.5"/>
<polyline points="257.79,413.5 257.80,425.3 257.81,414.6 257.81,411.4 257.82,406.6 257.83,412.6 257.84,418.4"/>
<polyline points="257.84,418.4 257.85,414.7 257.85,422.7 257.86,411.9 257.87,420.6 257.88,407.0 257.88,426.2"/>
<polyline points="257.88,426.2 257.89,413.9 257.90,436.2 257.91,415.8 257.92,412.7 257.92,410.6 257.93,413.5"/>
<polyline points="257.93,413.5 257.94,409.7 257.95,407.7 257.95,408.5 257.96,446.3 257.97,428.9 257.98,406.5"/>
<polyline points="257.98,406.5 257.98,413.2 257.99,422.9 258.00,411.3 258.01,413.2 258.02,422.9 258.02,417.2"/>
<polyline points="258.02,417.2 258.03,427.4 258.04,417.5 258.05,436.2 258.05,414.2 258.06,403.9 258.07,419.0"/>
<polyline points="258.07,419.0 258.08,410.5 258.09,415.7 258.09,398.2 258.10,406.2 258.11,402.0 258.12,409.0"/>
<polyline points="258.12,409.0 258.12,406.5 258.13,419.4 258.14,413.9 258.15,415.4 258.16,419.5 258.16,414.1"/>
<polyline points="258.16,414.1 258.17,411.6 258.18,408.4 258.19,414.7 258.19,412.5 258.20,409.7 258.21,409.4"/>
<polyline points="258.21,409.4 258.22,443.3 258.22,415.4 258.23,400.9 258.24,408.4 258.25,417.7 258.26,421.8"/>
<polyline points="258.26,421.8 258.26,407.2 258.27,404.2 258.28,410.6 258.29,413.1 258.29,406.5 258.30,416.2"/>
<polyline points="258.30,416.2 258.31,402.8 258.32,404.0 258.33,412.2 258.33,406.5 258.34,399.5 258.35,405.4"/>
<polyline points="258.35,405.4 258.36,417.2 258.36,403.5 258.37,407.9 258.38,402.1 258.39,422.9 258.39,419.8"/>
<polyline points="258.39,419.8 258.40,404.5 258.41,408.5 258.42,428.3 258.43,419.9 258.43,414.0 258.44,412.7"/>
<polyline points="258.44,412.7 258.45,419.2 258.46,413.5 258.46,414.5 258.47,407.2 258.48,420.9 258.49,409.3"/>
<polyline points="258.49,409.3 258.49,410.4 258.50,417.7 258.51,411.9 258.52,418.6 258.53,414.7 258.53,428.5"/>
<polyline points="258.53,428.5 258.54,414.3 258.55,418.5 258.56,406.5 258.56,407.6 258.57,424.3 258.58,419.0"/>
<polyline points="258.58,419.0 258.59,437.2 258.59,418.6 258.60,409.4 258.61,402.1 258.62,413.2 258.63,427.9"/>
<polyline points="258.63,427.9 258.63,418.7 258.64,409.6 258.65,420.1 258.66,407.5 258.66,423.3 258.67,411.9"/>
<polyline points="258.67,411.9 258.68,409.4 258.69,413.6 258.69,425.8 258.70,412.0 258.71,413.9 258.72,402.2"/>
<polyline points="258.72,402.2 258.73,430.4 258.73,410.7 258.74,403.0 258.75,418.2 258.76,400.5 258.76,429.4"/>
<polyline points="258.76,429.4 258.77,404.2 258.78,415.0 258.79,413.1 258.79,409.1 258.80,411.7 258.81,407.1"/>
<polyline points="258.81,407.1 258.82,407.3 258.83,421.2 258.83,412.6 258.84,429.7 258.85,409.0 258.86,434.0"/>
<polyline points="258.86,434.0 258.86,405.0 258.87,423.1 258.88,401.0 258.89,408.9 258.89,412.0 258.90,411.1"/>
<polyline points="258.90,411.1 258.91,414.8 258.92,409.8 258.93,412.7 258.93,425.3 258.94,409.4 258.95,411.8"/>
<polyline points="258.95,411.8 258.96,413.7 258.96,419.4 258.97,407.9 258.98,408.0 258.99,404.9 258.99,416.0"/>
<polyline points="258.99,416.0 259.00,427.8 259.01,412.7 259.02,410.3 259.03,417.4 259.03,403.9 259.04,413.4"/>
<polyline points="259.04,413.4 259.05,414.8 259.06,415.2 259.06,424.2 259.07,431.7 259.08,403.1 259.09,406.2"/>
<polyline points="259.09,406.2 259.09,423.3 259.10,402.7 259.11,411.0 259.12,412.5 259.12,424.9 259.13,423.4"/>
<polyline points="259.13,423.4 259.14,412.4 259.15,427.6 259.16,404.8 259.16,413.7 259.17,420.7 259.18,416.4"/>
<polyline points="259.18,416.4 259.19,414.9 259.19,423.8 259.20,425.2 259.21,421.1 259.22,404.5 259.22,409.8"/>
<polyline points="259.22,409.8 259.23,401.0 259.24,409.0 259.25,412.7 259.26,420.1 259.26,428.7 259.27,403.7"/>
<polyline points="259.27,403.7 259.28,407.8 259.29,408.0 259.29,407.8 259.30,425.5 259.31,415.2 259.32,410.8"/>
<polyline points="259.32,410.8 259.32,434.6 259.33,426.4 259.34,411.3 259.35,424.6 259.35,418.8 259.36,423.5"/>
<polyline points="259.36,423.5 259.37,411.4 259.38,412.5 259.39,402.2 259.39,414.5 259.40,406.5 259.41,412.5"/>
<polyline points="259.41,412.5 259.42,414.8 259.42,410.2 259.43,414.6 259.44,418.7 259.45,427.8 259.45,428.7"/>
<polyline points="259.45,428.7 259.46,409.7 259.47,429.5 259.48,420.0 259.48,409.6 259.49,412.4 259.50,415.9"/>
<polyline points="259.50,415.9 259.51,414.0 259.52,415.5 259.52,430.7 259.53,427.8 259.54,407.6 259.55,409.9"/>
<polyline points="259.55,409.9 259.55,411.3 259.56,425.5 259.57,416.6 259.58,405.6 259.58,408.2 259.59,417.1"/>
<polyline points="259.59,417.1 259.60,405.0 259.61,411.8 259.61,403.6 259.62,421.8 259.63,411.1 259.64,401.8"/>
<polyline points="259.64,401.8 259.64,411.2 259.65,429.6 259.66,406.7 259.67,419.7 259.68,417.0 259.68,406.4"/>
<polyline points="259.68,406.4 259.69,405.4 259.70,424.6 259.71,410.6 259.71,402.9 259.72,407.4 259.73,411.5"/>
<polyline points="259.73,411.5 259.74,409.7 259.74,407.9 259.75,429.8 259.76,414.8 259.77,400.6 259.77,416.1"/>
<polyline points="259.77,416.1 259.78,408.8 259.79,424.8 259.80,430.2 259.81,405.8 259.81,421.1 259.82,414.0"/>
<polyline points="259.82,414.0 259.83,420.9 259.84,401.5 259.84,436.2 259.85,432.4 259.86,397.0 259.87,427.2"/>
<polyline points="259.87,427.2 259.87,421.0 259.88,410.9 259.89,405.5 259.90,406.3 259.90,413.1 259.91,403.0"/>
<polyline points="259.91,403.0 259.92,404.9 259.93,412.1 259.93,421.1 259.94,415.7 259.95,421.3 259.96,406.9"/>
<polyline points="259.96,406.9 259.96,398.1 259.97,417.4 259.98,417.4 259.99,431.7 260.00,434.8 260.00,418.5"/>
<polyline points="260.00,418.5 260.01,416.2 260.02,409.3 260.03,418.0 260.03,408.5 260.04,416.9 260.05,415.7"/>
<polyline points="260.05,415.7 260.06,407.7 260.06,407.1 260.07,418.0 260.08,411.0 260.09,410.7 260.09,416.5"/>
<polyline points="260.09,416.5 260.10,413.4 260.11,419.3 260.12,410.6 260.12,400.0 260.13,417.1 260.14,411.0"/>
<polyline points="260.14,411.0 260.15,414.7 260.15,424.1 260.16,412.5 260.17,422.6 260.18,426.5 260.19,411.8"/>
<polyline points="260.19,411.8 260.19,427.6 260.20,412.8 260.21,398.8 260.22,418.7 260.22,411.8 260.23,403.7"/>
<polyline points="260.23,403.7 260.24,405.1 260.25,413.9 260.25,429.1 260.26,412.8 260.27,413.8 260.28,426.0"/>
<polyline points="260.28,426.0 260.28,405.2 260.29,425.8 260.30,414.3 260.31,400.3 260.31,414.2 260.32,414.3"/>
<polyline points="260.32,414.3 260.33,412.1 260.34,412.4 260.34,416.3 260.35,435.9 260.36,419.0 260.37,408.5"/>
<polyline points="260.37,408.5 260.38,406.7 260.38,444.1 260.39,410.7 260.40,405.0 260.41,413.2 260.41,423.8"/>
<polyline points="260.41,423.8 260.42,410.1 260.43,410.3 260.44,419.9 260.44,409.4 260.45,407.4 260.46,410.2"/>
<polyline points="260.46,410.2 260.47,403.5 260.47,409.6 260.48,432.4 260.49,419.8 260.50,427.1 260.50,408.7"/>
<polyline points="260.50,408.7 260.51,410.1 260.52,405.8 260.53,403.0 260.53,408.1 260.54,422.0 260.55,416.9"/>
<polyline points="260.55,416.9 260.56,428.3 260.56,410.4 260.57,407.7 260.58,425.4 260.59,407.5 260.59,416.8"/>
<polyline points="260.59,416.8 260.60,408.7 260.61,410.1 260.62,412.2 260.62,410.1 260.63,411.2 260.64,414.3"/>
<polyline points="260.64,414.3 260.65,408.2 260.66,414.2 260.66,414.0 260.67,435.1 260.68,410.9 260.69,424.6"/>
<polyline points="260.69,424.6 260.69,413.1 260.70,404.4 260.71,412.2 260.72,424.1 260.72,424.6 260.73,410.6"/>
<polyline points="260.73,410.6 260.74,417.2 260.75,409.6 260.75,403.1 260.76,406.9 260.77,417.7 260.78,426.0"/>
<polyline points="260.78,426.0 260.78,412.4 260.79,422.9 260.80,411.9 260.81,422.6 260.81,406.8 260.82,406.6"/>
<polyline points="260.82,406.6 260.83,402.9 260.84,409.6 260.84,413.0 260.85,428.2 260.86,428.1 260.87,413.1"/>
<polyline points="260.87,413.1 260.87,410.0 260.88,414.4 260.89,415.9 260.90,411.1 260.90,414.2 260.91,410.8"/>
<polyline points="260.91,410.8 260.92,422.9 260.93,418.5 260.93,403.1 260.94,413.9 260.95,405.3 260.96,439.7"/>
<polyline points="260.96,439.7 260.96,409.7 260.97,426.2 260.98,427.8 260.99,420.0 261.00,403.3 261.00,418.2"/>
<polyline points="261.00,418.2 261.01,411.1 261.02,412.9 261.03,426.0 261.03,421.7 261.04,414.8 261.05,418.0"/>
<polyline points="261.05,418.0 261.06,434.3 261.06,414.4 261.07,445.9 261.08,407.4 261.09,412.7 261.09,409.6"/>
<polyline points="261.09,409.6 261.10,420.5 261.11,415.5 261.12,413.8 261.12,428.7 261.13,417.8 261.14,412.2"/>
<polyline points="261.14,412.2 261.15,398.0 261.15,414.2 261.16,405.7 261.17,421.7 261.18,419.7 261.18,416.3"/>
<polyline points="261.18,416.3 261.19,413.0 261.20,413.8 261.21,410.4 261.21,404.0 261.22,426.1 261.23,427.6"/>
<polyline points="261.23,427.6 261.24,412.7 261.24,415.4 261.25,406.7 261.26,409.2 261.27,422.7 261.27,415.0"/>
<polyline points="261.27,415.0 261.28,405.8 261.29,418.4 261.30,402.9 261.30,410.9 261.31,408.0 261.32,418.5"/>
<polyline points="261.32,418.5 261.33,421.1 261.33,420.5 261.34,412.9 261.35,429.3 261.36,410.3 261.36,415.0"/>
<polyline points="261.36,415.0 261.37,431.4 261.38,424.0 261.39,405.8 261.39,422.3 261.40,418.8 261.41,421.3"/>
<polyline points="261.41,421.3 261.42,401.3 261.42,404.3 261.43,412.0 261.44,409.0 261.45,414.2 261.45,400.5"/>
<polyline points="261.45,400.5 261.46,420.2 261.47,428.4 261.48,402.5 261.48,409.7 261.49,412.5 261.50,420.0"/>
<polyline points="261.50,420.0 261.51,402.8 261.51,421.5 261.52,408.4 261.53,405.8 261.54,421.9 261.54,401.6"/>
<polyline points="261.54,401.6 261.55,412.3 261.56,411.0 261.57,410.7 261.57,406.8 261.58,427.4 261.59,401.2"/>
<polyline points="261.59,401.2 261.60,423.6 261.60,400.0 261.61,410.7 261.62,416.2 261.63,408.4 261.63,414.1"/>
<polyline points="261.63,414.1 261.64,411.4 261.65,414.4 261.66,402.7 261.66,416.8 261.67,421.2 261.68,404.8"/>
<polyline points="261.68,404.8 261.69,406.9 261.69,409.6 261.70,426.9 261.71,431.1 261.72,404.7 261.72,403.0"/>
<polyline points="261.72,403.0 261.73,401.8 261.74,413.2 261.75,409.8 261.75,430.8 261.76,406.8 261.77,417.8"/>
<polyline points="261.77,417.8 261.78,427.5 261.78,411.2 261.79,423.4 261.80,411.3 261.81,407.3 261.81,421.3"/>
<polyline points="261.81,421.3 261.82,415.9 261.83,418.4 261.84,404.6 261.84,431.2 261.85,410.3 261.86,406.1"/>
<polyline points="261.86,406.1 261.87,417.8 261.87,412.8 261.88,420.2 261.89,411.4 261.90,417.1 261.90,416.8"/>
<polyline points="261.90,416.8 261.91,414.6 261.92,407.6 261.93,405.8 261.93,407.8 261.94,408.7 261.95,410.9"/>
<polyline points="261.95,410.9 261.96,409.8 261.96,422.4 261.97,411.4 261.98,434.8 261.99,406.3 261.99,418.9"/>
<polyline points="261.99,418.9 262.00,407.6 262.01,409.2 262.02,412.7 262.02,419.6 262.03,413.9 262.04,409.8"/>
<polyline points="262.04,409.8 262.05,421.5 262.05,428.8 262.06,408.7 262.07,426.6 262.08,426.1 262.08,416.5"/>
<polyline points="262.08,416.5 262.09,417.8 262.10,426.0 262.11,413.4 262.11,430.3 262.12,442.8 262.13,413.7"/>
<polyline points="262.13,413.7 262.14,415.4 262.14,416.7 262.15,441.6 262.16,424.8 262.17,406.9 262.17,427.6"/>
<polyline points="262.17,427.6 262.18,410.2 262.19,412.4 262.20,426.8 262.20,417.8 262.21,411.3 262.22,407.9"/>
<polyline points="262.22,407.9 262.23,412.3 262.23,406.3 262.24,417.5 262.25,413.1 262.25,413.4 262.26,409.1"/>
<polyline points="262.26,409.1 262.27,417.9 262.28,414.9 262.28,412.2 262.29,404.9 262.30,414.4 262.31,412.5"/>
<polyline points="262.31,412.5 262.31,423.2 262.32,402.9 262.33,405.0 262.34,430.9 262.34,410.0 262.35,403.8"/>
<polyline points="262.35,403.8 262.36,422.6 262.37,405.6 262.37,404.5 262.38,412.7 262.39,424.7 262.40,413.6"/>
<polyline points="262.40,413.6 262.40,409.9 262.41,413.2 262.42,414.9 262.43,401.6 262.43,413.8 262.44,417.2"/>
<polyline points="262.44,417.2 262.45,416.5 262.46,414.5 262.46,429.4 262.47,411.6 262.48,411.1 262.49,412.4"/>
<polyline points="262.49,412.4 262.49,401.3 262.50,406.5 262.51,407.6 262.52,407.1 262.52,409.4 262.53,413.6"/>
<polyline points="262.53,413.6 262.54,409.3 262.55,429.8 262.55,410.6 262.56,406.4 262.57,421.2 262.58,411.4"/>
<polyline points="262.58,411.4 262.58,417.5 262.59,406.0 262.60,413.1 262.60,424.8 262.61,408.6 262.62,404.7"/>
<polyline points="262.62,404.7 262.63,412.9 262.63,420.2 262.64,409.1 262.65,408.7 262.66,403.5 262.66,451.6"/>
<polyline points="262.66,451.6 262.67,415.6 262.68,406.3 262.69,400.8 262.69,408.5 262.70,434.3 262.71,410.2"/>
<polyline points="262.71,410.2 262.72,420.1 262.72,423.1 262.73,412.0 262.74,411.2 262.75,404.4 262.75,438.0"/>
<polyline points="262.75,438.0 262.76,400.8 262.77,408.7 262.78,417.2 262.78,411.6 262.79,411.5 262.80,419.5"/>
<polyline points="262.80,419.5 262.81,413.6 262.81,404.9 262.82,412.7 262.83,417.9 262.84,403.2 262.84,427.1"/>
<polyline points="262.84,427.1 262.85,427.3 262.86,407.7 262.86,419.4 262.87,416.3 262.88,429.6 262.89,429.9"/>
<polyline points="262.89,429.9 262.89,425.5 262.90,418.8 262.91,414.1 262.92,428.1 262.92,412.0 262.93,412.8"/>
<polyline points="262.93,412.8 262.94,416.9 262.95,407.0 262.95,418.1 262.96,421.1 262.97,416.9 262.98,413.0"/>
<polyline points="262.98,413.0 262.98,409.9 262.99,416.2 263.00,420.4 263.01,405.6 263.01,422.2 263.02,404.2"/>
<polyline points="263.02,404.2 263.03,435.0 263.04,423.5 263.04,416.3 263.05,409.6 263.06,419.5 263.06,430.3"/>
<polyline points="263.06,430.3 263.07,429.8 263.08,406.3 263.09,410.1 263.09,404.6 263.10,402.8 263.11,414.3"/>
<polyline points="263.11,414.3 263.12,411.9 263.12,405.9 263.13,413.9 263.14,404.3 263.15,406.5 263.15,438.8"/>
<polyline points="263.15,438.8 263.16,401.3 263.17,419.0 263.18,410.7 263.18,420.2 263.19,413.5 263.20,419.2"/>
<polyline points="263.20,419.2 263.21,411.3 263.21,403.8 263.22,413.2 263.23,398.9 263.24,424.3 263.24,412.6"/>
<polyline points="263.24,412.6 263.25,411.4 263.26,409.7 263.26,411.7 263.27,410.6 263.28,406.5 263.29,406.5"/>
<polyline points="263.29,406.5 263.29,407.1 263.30,436.8 263.31,411.9 263.32,417.1 263.32,430.4 263.33,409.4"/>
<polyline points="263.33,409.4 263.34,408.2 263.35,409.7 263.35,412.5 263.36,408.0 263.37,417.6 263.38,402.7"/>
<polyline points="263.38,402.7 263.38,424.3 263.39,415.8 263.40,408.9 263.41,401.8 263.41,437.0 263.42,408.3"/>
<polyline points="263.42,408.3 263.43,410.4 263.43,405.8 263.44,421.5 263.45,420.2 263.46,407.1 263.46,416.1"/>
<polyline points="263.46,416.1 263.47,407.6 263.48,406.8 263.49,415.2 263.49,420.0 263.50,438.6 263.51,406.2"/>
<polyline points="263.51,406.2 263.52,400.7 263.52,403.1 263.53,424.6 263.54,455.8 263.55,422.3 263.55,422.9"/>
<polyline points="263.55,422.9 263.56,423.6 263.57,419.2 263.57,437.2 263.58,410.5 263.59,406.0 263.60,402.6"/>
<polyline points="263.60,402.6 263.60,415.0 263.61,400.5 263.62,431.3 263.63,427.9 263.63,410.3 263.64,413.2"/>
<polyline points="263.64,413.2 263.65,407.5 263.66,415.7 263.66,419.9 263.67,425.5 263.68,420.6 263.69,402.2"/>
<polyline points="263.69,402.2 263.69,407.0 263.70,412.7 263.71,408.1 263.71,419.9 263.72,421.3 263.73,402.0"/>
<polyline points="263.73,402.0 263.74,408.9 263.74,404.1 263.75,425.3 263.76,407.3 263.77,407.2 263.77,418.8"/>
<polyline points="263.77,418.8 263.78,439.5 263.79,401.5 263.80,422.3 263.80,433.1 263.81,401.7 263.82,427.5"/>
<polyline points="263.82,427.5 263.83,416.2 263.83,430.7 263.84,435.5 263.85,410.8 263.85,411.6 263.86,406.1"/>
<polyline points="263.86,406.1 263.87,403.5 263.88,415.4 263.88,427.7 263.89,401.4 263.90,402.1 263.91,410.2"/>
<polyline points="263.91,410.2 263.91,418.0 263.92,407.8 263.93,468.0 263.94,423.4 263.94,402.9 263.95,423.7"/>
<polyline points="263.95,423.7 263.96,427.9 263.96,417.8 263.97,404.8 263.98,422.5 263.99,403.0 263.99,413.2"/>
<polyline points="263.99,413.2 264.00,414.9 264.01,417.5 264.02,407.7 264.02,410.6 264.03,414.2 264.04,422.6"/>
<polyline points="264.04,422.6 264.05,413.4 264.05,404.0 264.06,403.4 264.07,415.3 264.08,422.7 264.08,411.7"/>
<polyline points="264.08,411.7 264.09,409.9 264.10,407.9 264.10,416.0 264.11,426.9 264.12,415.7 264.13,406.3"/>
<polyline points="264.13,406.3 264.13,401.9 264.14,409.1 264.15,408.6 264.16,415.6 264.16,412.9 264.17,422.1"/>
<polyline points="264.17,422.1 264.18,407.8 264.19,403.7 264.19,425.9 264.20,411.8 264.21,417.7 264.21,418.8"/>
<polyline points="264.21,418.8 264.22,413.9 264.23,417.0 264.24,411.9 264.24,417.7 264.25,402.2 264.26,404.1"/>
<polyline points="264.26,404.1 264.27,428.5 264.27,405.1 264.28,419.3 264.29,404.6 264.30,411.9 264.30,414.7"/>
<polyline points="264.30,414.7 264.31,418.8 264.32,425.1 264.32,404.4 264.33,411.0 264.34,414.3 264.35,415.8"/>
<polyline points="264.35,415.8 264.35,405.1 264.36,401.2 264.37,411.6 264.38,413.4 264.38,414.1 264.39,408.8"/>
<polyline points="264.39,408.8 264.40,409.0 264.40,402.7 264.41,416.9 264.42,418.8 264.43,423.4 264.43,435.7"/>
<polyline points="264.43,435.7 264.44,406.0 264.45,404.8 264.46,428.3 264.46,422.8 264.47,428.3 264.48,396.8"/>
<polyline points="264.48,396.8 264.49,407.0 264.49,403.5 264.50,416.0 264.51,404.4 264.51,415.2 264.52,428.2"/>
<polyline points="264.52,428.2 264.53,409.3 264.54,407.8 264.54,423.4 264.55,421.4 264.56,410.7 264.57,402.7"/>
<polyline points="264.57,402.7 264.57,400.9 264.58,433.4 264.59,413.1 264.60,431.2 264.60,412.4 264.61,433.9"/>
<polyline points="264.61,433.9 264.62,405.3 264.62,430.6 264.63,423.0 264.64,415.0 264.65,429.6 264.65,426.3"/>
<polyline points="264.65,426.3 264.66,410.4 264.67,421.9 264.68,413.5 264.68,403.8 264.69,408.1 264.70,412.3"/>
<polyline points="264.70,412.3 264.70,405.8 264.71,424.3 264.72,419.6 264.73,398.8 264.73,416.2 264.74,418.2"/>
<polyline points="264.74,418.2 264.75,419.5 264.76,407.4 264.76,413.8 264.77,404.6 264.78,415.0 264.78,410.2"/>
<polyline points="264.78,410.2 264.79,430.9 264.80,412.0 264.81,411.2 264.81,406.1 264.82,408.1 264.83,424.5"/>
<polyline points="264.83,424.5 264.84,414.8 264.84,420.5 264.85,424.8 264.86,427.0 264.87,404.9 264.87,421.0"/>
<polyline points="264.87,421.0 264.88,404.7 264.89,410.7 264.89,396.0 264.90,409.8 264.91,408.0 264.92,411.6"/>
<polyline points="264.92,411.6 264.92,417.3 264.93,406.1 264.94,424.2 264.95,416.8 264.95,445.8 264.96,404.2"/>
<polyline points="264.96,404.2 264.97,418.3 264.97,411.4 264.98,409.0 264.99,403.6 265.00,418.1 265.00,400.5"/>
<polyline points="265.00,400.5 265.01,415.6 265.02,414.6 265.03,434.3 265.03,407.5 265.04,417.1 265.05,402.5"/>
<polyline points="265.05,402.5 265.05,417.3 265.06,409.0 265.07,411.7 265.08,446.1 265.08,415.0 265.09,421.1"/>
<polyline points="265.09,421.1 265.10,426.6 265.11,430.4 265.11,419.4 265.12,408.5 265.13,403.8 265.13,424.6"/>
<polyline points="265.13,424.6 265.14,411.7 265.15,412.4 265.16,445.9 265.16,417.2 265.17,408.8 265.18,406.0"/>
<polyline points="265.18,406.0 265.19,410.2 265.19,403.3 265.20,409.9 265.21,410.0 265.21,430.1 265.22,442.1"/>
<polyline points="265.22,442.1 265.23,408.4 265.24,416.1 265.24,404.7 265.25,400.5 265.26,401.3 265.27,410.6"/>
<polyline points="265.27,410.6 265.27,424.4 265.28,406.1 265.29,405.9 265.29,399.2 265.30,417.8 265.31,416.1"/>
<polyline points="265.31,416.1 265.32,435.8 265.32,403.9 265.33,405.8 265.34,415.1 265.35,418.5 265.35,427.1"/>
<polyline points="265.35,427.1 265.36,413.1 265.37,410.8 265.37,410.2 265.38,422.2 265.39,418.5 265.40,416.2"/>
<polyline points="265.40,416.2 265.40,417.3 265.41,420.4 265.42,411.8 265.43,401.0 265.43,430.7 265.44,404.5"/>
<polyline points="265.44,404.5 265.45,407.0 265.45,405.1 265.46,410.0 265.47,407.9 265.48,431.2 265.48,405.7"/>
<polyline points="265.48,405.7 265.49,401.4 265.50,426.3 265.50,409.8 265.51,404.2 265.52,398.9 265.53,411.2"/>
<polyline points="265.53,411.2 265.53,399.6 265.54,419.4 265.55,417.6 265.56,397.9 265.56,436.8 265.57,402.8"/>
<polyline points="265.57,402.8 265.58,405.2 265.58,422.6 265.59,405.3 265.60,419.2 265.61,411.7 265.61,415.1"/>
<polyline points="265.61,415.1 265.62,417.1 265.63,425.5 265.64,414.5 265.64,419.3 265.65,421.4 265.66,414.4"/>
<polyline points="265.66,414.4 265.66,427.9 265.67,427.4 265.68,428.1 265.69,444.8 265.69,414.4 265.70,416.2"/>
<polyline points="265.70,416.2 265.71,420.9 265.71,428.4 265.72,428.4 265.73,410.3 265.74,411.6 265.74,410.9"/>
<polyline points="265.74,410.9 265.75,420.5 265.76,419.7 265.77,405.1 265.77,409.4 265.78,404.6 265.79,412.8"/>
<polyline points="265.79,412.8 265.79,404.4 265.80,407.3 265.81,415.3 265.82,420.5 265.82,408.6 265.83,420.4"/>
<polyline points="265.83,420.4 265.84,402.0 265.85,404.1 265.85,414.6 265.86,413.0 265.87,406.2 265.87,406.5"/>
<polyline points="265.87,406.5 265.88,420.8 265.89,403.3 265.90,444.3 265.90,418.7 265.91,413.9 265.92,404.6"/>
<polyline points="265.92,404.6 265.92,425.6 265.93,423.9 265.94,417.8 265.95,411.6 265.95,411.4 265.96,426.8"/>
<polyline points="265.96,426.8 265.97,409.9 265.98,424.8 265.98,416.6 265.99,413.5 266.00,434.3 266.00,417.5"/>
<polyline points="266.00,417.5 266.01,416.6 266.02,416.1 266.03,409.3 266.03,410.8 266.04,419.9 266.05,433.9"/>
<polyline points="266.05,433.9 266.05,409.8 266.06,411.4 266.07,415.9 266.08,402.6 266.08,416.6 266.09,416.8"/>
<polyline points="266.09,416.8 266.10,402.6 266.10,437.5 266.11,399.5 266.12,414.0 266.13,403.7 266.13,420.5"/>
<polyline points="266.13,420.5 266.14,412.1 266.15,408.6 266.16,409.0 266.16,415.7 266.17,423.2 266.18,400.8"/>
<polyline points="266.18,400.8 266.18,409.1 266.19,416.2 266.20,421.0 266.21,413.5 266.21,398.7 266.22,428.8"/>
<polyline points="266.22,428.8 266.23,427.2 266.23,414.5 266.24,410.1 266.25,399.3 266.26,413.4 266.26,419.8"/>
<polyline points="266.26,419.8 266.27,411.5 266.28,411.3 266.29,408.3 266.29,426.1 266.30,441.5 266.31,411.0"/>
<polyline points="266.31,411.0 266.31,426.1 266.32,408.2 266.33,427.7 266.34,415.6 266.34,411.9 266.35,443.0"/>
<polyline points="266.35,443.0 266.36,412.4 266.36,436.2 266.37,414.6 266.38,438.7 266.39,410.5 266.39,415.7"/>
<polyline points="266.39,415.7 266.40,397.7 266.41,408.0 266.41,408.3 266.42,412.7 266.43,408.7 266.44,422.7"/>
<polyline points="266.44,422.7 266.44,455.7 266.45,401.7 266.46,405.1 266.47,424.7 266.47,410.6 266.48,404.3"/>
<polyline points="266.48,404.3 266.49,427.5 266.49,411.5 266.50,396.1 266.54,402.2 266.58,393.3 266.62,389.4"/>
<polyline points="266.62,389.4 266.66,391.0 266.70,392.2 266.74,398.5 266.78,397.1 266.82,396.7 266.86,404.4"/>
<polyline points="266.86,404.4 266.90,400.3 266.94,404.9 266.98,403.8 267.02,392.2 267.06,400.6 267.10,406.0"/>
<polyline points="267.10,406.0 267.14,405.9 267.18,397.4 267.22,405.7 267.26,403.5 267.30,326.2 267.34,396.2"/>
<polyline points="267.34,396.2 267.38,407.4 267.42,407.6 267.46,394.8 267.50,392.8 267.54,392.9 267.58,394.8"/>
<polyline points="267.58,394.8 267.62,398.1 267.66,395.3 267.70,391.8 267.74,401.3 267.78,398.1 267.82,395.2"/>
<polyline points="267.82,395.2 267.86,388.1 267.90,396.3 267.94,395.3 267.98,391.0 268.02,406.3 268.06,391.5"/>
<polyline points="268.06,391.5 268.10,401.0 268.14,393.1 268.18,395.3 268.22,393.0 268.26,395.1 268.30,398.5"/>
<polyline points="268.30,398.5 268.34,391.4 268.38,393.4 268.42,398.9 268.46,404.8 268.50,399.2 268.54,392.6"/>
<polyline points="268.54,392.6 268.58,398.4 268.62,400.0 268.66,398.4 268.70,385.1 268.74,402.1 268.78,397.0"/>
<polyline points="268.78,397.0 268.82,402.4 268.86,404.5 268.90,406.9 268.94,388.8 268.98,391.8 269.02,398.2"/>
<polyline points="269.02,398.2 269.06,399.9 269.10,401.2 269.14,401.9 269.18,398.7 269.22,403.0 269.26,389.8"/>
<polyline points="269.26,389.8 269.30,393.9 269.34,392.9 269.38,398.2 269.42,396.4 269.46,396.7 269.50,404.6"/>
<polyline points="269.50,404.6 269.54,397.9 269.58,394.3 269.62,402.6 269.66,394.1 269.70,393.6 269.74,403.0"/>
<polyline points="269.74,403.0 269.78,389.8 269.82,393.0 269.86,413.0 269.90,402.6 269.94,388.5 269.98,399.8"/>
<polyline points="269.98,399.8 270.02,392.9 270.06,401.4 270.10,395.3 270.14,399.1 270.18,399.2 270.22,393.3"/>
<polyline points="270.22,393.3 270.26,399.1 270.30,394.9 270.34,395.2 270.38,392.7 270.42,398.6 270.46,408.0"/>
<polyline points="270.46,408.0 270.50,400.4 270.54,397.5 270.58,389.8 270.62,390.5 270.66,398.6 270.70,389.0"/>
<polyline points="270.70,389.0 270.74,408.7 270.78,405.1 270.82,391.4 270.86,396.6 270.90,397.2 270.94,399.1"/>
<polyline points="270.94,399.1 270.98,394.6 271.02,396.8 271.06,406.3 271.10,396.4 271.14,399.5 271.18,396.6"/>
<polyline points="271.18,396.6 271.22,394.4 271.26,405.6 271.30,390.1 271.34,390.2 271.38,389.8 271.42,411.4"/>
<polyline points="271.42,411.4 271.46,390.3 271.50,393.3 271.54,401.6 271.58,402.1 271.62,395.8 271.66,390.5"/>
<polyline points="271.66,390.5 271.70,394.2 271.74,391.6 271.78,392.7 271.82,396.4 271.86,396.8 271.90,395.0"/>
<polyline points="271.90,395.0 271.94,398.9 271.98,390.4 272.02,389.3 272.06,395.6 272.10,397.3 272.14,397.1"/>
<polyline points="272.14,397.1 272.18,391.9 272.22,399.7 272.26,387.9 272.30,393.9 272.34,398.8 272.38,391.8"/>
<polyline points="272.38,391.8 272.42,390.7 272.46,393.8 272.50,395.6 272.54,393.7 272.58,393.7 272.62,395.6"/>
<polyline points="272.62,395.6 272.66,397.8 272.70,396.2 272.74,393.7 272.78,389.6 272.82,388.0 272.86,389.3"/>
<polyline points="272.86,389.3 272.90,387.3 272.94,397.6 272.98,390.2 273.02,392.3 273.06,391.4 273.10,399.9"/>
<polyline points="273.10,399.9 273.14,394.6 273.18,392.4 273.22,397.2 273.26,396.5 273.30,313.8 273.34,387.0"/>
<polyline points="273.34,387.0 273.38,393.9 273.42,393.5 273.46,403.7 273.50,393.9 273.54,395.2 273.58,399.0"/>
<polyline points="273.58,399.0 273.62,389.8 273.66,390.4 273.70,414.1 273.74,394.0 273.78,389.6 273.82,405.7"/>
<polyline points="273.82,405.7 273.86,396.9 273.90,389.3 273.94,396.0 273.98,397.4 274.02,393.6 274.06,405.8"/>
<polyline points="274.06,405.8 274.10,393.6 274.14,396.7 274.18,399.2 274.22,399.4 274.26,393.8 274.30,392.9"/>
<polyline points="274.30,392.9 274.34,403.8 274.38,393.9 274.42,404.3 274.46,388.6 274.50,391.5 274.54,394.5"/>
<polyline points="274.54,394.5 274.58,395.9 274.62,396.6 274.66,389.9 274.70,390.2 274.74,397.5 274.78,388.4"/>
<polyline points="274.78,388.4 274.82,391.2 274.86,395.7 274.90,391.1 274.94,397.1 274.98,384.5 275.02,389.4"/>
<polyline points="275.02,389.4 275.06,389.5 275.10,389.3 275.14,401.3 275.18,392.5 275.22,395.4 275.26,387.3"/>
<polyline points="275.26,387.3 275.30,393.4 275.34,392.9 275.38,383.4 275.42,386.2 275.46,389.4 275.50,387.6"/>
<polyline points="275.50,387.6 275.54,387.3 275.58,391.2 275.62,385.0 275.66,393.2 275.70,395.4 275.74,395.0"/>
<polyline points="275.74,395.0 275.78,403.1 275.82,395.6 275.86,391.3 275.90,392.6 275.94,392.4 275.98,396.4"/>
<polyline points="275.98,396.4 276.02,394.8 276.06,384.0 276.10,388.4 276.14,394.4 276.18,388.9 276.22,398.4"/>
<polyline points="276.22,398.4 276.26,391.1 276.30,387.9 276.34,399.3 276.38,383.4 276.42,385.1 276.46,388.1"/>
<polyline points="276.46,388.1 276.50,394.9 276.54,387.7 276.58,390.8 276.62,390.1 276.66,381.3 276.70,392.4"/>
<polyline points="276.70,392.4 276.74,395.5 276.78,396.7 276.82,397.5 276.86,397.3 276.90,384.9 276.94,389.9"/>
<polyline points="276.94,389.9 276.98,396.5 277.02,388.1 277.06,392.9 277.10,394.5 277.14,395.3 277.18,385.0"/>
<polyline points="277.18,385.0 277.22,401.8 277.26,390.2 277.30,385.5 277.34,384.0 277.38,388.2 277.42,380.8"/>
<polyline points="277.42,380.8 277.46,389.7 277.50,387.4 277.54,388.7 277.58,387.4 277.62,386.4 277.66,387.7"/>
<polyline points="277.66,387.7 277.70,392.4 277.74,399.6 277.78,385.3 277.82,385.9 277.86,389.1 277.90,386.9"/>
<polyline points="277.90,386.9 277.94,381.4 277.98,391.9 278.02,389.0 278.06,391.2 278.10,387.4 278.14,390.1"/>
<polyline points="278.14,390.1 278.18,393.9 278.22,391.3 278.26,390.8 278.30,391.6 278.34,383.1 278.38,395.2"/>
<polyline points="278.38,395.2 278.42,400.0 278.46,401.8 278.50,386.6 278.54,386.4 278.58,386.8 278.62,387.3"/>
<polyline points="278.62,387.3 278.66,383.4 278.70,390.1 278.74,384.2 278.78,396.7 278.82,395.0 278.86,397.6"/>
<polyline points="278.86,397.6 278.90,386.8 278.94,385.9 278.98,386.7 279.02,394.1 279.06,384.3 279.10,389.6"/>
<polyline points="279.10,389.6 279.14,388.7 279.18,395.7 279.22,395.7 279.26,389.6 279.30,388.5 279.34,400.6"/>
<polyline points="279.34,400.6 279.38,384.6 279.42,383.4 279.46,385.4 279.50,396.7 279.54,395.2 279.58,388.5"/>
<polyline points="279.58,388.5 279.62,389.7 279.66,388.2 279.70,395.7 279.74,384.4 279.78,389.8 279.82,384.4"/>
<polyline points="279.82,384.4 279.86,391.1 279.90,387.3 279.94,384.2 279.98,387.1 280.02,385.0 280.06,384.0"/>
<polyline points="280.06,384.0 280.10,388.5 280.14,382.3 280.18,391.4 280.22,393.2 280.26,388.7 280.30,394.7"/>
<polyline points="280.30,394.7 280.34,397.9 280.38,387.1 280.42,392.4 280.46,389.2 280.50,387.4 280.54,390.4"/>
<polyline points="280.54,390.4 280.58,386.6 280.62,382.8 280.66,387.9 280.70,393.1 280.74,380.5 280.78,381.5"/>
<polyline points="280.78,381.5 280.82,394.0 280.86,391.3 280.90,394.9 280.94,384.2 280.98,386.8 281.02,386.8"/>
<polyline points="281.02,386.8 281.06,396.9 281.10,390.5 281.14,385.7 281.18,382.7 281.22,389.3 281.26,390.7"/>
<polyline points="281.26,390.7 281.30,389.0 281.34,391.6 281.38,385.1 281.42,390.6 281.46,386.5 281.50,380.0"/>
<polyline points="281.50,380.0 281.54,384.4 281.58,387.9 281.62,382.8 281.66,381.3 281.70,384.3 281.74,381.3"/>
<polyline points="281.74,381.3 281.78,383.2 281.82,390.5 281.86,386.1 281.90,378.8 281.94,385.1 281.98,385.5"/>
<polyline points="281.98,385.5 282.02,388.0 282.06,388.0 282.10,385.7 282.14,392.5 282.18,388.3 282.22,385.9"/>
<polyline points="282.22,385.9 282.26,383.6 282.30,395.9 282.34,387.6 282.38,380.8 282.42,382.6 282.46,388.2"/>
<polyline points="282.46,388.2 282.50,386.8 282.54,388.0 282.58,386.6 282.62,383.4 282.66,384.0 282.70,386.1"/>
<polyline points="282.70,386.1 282.74,385.1 282.78,380.7 282.82,381.4 282.86,382.1 282.90,389.7 282.94,383.6"/>
<polyline points="282.94,383.6 282.98,383.9 283.02,390.7 283.06,391.3 283.10,382.0 283.14,380.8 283.18,388.9"/>
<polyline points="283.18,388.9 283.22,387.4 283.26,378.0 283.30,385.7 283.34,387.2 283.38,384.2 283.42,376.5"/>
<polyline points="283.42,376.5 283.46,382.9 283.50,386.5 283.54,391.8 283.58,387.8 283.62,383.4 283.66,386.8"/>
<polyline points="283.66,386.8 283.70,377.3 283.74,385.9 283.78,393.7 283.82,394.4 283.86,380.9 283.90,388.5"/>
<polyline points="283.90,388.5 283.94,381.9 283.98,383.6 284.02,381.8 284.06,373.8 284.10,379.2 284.14,384.5"/>
<polyline points="284.14,384.5 284.18,383.3 284.22,378.5 284.26,388.1 284.30,374.1 284.34,384.1 284.38,381.6"/>
<polyline points="284.38,381.6 284.42,375.4 284.46,389.3 284.50,373.9 284.54,386.6 284.58,383.1 284.62,380.6"/>
<polyline points="284.62,380.6 284.66,387.2 284.70,378.7 284.74,379.0 284.78,383.0 284.82,390.0 284.86,379.9"/>
<polyline points="284.86,379.9 284.90,384.5 284.94,390.6 284.98,385.7 285.02,387.8 285.06,384.8 285.10,385.7"/>
<polyline points="285.10,385.7 285.14,382.8 285.18,375.9 285.22,379.6 285.26,379.5 285.30,376.6 285.34,379.8"/>
<polyline points="285.34,379.8 285.38,379.4 285.42,376.5 285.46,388.6 285.50,383.9 285.54,374.5 285.58,378.0"/>
<polyline points="285.58,378.0 285.62,385.1 285.66,386.4 285.70,382.2 285.74,378.0 285.78,377.4 285.82,375.7"/>
<polyline points="285.82,375.7 285.86,379.5 285.90,379.4 285.94,386.7 285.98,380.8 286.02,374.5 286.06,371.8"/>
<polyline points="286.06,371.8 286.10,382.6 286.14,383.8 286.18,378.3 286.22,378.7 286.26,385.1 286.30,386.1"/>
<polyline points="286.30,386.1 286.34,377.2 286.38,386.9 286.42,373.0 286.46,376.2 286.50,385.4 286.54,376.0"/>
<polyline points="286.54,376.0 286.58,377.5 286.62,379.9 286.66,379.9 286.70,374.9 286.74,370.7 286.78,382.5"/>
<polyline points="286.78,382.5 286.82,373.0 286.86,372.7 286.90,380.6 286.94,375.3 286.98,383.2 287.02,375.3"/>
<polyline points="287.02,375.3 287.06,379.0 287.10,376.0 287.14,377.3 287.18,371.4 287.22,376.0 287.26,377.8"/>
<polyline points="287.26,377.8 287.30,371.7 287.34,371.0 287.38,380.0 287.42,369.4 287.46,373.3 287.50,374.6"/>
<polyline points="287.50,374.6 287.54,373.1 287.58,383.4 287.62,372.7 287.66,397.6 287.70,375.2 287.74,375.3"/>
<polyline points="287.74,375.3 287.78,372.8 287.82,379.2 287.86,379.5 287.90,372.2 287.94,365.0 287.98,371.7"/>
<polyline points="287.98,371.7 288.02,371.6 288.06,376.5 288.10,371.5 288.14,372.5 288.18,373.5 288.22,368.2"/>
<polyline points="288.22,368.2 288.26,371.9 288.30,377.3 288.34,362.9 288.38,373.7 288.42,367.2 288.46,379.3"/>
<polyline points="288.46,379.3 288.50,368.5 288.54,373.3 288.58,375.8 288.62,379.9 288.66,379.1 288.70,365.2"/>
<polyline points="288.70,365.2 288.74,373.0 288.78,370.6 288.82,367.2 288.86,374.1 288.90,374.3 288.94,365.6"/>
<polyline points="288.94,365.6 288.98,365.9 289.02,368.1 289.06,377.2 289.10,381.9 289.14,370.9 289.18,374.5"/>
<polyline points="289.18,374.5 289.22,367.4 289.26,367.0 289.30,367.1 289.34,366.9 289.38,368.0 289.42,369.4"/>
<polyline points="289.42,369.4 289.46,365.9 289.50,370.0 289.54,362.2 289.58,360.1 289.62,363.4 289.66,367.3"/>
<polyline points="289.66,367.3 289.70,367.5 289.74,370.2 289.78,372.3 289.82,368.4 289.86,369.5 289.90,367.9"/>
<polyline points="289.90,367.9 289.94,367.6 289.98,364.2 290.02,369.7 290.06,358.3 290.10,366.6 290.14,364.0"/>
<polyline points="290.14,364.0 290.18,373.0 290.22,356.5 290.26,369.1 290.30,368.2 290.34,369.9 290.38,359.6"/>
<polyline points="290.38,359.6 290.42,357.5 290.46,366.3 290.50,356.1 290.54,362.1 290.58,364.3 290.62,357.3"/>
<polyline points="290.62,357.3 290.66,354.3 290.70,360.0 290.74,362.2 290.78,355.3 290.82,354.8 290.86,361.9"/>
<polyline points="290.86,361.9 290.90,357.1 290.94,364.7 290.98,363.6 291.02,365.1 291.06,363.1 291.10,355.1"/>
<polyline points="291.10,355.1 291.14,356.0 291.18,358.1 291.22,352.1 291.26,363.0 291.30,354.7 291.34,348.8"/>
<polyline points="291.34,348.8 291.38,352.4 291.42,360.6 291.46,348.6 291.50,348.8 291.54,354.0 291.58,351.5"/>
<polyline points="291.58,351.5 291.62,358.3 291.66,352.4 291.70,375.9 291.74,351.6 291.78,345.8 291.82,347.8"/>
<polyline points="291.82,347.8 291.86,345.9 291.90,343.7 291.94,352.3 291.98,343.8 292.02,352.0 292.06,354.6"/>
<polyline points="292.06,354.6 292.10,347.4 292.14,347.7 292.18,340.3 292.22,340.4 292.26,342.3 292.30,346.0"/>
<polyline points="292.30,346.0 292.34,337.7 292.38,348.8 292.42,339.4 292.46,345.4 292.50,336.2 292.54,336.3"/>
<polyline points="292.54,336.3 292.58,332.7 292.62,332.0 292.66,324.7 292.70,322.5 292.74,322.3 292.78,320.4"/>
<polyline points="292.78,320.4 292.82,313.0 292.86,306.9 292.90,286.3 292.94,284.9 292.98,307.0 293.02,309.7"/>
<polyline points="293.02,309.7 293.06,322.5 293.10,321.5 293.14,336.3 293.18,329.9 293.22,333.1 293.26,329.0"/>
<polyline points="293.26,329.0 293.30,326.6 293.34,335.0 293.38,344.0 293.42,328.7 293.46,343.4 293.50,339.9"/>
<polyline points="293.50,339.9 293.54,345.4 293.58,347.4 293.62,356.1 293.66,347.4 293.70,343.1 293.74,350.8"/>
<polyline points="293.74,350.8 293.78,346.9 293.82,347.5 293.86,355.6 293.90,345.3 293.94,351.3 293.98,343.3"/>
<polyline points="293.98,343.3 294.02,349.5 294.06,344.6 294.10,347.8 294.14,345.1 294.18,357.6 294.22,352.8"/>
<polyline points="294.22,352.8 294.26,350.7 294.30,350.5 294.34,358.6 294.38,362.9 294.42,359.2 294.46,349.3"/>
<polyline points="294.46,349.3 294.50,354.7 294.54,362.5 294.58,358.7 294.62,355.0 294.66,353.9 294.70,356.7"/>
<polyline points="294.70,356.7 294.74,356.2 294.78,358.2 294.82,355.5 294.86,357.5 294.90,361.5 294.94,365.1"/>
<polyline points="294.94,365.1 294.98,370.6 295.02,358.2 295.06,364.2 295.10,360.0 295.14,361.2 295.18,359.2"/>
<polyline points="295.18,359.2 295.22,359.3 295.26,362.8 295.30,354.5 295.34,362.8 295.38,364.5 295.42,368.7"/>
<polyline points="295.42,368.7 295.46,356.8 295.50,356.4 295.54,372.1 295.58,365.2 295.62,366.8 295.66,366.2"/>
<polyline points="295.66,366.2 295.70,361.1 295.74,360.3 295.78,361.8 295.82,369.2 295.86,360.5 295.90,365.2"/>
<polyline points="295.90,365.2 295.94,369.7 295.98,362.5 296.02,363.1 296.06,365.7 296.10,363.7 296.14,366.3"/>
<polyline points="296.14,366.3 296.18,380.5 296.22,363.3 296.26,362.9 296.30,367.2 296.34,365.7 296.38,372.5"/>
<polyline points="296.38,372.5 296.42,370.9 296.46,370.0 296.50,365.8 296.54,368.9 296.58,367.2 296.62,371.2"/>
<polyline points="296.62,371.2 296.66,371.5 296.70,366.7 296.74,376.3 296.78,375.5 296.82,371.0 296.86,371.6"/>
<polyline points="296.86,371.6 296.90,370.9 296.94,372.6 296.98,382.0 297.02,371.0 297.06,378.7 297.10,372.5"/>
<polyline points="297.10,372.5 297.14,377.8 297.18,369.0 297.22,374.9 297.26,378.4 297.30,375.1 297.34,370.6"/>
<polyline points="297.34,370.6 297.38,370.1 297.42,367.7 297.46,378.2 297.50,370.9 297.54,365.0 297.58,381.8"/>
<polyline points="297.58,381.8 297.62,377.9 297.66,376.1 297.70,327.5 297.74,374.3 297.78,377.0 297.82,378.5"/>
<polyline points="297.82,378.5 297.86,377.9 297.90,386.6 297.94,370.9 297.98,377.1 298.02,375.9 298.06,374.5"/>
<polyline points="298.06,374.5 298.10,374.0 298.14,374.9 298.18,374.2 298.22,377.9 298.26,370.8 298.30,373.8"/>
<polyline points="298.30,373.8 298.34,379.1 298.38,375.4 298.42,384.9 298.46,373.4 298.50,372.8 298.54,379.8"/>
<polyline points="298.54,379.8 298.58,376.8 298.62,375.0 298.66,377.7 298.70,376.8 298.74,378.1 298.78,382.0"/>
<polyline points="298.78,382.0 298.82,378.4 298.86,369.4 298.90,377.1 298.94,380.8 298.98,374.5 299.02,383.8"/>
<polyline points="299.02,383.8 299.06,380.5 299.10,380.7 299.14,378.3 299.18,377.6 299.22,378.8 299.26,391.9"/>
<polyline points="299.26,391.9 299.30,384.6 299.34,374.4 299.38,378.5 299.42,387.6 299.46,378.9 299.50,381.7"/>
<polyline points="299.50,381.7 299.54,386.5 299.58,380.6 299.62,373.2 299.66,376.3 299.70,385.8 299.74,386.3"/>
<polyline points="299.74,386.3 299.78,387.4 299.82,396.1 299.86,379.6 299.90,385.9 299.94,377.5 299.98,378.0"/>
<polyline points="299.98,378.0 300.02,385.7 300.06,381.8 300.10,378.4 300.14,379.6 300.18,386.6 300.22,386.9"/>
<polyline points="300.22,386.9 300.26,384.1 300.30,375.4 300.34,387.0 300.38,371.5 300.42,377.5 300.46,378.5"/>
<polyline points="300.46,378.5 300.50,379.3 300.54,384.6 300.58,383.2 300.62,384.6 300.66,384.3 300.70,382.1"/>
<polyline points="300.70,382.1 300.74,382.2 300.78,382.4 300.82,378.4 300.86,383.8 300.90,385.7 300.94,383.1"/>
<polyline points="300.94,383.1 300.98,383.7 301.02,379.0 301.06,388.4 301.10,378.8 301.14,402.0 301.18,392.2"/>
<polyline points="301.18,392.2 301.22,375.8 301.26,385.6 301.30,392.7 301.34,386.4 301.38,381.8 301.42,387.6"/>
<polyline points="301.42,387.6 301.46,393.6 301.50,388.0 301.54,388.1 301.58,378.9 301.62,381.7 301.66,384.8"/>
<polyline points="301.66,384.8 301.70,377.3 301.74,384.2 301.78,385.8 301.82,386.0 301.86,384.9 301.90,378.0"/>
<polyline points="301.90,378.0 301.94,383.3 301.98,385.8 302.02,388.7 302.06,379.1 302.10,393.8 302.14,382.2"/>
<polyline points="302.14,382.2 302.18,388.3 302.22,389.7 302.26,388.5 302.30,383.0 302.34,378.0 302.38,392.4"/>
<polyline points="302.38,392.4 302.42,379.0 302.46,386.6 302.50,385.1 302.54,377.2 302.58,386.4 302.62,386.6"/>
<polyline points="302.62,386.6 302.66,385.2 302.70,388.9 302.74,385.2 302.78,385.5 302.82,390.8 302.86,382.8"/>
<polyline points="302.86,382.8 302.90,386.5 302.94,388.4 302.98,384.2 303.02,389.5 303.06,384.7 303.10,387.7"/>
<polyline points="303.10,387.7 303.14,393.5 303.18,385.6 303.22,388.7 303.26,390.8 303.30,389.2 303.34,384.5"/>
<polyline points="303.34,384.5 303.38,388.6 303.42,384.3 303.46,395.5 303.50,386.1 303.54,384.7 303.58,387.8"/>
<polyline points="303.58,387.8 303.62,379.1 303.66,391.7 303.70,384.8 303.74,394.6 303.78,386.6 303.82,391.7"/>
<polyline points="303.82,391.7 303.86,384.0 303.90,386.8 303.94,394.6 303.98,389.7 304.02,396.8 304.06,387.3"/>
<polyline points="304.06,387.3 304.10,382.6 304.14,385.8 304.18,386.4 304.22,387.7 304.26,380.7 304.30,392.1"/>
<polyline points="304.30,392.1 304.34,390.0 304.38,387.0 304.42,382.2 304.46,385.2 304.50,390.5 304.54,393.5"/>
<polyline points="304.54,393.5 304.58,393.4 304.62,384.0 304.66,382.7 304.70,391.4 304.74,387.4 304.78,392.3"/>
<polyline points="304.78,392.3 304.82,396.6 304.86,389.3 304.90,382.4 304.94,390.1 304.98,389.3 305.02,392.0"/>
<polyline points="305.02,392.0 305.06,388.2 305.10,388.2 305.14,387.6 305.18,388.0 305.22,385.8 305.26,396.4"/>
<polyline points="305.26,396.4 305.30,384.5 305.34,386.7 305.38,394.1 305.42,387.6 305.46,398.9 305.50,392.1"/>
<polyline points="305.50,392.1 305.54,384.7 305.58,386.7 305.62,393.6 305.66,391.3 305.70,387.7 305.74,394.0"/>
<polyline points="305.74,394.0 305.78,397.6 305.82,396.6 305.86,388.8 305.90,387.8 305.94,390.4 305.98,384.8"/>
<polyline points="305.98,384.8 306.02,384.6 306.06,401.0 306.10,392.8 306.14,388.2 306.18,391.1 306.22,392.8"/>
<polyline points="306.22,392.8 306.26,388.5 306.30,395.0 306.34,385.5 306.38,392.3 306.42,392.3 306.46,395.9"/>
<polyline points="306.46,395.9 306.50,400.1 306.54,386.4 306.58,392.8 306.62,392.2 306.66,396.3 306.70,387.8"/>
<polyline points="306.70,387.8 306.74,402.0 306.78,390.1 306.82,408.2 306.86,395.0 306.90,391.8 306.94,386.7"/>
<polyline points="306.94,386.7 306.98,391.8 307.02,390.9 307.06,388.1 307.10,394.4 307.14,385.9 307.18,395.8"/>
<polyline points="307.18,395.8 307.22,391.4 307.26,393.2 307.30,394.7 307.34,404.8 307.38,385.7 307.42,400.4"/>
<polyline points="307.42,400.4 307.46,390.6 307.50,399.0 307.54,390.2 307.58,396.3 307.62,390.3 307.66,397.9"/>
<polyline points="307.66,397.9 307.70,400.1 307.74,407.9 307.78,391.3 307.82,395.0 307.86,393.0 307.90,387.9"/>
<polyline points="307.90,387.9 307.94,390.1 307.98,391.6 308.02,386.9 308.04,394.3 308.06,395.5 308.09,399.1"/>
<polyline points="308.09,399.1 308.11,402.5 308.13,406.5 308.15,397.4 308.18,414.1 308.20,404.5 308.22,384.7"/>
<polyline points="308.22,384.7 308.24,395.5 308.26,386.1 308.29,389.0 308.31,390.4 308.33,391.6 308.35,394.0"/>
<polyline points="308.35,394.0 308.38,384.8 308.40,423.3 308.42,392.9 308.44,407.6 308.46,412.8 308.49,391.6"/>
<polyline points="308.49,391.6 308.51,401.6 308.53,394.2 308.55,392.8 308.58,429.9 308.60,395.0 308.62,420.2"/>
<polyline points="308.62,420.2 308.64,397.2 308.66,401.2 308.69,399.8 308.71,392.2 308.73,388.9 308.75,393.4"/>
<polyline points="308.75,393.4 308.78,400.1 308.80,389.8 308.82,406.1 308.84,393.8 308.86,389.1 308.89,396.4"/>
<polyline points="308.89,396.4 308.91,399.1 308.93,428.5 308.95,393.4 308.98,414.5 309.00,396.5 309.02,395.0"/>
<polyline points="309.02,395.0 309.04,396.6 309.06,396.0 309.09,402.2 309.11,390.2 309.13,395.8 309.15,402.2"/>
<polyline points="309.15,402.2 309.18,397.1 309.20,405.8 309.22,405.1 309.24,396.5 309.26,395.7 309.29,422.4"/>
<polyline points="309.29,422.4 309.31,396.9 309.33,404.7 309.35,396.5 309.38,405.7 309.40,416.1 309.42,394.4"/>
<polyline points="309.42,394.4 309.44,412.7 309.46,406.0 309.49,392.0 309.51,398.2 309.53,392.9 309.55,402.2"/>
<polyline points="309.55,402.2 309.58,423.3 309.60,417.3 309.62,402.5 309.64,403.0 309.66,395.1 309.69,404.8"/>
<polyline points="309.69,404.8 309.71,445.9 309.73,397.6 309.75,388.5 309.78,382.3 309.80,392.5 309.82,391.6"/>
<polyline points="309.82,391.6 309.84,403.8 309.86,398.8 309.89,394.6 309.91,409.8 309.93,407.2 309.95,398.8"/>
<polyline points="309.95,398.8 309.98,412.3 310.00,398.7 310.02,416.5 310.04,401.9 310.06,402.4 310.09,397.2"/>
<polyline points="310.09,397.2 310.11,394.2 310.13,393.1 310.15,414.6 310.18,413.0 310.20,395.3 310.22,399.1"/>
<polyline points="310.22,399.1 310.24,397.7 310.26,389.9 310.29,408.5 310.31,397.4 310.33,385.2 310.35,408.4"/>
<polyline points="310.35,408.4 310.38,394.6 310.40,404.5 310.42,404.9 310.44,401.6 310.46,390.9 310.49,393.8"/>
<polyline points="310.49,393.8 310.51,392.1 310.53,393.1 310.55,402.2 310.58,381.5 310.60,388.3 310.62,389.3"/>
<polyline points="310.62,389.3 310.64,391.3 310.66,384.7 310.69,381.0 310.71,384.0 310.73,389.2 310.75,400.9"/>
<polyline points="310.75,400.9 310.78,395.1 310.80,435.6 310.82,392.0 310.84,382.8 310.86,404.9 310.89,395.0"/>
<polyline points="310.89,395.0 310.91,403.3 310.93,391.0 310.95,389.6 310.98,400.5 311.00,401.4 311.02,393.7"/>
<polyline points="311.02,393.7 311.04,411.7 311.06,390.5 311.09,408.9 311.11,382.2 311.13,399.2 311.15,392.2"/>
<polyline points="311.15,392.2 311.18,390.5 311.20,387.7 311.22,401.3 311.24,389.9 311.26,382.5 311.29,391.4"/>
<polyline points="311.29,391.4 311.31,385.9 311.33,392.7 311.35,388.6 311.38,410.7 311.40,394.3 311.42,394.2"/>
<polyline points="311.42,394.2 311.44,373.8 311.46,415.4 311.49,400.5 311.51,394.5 311.53,396.1 311.55,384.9"/>
<polyline points="311.55,384.9 311.58,385.9 311.60,408.5 311.62,383.4 311.64,384.3 311.66,390.6 311.69,387.7"/>
<polyline points="311.69,387.7 311.71,379.0 311.73,391.6 311.75,376.6 311.78,400.4 311.80,380.9 311.82,384.3"/>
<polyline points="311.82,384.3 311.84,389.2 311.86,407.0 311.89,392.5 311.91,390.0 311.93,377.2 311.95,385.0"/>
<polyline points="311.95,385.0 311.98,380.7 312.00,395.6 312.02,381.1 312.04,390.8 312.06,386.9 312.09,391.7"/>
<polyline points="312.09,391.7 312.11,391.5 312.13,395.2 312.15,399.8 312.18,371.5 312.20,376.3 312.22,398.0"/>
<polyline points="312.22,398.0 312.24,399.8 312.26,383.3 312.29,374.5 312.31,378.9 312.33,386.9 312.35,392.1"/>
<polyline points="312.35,392.1 312.38,378.2 312.40,400.5 312.42,382.5 312.44,386.9 312.46,387.1 312.49,384.1"/>
<polyline points="312.49,384.1 312.51,388.4 312.53,382.3 312.55,386.9 312.58,388.7 312.60,379.1 312.62,380.9"/>
<polyline points="312.62,380.9 312.64,384.6 312.66,382.6 312.69,381.6 312.71,377.0 312.73,386.8 312.75,402.6"/>
<polyline points="312.75,402.6 312.78,391.7 312.80,377.7 312.82,388.3 312.84,381.0 312.86,380.6 312.89,388.7"/>
<polyline points="312.89,388.7 312.91,384.6 312.93,381.8 312.95,379.9 312.98,383.4 313.00,375.3 313.02,373.6"/>
<polyline points="313.02,373.6 313.04,387.9 313.06,372.0 313.09,405.7 313.11,371.2 313.13,377.9 313.15,411.9"/>
<polyline points="313.15,411.9 313.18,388.1 313.20,395.6 313.22,371.3 313.24,370.3 313.26,383.7 313.29,375.7"/>
<polyline points="313.29,375.7 313.31,313.8 313.33,366.6 313.35,384.4 313.38,389.4 313.40,376.5 313.42,386.5"/>
<polyline points="313.42,386.5 313.44,382.7 313.46,376.0 313.49,388.0 313.51,387.7 313.53,382.7 313.55,383.4"/>
<polyline points="313.55,383.4 313.58,393.0 313.60,395.7 313.62,378.8 313.64,396.3 313.66,402.4 313.69,373.2"/>
<polyline points="313.69,373.2 313.71,390.1 313.73,383.9 313.75,387.1 313.78,388.1 313.80,373.6 313.82,391.4"/>
<polyline points="313.82,391.4 313.84,392.5 313.86,372.3 313.89,413.4 313.91,369.1 313.93,377.9 313.95,384.3"/>
<polyline points="313.95,384.3 313.98,378.3 314.00,374.6 314.02,397.0 314.04,399.2 314.06,370.4 314.09,395.8"/>
<polyline points="314.09,395.8 314.11,391.8 314.13,366.5 314.15,386.4 314.18,382.3 314.20,379.3 314.22,370.4"/>
<polyline points="314.22,370.4 314.24,377.3 314.26,373.4 314.29,376.1 314.31,390.7 314.33,406.1 314.35,383.7"/>
<polyline points="314.35,383.7 314.38,377.5 314.40,372.0 314.42,368.9 314.44,375.6 314.46,376.8 314.49,380.1"/>
<polyline points="314.49,380.1 314.51,386.3 314.53,394.1 314.55,397.1 314.58,368.1 314.60,373.3 314.62,373.6"/>
<polyline points="314.62,373.6 314.64,372.5 314.66,389.6 314.69,372.0 314.71,383.6 314.73,381.3 314.75,371.0"/>
<polyline points="314.75,371.0 314.78,380.8 314.80,379.1 314.82,383.5 314.84,366.3 314.86,362.9 314.89,394.3"/>
<polyline points="314.89,394.3 314.91,364.2 314.93,378.1 314.95,376.1 314.98,376.8 315.00,374.5 315.02,385.4"/>
<polyline points="315.02,385.4 315.04,381.2 315.06,379.7 315.09,371.3 315.11,370.7 315.13,374.1 315.15,383.4"/>
<polyline points="315.15,383.4 315.18,383.6 315.20,388.7 315.22,384.5 315.24,395.6 315.26,379.8 315.29,379.0"/>
<polyline points="315.29,379.0 315.31,398.2 315.33,398.0 315.35,378.8 315.38,368.7 315.40,384.1 315.42,365.0"/>
<polyline points="315.42,365.0 315.44,380.6 315.46,389.4 315.49,369.7 315.51,297.3 315.53,371.1 315.55,387.3"/>
<polyline points="315.55,387.3 315.58,398.0 315.60,371.7 315.62,395.7 315.64,383.2 315.66,388.7 315.69,388.4"/>
<polyline points="315.69,388.4 315.71,384.6 315.73,371.6 315.75,385.9 315.78,374.5 315.80,381.7 315.82,378.4"/>
<polyline points="315.82,378.4 315.84,412.8 315.86,399.3 315.89,390.8 315.91,384.0 315.93,373.4 315.95,369.3"/>
<polyline points="315.95,369.3 315.98,379.0 316.00,371.5 316.02,383.4 316.04,383.0 316.06,375.0 316.09,370.3"/>
<polyline points="316.09,370.3 316.11,376.5 316.13,380.0 316.15,387.9 316.18,394.5 316.20,374.7 316.22,374.3"/>
<polyline points="316.22,374.3 316.24,372.7 316.26,383.6 316.29,383.3 316.31,373.2 316.33,374.1 316.35,374.3"/>
<polyline points="316.35,374.3 316.38,374.2 316.40,380.5 316.42,373.2 316.44,384.1 316.46,371.6 316.49,378.0"/>
<polyline points="316.49,378.0 316.51,384.0 316.53,383.2 316.55,396.5 316.58,387.6 316.60,371.5 316.62,383.9"/>
<polyline points="316.62,383.9 316.64,383.3 316.66,382.4 316.69,383.8 316.71,407.4 316.73,412.9 316.75,380.6"/>
<polyline points="316.75,380.6 316.78,379.7 316.80,362.9 316.82,377.1 316.84,367.7 316.86,373.4 316.89,381.7"/>
<polyline points="316.89,381.7 316.91,382.0 316.93,379.8 316.95,406.0 316.98,374.5 317.00,384.1 317.02,370.3"/>
<polyline points="317.02,370.3 317.04,391.0 317.06,387.2 317.09,375.4 317.11,371.5 317.13,385.5 317.15,374.4"/>
<polyline points="317.15,374.4 317.18,364.4 317.20,389.4 317.22,375.1 317.24,369.8 317.26,396.0 317.29,370.7"/>
<polyline points="317.29,370.7 317.31,372.4 317.33,379.1 317.35,381.8 317.38,373.5 317.40,368.8 317.42,376.6"/>
<polyline points="317.42,376.6 317.44,385.6 317.46,379.1 317.49,374.1 317.51,398.5 317.53,407.2 317.55,378.5"/>
<polyline points="317.55,378.5 317.58,371.7 317.60,377.7 317.62,380.1 317.64,378.4 317.66,386.6 317.69,382.4"/>
<polyline points="317.69,382.4 317.71,369.3 317.73,373.2 317.75,396.2 317.78,377.5 317.80,386.0 317.82,361.6"/>
<polyline points="317.82,361.6 317.84,378.8 317.86,372.8 317.89,365.1 317.91,384.8 317.93,378.8 317.95,374.0"/>
<polyline points="317.95,374.0 317.98,373.8 318.00,380.2 318.02,379.2 318.04,382.0 318.06,397.0 318.09,394.2"/>
<polyline points="318.09,394.2 318.11,385.4 318.13,380.3 318.15,391.2 318.18,368.4 318.20,373.1 318.22,371.8"/>
<polyline points="318.22,371.8 318.24,381.0 318.26,369.6 318.29,375.9 318.31,392.9 318.33,386.3 318.35,388.1"/>
<polyline points="318.35,388.1 318.38,371.8 318.40,364.6 318.42,383.7 318.44,382.0 318.46,382.3 318.49,373.5"/>
<polyline points="318.49,373.5 318.51,365.2 318.53,397.7 318.55,375.2 318.58,374.4 318.60,406.9 318.62,397.1"/>
<polyline points="318.62,397.1 318.64,381.1 318.66,375.5 318.69,369.1 318.71,368.6 318.73,383.0 318.75,371.4"/>
<polyline points="318.75,371.4 318.78,371.6 318.80,377.0 318.82,379.8 318.84,380.0 318.86,380.8 318.89,392.5"/>
<polyline points="318.89,392.5 318.91,375.8 318.93,395.1 318.95,378.0 318.98,374.3 319.00,377.6 319.02,379.5"/>
<polyline points="319.02,379.5 319.04,380.0 319.06,395.4 319.09,374.9 319.11,373.0 319.13,379.4 319.15,375.9"/>
<polyline points="319.15,375.9 319.18,369.6 319.20,379.7 319.22,407.2 319.24,378.0 319.26,389.6 319.29,375.0"/>
<polyline points="319.29,375.0 319.31,377.4 319.33,375.2 319.35,389.4 319.38,393.1 319.40,381.1 319.42,372.0"/>
<polyline points="319.42,372.0 319.44,383.7 319.46,371.6 319.49,386.6 319.51,405.0 319.53,384.2 319.55,392.0"/>
<polyline points="319.55,392.0 319.58,383.9 319.60,379.3 319.62,382.8 319.64,375.6 319.66,370.6 319.69,394.2"/>
<polyline points="319.69,394.2 319.71,404.4 319.73,391.3 319.75,398.3 319.78,388.3 319.80,386.3 319.82,372.7"/>
<polyline points="319.82,372.7 319.84,376.1 319.86,378.4 319.89,385.2 319.91,368.6 319.93,376.8 319.95,402.3"/>
<polyline points="319.95,402.3 319.98,387.1 320.00,420.4 320.02,388.2 320.04,383.0 320.06,371.9 320.09,377.3"/>
<polyline points="320.09,377.3 320.11,383.3 320.13,384.9 320.15,369.4 320.18,387.1 320.20,372.4 320.22,378.3"/>
<polyline points="320.22,378.3 320.24,387.5 320.26,373.7 320.29,384.5 320.31,380.5 320.33,373.6 320.35,399.5"/>
<polyline points="320.35,399.5 320.38,371.7 320.40,375.7 320.42,398.1 320.44,381.4 320.46,374.6 320.49,372.1"/>
<polyline points="320.49,372.1 320.51,389.4 320.53,371.2 320.55,379.1 320.58,379.1 320.60,389.1 320.62,366.8"/>
<polyline points="320.62,366.8 320.64,372.5 320.66,375.5 320.69,375.7 320.71,393.9 320.73,375.9 320.75,381.2"/>
<polyline points="320.75,381.2 320.78,390.5 320.80,379.8 320.82,374.5 320.84,386.8 320.86,386.7 320.89,384.7"/>
<polyline points="320.89,384.7 320.91,373.3 320.93,374.5 320.95,395.5 320.98,379.0 321.00,374.6 321.02,382.9"/>
<polyline points="321.02,382.9 321.04,375.2 321.06,372.1 321.09,378.8 321.11,382.0 321.13,377.9 321.15,377.9"/>
<polyline points="321.15,377.9 321.18,380.0 321.20,383.8 321.22,376.4 321.24,372.7 321.26,385.3 321.29,416.3"/>
<polyline points="321.29,416.3 321.31,385.9 321.33,390.2 321.35,383.8 321.38,384.6 321.40,381.3 321.42,368.4"/>
<polyline points="321.42,368.4 321.44,386.7 321.46,378.2 321.49,372.3 321.51,376.8 321.53,390.4 321.55,382.6"/>
<polyline points="321.55,382.6 321.58,378.4 321.60,389.9 321.62,376.4 321.64,400.3 321.66,377.1 321.69,382.8"/>
<polyline points="321.69,382.8 321.71,392.6 321.73,402.7 321.75,379.1 321.78,391.9 321.80,386.7 321.82,383.7"/>
<polyline points="321.82,383.7 321.84,379.1 321.86,378.4 321.89,384.7 321.91,380.0 321.93,376.5 321.95,383.3"/>
<polyline points="321.95,383.3 321.98,400.6 322.00,377.3 322.02,381.2 322.04,384.1 322.06,399.3 322.09,394.0"/>
<polyline points="322.09,394.0 322.11,383.3 322.13,381.1 322.15,384.6 322.18,381.1 322.20,378.8 322.22,376.9"/>
<polyline points="322.22,376.9 322.24,374.3 322.26,377.4 322.29,370.2 322.31,396.8 322.33,392.9 322.35,404.7"/>
<polyline points="322.35,404.7 322.38,385.7 322.40,384.0 322.42,376.6 322.44,404.1 322.46,394.7 322.49,369.0"/>
<polyline points="322.49,369.0 322.51,391.9 322.53,411.6 322.55,380.3 322.58,381.4 322.60,390.1 322.62,374.9"/>
<polyline points="322.62,374.9 322.64,376.4 322.66,375.8 322.69,369.7 322.71,376.2 322.73,382.4 322.75,396.7"/>
<polyline points="322.75,396.7 322.78,391.4 322.80,368.1 322.82,391.5 322.84,385.5 322.86,387.8 322.89,369.2"/>
<polyline points="322.89,369.2 322.91,387.5 322.93,386.5 322.95,382.7 322.98,388.5 323.00,370.8 323.02,375.4"/>
<polyline points="323.02,375.4 323.04,374.0 323.06,409.3 323.09,380.6 323.11,386.8 323.13,384.3 323.15,382.3"/>
<polyline points="323.15,382.3 323.18,379.2 323.20,393.3 323.22,414.9 323.24,376.4 323.26,386.8 323.29,374.5"/>
<polyline points="323.29,374.5 323.31,387.3 323.33,400.0 323.35,404.4 323.38,379.8 323.40,376.6 323.42,381.3"/>
<polyline points="323.42,381.3 323.44,372.0 323.46,391.8 323.49,407.0 323.51,379.7 323.53,371.7 323.55,379.3"/>
<polyline points="323.55,379.3 323.58,382.8 323.60,376.9 323.62,388.6 323.64,377.0 323.66,407.1 323.69,391.5"/>
<polyline points="323.69,391.5 323.71,381.1 323.73,402.3 323.75,376.6 323.78,374.8 323.80,377.5 323.82,385.1"/>
<polyline points="323.82,385.1 323.84,377.2 323.86,385.7 323.89,381.6 323.91,423.4 323.93,387.3 323.95,395.4"/>
<polyline points="323.95,395.4 323.98,385.8 324.00,373.3 324.02,378.5 324.04,387.6 324.06,372.2 324.09,381.9"/>
<polyline points="324.09,381.9 324.11,381.1 324.13,384.0 324.15,381.8 324.18,383.6 324.20,376.7 324.22,382.1"/>
<polyline points="324.22,382.1 324.24,394.0 324.26,385.3 324.29,387.9 324.31,384.1 324.33,382.8 324.35,379.1"/>
<polyline points="324.35,379.1 324.38,387.1 324.40,396.8 324.42,387.9 324.44,381.8 324.46,383.5 324.49,391.7"/>
<polyline points="324.49,391.7 324.51,386.0 324.53,386.3 324.55,392.0 324.58,393.0 324.60,390.3 324.62,374.2"/>
<polyline points="324.62,374.2 324.64,377.7 324.66,383.7 324.69,384.4 324.71,386.2 324.73,390.7 324.75,394.1"/>
<polyline points="324.75,394.1 324.78,374.8 324.80,388.3 324.82,384.6 324.84,403.0 324.86,392.1 324.89,379.3"/>
<polyline points="324.89,379.3 324.91,375.5 324.93,389.8 324.95,388.0 324.98,394.0 325.00,377.5 325.02,383.9"/>
<polyline points="325.02,383.9 325.04,407.7 325.06,374.9 325.09,381.4 325.11,399.1 325.13,387.8 325.15,374.5"/>
<polyline points="325.15,374.5 325.18,390.8 325.20,393.2 325.22,380.9 325.24,412.6 325.26,372.8 325.29,385.7"/>
<polyline points="325.29,385.7 325.31,382.1 325.33,390.0 325.35,389.1 325.38,399.2 325.40,416.8 325.42,388.3"/>
<polyline points="325.42,388.3 325.44,401.9 325.46,400.3 325.49,400.2 325.51,384.1 325.53,383.5 325.55,389.9"/>
<polyline points="325.55,389.9 325.58,421.0 325.60,407.7 325.62,397.8 325.64,390.5 325.66,408.5 325.69,386.6"/>
<polyline points="325.69,386.6 325.71,392.5 325.73,400.3 325.75,393.6 325.78,411.7 325.80,384.9 325.82,386.9"/>
<polyline points="325.82,386.9 325.84,437.9 325.86,391.1 325.89,386.9 325.91,395.5 325.93,381.2 325.95,390.6"/>
<polyline points="325.95,390.6 325.98,393.4 326.00,381.8 326.02,392.7 326.04,386.5 326.06,382.5 326.09,387.0"/>
<polyline points="326.09,387.0 326.11,378.7 326.13,394.1 326.15,432.3 326.18,388.5 326.20,383.8 326.22,434.1"/>
<polyline points="326.22,434.1 326.24,379.4 326.26,376.1 326.29,379.5 326.31,384.5 326.33,384.0 326.35,399.1"/>
<polyline points="326.35,399.1 326.38,416.3 326.40,384.6 326.42,390.4 326.44,378.1 326.46,386.3 326.49,386.0"/>
<polyline points="326.49,386.0 326.51,390.9 326.53,377.8 326.55,402.4 326.58,387.2 326.60,387.6 326.62,385.4"/>
<polyline points="326.62,385.4 326.64,396.7 326.66,390.4 326.69,416.6 326.71,395.8 326.73,373.1 326.75,389.7"/>
<polyline points="326.75,389.7 326.78,382.7 326.80,421.8 326.82,380.8 326.84,399.0 326.86,398.5 326.89,404.0"/>
<polyline points="326.89,404.0 326.91,383.2 326.93,382.5 326.95,398.7 326.98,380.9 327.00,388.2 327.02,392.8"/>
<polyline points="327.02,392.8 327.04,379.6 327.06,395.6 327.09,421.6 327.11,391.9 327.13,399.9 327.15,379.9"/>
<polyline points="327.15,379.9 327.18,399.0 327.20,435.5 327.22,386.5 327.24,400.4 327.26,390.6 327.29,386.1"/>
<polyline points="327.29,386.1 327.31,423.7 327.33,385.0 327.35,387.9 327.38,394.9 327.40,403.3 327.42,394.4"/>
<polyline points="327.42,394.4 327.44,406.8 327.46,397.6 327.49,383.2 327.51,388.6 327.53,407.9 327.55,380.4"/>
<polyline points="327.55,380.4 327.58,384.3 327.60,386.6 327.62,390.6 327.64,383.4 327.66,382.8 327.69,382.1"/>
<polyline points="327.69,382.1 327.71,385.6 327.73,372.6 327.75,402.0 327.78,405.1 327.80,393.4 327.82,408.0"/>
<polyline points="327.82,408.0 327.84,399.1 327.86,388.7 327.89,391.6 327.91,384.8 327.93,406.8 327.95,417.7"/>
<polyline points="327.95,417.7 327.98,411.6 328.00,395.2 328.02,396.1 328.04,410.0 328.06,381.7 328.09,397.1"/>
<polyline points="328.09,397.1 328.11,384.1 328.13,398.5 328.15,397.0 328.18,394.1 328.20,385.3 328.22,390.5"/>
<polyline points="328.22,390.5 328.24,386.3 328.26,423.8 328.29,393.1 328.31,391.3 328.33,402.3 328.35,384.6"/>
<polyline points="328.35,384.6 328.38,390.1 328.40,387.4 328.42,386.8 328.44,389.2 328.46,405.5 328.49,391.5"/>
<polyline points="328.49,391.5 328.51,390.2 328.53,390.4 328.55,387.8 328.58,387.8 328.60,385.8 328.62,401.8"/>
<polyline points="328.62,401.8 328.64,382.6 328.66,417.8 328.69,389.9 328.71,398.8 328.73,401.0 328.75,405.3"/>
<polyline points="328.75,405.3 328.78,399.4 328.80,397.4 328.82,417.3 328.84,386.9 328.86,395.0 328.89,410.7"/>
<polyline points="328.89,410.7 328.91,390.6 328.93,399.1 328.95,391.4 328.98,395.6 329.00,392.2 329.02,396.1"/>
<polyline points="329.02,396.1 329.04,391.5 329.06,406.6 329.09,395.1 329.11,404.0 329.13,415.5 329.15,401.3"/>
<polyline points="329.15,401.3 329.18,387.9 329.20,403.4 329.22,389.3 329.24,394.2 329.26,397.6 329.29,388.8"/>
<polyline points="329.29,388.8 329.31,394.2 329.33,395.3 329.35,396.3 329.38,402.3 329.40,394.4 329.42,402.0"/>
<polyline points="329.42,402.0 329.44,406.9 329.46,415.6 329.49,398.0 329.51,429.4 329.53,419.2 329.55,393.0"/>
<polyline points="329.55,393.0 329.58,384.9 329.60,423.7 329.62,393.7 329.64,391.5 329.66,391.4 329.69,387.1"/>
<polyline points="329.69,387.1 329.71,395.7 329.73,388.6 329.75,405.3 329.78,395.3 329.80,392.5 329.82,391.3"/>
<polyline points="329.82,391.3 329.84,416.4 329.86,439.2 329.89,391.6 329.91,389.5 329.93,413.5 329.95,418.8"/>
<polyline points="329.95,418.8 329.98,391.8 330.00,322.7 330.02,405.3 330.04,392.1 330.06,405.0 330.09,420.5"/>
<polyline points="330.09,420.5 330.11,401.0 330.13,394.3 330.15,418.4 330.18,422.3 330.20,402.9 330.22,421.3"/>
<polyline points="330.22,421.3 330.24,403.0 330.26,407.0 330.29,402.8 330.31,400.9 330.33,398.6 330.35,425.4"/>
<polyline points="330.35,425.4 330.38,397.0 330.40,396.5 330.42,405.3 330.44,409.4 330.46,401.9 330.49,410.0"/>
<polyline points="330.49,410.0 330.51,408.4 330.53,395.5 330.55,393.7 330.58,394.0 330.60,389.6 330.62,404.6"/>
<polyline points="330.62,404.6 330.64,402.3 330.66,432.6 330.69,402.2 330.71,428.9 330.73,413.1 330.75,385.3"/>
<polyline points="330.75,385.3 330.78,395.7 330.80,402.4 330.82,403.0 330.84,398.6 330.86,395.2 330.89,394.7"/>
<polyline points="330.89,394.7 330.91,405.1 330.93,437.5 330.95,395.6 330.98,390.9 331.00,394.0 331.02,397.7"/>
<polyline points="331.02,397.7 331.04,399.2 331.06,404.3 331.09,415.7 331.11,390.1 331.13,406.9 331.15,396.2"/>
<polyline points="331.15,396.2 331.18,407.2 331.20,402.0 331.22,393.0 331.24,392.6 331.26,404.2 331.29,391.2"/>
<polyline points="331.29,391.2 331.31,392.3 331.33,386.5 331.35,397.6 331.38,389.8 331.40,396.0 331.42,426.2"/>
<polyline points="331.42,426.2 331.44,390.6 331.46,402.0 331.49,410.1 331.51,403.2 331.53,389.9 331.55,393.2"/>
<polyline points="331.55,393.2 331.58,397.7 331.60,396.1 331.62,406.0 331.64,398.4 331.66,397.3 331.69,396.6"/>
<polyline points="331.69,396.6 331.71,391.2 331.73,409.6 331.75,406.4 331.78,394.2 331.80,421.1 331.82,407.8"/>
<polyline points="331.82,407.8 331.84,403.6 331.86,407.8 331.89,427.6 331.91,399.2 331.93,423.3 331.95,399.3"/>
<polyline points="331.95,399.3 331.98,393.8 332.00,398.7 332.02,395.0 332.04,427.6 332.06,394.2 332.09,396.8"/>
<polyline points="332.09,396.8 332.11,397.1 332.13,397.3 332.15,392.4 332.18,423.2 332.20,419.4 332.22,385.2"/>
<polyline points="332.22,385.2 332.24,402.6 332.26,396.6 332.29,400.0 332.31,413.0 332.33,405.0 332.35,406.5"/>
<polyline points="332.35,406.5 332.38,413.1 332.40,399.1 332.42,404.3 332.44,395.3 332.46,406.4 332.49,397.5"/>
<polyline points="332.49,397.5 332.51,408.1 332.53,418.7 332.55,394.4 332.58,410.4 332.60,389.6 332.62,400.8"/>
<polyline points="332.62,400.8 332.64,407.7 332.66,406.3 332.69,394.9 332.71,393.0 332.73,408.0 332.75,406.3"/>
<polyline points="332.75,406.3 332.78,405.0 332.80,341.4 332.82,390.4 332.84,397.7 332.86,408.2 332.89,402.4"/>
<polyline points="332.89,402.4 332.91,405.9 332.93,397.3 332.95,390.3 332.98,412.9 333.00,402.3 333.02,409.3"/>
<polyline points="333.02,409.3 333.04,428.8 333.06,395.5 333.09,400.3 333.11,413.4 333.13,401.1 333.15,392.6"/>
<polyline points="333.15,392.6 333.18,404.7 333.20,408.6 333.22,410.4 333.24,397.9 333.26,409.0 333.29,430.3"/>
<polyline points="333.29,430.3 333.31,397.8 333.33,400.0 333.35,403.1 333.38,413.0 333.40,403.4 333.42,403.5"/>
<polyline points="333.42,403.5 333.44,398.7 333.46,402.3 333.49,410.1 333.51,417.9 333.53,397.8 333.55,404.1"/>
<polyline points="333.55,404.1 333.58,422.7 333.60,414.9 333.62,405.4 333.64,416.9 333.66,411.2 333.69,413.2"/>
<polyline points="333.69,413.2 333.71,401.1 333.73,403.4 333.75,386.0 333.78,411.5 333.80,394.7 333.82,399.0"/>
<polyline points="333.82,399.0 333.84,410.2 333.86,411.8 333.89,425.7 333.91,408.2 333.93,397.7 333.95,437.4"/>
<polyline points="333.95,437.4 333.98,404.9 334.00,405.6 334.02,420.9 334.04,410.4 334.06,413.7 334.09,406.6"/>
<polyline points="334.09,406.6 334.11,395.6 334.13,404.3 334.15,411.0 334.18,418.5 334.20,409.8 334.22,407.6"/>
<polyline points="334.22,407.6 334.24,410.7 334.26,404.7 334.29,410.4 334.31,411.8"/>
</g>
<line x1="292.6" y1="263.5" x2="292.6" y2="350" stroke="#2f7272" stroke-width="0.6"/>
<polyline points="292.59,330.39 292.58,330.87 292.58,331.05 292.57,331.33 292.56,331.78 292.55,332.21 292.54,332.64 292.53,333.05 292.52,333.46 292.51,333.85 292.50,334.23 292.49,334.61 292.48,334.97 292.47,335.33 292.46,335.68 292.46,335.82 292.45,336.02 292.44,336.36 292.43,336.68 292.42,337.01 292.41,337.32 292.40,337.63 292.39,337.93 292.38,338.23 292.37,338.52 292.36,338.81 292.35,339.09 292.34,339.36 292.34,339.48 292.33,339.63 292.32,339.90 292.31,340.16 292.30,340.42 292.29,340.67 292.28,340.92 292.27,341.17 292.26,341.41 292.25,341.65 292.24,341.89 292.23,342.12 292.22,342.35 292.22,342.44 292.21,342.57 292.20,342.79 292.19,343.01 292.18,343.23 292.17,343.44 292.16,343.65 292.15,343.86 292.14,344.06 292.13,344.26 292.12,344.46 292.11,344.66 292.10,344.85 292.10,344.94 292.09,345.04 292.08,345.23 292.07,345.42 292.06,345.61 292.05,345.79 292.04,345.97 292.03,346.15 292.02,346.33 292.01,346.50 292.00,346.67 291.99,346.85 291.98,347.01 291.98,347.09 291.97,347.18 291.96,347.35 291.95,347.51 291.94,347.67 291.93,347.83 291.92,347.99 291.91,348.15 291.90,348.31 291.89,348.46 291.88,348.61 291.87,348.76 291.86,348.91 291.86,348.99 291.85,349.06 291.84,349.21 291.83,349.36 291.82,349.50 291.81,349.64 291.80,349.78 291.79,349.93 291.78,350.06 291.77,350.20 291.76,350.34 291.75,350.47 291.74,350.61 291.73,350.68 291.73,350.74 291.72,350.87 291.71,351.01 291.70,351.14 291.69,351.26 291.68,351.39 291.67,351.52 291.66,351.65 291.65,351.77 291.64,351.89 291.63,352.02 291.62,352.14 291.61,352.20 291.61,352.26 291.60,352.38 291.59,352.50 291.58,352.62 291.57,352.73 291.56,352.85 291.55,352.97 291.54,353.08 291.53,353.20 291.52,353.31 291.51,353.42 291.50,353.53 291.49,353.59 291.49,353.64 291.48,353.75 291.47,353.86 291.46,353.97 291.45,354.08 291.44,354.18 291.43,354.29 291.42,354.40 291.41,354.50 291.40,354.61 291.39,354.71 291.38,354.81 291.37,354.87 291.37,354.91 291.36,355.01 291.35,355.12 291.34,355.22 291.33,355.32 291.32,355.41 291.31,355.51 291.30,355.61 291.29,355.71 291.28,355.80 291.27,355.90 291.26,355.99 291.25,356.05 291.25,356.09 291.24,356.18 291.23,356.28 291.22,356.37 291.21,356.46 291.20,356.55 291.19,356.64 291.18,356.74 291.17,356.83 291.16,356.92 291.15,357.00 291.14,357.09 291.13,357.15 291.13,357.18 291.12,357.27 291.11,357.36 291.10,357.44 291.01,358.17 290.89,359.13 290.77,360.04 290.65,360.90 290.53,361.71 290.41,362.48 290.29,363.21 290.17,363.91 290.05,364.59 289.93,365.23 289.81,365.85 289.69,366.44 289.57,367.01 289.45,367.56 289.33,368.09 289.21,368.61 289.09,369.11 288.97,369.59 288.85,370.06 288.73,370.51 288.61,370.95 288.49,371.38 288.37,371.79 288.25,372.20 288.13,372.59 288.01,372.98 287.89,373.35 287.77,373.72 287.65,374.08 287.53,374.43 287.41,374.77 287.29,375.10 287.17,375.43 287.05,375.75 286.93,376.06 286.81,376.37 286.69,376.67 286.57,376.97 286.45,377.26 286.33,377.54 286.21,377.82 286.09,378.09 285.97,378.36 285.85,378.62 285.73,378.88 285.61,379.14 285.49,379.39 285.37,379.63 285.24,379.88 285.12,380.11 285.00,380.35 284.88,380.58 284.76,380.81 284.64,381.03 284.52,381.25 284.40,381.47 284.28,381.68 284.16,381.89 284.04,382.10 283.92,382.31 283.80,382.51 283.68,382.71 283.56,382.91 283.44,383.10 283.32,383.29 283.20,383.48 283.08,383.67 282.96,383.85 282.84,384.04 282.72,384.22 282.60,384.39 282.48,384.57 282.36,384.74 282.24,384.91 282.12,385.08 282.00,385.25 281.88,385.42 281.76,385.58 281.64,385.74 281.52,385.90 281.40,386.06 281.28,386.22 281.16,386.37 281.04,386.52 280.92,386.68 280.80,386.83 280.68,386.97 280.56,387.12 280.44,387.27 280.32,387.41 280.20,387.55 280.08,387.69 279.96,387.83 279.84,387.97 279.72,388.11 279.60,388.24 279.48,388.38 279.36,388.51 279.24,388.64 279.12,388.77 279.00,388.90 278.88,389.03 278.76,389.16 278.63,389.29 278.51,389.41 278.39,389.53 278.27,389.66 278.15,389.78 278.03,389.90 277.91,390.02 277.79,390.14 277.67,390.25 277.55,390.37 277.43,390.49 277.31,390.60 277.19,390.71 277.07,390.83 276.95,390.94 276.83,391.05 276.71,391.16 276.59,391.27 276.47,391.38 276.35,391.48 276.23,391.59 276.11,391.70 275.99,391.80 275.87,391.90 275.75,392.01 275.63,392.11 275.51,392.21 275.39,392.31 275.27,392.41 275.15,392.51 275.03,392.61 274.91,392.71 274.79,392.81 274.67,392.90 274.55,393.00 274.43,393.09 274.31,393.19 274.19,393.28 274.07,393.38 273.95,393.47 273.83,393.56 273.71,393.65 273.59,393.74 273.47,393.83 273.35,393.92 273.23,394.01 273.11,394.10 272.99,394.19 272.87,394.27 272.75,394.36 272.63,394.45 272.51,394.53 272.39,394.62 272.27,394.70 272.14,394.79 272.02,394.87 271.90,394.95 271.78,395.03 271.66,395.12 271.54,395.20 271.42,395.28 271.30,395.36 271.18,395.44 271.06,395.52 270.94,395.60 270.82,395.67 270.70,395.75 270.58,395.83 270.46,395.91 270.34,395.98 270.22,396.06 270.10,396.13 269.98,396.21 269.86,396.28 269.74,396.36 269.62,396.43 269.50,396.51 269.38,396.58 269.26,396.65 269.14,396.72 269.02,396.80 268.90,396.87 268.78,396.94 268.66,397.01 268.54,397.08 268.42,397.15 268.30,397.22 268.18,397.29 268.06,397.36 267.94,397.42 267.82,397.49 267.70,397.56 267.58,397.63 267.46,397.69 267.34,397.76 267.22,397.83 267.10,397.89 266.98,397.96 266.86,398.02 266.74,398.09 266.62,398.15 266.50,398.22 266.38,398.28 266.26,398.34 266.14,398.41 266.02,398.47 265.90,398.53 265.78,398.59 265.66,398.65 265.53,398.72 265.41,398.78 265.29,398.84 265.17,398.90 265.05,398.96 264.93,399.02 264.81,399.08 264.69,399.14 264.57,399.20 264.45,399.26 264.33,399.31 264.21,399.37 264.09,399.43 263.97,399.49 263.85,399.55 263.73,399.60 263.61,399.66 263.49,399.72 263.37,399.77 263.25,399.83 263.13,399.89 263.01,399.94 262.89,400.00 262.77,400.05 262.65,400.11 262.53,400.16 262.41,400.21 262.29,400.27 262.17,400.32 262.05,400.38 261.93,400.43 261.81,400.48 261.69,400.54 261.57,400.59 261.45,400.64 261.33,400.69 261.21,400.74 261.09,400.80 260.97,400.85 260.85,400.90 260.73,400.95 260.61,401.00 260.49,401.05 260.37,401.10 260.25,401.15 260.13,401.20 260.01,401.25 259.89,401.30 259.77,401.35 259.65,401.40 259.53,401.45 259.41,401.50 259.29,401.55 259.17,401.59 259.04,401.64 258.92,401.69 258.80,401.74 258.68,401.78 258.56,401.83 258.44,401.88 258.32,401.93 258.20,401.97 258.08,402.02 257.96,402.07 257.84,402.11 257.72,402.16 257.60,402.20 257.48,402.25 257.36,402.29 257.24,402.34 257.12,402.38 257.00,402.43 256.88,402.47 256.76,402.52 256.64,402.56 256.52,402.61 256.40,402.65 256.28,402.69 256.16,402.74 256.04,402.78 255.92,402.82 255.80,402.87 255.68,402.91 255.56,402.95 255.44,403.00 255.32,403.04 255.20,403.08 255.08,403.12 254.96,403.16 254.84,403.21 254.72,403.25 254.60,403.29 254.48,403.33 254.36,403.37 254.24,403.41 254.12,403.45 254.00,403.49 253.88,403.54 253.76,403.58 253.64,403.62 253.52,403.66 253.40,403.70 253.28,403.74 253.16,403.78 253.04,403.82 252.92,403.85 252.80,403.89 252.68,403.93 252.56,403.97 252.43,404.01 252.31,404.05 252.19,404.09 252.07,404.13 251.95,404.16 251.83,404.20 251.71,404.24 251.59,404.28 251.47,404.32 251.35,404.35 251.23,404.39 251.11,404.43 250.99,404.47 250.87,404.50 250.75,404.54 250.63,404.58 250.51,404.61 250.39,404.65 250.27,404.69 250.15,404.72 250.03,404.76 249.91,404.79 249.79,404.83 249.67,404.87 249.55,404.90 249.43,404.94 249.31,404.97 249.19,405.01 249.07,405.04 248.95,405.08 248.83,405.11 248.71,405.15 248.59,405.18 248.47,405.22 248.35,405.25 248.23,405.29 248.11,405.32 247.99,405.35 247.87,405.39 247.75,405.42 247.63,405.45 247.51,405.49 247.39,405.52 247.27,405.56 247.15,405.59 247.03,405.62 246.91,405.66 246.79,405.69 246.67,405.72 246.55,405.75 246.43,405.79 246.31,405.82 246.19,405.85 246.07,405.88 245.94,405.92 245.82,405.95 245.70,405.98 245.58,406.01 245.46,406.04 245.34,406.08 245.22,406.11 245.10,406.14 244.98,406.17 244.86,406.20 244.74,406.23 244.62,406.26 244.50,406.29 244.38,406.33 244.26,406.36 244.14,406.39 244.02,406.42 243.90,406.45 243.78,406.48 243.66,406.51 243.54,406.54 243.42,406.57 243.30,406.60 243.18,406.63 243.06,406.66 242.94,406.69 242.82,406.72 242.70,406.75 242.58,406.78 242.46,406.81 242.34,406.84 242.22,406.87 242.10,406.89 241.98,406.92 241.86,406.95 241.74,406.98 241.62,407.01 241.50,407.04 241.38,407.07 241.26,407.10 241.14,407.12 241.02,407.15 240.90,407.18 240.78,407.21 240.66,407.24 240.54,407.27 240.42,407.29 240.30,407.32 240.18,407.35 240.06,407.38 239.94,407.40 239.82,407.43 239.70,407.46 239.58,407.49 239.46,407.51 239.33,407.54 239.21,407.57 239.09,407.60 238.97,407.62 238.85,407.65 238.73,407.68 238.61,407.70 238.49,407.73 238.37,407.76 238.25,407.78 238.13,407.81 238.01,407.84 237.89,407.86 237.77,407.89 237.65,407.91 237.53,407.94 237.41,407.97 237.29,407.99 237.17,408.02 237.05,408.04 236.93,408.07 236.81,408.09 236.69,408.12 236.57,408.15 236.45,408.17 236.33,408.20 236.21,408.22 236.09,408.25 235.97,408.27 235.85,408.30 235.73,408.32 235.61,408.35 235.49,408.37 235.37,408.40 235.25,408.42 235.13,408.44 235.01,408.47 234.89,408.49 234.77,408.52 234.65,408.54 234.53,408.57 234.41,408.59 234.29,408.62 234.17,408.64 234.05,408.66 233.93,408.69 233.81,408.71 233.69,408.73 233.57,408.76 233.45,408.78 233.33,408.81 233.21,408.83 233.09,408.85 232.97,408.88 232.84,408.90 232.72,408.92 232.60,408.95 232.48,408.97 232.36,408.99 232.24,409.01 232.12,409.04 232.00,409.06 231.88,409.08 231.76,409.11 231.64,409.13 231.52,409.15 231.40,409.17 231.28,409.20 231.16,409.22 231.04,409.24 230.92,409.26 230.80,409.29 230.68,409.31 230.56,409.33 230.44,409.35 230.32,409.37 230.20,409.40 230.08,409.42 229.96,409.44 229.84,409.46 229.72,409.48 229.60,409.51 229.48,409.53 229.36,409.55 229.24,409.57 229.12,409.59 229.00,409.61 228.88,409.63 228.76,409.66 228.64,409.68 228.52,409.70 228.40,409.72 228.28,409.74 228.16,409.76 228.04,409.78 227.92,409.80 227.80,409.82 227.68,409.85 227.56,409.87 227.44,409.89 227.32,409.91 227.20,409.93 227.08,409.95 226.96,409.97 226.84,409.99 226.72,410.01 226.60,410.03 226.48,410.05 226.36,410.07 226.23,410.09 226.11,410.11 225.99,410.13 225.87,410.15 225.75,410.17 225.63,410.19 225.51,410.21 225.39,410.23 225.27,410.25 225.15,410.27 225.03,410.29 224.91,410.31 224.79,410.33 224.67,410.35 224.55,410.37 224.43,410.39 224.31,410.41 224.19,410.43 224.07,410.45 223.95,410.47 223.83,410.48 223.71,410.50 223.59,410.52 223.47,410.54 223.35,410.56 223.23,410.58 223.11,410.60 222.99,410.62 222.87,410.64 222.75,410.65 222.63,410.67 222.51,410.69 222.39,410.71 222.27,410.73 222.15,410.75 222.03,410.77 221.91,410.78 221.79,410.80 221.67,410.82 221.55,410.84 221.43,410.86 221.31,410.88 221.19,410.89 221.07,410.91 220.95,410.93 220.83,410.95 220.71,410.97 220.59,410.98 220.47,411.00 220.35,411.02 220.23,411.04 220.11,411.06 219.99,411.07 219.87,411.09 219.74,411.11 219.62,411.13 219.50,411.14 219.38,411.16 219.26,411.18 219.14,411.20 219.02,411.21 218.90,411.23 218.78,411.25 218.66,411.27 218.54,411.28 218.42,411.30 218.30,411.32 218.18,411.34 218.06,411.35 217.94,411.37 217.82,411.39 217.70,411.40 217.58,411.42 217.46,411.44 217.34,411.45 217.22,411.47 217.10,411.49 216.98,411.50 216.86,411.52 216.74,411.54 216.62,411.55 216.50,411.57 216.38,411.59 216.26,411.60 216.14,411.62 216.02,411.64 215.90,411.65 215.78,411.67 215.66,411.69 215.54,411.70 215.42,411.72 215.30,411.73 215.18,411.75 215.06,411.77 214.94,411.78 214.82,411.80 214.70,411.81 214.58,411.83 214.46,411.85 214.34,411.86 214.22,411.88 214.10,411.89 213.98,411.91 213.86,411.93 213.74,411.94 213.62,411.96 213.50,411.97 213.38,411.99 213.26,412.00 213.13,412.02 213.01,412.03 212.89,412.05 212.77,412.07 212.65,412.08 212.53,412.10 212.41,412.11 212.29,412.13 212.17,412.14 212.05,412.16 211.93,412.17 211.81,412.19 211.69,412.20 211.57,412.22 211.45,412.23 211.33,412.25 211.21,412.26 211.09,412.28 210.97,412.29 210.85,412.31 210.73,412.32 210.61,412.34 210.49,412.35 210.37,412.37 210.25,412.38 210.13,412.40 210.01,412.41 209.89,412.43 209.77,412.44 209.65,412.45 209.53,412.47 209.41,412.48 209.29,412.50 209.17,412.51 209.05,412.53 208.93,412.54 208.81,412.56 208.69,412.57 208.57,412.58 208.45,412.60 208.33,412.61 208.21,412.63 208.09,412.64 207.97,412.65 207.85,412.67 207.73,412.68 207.61,412.70 207.49,412.71 207.37,412.72 207.25,412.74 207.13,412.75 207.01,412.77 206.89,412.78 206.77,412.79 206.64,412.81 206.52,412.82 206.40,412.84 206.28,412.85 206.16,412.86 206.04,412.88 205.92,412.89 205.80,412.90 205.68,412.92 205.56,412.93 205.44,412.94 205.32,412.96 205.20,412.97 205.08,412.98 204.96,413.00 204.84,413.01 204.72,413.02 204.60,413.04 204.48,413.05 204.36,413.06 204.24,413.08 204.12,413.09 204.00,413.10 203.88,413.12 203.76,413.13 203.64,413.14 203.52,413.16 203.40,413.17 203.28,413.18 203.16,413.19 203.04,413.21 202.92,413.22 202.80,413.23 202.68,413.25 202.56,413.26 202.44,413.27 202.32,413.28 202.20,413.30 202.08,413.31 201.96,413.32 201.84,413.33 201.72,413.35 201.60,413.36 201.48,413.37 201.36,413.38 201.24,413.40 201.12,413.41 201.00,413.42 200.88,413.43 200.76,413.45 200.64,413.46 200.52,413.47 200.40,413.48 200.28,413.50 200.16,413.51 200.03,413.52 199.91,413.53 199.79,413.55 199.67,413.56 199.55,413.57 199.43,413.58 199.31,413.59 199.19,413.61 199.07,413.62 198.95,413.63 198.83,413.64 198.71,413.65 198.59,413.67 198.47,413.68 198.35,413.69 198.23,413.70 198.11,413.71 197.99,413.72 197.87,413.74 197.75,413.75 197.63,413.76 197.51,413.77 197.39,413.78 197.27,413.80 197.15,413.81 197.03,413.82 196.91,413.83 196.79,413.84 196.67,413.85 196.55,413.86 196.43,413.88 196.31,413.89 196.19,413.90 196.07,413.91 195.95,413.92 195.83,413.93 195.71,413.94 195.59,413.96 195.47,413.97 195.35,413.98 195.23,413.99 195.11,414.00 194.99,414.01 194.87,414.02 194.75,414.03 194.63,414.05 194.51,414.06 194.39,414.07 194.27,414.08 194.15,414.09 194.03,414.10 193.91,414.11 193.79,414.12 193.67,414.13 193.54,414.15 193.42,414.16 193.30,414.17 193.18,414.18 193.06,414.19 192.94,414.20 192.82,414.21 192.70,414.22 192.58,414.23 192.46,414.24 192.34,414.25 192.22,414.26 192.10,414.27 191.98,414.29 191.86,414.30 191.74,414.31 191.62,414.32 191.50,414.33 191.38,414.34 191.26,414.35 191.14,414.36 191.02,414.37 190.90,414.38 190.78,414.39 190.66,414.40 190.54,414.41 190.42,414.42 190.30,414.43" fill="none" stroke="#d9622b" stroke-width="1.5" stroke-dasharray="6.3 6.5" stroke-dashoffset="3"/>
<polyline points="292.60,329.90 292.61,329.39 292.62,328.87 292.63,328.33 292.64,327.77 292.65,327.19 292.66,326.58 292.67,325.96 292.68,325.30 292.69,324.62 292.70,324.18 292.70,323.91 292.71,323.17 292.72,322.38 292.73,321.56 292.74,320.69 292.75,319.77 292.76,318.80 292.77,317.76 292.78,316.65 292.79,315.45 292.80,314.15 292.81,312.74 292.82,311.75 292.82,311.19 292.83,309.48 292.84,307.55 292.85,305.36 292.86,302.81 292.87,299.78 292.88,296.03 292.89,291.10 292.90,283.94 292.91,270.85 292.92,261.50 292.93,279.31 292.94,285.84 292.94,288.29 292.95,294.01 292.96,298.22 292.97,301.54 292.98,304.28 292.99,306.62 293.00,308.66 293.01,310.46 293.02,312.08 293.03,313.55 293.04,314.90 293.05,316.14 293.06,316.94 293.06,317.29 293.07,318.36 293.08,319.36 293.09,320.31 293.10,321.20 293.11,322.04 293.12,322.85 293.13,323.61 293.14,324.34 293.15,325.03 293.16,325.70 293.17,326.34 293.18,326.78 293.18,326.95 293.19,327.55 293.20,328.12 293.21,328.67 293.22,329.20 293.23,329.72 293.24,330.21 293.25,330.70 293.26,331.17 293.27,331.62 293.28,332.07 293.29,332.50 293.30,332.80 293.30,332.92 293.31,333.33 293.32,333.73 293.33,334.11 293.34,334.49 293.35,334.86 293.36,335.23 293.37,335.58 293.38,335.93 293.39,336.27 293.40,336.60 293.41,336.92 293.42,337.16 293.42,337.24 293.43,337.56 293.44,337.86 293.45,338.16 293.46,338.46 293.47,338.75 293.48,339.03 293.49,339.31 293.50,339.59 293.51,339.86 293.52,340.12 293.53,340.38 293.54,340.58 293.54,340.64 293.55,340.89 293.56,341.14 293.57,341.39 293.58,341.63 293.59,341.87 293.60,342.10 293.61,342.33 293.62,342.56 293.63,342.78 293.64,343.00 293.65,343.22 293.66,343.39 293.66,343.44 293.67,343.65 293.68,343.86 293.69,344.07 293.70,344.27 293.71,344.47 293.72,344.67 293.73,344.87 293.74,345.06 293.75,345.25 293.76,345.44 293.77,345.63 293.78,345.78 293.78,345.82 293.79,346.00 293.80,346.18 293.81,346.36 293.82,346.54 293.83,346.71 293.84,346.88 293.85,347.06 293.86,347.23 293.87,347.39 293.88,347.56 293.89,347.72 293.90,347.86 293.90,347.89 293.91,348.05 293.92,348.21 293.93,348.36 293.94,348.52 293.95,348.67 293.96,348.83 293.97,348.98 293.98,349.13 293.99,349.28 294.00,349.43 294.01,349.57 294.02,349.69 294.02,349.72 294.03,349.86 294.04,350.00 294.05,350.14 294.06,350.28 294.07,350.42 294.08,350.56 294.09,350.70 294.10,350.83 294.14,351.34 294.26,352.84 294.38,354.20 294.50,355.46 294.62,356.63 294.74,357.71 294.86,358.73 294.98,359.69 295.10,360.60 295.22,361.45 295.34,362.26 295.46,363.04 295.58,363.78 295.70,364.48 295.82,365.16 295.94,365.81 296.06,366.43 296.18,367.04 296.30,367.62 296.42,368.18 296.54,368.72 296.66,369.24 296.78,369.75 296.90,370.24 297.02,370.72 297.14,371.18 297.26,371.63 297.38,372.07 297.50,372.50 297.62,372.92 297.74,373.33 297.86,373.72 297.98,374.11 298.10,374.49 298.22,374.86 298.34,375.22 298.47,375.57 298.59,375.92 298.71,376.26 298.83,376.59 298.95,376.92 299.07,377.24 299.19,377.55 299.31,377.86 299.43,378.16 299.55,378.46 299.67,378.75 299.79,379.04 299.91,379.32 300.03,379.60 300.15,379.87 300.27,380.14 300.39,380.40 300.51,380.66 300.63,380.92 300.75,381.17 300.87,381.42 300.99,381.66 301.11,381.91 301.23,382.14 301.35,382.38 301.47,382.61 301.59,382.84 301.71,383.06 301.83,383.29 301.95,383.50 302.07,383.72 302.19,383.93 302.31,384.15 302.43,384.35 302.55,384.56 302.67,384.76 302.79,384.96 302.91,385.16 303.03,385.36 303.15,385.55 303.27,385.75 303.39,385.94 303.51,386.12 303.63,386.31 303.75,386.49 303.87,386.68 303.99,386.86 304.11,387.03 304.23,387.21 304.35,387.38 304.47,387.56 304.59,387.73 304.71,387.90 304.83,388.06 304.96,388.23 305.08,388.39 305.20,388.56 305.32,388.72 305.44,388.88 305.56,389.04 305.68,389.19 305.80,389.35 305.92,389.50 306.04,389.66 306.16,389.81 306.28,389.96 306.40,390.11 306.52,390.25 306.64,390.40 306.76,390.55 306.88,390.69 307.00,390.83 307.12,390.97 307.24,391.11 307.36,391.25 307.48,391.39 307.60,391.53 307.72,391.67 307.84,391.80 307.96,391.93 308.08,392.07 308.20,392.20 308.32,392.33 308.44,392.46 308.56,392.59 308.68,392.72 308.80,392.85 308.92,392.97 309.04,393.10 309.16,393.22 309.28,393.34 309.40,393.47 309.52,393.59 309.64,393.71 309.76,393.83 309.88,393.95 310.00,394.07 310.12,394.19 310.24,394.30 310.36,394.42 310.48,394.54 310.60,394.65 310.72,394.77 310.84,394.88 310.96,394.99 311.08,395.10 311.20,395.21 311.32,395.32 311.44,395.43 311.57,395.54 311.69,395.65 311.81,395.76 311.93,395.87 312.05,395.97 312.17,396.08 312.29,396.19 312.41,396.29 312.53,396.39 312.65,396.50 312.77,396.60 312.89,396.70 313.01,396.81 313.13,396.91 313.25,397.01 313.37,397.11 313.49,397.21 313.61,397.31 313.73,397.40 313.85,397.50 313.97,397.60 314.09,397.70 314.21,397.79 314.33,397.89 314.45,397.98 314.57,398.08 314.69,398.17 314.81,398.27 314.93,398.36 315.05,398.45 315.17,398.55 315.29,398.64 315.41,398.73 315.53,398.82 315.65,398.91 315.77,399.00 315.89,399.09 316.01,399.18 316.13,399.27 316.25,399.36 316.37,399.44 316.49,399.53 316.61,399.62 316.73,399.71 316.85,399.79 316.97,399.88 317.09,399.96 317.21,400.05 317.33,400.13 317.45,400.22 317.57,400.30 317.69,400.38 317.81,400.47 317.93,400.55 318.06,400.63 318.18,400.72 318.30,400.80 318.42,400.88 318.54,400.96 318.66,401.04 318.78,401.12 318.90,401.20 319.02,401.28 319.14,401.36 319.26,401.44 319.38,401.52 319.50,401.59 319.62,401.67 319.74,401.75 319.86,401.83 319.98,401.90 320.10,401.98 320.22,402.06 320.34,402.13 320.46,402.21 320.58,402.28 320.70,402.36 320.82,402.43 320.94,402.51 321.06,402.58 321.18,402.66 321.30,402.73 321.42,402.80 321.54,402.88 321.66,402.95 321.78,403.02 321.90,403.09 322.02,403.16 322.14,403.24 322.26,403.31 322.38,403.38 322.50,403.45 322.62,403.52 322.74,403.59 322.86,403.66 322.98,403.73 323.10,403.80 323.22,403.87 323.34,403.94 323.46,404.01 323.58,404.07 323.70,404.14 323.82,404.21 323.94,404.28 324.06,404.35 324.18,404.41 324.30,404.48 324.42,404.55 324.54,404.61 324.67,404.68 324.79,404.74 324.91,404.81 325.03,404.88 325.15,404.94 325.27,405.01 325.39,405.07 325.51,405.14 325.63,405.20 325.75,405.26 325.87,405.33 325.99,405.39 326.11,405.46 326.23,405.52 326.35,405.58 326.47,405.64 326.59,405.71 326.71,405.77 326.83,405.83 326.95,405.89 327.07,405.96 327.19,406.02 327.31,406.08 327.43,406.14 327.55,406.20 327.67,406.26 327.79,406.32 327.91,406.38 328.03,406.44 328.15,406.50 328.27,406.56 328.39,406.62 328.51,406.68 328.63,406.74 328.75,406.80 328.87,406.86 328.99,406.92 329.11,406.98 329.23,407.04 329.35,407.09 329.47,407.15 329.59,407.21 329.71,407.27 329.83,407.33 329.95,407.38 330.07,407.44 330.19,407.50 330.31,407.55 330.43,407.61 330.55,407.67 330.67,407.72 330.79,407.78 330.91,407.83 331.03,407.89 331.16,407.95 331.28,408.00 331.40,408.06 331.52,408.11 331.64,408.17 331.76,408.22 331.88,408.28 332.00,408.33 332.12,408.39 332.24,408.44 332.36,408.49 332.48,408.55 332.60,408.60 332.72,408.65 332.84,408.71 332.96,408.76 333.08,408.81 333.20,408.87 333.32,408.92 333.44,408.97 333.56,409.03 333.68,409.08 333.80,409.13 333.92,409.18 334.04,409.23 334.16,409.29 334.28,409.34 334.40,409.39" fill="none" stroke="#d9622b" stroke-width="1.5" stroke-dasharray="6.3 6.5" stroke-dashoffset="3"/>
</g></svg>
<rect x="193.3" y="274.3" width="95.2" height="19.6" fill="#fff" stroke="#2b2b2b" stroke-width="1"/>
<line x1="195.4" y1="284.4" x2="201.4" y2="284.4" stroke="#d9622b" stroke-width="1.5"/>
<line x1="208.1" y1="284.4" x2="214.4" y2="284.4" stroke="#d9622b" stroke-width="1.5"/>
<text x="214.9" y="288.5" font-size="12" text-anchor="start">Lorentzian fit</text>
<rect x="53.2" y="263.5" width="281.2" height="211.3" fill="none" stroke="#2b2b2b" stroke-width="1.3"/>
<path d="M65 474.8v-3.2M65 263.5v3.2M144.47 474.8v-1.8M144.47 263.5v1.8M190.96 474.8v-1.8M190.96 263.5v1.8M223.94 474.8v-1.8M223.94 263.5v1.8M249.53 474.8v-1.8M249.53 263.5v1.8M270.43 474.8v-1.8M270.43 263.5v1.8M288.11 474.8v-1.8M288.11 263.5v1.8M303.42 474.8v-1.8M303.42 263.5v1.8M316.92 474.8v-1.8M316.92 263.5v1.8M329 474.8v-3.2M329 263.5v3.2M53.2 459.4h3.2M334.4 459.4h-3.2M53.2 441.17h1.8M334.4 441.17h-1.8M53.2 422.94h1.8M334.4 422.94h-1.8M53.2 404.71h1.8M334.4 404.71h-1.8M53.2 386.48h1.8M334.4 386.48h-1.8M53.2 368.25h3.2M334.4 368.25h-3.2M53.2 350.02h1.8M334.4 350.02h-1.8M53.2 331.79h1.8M334.4 331.79h-1.8M53.2 313.56h1.8M334.4 313.56h-1.8M53.2 295.33h1.8M334.4 295.33h-1.8M53.2 277.1h3.2M334.4 277.1h-3.2" stroke="#2b2b2b" stroke-width="1" fill="none"/>
<text x="64.7" y="496.4" font-size="12" text-anchor="middle">10<tspan font-size="10" dy="-6.5">0</tspan></text>
<text x="325.5" y="496.4" font-size="12" text-anchor="middle">10<tspan font-size="10" dy="-6.5">1</tspan></text>
<text x="51" y="284.7" font-size="12" text-anchor="end">10<tspan font-size="10" dy="-6.5">-15</tspan></text>
<text x="51" y="375.85" font-size="12" text-anchor="end">10<tspan font-size="10" dy="-6.5">-20</tspan></text>
<text x="51" y="467" font-size="12" text-anchor="end">10<tspan font-size="10" dy="-6.5">-25</tspan></text>
<text x="190.6" y="509.6" font-size="14" text-anchor="middle">Frequency (Hz)</text>
<text transform="translate(15.6,368.5) rotate(-90)" font-size="14" text-anchor="middle">PSD (m<tspan font-size="10.5" dy="-5.5">2</tspan><tspan dy="5.5"> / Hz)</tspan></text>
<text x="12.3" y="266.8" font-size="16" text-anchor="start" font-weight="bold">(c)</text>
<path d="M391.7 474.3v-3.2M391.7 263v3.2M412.96 474.3v-1.8M412.96 263v1.8M425.4 474.3v-1.8M425.4 263v1.8M434.22 474.3v-1.8M434.22 263v1.8M441.07 474.3v-1.8M441.07 263v1.8M446.66 474.3v-1.8M446.66 263v1.8M451.39 474.3v-1.8M451.39 263v1.8M455.49 474.3v-1.8M455.49 263v1.8M459.1 474.3v-1.8M459.1 263v1.8M462.33 474.3v-3.2M462.33 263v3.2M483.59 474.3v-1.8M483.59 263v1.8M496.03 474.3v-1.8M496.03 263v1.8M504.85 474.3v-1.8M504.85 263v1.8M511.7 474.3v-1.8M511.7 263v1.8M517.29 474.3v-1.8M517.29 263v1.8M522.02 474.3v-1.8M522.02 263v1.8M526.12 474.3v-1.8M526.12 263v1.8M529.73 474.3v-1.8M529.73 263v1.8M532.96 474.3v-3.2M532.96 263v3.2M554.22 474.3v-1.8M554.22 263v1.8M566.66 474.3v-1.8M566.66 263v1.8M575.48 474.3v-1.8M575.48 263v1.8M582.33 474.3v-1.8M582.33 263v1.8M587.92 474.3v-1.8M587.92 263v1.8M592.65 474.3v-1.8M592.65 263v1.8M596.75 474.3v-1.8M596.75 263v1.8M600.36 474.3v-1.8M600.36 263v1.8M603.59 474.3v-3.2M603.59 263v3.2M624.85 474.3v-1.8M624.85 263v1.8M637.29 474.3v-1.8M637.29 263v1.8M646.11 474.3v-1.8M646.11 263v1.8M652.96 474.3v-1.8M652.96 263v1.8M658.55 474.3v-1.8M658.55 263v1.8M663.28 474.3v-1.8M663.28 263v1.8M667.38 474.3v-1.8M667.38 263v1.8M670.99 474.3v-1.8M670.99 263v1.8M674.22 474.3v-3.2M674.22 263v3.2M391.7 473.7h3.2M674.2 473.7h-3.2M391.7 448.14h1.8M674.2 448.14h-1.8M391.7 433.19h1.8M674.2 433.19h-1.8M391.7 422.59h1.8M674.2 422.59h-1.8M391.7 414.36h1.8M674.2 414.36h-1.8M391.7 407.63h1.8M674.2 407.63h-1.8M391.7 401.95h1.8M674.2 401.95h-1.8M391.7 397.03h1.8M674.2 397.03h-1.8M391.7 392.68h1.8M674.2 392.68h-1.8M391.7 388.8h3.2M674.2 388.8h-3.2M391.7 363.24h1.8M674.2 363.24h-1.8M391.7 348.29h1.8M674.2 348.29h-1.8M391.7 337.69h1.8M674.2 337.69h-1.8M391.7 329.46h1.8M674.2 329.46h-1.8M391.7 322.73h1.8M674.2 322.73h-1.8M391.7 317.05h1.8M674.2 317.05h-1.8M391.7 312.13h1.8M674.2 312.13h-1.8M391.7 307.78h1.8M674.2 307.78h-1.8M391.7 303.9h3.2M674.2 303.9h-3.2M391.7 278.34h1.8M674.2 278.34h-1.8M391.7 263.39h1.8M674.2 263.39h-1.8" stroke="#2b2b2b" stroke-width="1" fill="none"/>
<rect x="391.7" y="263.0" width="282.5" height="211.3" fill="none" stroke="#2b2b2b" stroke-width="1.3"/>
<polyline points="391.7,262.8 397.47,312.9 403.23,319.9 409,278.8 414.76,269.2 420.53,310.9 426.29,299.2 432.06,303 437.82,311.4 443.59,371.5 449.35,344.7 455.12,348.6 460.88,360 466.65,334 472.41,393.9 478.18,362.3 483.94,382.2 489.71,385.5 495.48,364.2 501.24,418.3 507.01,386.8 512.77,406.8 518.54,398.1 524.3,431.2 530.07,403.3 535.83,428.6 541.6,425.7 547.36,430 553.13,435.1 558.89,436 564.66,433.5 570.42,434.3 576.19,434.3 581.96,433.2 587.72,431.1 593.49,428.5 599.25,427 605.02,423.7 610.78,420.1 616.55,417.3 622.31,413.9 628.08,409.5 633.84,407.1 639.61,401.9 645.37,399.1 651.14,395.4 656.9,390 662.67,386.3 668.43,382.7 674.2,379.6" fill="none" stroke="#bb5a2a" stroke-width="0.9"/>
<circle cx="391.7" cy="262.8" r="2.0" fill="none" stroke="#bb5a2a" stroke-width="1.1"/>
<circle cx="397.47" cy="312.9" r="2.0" fill="none" stroke="#bb5a2a" stroke-width="1.1"/>
<circle cx="403.23" cy="319.9" r="2.0" fill="none" stroke="#bb5a2a" stroke-width="1.1"/>
<circle cx="409" cy="278.8" r="2.0" fill="none" stroke="#bb5a2a" stroke-width="1.1"/>
<circle cx="414.76" cy="269.2" r="2.0" fill="none" stroke="#bb5a2a" stroke-width="1.1"/>
<circle cx="420.53" cy="310.9" r="2.0" fill="none" stroke="#bb5a2a" stroke-width="1.1"/>
<circle cx="426.29" cy="299.2" r="2.0" fill="none" stroke="#bb5a2a" stroke-width="1.1"/>
<circle cx="432.06" cy="303" r="2.0" fill="none" stroke="#bb5a2a" stroke-width="1.1"/>
<circle cx="437.82" cy="311.4" r="2.0" fill="none" stroke="#bb5a2a" stroke-width="1.1"/>
<circle cx="443.59" cy="371.5" r="2.0" fill="none" stroke="#bb5a2a" stroke-width="1.1"/>
<circle cx="449.35" cy="344.7" r="2.0" fill="none" stroke="#bb5a2a" stroke-width="1.1"/>
<circle cx="455.12" cy="348.6" r="2.0" fill="none" stroke="#bb5a2a" stroke-width="1.1"/>
<circle cx="460.88" cy="360" r="2.0" fill="none" stroke="#bb5a2a" stroke-width="1.1"/>
<circle cx="466.65" cy="334" r="2.0" fill="none" stroke="#bb5a2a" stroke-width="1.1"/>
<circle cx="472.41" cy="393.9" r="2.0" fill="none" stroke="#bb5a2a" stroke-width="1.1"/>
<circle cx="478.18" cy="362.3" r="2.0" fill="none" stroke="#bb5a2a" stroke-width="1.1"/>
<circle cx="483.94" cy="382.2" r="2.0" fill="none" stroke="#bb5a2a" stroke-width="1.1"/>
<circle cx="489.71" cy="385.5" r="2.0" fill="none" stroke="#bb5a2a" stroke-width="1.1"/>
<circle cx="495.48" cy="364.2" r="2.0" fill="none" stroke="#bb5a2a" stroke-width="1.1"/>
<circle cx="501.24" cy="418.3" r="2.0" fill="none" stroke="#bb5a2a" stroke-width="1.1"/>
<circle cx="507.01" cy="386.8" r="2.0" fill="none" stroke="#bb5a2a" stroke-width="1.1"/>
<circle cx="512.77" cy="406.8" r="2.0" fill="none" stroke="#bb5a2a" stroke-width="1.1"/>
<circle cx="518.54" cy="398.1" r="2.0" fill="none" stroke="#bb5a2a" stroke-width="1.1"/>
<circle cx="524.3" cy="431.2" r="2.0" fill="none" stroke="#bb5a2a" stroke-width="1.1"/>
<circle cx="530.07" cy="403.3" r="2.0" fill="none" stroke="#bb5a2a" stroke-width="1.1"/>
<circle cx="535.83" cy="428.6" r="2.0" fill="none" stroke="#bb5a2a" stroke-width="1.1"/>
<circle cx="541.6" cy="425.7" r="2.0" fill="none" stroke="#bb5a2a" stroke-width="1.1"/>
<circle cx="547.36" cy="430" r="2.0" fill="none" stroke="#bb5a2a" stroke-width="1.1"/>
<circle cx="553.13" cy="435.1" r="2.0" fill="none" stroke="#bb5a2a" stroke-width="1.1"/>
<circle cx="558.89" cy="436" r="2.0" fill="none" stroke="#bb5a2a" stroke-width="1.1"/>
<circle cx="564.66" cy="433.5" r="2.0" fill="none" stroke="#bb5a2a" stroke-width="1.1"/>
<circle cx="570.42" cy="434.3" r="2.0" fill="none" stroke="#bb5a2a" stroke-width="1.1"/>
<circle cx="576.19" cy="434.3" r="2.0" fill="none" stroke="#bb5a2a" stroke-width="1.1"/>
<circle cx="581.96" cy="433.2" r="2.0" fill="none" stroke="#bb5a2a" stroke-width="1.1"/>
<circle cx="587.72" cy="431.1" r="2.0" fill="none" stroke="#bb5a2a" stroke-width="1.1"/>
<circle cx="593.49" cy="428.5" r="2.0" fill="none" stroke="#bb5a2a" stroke-width="1.1"/>
<circle cx="599.25" cy="427" r="2.0" fill="none" stroke="#bb5a2a" stroke-width="1.1"/>
<circle cx="605.02" cy="423.7" r="2.0" fill="none" stroke="#bb5a2a" stroke-width="1.1"/>
<circle cx="610.78" cy="420.1" r="2.0" fill="none" stroke="#bb5a2a" stroke-width="1.1"/>
<circle cx="616.55" cy="417.3" r="2.0" fill="none" stroke="#bb5a2a" stroke-width="1.1"/>
<circle cx="622.31" cy="413.9" r="2.0" fill="none" stroke="#bb5a2a" stroke-width="1.1"/>
<circle cx="628.08" cy="409.5" r="2.0" fill="none" stroke="#bb5a2a" stroke-width="1.1"/>
<circle cx="633.84" cy="407.1" r="2.0" fill="none" stroke="#bb5a2a" stroke-width="1.1"/>
<circle cx="639.61" cy="401.9" r="2.0" fill="none" stroke="#bb5a2a" stroke-width="1.1"/>
<circle cx="645.37" cy="399.1" r="2.0" fill="none" stroke="#bb5a2a" stroke-width="1.1"/>
<circle cx="651.14" cy="395.4" r="2.0" fill="none" stroke="#bb5a2a" stroke-width="1.1"/>
<circle cx="656.9" cy="390" r="2.0" fill="none" stroke="#bb5a2a" stroke-width="1.1"/>
<circle cx="662.67" cy="386.3" r="2.0" fill="none" stroke="#bb5a2a" stroke-width="1.1"/>
<circle cx="668.43" cy="382.7" r="2.0" fill="none" stroke="#bb5a2a" stroke-width="1.1"/>
<circle cx="674.2" cy="379.6" r="2.0" fill="none" stroke="#bb5a2a" stroke-width="1.1"/>
<text x="391.5" y="495.9" font-size="13" text-anchor="middle">10<tspan font-size="10" dy="-6.6">-1</tspan></text>
<text x="462.13" y="495.9" font-size="13" text-anchor="middle">10<tspan font-size="10" dy="-6.6">0</tspan></text>
<text x="532.76" y="495.9" font-size="13" text-anchor="middle">10<tspan font-size="10" dy="-6.6">1</tspan></text>
<text x="603.39" y="495.9" font-size="13" text-anchor="middle">10<tspan font-size="10" dy="-6.6">2</tspan></text>
<text x="674.02" y="495.9" font-size="13" text-anchor="middle">10<tspan font-size="10" dy="-6.6">3</tspan></text>
<text x="386.4" y="311.7" font-size="13" text-anchor="end">10<tspan font-size="10" dy="-6.6">-7</tspan></text>
<text x="386.4" y="396.6" font-size="13" text-anchor="end">10<tspan font-size="10" dy="-6.6">-8</tspan></text>
<text x="386.4" y="481.5" font-size="13" text-anchor="end">10<tspan font-size="10" dy="-6.6">-9</tspan></text>
<text x="533.2" y="509.2" font-size="14" text-anchor="middle"><tspan font-family="Liberation Serif" font-style="italic">τ</tspan> (s)</text>
<text transform="translate(355.6,371.6) rotate(-90)" font-size="13" text-anchor="middle">Allan deviation (m)</text>
<text x="345.6" y="266.3" font-size="16" text-anchor="start" font-weight="bold">(d)</text>
</svg></body></html>
